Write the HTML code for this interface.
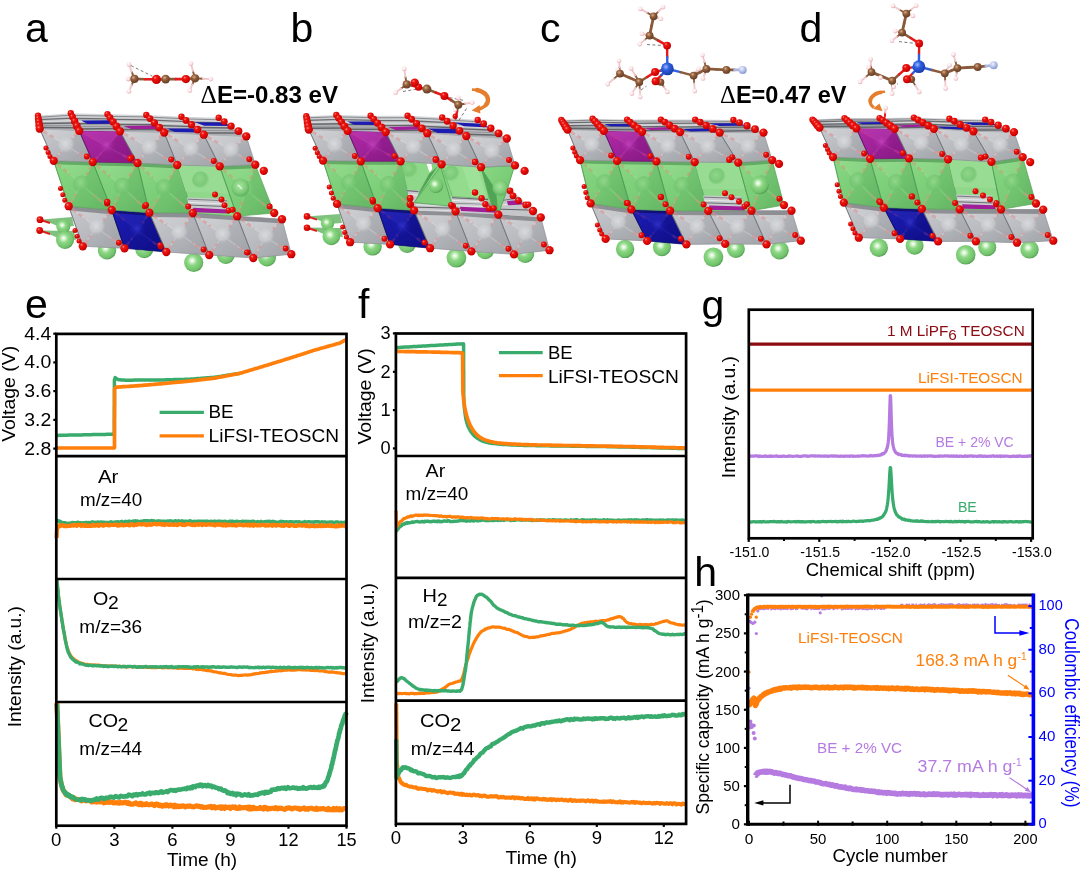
<!DOCTYPE html>
<html><head><meta charset="utf-8"><title>Figure</title>
<style>
html,body{margin:0;padding:0;background:#fff;}
svg{display:block;font-family:"Liberation Sans",Arial,sans-serif;}
</style></head><body>
<svg width="1080" height="871" viewBox="0 0 1080 871">
<rect width="1080" height="871" fill="#fff"/>
<defs>
<radialGradient id="gO" cx="0.36" cy="0.32" r="0.8"><stop offset="0" stop-color="#ff9088"/><stop offset="0.22" stop-color="#ee1812"/><stop offset="0.75" stop-color="#d00000"/><stop offset="1" stop-color="#900000"/></radialGradient>
<radialGradient id="gLi" cx="0.42" cy="0.4" r="0.66"><stop offset="0" stop-color="#ffffff"/><stop offset="0.13" stop-color="#dcf6d6"/><stop offset="0.38" stop-color="#8cd784"/><stop offset="0.78" stop-color="#70c16a"/><stop offset="1" stop-color="#448c47"/></radialGradient>
<radialGradient id="gLi2" cx="0.45" cy="0.42" r="0.62"><stop offset="0" stop-color="#a9e6a2"/><stop offset="0.6" stop-color="#7fcc79"/><stop offset="1" stop-color="#5aa95c"/></radialGradient>
<radialGradient id="gC" cx="0.38" cy="0.34" r="0.75"><stop offset="0" stop-color="#d9b08a"/><stop offset="0.35" stop-color="#95603d"/><stop offset="1" stop-color="#5a3520"/></radialGradient>
<radialGradient id="gH" cx="0.4" cy="0.36" r="0.75"><stop offset="0" stop-color="#ffffff"/><stop offset="0.5" stop-color="#fae0e3"/><stop offset="1" stop-color="#d8949e"/></radialGradient>
<radialGradient id="gSi" cx="0.38" cy="0.34" r="0.75"><stop offset="0" stop-color="#9db8ff"/><stop offset="0.35" stop-color="#2f5fe0"/><stop offset="1" stop-color="#1635a0"/></radialGradient>
<radialGradient id="gN" cx="0.38" cy="0.34" r="0.75"><stop offset="0" stop-color="#f0f4ff"/><stop offset="0.5" stop-color="#b4c0ea"/><stop offset="1" stop-color="#8090c8"/></radialGradient>
<radialGradient id="sG" cx="0.42" cy="0.4" r="0.6"><stop offset="0" stop-color="#d8dadd" stop-opacity="0.95"/><stop offset="0.65" stop-color="#c8cace" stop-opacity="0.85"/><stop offset="0.9" stop-color="#b6b8bd" stop-opacity="0.5"/><stop offset="1" stop-color="#b4b6bb" stop-opacity="0"/></radialGradient>
<radialGradient id="sGr" cx="0.42" cy="0.4" r="0.6"><stop offset="0" stop-color="#8fd68a" stop-opacity="0.9"/><stop offset="0.7" stop-color="#72c470" stop-opacity="0.75"/><stop offset="1" stop-color="#6cbc6a" stop-opacity="0"/></radialGradient>
<radialGradient id="sP" cx="0.42" cy="0.4" r="0.6"><stop offset="0" stop-color="#c040b8" stop-opacity="0.9"/><stop offset="1" stop-color="#a0209a" stop-opacity="0"/></radialGradient>
<radialGradient id="sB" cx="0.42" cy="0.4" r="0.6"><stop offset="0" stop-color="#3030c8" stop-opacity="0.9"/><stop offset="1" stop-color="#1414a0" stop-opacity="0"/></radialGradient>
<linearGradient id="lgG" x1="0" y1="0" x2="1" y2="1"><stop offset="0" stop-color="#c8cace"/><stop offset="0.5" stop-color="#b8babf"/><stop offset="1" stop-color="#a3a5ab"/></linearGradient>
<linearGradient id="lgGr" x1="0" y1="0" x2="1" y2="1"><stop offset="0" stop-color="#8ad984"/><stop offset="0.5" stop-color="#7bcd77"/><stop offset="1" stop-color="#66b866"/></linearGradient>
<linearGradient id="lgP" x1="0" y1="0" x2="1" y2="1"><stop offset="0" stop-color="#b02aa8"/><stop offset="1" stop-color="#8c1a88"/></linearGradient>
<linearGradient id="lgB" x1="0" y1="0" x2="1" y2="1"><stop offset="0" stop-color="#1c1cb4"/><stop offset="1" stop-color="#10108c"/></linearGradient>
<linearGradient id="lgTop" x1="0" y1="0" x2="0" y2="1"><stop offset="0" stop-color="#d6d7da"/><stop offset="1" stop-color="#a9abb0"/></linearGradient>
</defs>
<circle cx="107.0" cy="250.3" r="9.20" fill="url(#gLi)"/>
<circle cx="144.2" cy="249.2" r="9.00" fill="url(#gLi)"/>
<circle cx="193.7" cy="262.5" r="9.60" fill="url(#gLi)"/>
<circle cx="225.8" cy="255.0" r="9.00" fill="url(#gLi)"/>
<circle cx="267.0" cy="257.5" r="9.00" fill="url(#gLi)"/>
<polygon points="42.0,219.5 72.0,217.0 74.0,226.0 60.0,227.0" fill="#68b668" opacity="0.85"/>
<polygon points="41.0,230.5 74.0,231.0 76.0,240.0 58.0,238.0" fill="#68b668" opacity="0.85"/>
<circle cx="63.3" cy="226.5" r="7.00" fill="url(#gLi)"/>
<circle cx="65.0" cy="240.0" r="9.00" fill="url(#gLi)"/>
<line x1="40.0" y1="219.7" x2="50.0" y2="223.0" stroke="#e02020" stroke-width="2.0" stroke-linecap="butt"/>
<line x1="39.7" y1="230.5" x2="50.0" y2="234.0" stroke="#e02020" stroke-width="2.0" stroke-linecap="butt"/>
<circle cx="40.0" cy="219.7" r="3.40" fill="url(#gO)"/>
<circle cx="39.7" cy="230.5" r="3.40" fill="url(#gO)"/>
<polygon points="68.7,206.2 111.7,210.0 124.5,248.3 82.8,246.3" fill="url(#lgG)" stroke="#8e9096" stroke-width="0.7" stroke-linejoin="round"/>
<line x1="68.7" y1="206.2" x2="82.8" y2="246.3" stroke="#505256" stroke-width="0.9" opacity="0.6" stroke-linecap="butt"/>
<polygon points="111.7,210.0 124.5,248.3 96.9,227.7" fill="#8f9197" opacity="0.22"/>
<polygon points="124.5,248.3 82.8,246.3 96.9,227.7" fill="#8f9197" opacity="0.12"/>
<polygon points="68.7,206.2 111.7,210.0 96.9,227.7" fill="#ffffff" opacity="0.16"/>
<line x1="68.7" y1="206.2" x2="96.9" y2="227.7" stroke="#e6e7ea" stroke-width="1.4" opacity="0.3" stroke-linecap="butt"/>
<line x1="111.7" y1="210.0" x2="96.9" y2="227.7" stroke="#e6e7ea" stroke-width="1.4" opacity="0.3" stroke-linecap="butt"/>
<line x1="124.5" y1="248.3" x2="96.9" y2="227.7" stroke="#e6e7ea" stroke-width="1.4" opacity="0.3" stroke-linecap="butt"/>
<line x1="82.8" y1="246.3" x2="96.9" y2="227.7" stroke="#e6e7ea" stroke-width="1.4" opacity="0.3" stroke-linecap="butt"/>
<polygon points="68.7,206.2 111.7,210.0 113.4,214.4 70.4,210.6" fill="#66686c" opacity="0.6"/>
<line x1="72.7" y1="209.2" x2="85.1" y2="218.7" stroke="#dc8c8c" stroke-width="2.6" stroke-dasharray="4.6 2.8" opacity="0.55" stroke-linecap="butt"/>
<line x1="109.6" y1="212.5" x2="103.1" y2="220.3" stroke="#dc8c8c" stroke-width="2.6" stroke-dasharray="4.6 2.8" opacity="0.55" stroke-linecap="butt"/>
<line x1="120.6" y1="245.4" x2="108.5" y2="236.4" stroke="#dc8c8c" stroke-width="2.6" stroke-dasharray="4.6 2.8" opacity="0.55" stroke-linecap="butt"/>
<line x1="84.8" y1="243.7" x2="91.0" y2="235.5" stroke="#dc8c8c" stroke-width="2.6" stroke-dasharray="4.6 2.8" opacity="0.55" stroke-linecap="butt"/>
<circle cx="97.2" cy="227.2" r="8.30" fill="url(#sG)"/>
<polygon points="111.7,210.0 149.4,212.7 166.3,252.0 124.5,248.3" fill="url(#lgB)" stroke="#0a0a70" stroke-width="0.7" stroke-linejoin="round"/>
<line x1="111.7" y1="210.0" x2="124.5" y2="248.3" stroke="#050550" stroke-width="0.9" opacity="0.6" stroke-linecap="butt"/>
<polygon points="149.4,212.7 166.3,252.0 138.0,230.8" fill="#08086a" opacity="0.22"/>
<polygon points="166.3,252.0 124.5,248.3 138.0,230.8" fill="#08086a" opacity="0.12"/>
<polygon points="111.7,210.0 149.4,212.7 138.0,230.8" fill="#4848d8" opacity="0.16"/>
<line x1="111.7" y1="210.0" x2="138.0" y2="230.8" stroke="#3434c0" stroke-width="1.4" opacity="0.3" stroke-linecap="butt"/>
<line x1="149.4" y1="212.7" x2="138.0" y2="230.8" stroke="#3434c0" stroke-width="1.4" opacity="0.3" stroke-linecap="butt"/>
<line x1="166.3" y1="252.0" x2="138.0" y2="230.8" stroke="#3434c0" stroke-width="1.4" opacity="0.3" stroke-linecap="butt"/>
<line x1="124.5" y1="248.3" x2="138.0" y2="230.8" stroke="#3434c0" stroke-width="1.4" opacity="0.3" stroke-linecap="butt"/>
<polygon points="111.7,210.0 149.4,212.7 150.5,215.7 112.8,213.0" fill="#060650" opacity="0.6"/>
<line x1="115.4" y1="212.9" x2="126.9" y2="222.0" stroke="#5a2890" stroke-width="2.6" stroke-dasharray="4.6 2.8" opacity="0.55" stroke-linecap="butt"/>
<line x1="147.8" y1="215.2" x2="142.8" y2="223.2" stroke="#5a2890" stroke-width="2.6" stroke-dasharray="4.6 2.8" opacity="0.55" stroke-linecap="butt"/>
<line x1="162.3" y1="249.0" x2="149.9" y2="239.7" stroke="#5a2890" stroke-width="2.6" stroke-dasharray="4.6 2.8" opacity="0.55" stroke-linecap="butt"/>
<line x1="126.4" y1="245.8" x2="132.3" y2="238.1" stroke="#5a2890" stroke-width="2.6" stroke-dasharray="4.6 2.8" opacity="0.55" stroke-linecap="butt"/>
<circle cx="138.3" cy="230.2" r="8.30" fill="url(#sB)"/>
<polygon points="149.4,212.7 192.8,213.0 209.2,255.0 166.3,252.0" fill="url(#lgG)" stroke="#8e9096" stroke-width="0.7" stroke-linejoin="round"/>
<line x1="149.4" y1="212.7" x2="166.3" y2="252.0" stroke="#505256" stroke-width="0.9" opacity="0.6" stroke-linecap="butt"/>
<polygon points="192.8,213.0 209.2,255.0 179.4,233.2" fill="#8f9197" opacity="0.22"/>
<polygon points="209.2,255.0 166.3,252.0 179.4,233.2" fill="#8f9197" opacity="0.12"/>
<polygon points="149.4,212.7 192.8,213.0 179.4,233.2" fill="#ffffff" opacity="0.16"/>
<line x1="149.4" y1="212.7" x2="179.4" y2="233.2" stroke="#e6e7ea" stroke-width="1.4" opacity="0.3" stroke-linecap="butt"/>
<line x1="192.8" y1="213.0" x2="179.4" y2="233.2" stroke="#e6e7ea" stroke-width="1.4" opacity="0.3" stroke-linecap="butt"/>
<line x1="209.2" y1="255.0" x2="179.4" y2="233.2" stroke="#e6e7ea" stroke-width="1.4" opacity="0.3" stroke-linecap="butt"/>
<line x1="166.3" y1="252.0" x2="179.4" y2="233.2" stroke="#e6e7ea" stroke-width="1.4" opacity="0.3" stroke-linecap="butt"/>
<polygon points="149.4,212.7 192.8,213.0 194.5,217.4 151.1,217.1" fill="#66686c" opacity="0.6"/>
<line x1="153.6" y1="215.6" x2="166.8" y2="224.6" stroke="#dc8c8c" stroke-width="2.6" stroke-dasharray="4.6 2.8" opacity="0.55" stroke-linecap="butt"/>
<line x1="190.9" y1="215.8" x2="185.0" y2="224.7" stroke="#dc8c8c" stroke-width="2.6" stroke-dasharray="4.6 2.8" opacity="0.55" stroke-linecap="butt"/>
<line x1="205.0" y1="251.9" x2="191.9" y2="242.3" stroke="#dc8c8c" stroke-width="2.6" stroke-dasharray="4.6 2.8" opacity="0.55" stroke-linecap="butt"/>
<line x1="168.1" y1="249.4" x2="173.9" y2="241.1" stroke="#dc8c8c" stroke-width="2.6" stroke-dasharray="4.6 2.8" opacity="0.55" stroke-linecap="butt"/>
<circle cx="179.7" cy="232.7" r="8.30" fill="url(#sG)"/>
<polygon points="192.8,213.0 237.2,216.2 253.3,258.0 209.2,255.0" fill="url(#lgG)" stroke="#8e9096" stroke-width="0.7" stroke-linejoin="round"/>
<line x1="192.8" y1="213.0" x2="209.2" y2="255.0" stroke="#505256" stroke-width="0.9" opacity="0.6" stroke-linecap="butt"/>
<polygon points="237.2,216.2 253.3,258.0 223.1,235.6" fill="#8f9197" opacity="0.22"/>
<polygon points="253.3,258.0 209.2,255.0 223.1,235.6" fill="#8f9197" opacity="0.12"/>
<polygon points="192.8,213.0 237.2,216.2 223.1,235.6" fill="#ffffff" opacity="0.16"/>
<line x1="192.8" y1="213.0" x2="223.1" y2="235.6" stroke="#e6e7ea" stroke-width="1.4" opacity="0.3" stroke-linecap="butt"/>
<line x1="237.2" y1="216.2" x2="223.1" y2="235.6" stroke="#e6e7ea" stroke-width="1.4" opacity="0.3" stroke-linecap="butt"/>
<line x1="253.3" y1="258.0" x2="223.1" y2="235.6" stroke="#e6e7ea" stroke-width="1.4" opacity="0.3" stroke-linecap="butt"/>
<line x1="209.2" y1="255.0" x2="223.1" y2="235.6" stroke="#e6e7ea" stroke-width="1.4" opacity="0.3" stroke-linecap="butt"/>
<polygon points="192.8,213.0 237.2,216.2 238.9,220.6 194.5,217.4" fill="#66686c" opacity="0.6"/>
<line x1="197.0" y1="216.2" x2="210.4" y2="226.1" stroke="#dc8c8c" stroke-width="2.6" stroke-dasharray="4.6 2.8" opacity="0.55" stroke-linecap="butt"/>
<line x1="235.2" y1="218.9" x2="229.0" y2="227.4" stroke="#dc8c8c" stroke-width="2.6" stroke-dasharray="4.6 2.8" opacity="0.55" stroke-linecap="butt"/>
<line x1="249.1" y1="254.9" x2="235.8" y2="245.0" stroke="#dc8c8c" stroke-width="2.6" stroke-dasharray="4.6 2.8" opacity="0.55" stroke-linecap="butt"/>
<line x1="211.1" y1="252.3" x2="217.3" y2="243.7" stroke="#dc8c8c" stroke-width="2.6" stroke-dasharray="4.6 2.8" opacity="0.55" stroke-linecap="butt"/>
<circle cx="223.4" cy="235.1" r="8.30" fill="url(#sG)"/>
<polygon points="237.2,216.2 282.0,219.2 291.3,254.2 253.3,258.0" fill="url(#lgG)" stroke="#8e9096" stroke-width="0.7" stroke-linejoin="round"/>
<line x1="237.2" y1="216.2" x2="253.3" y2="258.0" stroke="#505256" stroke-width="0.9" opacity="0.6" stroke-linecap="butt"/>
<polygon points="282.0,219.2 291.3,254.2 266.0,236.9" fill="#8f9197" opacity="0.22"/>
<polygon points="291.3,254.2 253.3,258.0 266.0,236.9" fill="#8f9197" opacity="0.12"/>
<polygon points="237.2,216.2 282.0,219.2 266.0,236.9" fill="#ffffff" opacity="0.16"/>
<line x1="237.2" y1="216.2" x2="266.0" y2="236.9" stroke="#e6e7ea" stroke-width="1.4" opacity="0.3" stroke-linecap="butt"/>
<line x1="282.0" y1="219.2" x2="266.0" y2="236.9" stroke="#e6e7ea" stroke-width="1.4" opacity="0.3" stroke-linecap="butt"/>
<line x1="291.3" y1="254.2" x2="266.0" y2="236.9" stroke="#e6e7ea" stroke-width="1.4" opacity="0.3" stroke-linecap="butt"/>
<line x1="253.3" y1="258.0" x2="266.0" y2="236.9" stroke="#e6e7ea" stroke-width="1.4" opacity="0.3" stroke-linecap="butt"/>
<polygon points="237.2,216.2 282.0,219.2 283.7,223.6 238.9,220.6" fill="#66686c" opacity="0.6"/>
<line x1="241.2" y1="219.1" x2="253.9" y2="228.2" stroke="#dc8c8c" stroke-width="2.6" stroke-dasharray="4.6 2.8" opacity="0.55" stroke-linecap="butt"/>
<line x1="279.8" y1="221.7" x2="272.7" y2="229.5" stroke="#dc8c8c" stroke-width="2.6" stroke-dasharray="4.6 2.8" opacity="0.55" stroke-linecap="butt"/>
<line x1="287.8" y1="251.8" x2="276.6" y2="244.2" stroke="#dc8c8c" stroke-width="2.6" stroke-dasharray="4.6 2.8" opacity="0.55" stroke-linecap="butt"/>
<line x1="255.1" y1="255.0" x2="260.6" y2="245.8" stroke="#dc8c8c" stroke-width="2.6" stroke-dasharray="4.6 2.8" opacity="0.55" stroke-linecap="butt"/>
<circle cx="266.3" cy="236.4" r="8.30" fill="url(#sG)"/>
<polygon points="53.7,160.8 92.8,162.0 111.7,210.0 68.7,206.2" fill="url(#lgGr)" stroke="#5aa85c" stroke-width="0.7" stroke-linejoin="round"/>
<line x1="53.7" y1="160.8" x2="68.7" y2="206.2" stroke="#3f8a46" stroke-width="0.9" opacity="0.6" stroke-linecap="butt"/>
<polygon points="92.8,162.0 111.7,210.0 81.7,184.8" fill="#4f9f55" opacity="0.22"/>
<polygon points="111.7,210.0 68.7,206.2 81.7,184.8" fill="#4f9f55" opacity="0.12"/>
<polygon points="53.7,160.8 92.8,162.0 81.7,184.8" fill="#c8f5c2" opacity="0.16"/>
<line x1="53.7" y1="160.8" x2="81.7" y2="184.8" stroke="#a6e6a0" stroke-width="1.4" opacity="0.3" stroke-linecap="butt"/>
<line x1="92.8" y1="162.0" x2="81.7" y2="184.8" stroke="#a6e6a0" stroke-width="1.4" opacity="0.3" stroke-linecap="butt"/>
<line x1="111.7" y1="210.0" x2="81.7" y2="184.8" stroke="#a6e6a0" stroke-width="1.4" opacity="0.3" stroke-linecap="butt"/>
<line x1="68.7" y1="206.2" x2="81.7" y2="184.8" stroke="#a6e6a0" stroke-width="1.4" opacity="0.3" stroke-linecap="butt"/>
<polygon points="53.7,160.8 92.8,162.0 94.1,165.4 55.0,164.2" fill="#478c4e" opacity="0.6"/>
<line x1="57.6" y1="164.2" x2="70.0" y2="174.7" stroke="#c99a74" stroke-width="2.6" stroke-dasharray="4.6 2.8" opacity="0.55" stroke-linecap="butt"/>
<line x1="91.2" y1="165.2" x2="86.4" y2="175.2" stroke="#c99a74" stroke-width="2.6" stroke-dasharray="4.6 2.8" opacity="0.55" stroke-linecap="butt"/>
<line x1="107.5" y1="206.5" x2="94.3" y2="195.4" stroke="#c99a74" stroke-width="2.6" stroke-dasharray="4.6 2.8" opacity="0.55" stroke-linecap="butt"/>
<line x1="70.5" y1="203.2" x2="76.3" y2="193.8" stroke="#c99a74" stroke-width="2.6" stroke-dasharray="4.6 2.8" opacity="0.55" stroke-linecap="butt"/>
<circle cx="82.0" cy="184.2" r="9.00" fill="url(#sGr)"/>
<polygon points="92.8,162.0 137.5,163.0 149.4,212.7 111.7,210.0" fill="url(#lgGr)" stroke="#5aa85c" stroke-width="0.7" stroke-linejoin="round"/>
<line x1="92.8" y1="162.0" x2="111.7" y2="210.0" stroke="#3f8a46" stroke-width="0.9" opacity="0.6" stroke-linecap="butt"/>
<polygon points="137.5,163.0 149.4,212.7 122.8,186.9" fill="#4f9f55" opacity="0.22"/>
<polygon points="149.4,212.7 111.7,210.0 122.8,186.9" fill="#4f9f55" opacity="0.12"/>
<polygon points="92.8,162.0 137.5,163.0 122.8,186.9" fill="#c8f5c2" opacity="0.16"/>
<line x1="92.8" y1="162.0" x2="122.8" y2="186.9" stroke="#a6e6a0" stroke-width="1.4" opacity="0.3" stroke-linecap="butt"/>
<line x1="137.5" y1="163.0" x2="122.8" y2="186.9" stroke="#a6e6a0" stroke-width="1.4" opacity="0.3" stroke-linecap="butt"/>
<line x1="149.4" y1="212.7" x2="122.8" y2="186.9" stroke="#a6e6a0" stroke-width="1.4" opacity="0.3" stroke-linecap="butt"/>
<line x1="111.7" y1="210.0" x2="122.8" y2="186.9" stroke="#a6e6a0" stroke-width="1.4" opacity="0.3" stroke-linecap="butt"/>
<polygon points="92.8,162.0 137.5,163.0 138.8,166.4 94.1,165.4" fill="#478c4e" opacity="0.6"/>
<line x1="97.0" y1="165.5" x2="110.2" y2="176.5" stroke="#c99a74" stroke-width="2.6" stroke-dasharray="4.6 2.8" opacity="0.55" stroke-linecap="butt"/>
<line x1="135.4" y1="166.3" x2="129.0" y2="176.9" stroke="#c99a74" stroke-width="2.6" stroke-dasharray="4.6 2.8" opacity="0.55" stroke-linecap="butt"/>
<line x1="145.7" y1="209.1" x2="134.0" y2="197.8" stroke="#c99a74" stroke-width="2.6" stroke-dasharray="4.6 2.8" opacity="0.55" stroke-linecap="butt"/>
<line x1="113.3" y1="206.8" x2="118.2" y2="196.6" stroke="#c99a74" stroke-width="2.6" stroke-dasharray="4.6 2.8" opacity="0.55" stroke-linecap="butt"/>
<circle cx="123.1" cy="186.4" r="9.00" fill="url(#sGr)"/>
<polygon points="137.5,163.0 177.2,165.0 192.8,213.0 149.4,212.7" fill="url(#lgGr)" stroke="#5aa85c" stroke-width="0.7" stroke-linejoin="round"/>
<line x1="137.5" y1="163.0" x2="149.4" y2="212.7" stroke="#3f8a46" stroke-width="0.9" opacity="0.6" stroke-linecap="butt"/>
<polygon points="177.2,165.0 192.8,213.0 164.2,188.4" fill="#4f9f55" opacity="0.22"/>
<polygon points="192.8,213.0 149.4,212.7 164.2,188.4" fill="#4f9f55" opacity="0.12"/>
<polygon points="137.5,163.0 177.2,165.0 164.2,188.4" fill="#c8f5c2" opacity="0.16"/>
<line x1="137.5" y1="163.0" x2="164.2" y2="188.4" stroke="#a6e6a0" stroke-width="1.4" opacity="0.3" stroke-linecap="butt"/>
<line x1="177.2" y1="165.0" x2="164.2" y2="188.4" stroke="#a6e6a0" stroke-width="1.4" opacity="0.3" stroke-linecap="butt"/>
<line x1="192.8" y1="213.0" x2="164.2" y2="188.4" stroke="#a6e6a0" stroke-width="1.4" opacity="0.3" stroke-linecap="butt"/>
<line x1="149.4" y1="212.7" x2="164.2" y2="188.4" stroke="#a6e6a0" stroke-width="1.4" opacity="0.3" stroke-linecap="butt"/>
<polygon points="137.5,163.0 177.2,165.0 178.5,168.4 138.8,166.4" fill="#478c4e" opacity="0.6"/>
<line x1="141.2" y1="166.6" x2="153.0" y2="177.7" stroke="#c99a74" stroke-width="2.6" stroke-dasharray="4.6 2.8" opacity="0.55" stroke-linecap="butt"/>
<line x1="175.4" y1="168.3" x2="169.7" y2="178.6" stroke="#c99a74" stroke-width="2.6" stroke-dasharray="4.6 2.8" opacity="0.55" stroke-linecap="butt"/>
<line x1="188.8" y1="209.6" x2="176.2" y2="198.7" stroke="#c99a74" stroke-width="2.6" stroke-dasharray="4.6 2.8" opacity="0.55" stroke-linecap="butt"/>
<line x1="151.5" y1="209.3" x2="158.0" y2="198.6" stroke="#c99a74" stroke-width="2.6" stroke-dasharray="4.6 2.8" opacity="0.55" stroke-linecap="butt"/>
<circle cx="164.5" cy="187.9" r="9.00" fill="url(#sGr)"/>
<polygon points="177.2,165.0 219.7,166.3 237.2,216.2 192.8,213.0" fill="#8fd88a" stroke="#5aa85c" stroke-width="0.6" stroke-linejoin="round"/>
<polygon points="177.2,165.0 219.7,166.3 229.3,193.7 185.8,191.4" fill="#97dc92"/>
<circle cx="200.7" cy="180.1" r="8.50" fill="url(#sGr)"/>
<polygon points="219.7,166.3 255.3,164.7 274.2,213.0 237.2,216.2" fill="url(#lgGr)" stroke="#5aa85c" stroke-width="0.7" stroke-linejoin="round"/>
<line x1="219.7" y1="166.3" x2="237.2" y2="216.2" stroke="#3f8a46" stroke-width="0.9" opacity="0.6" stroke-linecap="butt"/>
<polygon points="255.3,164.7 274.2,213.0 246.6,190.1" fill="#4f9f55" opacity="0.22"/>
<polygon points="274.2,213.0 237.2,216.2 246.6,190.1" fill="#4f9f55" opacity="0.12"/>
<polygon points="219.7,166.3 255.3,164.7 246.6,190.1" fill="#c8f5c2" opacity="0.16"/>
<line x1="219.7" y1="166.3" x2="246.6" y2="190.1" stroke="#a6e6a0" stroke-width="1.4" opacity="0.3" stroke-linecap="butt"/>
<line x1="255.3" y1="164.7" x2="246.6" y2="190.1" stroke="#a6e6a0" stroke-width="1.4" opacity="0.3" stroke-linecap="butt"/>
<line x1="274.2" y1="213.0" x2="246.6" y2="190.1" stroke="#a6e6a0" stroke-width="1.4" opacity="0.3" stroke-linecap="butt"/>
<line x1="237.2" y1="216.2" x2="246.6" y2="190.1" stroke="#a6e6a0" stroke-width="1.4" opacity="0.3" stroke-linecap="butt"/>
<polygon points="219.7,166.3 255.3,164.7 256.6,168.1 221.0,169.7" fill="#478c4e" opacity="0.6"/>
<line x1="223.5" y1="169.6" x2="235.3" y2="180.1" stroke="#c99a74" stroke-width="2.6" stroke-dasharray="4.6 2.8" opacity="0.55" stroke-linecap="butt"/>
<line x1="254.1" y1="168.2" x2="250.3" y2="179.4" stroke="#c99a74" stroke-width="2.6" stroke-dasharray="4.6 2.8" opacity="0.55" stroke-linecap="butt"/>
<line x1="270.3" y1="209.8" x2="258.2" y2="199.7" stroke="#c99a74" stroke-width="2.6" stroke-dasharray="4.6 2.8" opacity="0.55" stroke-linecap="butt"/>
<line x1="238.5" y1="212.5" x2="242.7" y2="201.0" stroke="#c99a74" stroke-width="2.6" stroke-dasharray="4.6 2.8" opacity="0.55" stroke-linecap="butt"/>
<circle cx="246.9" cy="189.6" r="9.00" fill="url(#sGr)"/>
<polygon points="187.0,197.5 226.0,199.0 229.0,212.5 190.0,211.5" fill="#c9cbcf"/>
<line x1="188.0" y1="199.2" x2="227.0" y2="200.8" stroke="#7a7c80" stroke-width="1.0" stroke-linecap="butt"/>
<line x1="188.0" y1="202.4" x2="227.0" y2="204.0" stroke="#e8e9eb" stroke-width="1.0" stroke-linecap="butt"/>
<line x1="188.0" y1="205.0" x2="227.0" y2="206.6" stroke="#6a6c70" stroke-width="1.0" stroke-linecap="butt"/>
<polygon points="193.0,207.8 227.0,209.6 229.0,213.4 194.0,212.2" fill="#a01e98"/>
<circle cx="215.0" cy="194.5" r="3.00" fill="url(#gO)"/>
<circle cx="221.5" cy="199.5" r="3.00" fill="url(#gO)"/>
<circle cx="224.5" cy="205.2" r="3.00" fill="url(#gO)"/>
<circle cx="228.5" cy="210.5" r="3.00" fill="url(#gO)"/>
<polygon points="39.7,128.7 79.2,130.8 92.8,162.0 53.7,160.8" fill="url(#lgG)" stroke="#8e9096" stroke-width="0.7" stroke-linejoin="round"/>
<line x1="39.7" y1="128.7" x2="53.7" y2="160.8" stroke="#505256" stroke-width="0.9" opacity="0.6" stroke-linecap="butt"/>
<polygon points="79.2,130.8 92.8,162.0 66.3,145.6" fill="#8f9197" opacity="0.22"/>
<polygon points="92.8,162.0 53.7,160.8 66.3,145.6" fill="#8f9197" opacity="0.12"/>
<polygon points="39.7,128.7 79.2,130.8 66.3,145.6" fill="#ffffff" opacity="0.16"/>
<line x1="39.7" y1="128.7" x2="66.3" y2="145.6" stroke="#e6e7ea" stroke-width="1.4" opacity="0.3" stroke-linecap="butt"/>
<line x1="79.2" y1="130.8" x2="66.3" y2="145.6" stroke="#e6e7ea" stroke-width="1.4" opacity="0.3" stroke-linecap="butt"/>
<line x1="92.8" y1="162.0" x2="66.3" y2="145.6" stroke="#e6e7ea" stroke-width="1.4" opacity="0.3" stroke-linecap="butt"/>
<line x1="53.7" y1="160.8" x2="66.3" y2="145.6" stroke="#e6e7ea" stroke-width="1.4" opacity="0.3" stroke-linecap="butt"/>
<line x1="43.4" y1="131.1" x2="55.2" y2="138.5" stroke="#dc8c8c" stroke-width="2.6" stroke-dasharray="4.6 2.8" opacity="0.55" stroke-linecap="butt"/>
<line x1="77.4" y1="132.9" x2="71.7" y2="139.4" stroke="#dc8c8c" stroke-width="2.6" stroke-dasharray="4.6 2.8" opacity="0.55" stroke-linecap="butt"/>
<line x1="89.1" y1="159.7" x2="77.5" y2="152.5" stroke="#dc8c8c" stroke-width="2.6" stroke-dasharray="4.6 2.8" opacity="0.55" stroke-linecap="butt"/>
<line x1="55.5" y1="158.7" x2="61.0" y2="152.0" stroke="#dc8c8c" stroke-width="2.6" stroke-dasharray="4.6 2.8" opacity="0.55" stroke-linecap="butt"/>
<circle cx="66.6" cy="145.1" r="8.30" fill="url(#sG)"/>
<polygon points="79.2,130.8 120.0,131.3 137.5,163.0 92.8,162.0" fill="url(#lgP)" stroke="#701070" stroke-width="0.7" stroke-linejoin="round"/>
<line x1="79.2" y1="130.8" x2="92.8" y2="162.0" stroke="#500a50" stroke-width="0.9" opacity="0.6" stroke-linecap="butt"/>
<polygon points="120.0,131.3 137.5,163.0 107.4,146.8" fill="#6c0f6c" opacity="0.22"/>
<polygon points="137.5,163.0 92.8,162.0 107.4,146.8" fill="#6c0f6c" opacity="0.12"/>
<polygon points="79.2,130.8 120.0,131.3 107.4,146.8" fill="#e070d8" opacity="0.16"/>
<line x1="79.2" y1="130.8" x2="107.4" y2="146.8" stroke="#c050b8" stroke-width="1.4" opacity="0.3" stroke-linecap="butt"/>
<line x1="120.0" y1="131.3" x2="107.4" y2="146.8" stroke="#c050b8" stroke-width="1.4" opacity="0.3" stroke-linecap="butt"/>
<line x1="137.5" y1="163.0" x2="107.4" y2="146.8" stroke="#c050b8" stroke-width="1.4" opacity="0.3" stroke-linecap="butt"/>
<line x1="92.8" y1="162.0" x2="107.4" y2="146.8" stroke="#c050b8" stroke-width="1.4" opacity="0.3" stroke-linecap="butt"/>
<line x1="83.1" y1="133.0" x2="95.5" y2="140.1" stroke="#c2308a" stroke-width="2.6" stroke-dasharray="4.6 2.8" opacity="0.55" stroke-linecap="butt"/>
<line x1="118.2" y1="133.5" x2="112.7" y2="140.3" stroke="#c2308a" stroke-width="2.6" stroke-dasharray="4.6 2.8" opacity="0.55" stroke-linecap="butt"/>
<line x1="133.3" y1="160.7" x2="120.0" y2="153.6" stroke="#c2308a" stroke-width="2.6" stroke-dasharray="4.6 2.8" opacity="0.55" stroke-linecap="butt"/>
<line x1="94.8" y1="159.9" x2="101.3" y2="153.2" stroke="#c2308a" stroke-width="2.6" stroke-dasharray="4.6 2.8" opacity="0.55" stroke-linecap="butt"/>
<circle cx="107.7" cy="146.3" r="8.30" fill="url(#sP)"/>
<polygon points="120.0,131.3 164.2,132.5 177.2,165.0 137.5,163.0" fill="url(#lgG)" stroke="#8e9096" stroke-width="0.7" stroke-linejoin="round"/>
<line x1="120.0" y1="131.3" x2="137.5" y2="163.0" stroke="#505256" stroke-width="0.9" opacity="0.6" stroke-linecap="butt"/>
<polygon points="164.2,132.5 177.2,165.0 149.7,147.9" fill="#8f9197" opacity="0.22"/>
<polygon points="177.2,165.0 137.5,163.0 149.7,147.9" fill="#8f9197" opacity="0.12"/>
<polygon points="120.0,131.3 164.2,132.5 149.7,147.9" fill="#ffffff" opacity="0.16"/>
<line x1="120.0" y1="131.3" x2="149.7" y2="147.9" stroke="#e6e7ea" stroke-width="1.4" opacity="0.3" stroke-linecap="butt"/>
<line x1="164.2" y1="132.5" x2="149.7" y2="147.9" stroke="#e6e7ea" stroke-width="1.4" opacity="0.3" stroke-linecap="butt"/>
<line x1="177.2" y1="165.0" x2="149.7" y2="147.9" stroke="#e6e7ea" stroke-width="1.4" opacity="0.3" stroke-linecap="butt"/>
<line x1="137.5" y1="163.0" x2="149.7" y2="147.9" stroke="#e6e7ea" stroke-width="1.4" opacity="0.3" stroke-linecap="butt"/>
<line x1="124.2" y1="133.6" x2="137.2" y2="141.0" stroke="#dc8c8c" stroke-width="2.6" stroke-dasharray="4.6 2.8" opacity="0.55" stroke-linecap="butt"/>
<line x1="162.2" y1="134.7" x2="155.8" y2="141.5" stroke="#dc8c8c" stroke-width="2.6" stroke-dasharray="4.6 2.8" opacity="0.55" stroke-linecap="butt"/>
<line x1="173.4" y1="162.6" x2="161.3" y2="155.1" stroke="#dc8c8c" stroke-width="2.6" stroke-dasharray="4.6 2.8" opacity="0.55" stroke-linecap="butt"/>
<line x1="139.2" y1="160.9" x2="144.6" y2="154.3" stroke="#dc8c8c" stroke-width="2.6" stroke-dasharray="4.6 2.8" opacity="0.55" stroke-linecap="butt"/>
<circle cx="150.0" cy="147.4" r="8.30" fill="url(#sG)"/>
<polygon points="164.2,132.5 203.8,134.7 219.7,166.3 177.2,165.0" fill="url(#lgG)" stroke="#8e9096" stroke-width="0.7" stroke-linejoin="round"/>
<line x1="164.2" y1="132.5" x2="177.2" y2="165.0" stroke="#505256" stroke-width="0.9" opacity="0.6" stroke-linecap="butt"/>
<polygon points="203.8,134.7 219.7,166.3 191.2,149.6" fill="#8f9197" opacity="0.22"/>
<polygon points="219.7,166.3 177.2,165.0 191.2,149.6" fill="#8f9197" opacity="0.12"/>
<polygon points="164.2,132.5 203.8,134.7 191.2,149.6" fill="#ffffff" opacity="0.16"/>
<line x1="164.2" y1="132.5" x2="191.2" y2="149.6" stroke="#e6e7ea" stroke-width="1.4" opacity="0.3" stroke-linecap="butt"/>
<line x1="203.8" y1="134.7" x2="191.2" y2="149.6" stroke="#e6e7ea" stroke-width="1.4" opacity="0.3" stroke-linecap="butt"/>
<line x1="219.7" y1="166.3" x2="191.2" y2="149.6" stroke="#e6e7ea" stroke-width="1.4" opacity="0.3" stroke-linecap="butt"/>
<line x1="177.2" y1="165.0" x2="191.2" y2="149.6" stroke="#e6e7ea" stroke-width="1.4" opacity="0.3" stroke-linecap="butt"/>
<line x1="168.0" y1="134.9" x2="179.9" y2="142.4" stroke="#dc8c8c" stroke-width="2.6" stroke-dasharray="4.6 2.8" opacity="0.55" stroke-linecap="butt"/>
<line x1="202.0" y1="136.8" x2="196.5" y2="143.4" stroke="#dc8c8c" stroke-width="2.6" stroke-dasharray="4.6 2.8" opacity="0.55" stroke-linecap="butt"/>
<line x1="215.7" y1="164.0" x2="203.2" y2="156.6" stroke="#dc8c8c" stroke-width="2.6" stroke-dasharray="4.6 2.8" opacity="0.55" stroke-linecap="butt"/>
<line x1="179.2" y1="162.8" x2="185.3" y2="156.1" stroke="#dc8c8c" stroke-width="2.6" stroke-dasharray="4.6 2.8" opacity="0.55" stroke-linecap="butt"/>
<circle cx="191.5" cy="149.1" r="8.30" fill="url(#sG)"/>
<polygon points="203.8,134.7 246.3,136.3 255.3,164.7 219.7,166.3" fill="url(#lgG)" stroke="#8e9096" stroke-width="0.7" stroke-linejoin="round"/>
<line x1="203.8" y1="134.7" x2="219.7" y2="166.3" stroke="#505256" stroke-width="0.9" opacity="0.6" stroke-linecap="butt"/>
<polygon points="246.3,136.3 255.3,164.7 231.3,150.5" fill="#8f9197" opacity="0.22"/>
<polygon points="255.3,164.7 219.7,166.3 231.3,150.5" fill="#8f9197" opacity="0.12"/>
<polygon points="203.8,134.7 246.3,136.3 231.3,150.5" fill="#ffffff" opacity="0.16"/>
<line x1="203.8" y1="134.7" x2="231.3" y2="150.5" stroke="#e6e7ea" stroke-width="1.4" opacity="0.3" stroke-linecap="butt"/>
<line x1="246.3" y1="136.3" x2="231.3" y2="150.5" stroke="#e6e7ea" stroke-width="1.4" opacity="0.3" stroke-linecap="butt"/>
<line x1="255.3" y1="164.7" x2="231.3" y2="150.5" stroke="#e6e7ea" stroke-width="1.4" opacity="0.3" stroke-linecap="butt"/>
<line x1="219.7" y1="166.3" x2="231.3" y2="150.5" stroke="#e6e7ea" stroke-width="1.4" opacity="0.3" stroke-linecap="butt"/>
<line x1="207.6" y1="136.9" x2="219.7" y2="143.9" stroke="#dc8c8c" stroke-width="2.6" stroke-dasharray="4.6 2.8" opacity="0.55" stroke-linecap="butt"/>
<line x1="244.2" y1="138.3" x2="237.6" y2="144.5" stroke="#dc8c8c" stroke-width="2.6" stroke-dasharray="4.6 2.8" opacity="0.55" stroke-linecap="butt"/>
<line x1="251.9" y1="162.7" x2="241.4" y2="156.5" stroke="#dc8c8c" stroke-width="2.6" stroke-dasharray="4.6 2.8" opacity="0.55" stroke-linecap="butt"/>
<line x1="221.3" y1="164.1" x2="226.4" y2="157.1" stroke="#dc8c8c" stroke-width="2.6" stroke-dasharray="4.6 2.8" opacity="0.55" stroke-linecap="butt"/>
<circle cx="231.6" cy="150.0" r="8.30" fill="url(#sG)"/>
<polygon points="38.0,115.8 70.8,113.3 79.2,130.8 39.7,128.7" fill="url(#lgTop)"/>
<line x1="38.2" y1="117.3" x2="71.7" y2="115.2" stroke="#77797d" stroke-width="1.0" opacity="0.8" stroke-linecap="butt"/>
<line x1="38.5" y1="119.7" x2="73.1" y2="118.1" stroke="#55575b" stroke-width="1.3" opacity="0.8" stroke-linecap="butt"/>
<line x1="38.8" y1="121.7" x2="74.4" y2="120.7" stroke="#e4e5e7" stroke-width="0.9" opacity="0.8" stroke-linecap="butt"/>
<line x1="39.0" y1="123.5" x2="75.4" y2="123.0" stroke="#4e5054" stroke-width="1.4" opacity="0.8" stroke-linecap="butt"/>
<line x1="39.3" y1="125.6" x2="76.7" y2="125.5" stroke="#8a8c90" stroke-width="1.0" opacity="0.8" stroke-linecap="butt"/>
<line x1="39.5" y1="127.4" x2="77.8" y2="127.8" stroke="#505256" stroke-width="1.5" opacity="0.8" stroke-linecap="butt"/>
<polygon points="70.8,113.3 107.5,114.2 120.0,131.3 79.2,130.8" fill="url(#lgTop)"/>
<line x1="71.8" y1="115.4" x2="108.9" y2="116.1" stroke="#77797d" stroke-width="1.0" opacity="0.8" stroke-linecap="butt"/>
<line x1="73.3" y1="118.5" x2="111.0" y2="118.9" stroke="#55575b" stroke-width="1.3" opacity="0.8" stroke-linecap="butt"/>
<line x1="74.7" y1="121.4" x2="112.8" y2="121.4" stroke="#e4e5e7" stroke-width="0.9" opacity="0.8" stroke-linecap="butt"/>
<line x1="75.8" y1="123.8" x2="114.4" y2="123.6" stroke="#4e5054" stroke-width="1.4" opacity="0.8" stroke-linecap="butt"/>
<line x1="77.2" y1="126.6" x2="116.2" y2="126.2" stroke="#8a8c90" stroke-width="1.0" opacity="0.8" stroke-linecap="butt"/>
<line x1="78.4" y1="129.1" x2="117.8" y2="128.4" stroke="#505256" stroke-width="1.5" opacity="0.8" stroke-linecap="butt"/>
<polygon points="81.1,120.6 110.1,120.3 113.7,123.7 87.5,124.0" fill="#1c1cb0"/>
<polygon points="107.5,114.2 146.3,115.0 164.2,132.5 120.0,131.3" fill="url(#lgTop)"/>
<line x1="109.0" y1="116.3" x2="148.3" y2="116.9" stroke="#77797d" stroke-width="1.0" opacity="0.8" stroke-linecap="butt"/>
<line x1="111.2" y1="119.3" x2="151.2" y2="119.8" stroke="#55575b" stroke-width="1.3" opacity="0.8" stroke-linecap="butt"/>
<line x1="113.2" y1="122.1" x2="153.9" y2="122.4" stroke="#e4e5e7" stroke-width="0.9" opacity="0.8" stroke-linecap="butt"/>
<line x1="115.0" y1="124.5" x2="156.2" y2="124.7" stroke="#4e5054" stroke-width="1.4" opacity="0.8" stroke-linecap="butt"/>
<line x1="117.0" y1="127.2" x2="158.8" y2="127.2" stroke="#8a8c90" stroke-width="1.0" opacity="0.8" stroke-linecap="butt"/>
<line x1="118.8" y1="129.6" x2="161.1" y2="129.5" stroke="#505256" stroke-width="1.5" opacity="0.8" stroke-linecap="butt"/>
<polygon points="123.6,126.0 154.9,125.5 159.6,128.9 131.1,129.1" fill="#a01e98"/>
<polygon points="146.3,115.0 181.5,116.7 203.8,134.7 164.2,132.5" fill="url(#lgTop)"/>
<line x1="148.4" y1="117.1" x2="184.0" y2="118.7" stroke="#77797d" stroke-width="1.0" opacity="0.8" stroke-linecap="butt"/>
<line x1="151.7" y1="120.2" x2="187.7" y2="121.7" stroke="#55575b" stroke-width="1.3" opacity="0.8" stroke-linecap="butt"/>
<line x1="154.5" y1="123.0" x2="190.9" y2="124.3" stroke="#e4e5e7" stroke-width="0.9" opacity="0.8" stroke-linecap="butt"/>
<line x1="157.0" y1="125.5" x2="193.8" y2="126.6" stroke="#4e5054" stroke-width="1.4" opacity="0.8" stroke-linecap="butt"/>
<line x1="159.9" y1="128.3" x2="197.1" y2="129.3" stroke="#8a8c90" stroke-width="1.0" opacity="0.8" stroke-linecap="butt"/>
<line x1="162.4" y1="130.8" x2="200.0" y2="131.6" stroke="#505256" stroke-width="1.5" opacity="0.8" stroke-linecap="butt"/>
<polygon points="166.7,128.6 194.5,128.6 200.2,132.4 174.9,132.1" fill="#1c1cb0"/>
<polygon points="181.5,116.7 218.7,117.8 246.3,136.3 203.8,134.7" fill="url(#lgTop)"/>
<line x1="184.2" y1="118.9" x2="221.7" y2="119.8" stroke="#77797d" stroke-width="1.0" opacity="0.8" stroke-linecap="butt"/>
<line x1="188.2" y1="122.1" x2="226.3" y2="122.9" stroke="#55575b" stroke-width="1.3" opacity="0.8" stroke-linecap="butt"/>
<line x1="191.8" y1="125.0" x2="230.4" y2="125.6" stroke="#e4e5e7" stroke-width="0.9" opacity="0.8" stroke-linecap="butt"/>
<line x1="194.9" y1="127.5" x2="233.9" y2="128.0" stroke="#4e5054" stroke-width="1.4" opacity="0.8" stroke-linecap="butt"/>
<line x1="198.4" y1="130.4" x2="238.0" y2="130.7" stroke="#8a8c90" stroke-width="1.0" opacity="0.8" stroke-linecap="butt"/>
<line x1="201.6" y1="132.9" x2="241.6" y2="133.1" stroke="#505256" stroke-width="1.5" opacity="0.8" stroke-linecap="butt"/>
<polygon points="194.9,122.2 223.9,122.5 230.4,126.1 204.2,125.8" fill="#1c1cb0"/>
<circle cx="45.9" cy="148.1" r="2.50" fill="url(#gO)"/>
<circle cx="48.1" cy="152.6" r="2.50" fill="url(#gO)"/>
<circle cx="49.9" cy="156.4" r="2.50" fill="url(#gO)"/>
<circle cx="60.5" cy="188.4" r="2.50" fill="url(#gO)"/>
<circle cx="62.8" cy="194.8" r="2.50" fill="url(#gO)"/>
<circle cx="64.8" cy="200.3" r="2.50" fill="url(#gO)"/>
<circle cx="75.0" cy="230.6" r="2.50" fill="url(#gO)"/>
<circle cx="77.1" cy="236.2" r="2.50" fill="url(#gO)"/>
<circle cx="79.0" cy="241.0" r="2.50" fill="url(#gO)"/>
<circle cx="86.8" cy="156.6" r="3.00" fill="url(#gO)"/>
<circle cx="131.5" cy="157.6" r="3.00" fill="url(#gO)"/>
<circle cx="171.2" cy="159.6" r="3.00" fill="url(#gO)"/>
<circle cx="213.7" cy="160.9" r="3.00" fill="url(#gO)"/>
<circle cx="249.3" cy="159.3" r="3.00" fill="url(#gO)"/>
<circle cx="107.1" cy="203.6" r="3.00" fill="url(#gO)"/>
<circle cx="144.8" cy="206.3" r="3.00" fill="url(#gO)"/>
<circle cx="188.2" cy="206.6" r="3.00" fill="url(#gO)"/>
<circle cx="232.6" cy="209.8" r="3.00" fill="url(#gO)"/>
<circle cx="269.6" cy="206.6" r="3.00" fill="url(#gO)"/>
<circle cx="118.9" cy="242.7" r="3.00" fill="url(#gO)"/>
<circle cx="160.7" cy="246.4" r="3.00" fill="url(#gO)"/>
<circle cx="203.6" cy="249.4" r="3.00" fill="url(#gO)"/>
<circle cx="247.7" cy="252.4" r="3.00" fill="url(#gO)"/>
<circle cx="285.7" cy="248.6" r="3.00" fill="url(#gO)"/>
<circle cx="38.0" cy="115.8" r="3.20" fill="url(#gO)"/>
<circle cx="38.3" cy="118.4" r="3.44" fill="url(#gO)"/>
<circle cx="38.8" cy="121.6" r="3.68" fill="url(#gO)"/>
<circle cx="39.2" cy="125.1" r="3.91" fill="url(#gO)"/>
<circle cx="39.7" cy="128.7" r="4.15" fill="url(#gO)"/>
<circle cx="70.8" cy="113.3" r="3.20" fill="url(#gO)"/>
<circle cx="72.5" cy="116.9" r="3.44" fill="url(#gO)"/>
<circle cx="74.6" cy="121.2" r="3.68" fill="url(#gO)"/>
<circle cx="76.8" cy="125.9" r="3.91" fill="url(#gO)"/>
<circle cx="79.2" cy="130.8" r="4.15" fill="url(#gO)"/>
<circle cx="107.5" cy="114.2" r="3.20" fill="url(#gO)"/>
<circle cx="110.0" cy="117.7" r="3.44" fill="url(#gO)"/>
<circle cx="113.1" cy="121.9" r="3.68" fill="url(#gO)"/>
<circle cx="116.5" cy="126.5" r="3.91" fill="url(#gO)"/>
<circle cx="120.0" cy="131.3" r="4.15" fill="url(#gO)"/>
<circle cx="146.3" cy="115.0" r="3.20" fill="url(#gO)"/>
<circle cx="149.9" cy="118.6" r="3.44" fill="url(#gO)"/>
<circle cx="154.4" cy="122.9" r="3.68" fill="url(#gO)"/>
<circle cx="159.2" cy="127.6" r="3.91" fill="url(#gO)"/>
<circle cx="164.2" cy="132.5" r="4.15" fill="url(#gO)"/>
<circle cx="181.5" cy="116.7" r="3.20" fill="url(#gO)"/>
<circle cx="186.0" cy="120.4" r="3.44" fill="url(#gO)"/>
<circle cx="191.5" cy="124.8" r="3.68" fill="url(#gO)"/>
<circle cx="197.5" cy="129.6" r="3.91" fill="url(#gO)"/>
<circle cx="203.8" cy="134.7" r="4.15" fill="url(#gO)"/>
<circle cx="218.7" cy="117.8" r="3.20" fill="url(#gO)"/>
<circle cx="224.3" cy="121.6" r="3.44" fill="url(#gO)"/>
<circle cx="231.1" cy="126.1" r="3.68" fill="url(#gO)"/>
<circle cx="238.5" cy="131.1" r="3.91" fill="url(#gO)"/>
<circle cx="246.3" cy="136.3" r="4.15" fill="url(#gO)"/>
<circle cx="53.7" cy="160.8" r="4.15" fill="url(#gO)"/>
<circle cx="92.8" cy="162.0" r="4.15" fill="url(#gO)"/>
<circle cx="137.5" cy="163.0" r="4.15" fill="url(#gO)"/>
<circle cx="177.2" cy="165.0" r="4.15" fill="url(#gO)"/>
<circle cx="219.7" cy="166.3" r="4.15" fill="url(#gO)"/>
<circle cx="255.3" cy="164.7" r="4.15" fill="url(#gO)"/>
<circle cx="68.7" cy="206.2" r="4.15" fill="url(#gO)"/>
<circle cx="111.7" cy="210.0" r="4.15" fill="url(#gO)"/>
<circle cx="149.4" cy="212.7" r="4.15" fill="url(#gO)"/>
<circle cx="192.8" cy="213.0" r="4.15" fill="url(#gO)"/>
<circle cx="237.2" cy="216.2" r="4.15" fill="url(#gO)"/>
<circle cx="274.2" cy="213.0" r="4.15" fill="url(#gO)"/>
<circle cx="82.8" cy="246.3" r="4.15" fill="url(#gO)"/>
<circle cx="124.5" cy="248.3" r="4.15" fill="url(#gO)"/>
<circle cx="166.3" cy="252.0" r="4.15" fill="url(#gO)"/>
<circle cx="209.2" cy="255.0" r="4.15" fill="url(#gO)"/>
<circle cx="253.3" cy="258.0" r="4.15" fill="url(#gO)"/>
<circle cx="291.3" cy="254.2" r="4.15" fill="url(#gO)"/>
<circle cx="263.8" cy="170.8" r="4.15" fill="url(#gO)"/>
<circle cx="282.0" cy="219.2" r="4.15" fill="url(#gO)"/>
<circle cx="130.3" cy="158.6" r="3.20" fill="url(#gO)"/>
<circle cx="160.0" cy="245.0" r="2.80" fill="url(#gO)"/>
<circle cx="246.7" cy="252.5" r="2.80" fill="url(#gO)"/>
<circle cx="107.2" cy="202.0" r="3.20" fill="url(#gO)"/>
<circle cx="146.0" cy="205.0" r="3.00" fill="url(#gO)"/>
<circle cx="240.4" cy="187.6" r="9.00" fill="url(#gLi2)"/>
<line x1="238.2" y1="185.2" x2="241.6" y2="188.6" stroke="#e8fbe4" stroke-width="1.3" stroke-linecap="round"/>
<circle cx="625.1" cy="248.9" r="9.20" fill="url(#gLi)"/>
<circle cx="661.9" cy="247.2" r="9.00" fill="url(#gLi)"/>
<circle cx="713.4" cy="257.2" r="9.80" fill="url(#gLi)"/>
<circle cx="735.9" cy="248.9" r="9.00" fill="url(#gLi)"/>
<circle cx="779.5" cy="250.2" r="9.20" fill="url(#gLi)"/>
<polygon points="590.6,203.4 631.3,209.4 647.1,240.9 605.6,238.9" fill="url(#lgG)" stroke="#8e9096" stroke-width="0.7" stroke-linejoin="round"/>
<line x1="590.6" y1="203.4" x2="605.6" y2="238.9" stroke="#505256" stroke-width="0.9" opacity="0.6" stroke-linecap="butt"/>
<polygon points="631.3,209.4 647.1,240.9 618.6,223.2" fill="#8f9197" opacity="0.22"/>
<polygon points="647.1,240.9 605.6,238.9 618.6,223.2" fill="#8f9197" opacity="0.12"/>
<polygon points="590.6,203.4 631.3,209.4 618.6,223.2" fill="#ffffff" opacity="0.16"/>
<line x1="590.6" y1="203.4" x2="618.6" y2="223.2" stroke="#e6e7ea" stroke-width="1.4" opacity="0.3" stroke-linecap="butt"/>
<line x1="631.3" y1="209.4" x2="618.6" y2="223.2" stroke="#e6e7ea" stroke-width="1.4" opacity="0.3" stroke-linecap="butt"/>
<line x1="647.1" y1="240.9" x2="618.6" y2="223.2" stroke="#e6e7ea" stroke-width="1.4" opacity="0.3" stroke-linecap="butt"/>
<line x1="605.6" y1="238.9" x2="618.6" y2="223.2" stroke="#e6e7ea" stroke-width="1.4" opacity="0.3" stroke-linecap="butt"/>
<polygon points="590.6,203.4 631.3,209.4 633.0,213.8 592.3,207.8" fill="#66686c" opacity="0.6"/>
<line x1="594.5" y1="206.2" x2="606.9" y2="214.9" stroke="#dc8c8c" stroke-width="2.6" stroke-dasharray="4.6 2.8" opacity="0.55" stroke-linecap="butt"/>
<line x1="629.5" y1="211.3" x2="624.0" y2="217.4" stroke="#dc8c8c" stroke-width="2.6" stroke-dasharray="4.6 2.8" opacity="0.55" stroke-linecap="butt"/>
<line x1="643.1" y1="238.4" x2="630.6" y2="230.6" stroke="#dc8c8c" stroke-width="2.6" stroke-dasharray="4.6 2.8" opacity="0.55" stroke-linecap="butt"/>
<line x1="607.4" y1="236.7" x2="613.2" y2="229.8" stroke="#dc8c8c" stroke-width="2.6" stroke-dasharray="4.6 2.8" opacity="0.55" stroke-linecap="butt"/>
<circle cx="618.9" cy="222.7" r="8.30" fill="url(#sG)"/>
<polygon points="631.3,209.4 670.1,210.7 686.4,244.4 647.1,240.9" fill="url(#lgB)" stroke="#0a0a70" stroke-width="0.7" stroke-linejoin="round"/>
<line x1="631.3" y1="209.4" x2="647.1" y2="240.9" stroke="#050550" stroke-width="0.9" opacity="0.6" stroke-linecap="butt"/>
<polygon points="670.1,210.7 686.4,244.4 658.7,226.3" fill="#08086a" opacity="0.22"/>
<polygon points="686.4,244.4 647.1,240.9 658.7,226.3" fill="#08086a" opacity="0.12"/>
<polygon points="631.3,209.4 670.1,210.7 658.7,226.3" fill="#4848d8" opacity="0.16"/>
<line x1="631.3" y1="209.4" x2="658.7" y2="226.3" stroke="#3434c0" stroke-width="1.4" opacity="0.3" stroke-linecap="butt"/>
<line x1="670.1" y1="210.7" x2="658.7" y2="226.3" stroke="#3434c0" stroke-width="1.4" opacity="0.3" stroke-linecap="butt"/>
<line x1="686.4" y1="244.4" x2="658.7" y2="226.3" stroke="#3434c0" stroke-width="1.4" opacity="0.3" stroke-linecap="butt"/>
<line x1="647.1" y1="240.9" x2="658.7" y2="226.3" stroke="#3434c0" stroke-width="1.4" opacity="0.3" stroke-linecap="butt"/>
<polygon points="631.3,209.4 670.1,210.7 671.2,213.7 632.4,212.4" fill="#060650" opacity="0.6"/>
<line x1="635.1" y1="211.8" x2="647.2" y2="219.2" stroke="#5a2890" stroke-width="2.6" stroke-dasharray="4.6 2.8" opacity="0.55" stroke-linecap="butt"/>
<line x1="668.5" y1="212.9" x2="663.5" y2="219.8" stroke="#5a2890" stroke-width="2.6" stroke-dasharray="4.6 2.8" opacity="0.55" stroke-linecap="butt"/>
<line x1="682.5" y1="241.9" x2="670.3" y2="233.9" stroke="#5a2890" stroke-width="2.6" stroke-dasharray="4.6 2.8" opacity="0.55" stroke-linecap="butt"/>
<line x1="648.7" y1="238.9" x2="653.8" y2="232.5" stroke="#5a2890" stroke-width="2.6" stroke-dasharray="4.6 2.8" opacity="0.55" stroke-linecap="butt"/>
<circle cx="659.0" cy="225.8" r="8.30" fill="url(#sB)"/>
<polygon points="670.1,210.7 708.2,210.9 725.2,243.9 686.4,244.4" fill="url(#lgG)" stroke="#8e9096" stroke-width="0.7" stroke-linejoin="round"/>
<line x1="670.1" y1="210.7" x2="686.4" y2="244.4" stroke="#505256" stroke-width="0.9" opacity="0.6" stroke-linecap="butt"/>
<polygon points="708.2,210.9 725.2,243.9 697.5,227.5" fill="#8f9197" opacity="0.22"/>
<polygon points="725.2,243.9 686.4,244.4 697.5,227.5" fill="#8f9197" opacity="0.12"/>
<polygon points="670.1,210.7 708.2,210.9 697.5,227.5" fill="#ffffff" opacity="0.16"/>
<line x1="670.1" y1="210.7" x2="697.5" y2="227.5" stroke="#e6e7ea" stroke-width="1.4" opacity="0.3" stroke-linecap="butt"/>
<line x1="708.2" y1="210.9" x2="697.5" y2="227.5" stroke="#e6e7ea" stroke-width="1.4" opacity="0.3" stroke-linecap="butt"/>
<line x1="725.2" y1="243.9" x2="697.5" y2="227.5" stroke="#e6e7ea" stroke-width="1.4" opacity="0.3" stroke-linecap="butt"/>
<line x1="686.4" y1="244.4" x2="697.5" y2="227.5" stroke="#e6e7ea" stroke-width="1.4" opacity="0.3" stroke-linecap="butt"/>
<polygon points="670.1,210.7 708.2,210.9 709.9,215.3 671.8,215.1" fill="#66686c" opacity="0.6"/>
<line x1="673.9" y1="213.0" x2="686.0" y2="220.4" stroke="#dc8c8c" stroke-width="2.6" stroke-dasharray="4.6 2.8" opacity="0.55" stroke-linecap="butt"/>
<line x1="706.7" y1="213.2" x2="702.0" y2="220.5" stroke="#dc8c8c" stroke-width="2.6" stroke-dasharray="4.6 2.8" opacity="0.55" stroke-linecap="butt"/>
<line x1="721.3" y1="241.6" x2="709.1" y2="234.4" stroke="#dc8c8c" stroke-width="2.6" stroke-dasharray="4.6 2.8" opacity="0.55" stroke-linecap="butt"/>
<line x1="688.0" y1="242.0" x2="692.8" y2="234.6" stroke="#dc8c8c" stroke-width="2.6" stroke-dasharray="4.6 2.8" opacity="0.55" stroke-linecap="butt"/>
<circle cx="697.8" cy="227.0" r="8.30" fill="url(#sG)"/>
<polygon points="708.2,210.9 751.5,210.7 766.5,244.4 725.2,243.9" fill="url(#lgG)" stroke="#8e9096" stroke-width="0.7" stroke-linejoin="round"/>
<line x1="708.2" y1="210.9" x2="725.2" y2="243.9" stroke="#505256" stroke-width="0.9" opacity="0.6" stroke-linecap="butt"/>
<polygon points="751.5,210.7 766.5,244.4 737.9,227.5" fill="#8f9197" opacity="0.22"/>
<polygon points="766.5,244.4 725.2,243.9 737.9,227.5" fill="#8f9197" opacity="0.12"/>
<polygon points="708.2,210.9 751.5,210.7 737.9,227.5" fill="#ffffff" opacity="0.16"/>
<line x1="708.2" y1="210.9" x2="737.9" y2="227.5" stroke="#e6e7ea" stroke-width="1.4" opacity="0.3" stroke-linecap="butt"/>
<line x1="751.5" y1="210.7" x2="737.9" y2="227.5" stroke="#e6e7ea" stroke-width="1.4" opacity="0.3" stroke-linecap="butt"/>
<line x1="766.5" y1="244.4" x2="737.9" y2="227.5" stroke="#e6e7ea" stroke-width="1.4" opacity="0.3" stroke-linecap="butt"/>
<line x1="725.2" y1="243.9" x2="737.9" y2="227.5" stroke="#e6e7ea" stroke-width="1.4" opacity="0.3" stroke-linecap="butt"/>
<polygon points="708.2,210.9 751.5,210.7 753.2,215.1 709.9,215.3" fill="#66686c" opacity="0.6"/>
<line x1="712.4" y1="213.2" x2="725.4" y2="220.5" stroke="#dc8c8c" stroke-width="2.6" stroke-dasharray="4.6 2.8" opacity="0.55" stroke-linecap="butt"/>
<line x1="749.6" y1="213.0" x2="743.6" y2="220.4" stroke="#dc8c8c" stroke-width="2.6" stroke-dasharray="4.6 2.8" opacity="0.55" stroke-linecap="butt"/>
<line x1="762.5" y1="242.0" x2="749.9" y2="234.6" stroke="#dc8c8c" stroke-width="2.6" stroke-dasharray="4.6 2.8" opacity="0.55" stroke-linecap="butt"/>
<line x1="727.0" y1="241.6" x2="732.5" y2="234.4" stroke="#dc8c8c" stroke-width="2.6" stroke-dasharray="4.6 2.8" opacity="0.55" stroke-linecap="butt"/>
<circle cx="738.1" cy="227.0" r="8.30" fill="url(#sG)"/>
<polygon points="751.5,210.7 791.5,210.7 800.8,240.7 766.5,244.4" fill="url(#lgG)" stroke="#8e9096" stroke-width="0.7" stroke-linejoin="round"/>
<line x1="751.5" y1="210.7" x2="766.5" y2="244.4" stroke="#505256" stroke-width="0.9" opacity="0.6" stroke-linecap="butt"/>
<polygon points="791.5,210.7 800.8,240.7 777.6,226.6" fill="#8f9197" opacity="0.22"/>
<polygon points="800.8,240.7 766.5,244.4 777.6,226.6" fill="#8f9197" opacity="0.12"/>
<polygon points="751.5,210.7 791.5,210.7 777.6,226.6" fill="#ffffff" opacity="0.16"/>
<line x1="751.5" y1="210.7" x2="777.6" y2="226.6" stroke="#e6e7ea" stroke-width="1.4" opacity="0.3" stroke-linecap="butt"/>
<line x1="791.5" y1="210.7" x2="777.6" y2="226.6" stroke="#e6e7ea" stroke-width="1.4" opacity="0.3" stroke-linecap="butt"/>
<line x1="800.8" y1="240.7" x2="777.6" y2="226.6" stroke="#e6e7ea" stroke-width="1.4" opacity="0.3" stroke-linecap="butt"/>
<line x1="766.5" y1="244.4" x2="777.6" y2="226.6" stroke="#e6e7ea" stroke-width="1.4" opacity="0.3" stroke-linecap="butt"/>
<polygon points="751.5,210.7 791.5,210.7 793.2,215.1 753.2,215.1" fill="#66686c" opacity="0.6"/>
<line x1="755.2" y1="212.9" x2="766.6" y2="219.9" stroke="#dc8c8c" stroke-width="2.6" stroke-dasharray="4.6 2.8" opacity="0.55" stroke-linecap="butt"/>
<line x1="789.6" y1="212.9" x2="783.4" y2="219.9" stroke="#dc8c8c" stroke-width="2.6" stroke-dasharray="4.6 2.8" opacity="0.55" stroke-linecap="butt"/>
<line x1="797.5" y1="238.7" x2="787.3" y2="232.5" stroke="#dc8c8c" stroke-width="2.6" stroke-dasharray="4.6 2.8" opacity="0.55" stroke-linecap="butt"/>
<line x1="768.1" y1="241.9" x2="772.9" y2="234.1" stroke="#dc8c8c" stroke-width="2.6" stroke-dasharray="4.6 2.8" opacity="0.55" stroke-linecap="butt"/>
<circle cx="777.9" cy="226.1" r="8.30" fill="url(#sG)"/>
<polygon points="580.0,160.1 617.1,160.9 631.3,209.4 590.6,203.4" fill="url(#lgGr)" stroke="#5aa85c" stroke-width="0.7" stroke-linejoin="round"/>
<line x1="580.0" y1="160.1" x2="590.6" y2="203.4" stroke="#3f8a46" stroke-width="0.9" opacity="0.6" stroke-linecap="butt"/>
<polygon points="617.1,160.9 631.3,209.4 604.8,183.4" fill="#4f9f55" opacity="0.22"/>
<polygon points="631.3,209.4 590.6,203.4 604.8,183.4" fill="#4f9f55" opacity="0.12"/>
<polygon points="580.0,160.1 617.1,160.9 604.8,183.4" fill="#c8f5c2" opacity="0.16"/>
<line x1="580.0" y1="160.1" x2="604.8" y2="183.4" stroke="#a6e6a0" stroke-width="1.4" opacity="0.3" stroke-linecap="butt"/>
<line x1="617.1" y1="160.9" x2="604.8" y2="183.4" stroke="#a6e6a0" stroke-width="1.4" opacity="0.3" stroke-linecap="butt"/>
<line x1="631.3" y1="209.4" x2="604.8" y2="183.4" stroke="#a6e6a0" stroke-width="1.4" opacity="0.3" stroke-linecap="butt"/>
<line x1="590.6" y1="203.4" x2="604.8" y2="183.4" stroke="#a6e6a0" stroke-width="1.4" opacity="0.3" stroke-linecap="butt"/>
<polygon points="580.0,160.1 617.1,160.9 618.4,164.3 581.3,163.5" fill="#478c4e" opacity="0.6"/>
<line x1="583.5" y1="163.4" x2="594.4" y2="173.6" stroke="#c99a74" stroke-width="2.6" stroke-dasharray="4.6 2.8" opacity="0.55" stroke-linecap="butt"/>
<line x1="615.4" y1="164.1" x2="609.9" y2="174.0" stroke="#c99a74" stroke-width="2.6" stroke-dasharray="4.6 2.8" opacity="0.55" stroke-linecap="butt"/>
<line x1="627.6" y1="205.8" x2="615.9" y2="194.3" stroke="#c99a74" stroke-width="2.6" stroke-dasharray="4.6 2.8" opacity="0.55" stroke-linecap="butt"/>
<line x1="592.6" y1="200.6" x2="598.8" y2="191.8" stroke="#c99a74" stroke-width="2.6" stroke-dasharray="4.6 2.8" opacity="0.55" stroke-linecap="butt"/>
<circle cx="605.0" cy="182.9" r="9.00" fill="url(#sGr)"/>
<polygon points="617.1,160.9 656.4,161.4 670.1,210.7 631.3,209.4" fill="url(#lgGr)" stroke="#5aa85c" stroke-width="0.7" stroke-linejoin="round"/>
<line x1="617.1" y1="160.9" x2="631.3" y2="209.4" stroke="#3f8a46" stroke-width="0.9" opacity="0.6" stroke-linecap="butt"/>
<polygon points="656.4,161.4 670.1,210.7 643.7,185.6" fill="#4f9f55" opacity="0.22"/>
<polygon points="670.1,210.7 631.3,209.4 643.7,185.6" fill="#4f9f55" opacity="0.12"/>
<polygon points="617.1,160.9 656.4,161.4 643.7,185.6" fill="#c8f5c2" opacity="0.16"/>
<line x1="617.1" y1="160.9" x2="643.7" y2="185.6" stroke="#a6e6a0" stroke-width="1.4" opacity="0.3" stroke-linecap="butt"/>
<line x1="656.4" y1="161.4" x2="643.7" y2="185.6" stroke="#a6e6a0" stroke-width="1.4" opacity="0.3" stroke-linecap="butt"/>
<line x1="670.1" y1="210.7" x2="643.7" y2="185.6" stroke="#a6e6a0" stroke-width="1.4" opacity="0.3" stroke-linecap="butt"/>
<line x1="631.3" y1="209.4" x2="643.7" y2="185.6" stroke="#a6e6a0" stroke-width="1.4" opacity="0.3" stroke-linecap="butt"/>
<polygon points="617.1,160.9 656.4,161.4 657.7,164.8 618.4,164.3" fill="#478c4e" opacity="0.6"/>
<line x1="620.8" y1="164.4" x2="632.5" y2="175.2" stroke="#c99a74" stroke-width="2.6" stroke-dasharray="4.6 2.8" opacity="0.55" stroke-linecap="butt"/>
<line x1="654.6" y1="164.8" x2="649.0" y2="175.4" stroke="#c99a74" stroke-width="2.6" stroke-dasharray="4.6 2.8" opacity="0.55" stroke-linecap="butt"/>
<line x1="666.4" y1="207.2" x2="654.8" y2="196.1" stroke="#c99a74" stroke-width="2.6" stroke-dasharray="4.6 2.8" opacity="0.55" stroke-linecap="butt"/>
<line x1="633.0" y1="206.1" x2="638.5" y2="195.6" stroke="#c99a74" stroke-width="2.6" stroke-dasharray="4.6 2.8" opacity="0.55" stroke-linecap="butt"/>
<circle cx="644.0" cy="185.1" r="9.00" fill="url(#sGr)"/>
<polygon points="656.4,161.4 694.7,162.1 708.2,210.9 670.1,210.7" fill="url(#lgGr)" stroke="#5aa85c" stroke-width="0.7" stroke-linejoin="round"/>
<line x1="656.4" y1="161.4" x2="670.1" y2="210.7" stroke="#3f8a46" stroke-width="0.9" opacity="0.6" stroke-linecap="butt"/>
<polygon points="694.7,162.1 708.2,210.9 682.4,186.3" fill="#4f9f55" opacity="0.22"/>
<polygon points="708.2,210.9 670.1,210.7 682.4,186.3" fill="#4f9f55" opacity="0.12"/>
<polygon points="656.4,161.4 694.7,162.1 682.4,186.3" fill="#c8f5c2" opacity="0.16"/>
<line x1="656.4" y1="161.4" x2="682.4" y2="186.3" stroke="#a6e6a0" stroke-width="1.4" opacity="0.3" stroke-linecap="butt"/>
<line x1="694.7" y1="162.1" x2="682.4" y2="186.3" stroke="#a6e6a0" stroke-width="1.4" opacity="0.3" stroke-linecap="butt"/>
<line x1="708.2" y1="210.9" x2="682.4" y2="186.3" stroke="#a6e6a0" stroke-width="1.4" opacity="0.3" stroke-linecap="butt"/>
<line x1="670.1" y1="210.7" x2="682.4" y2="186.3" stroke="#a6e6a0" stroke-width="1.4" opacity="0.3" stroke-linecap="butt"/>
<polygon points="656.4,161.4 694.7,162.1 696.0,165.5 657.7,164.8" fill="#478c4e" opacity="0.6"/>
<line x1="660.0" y1="164.9" x2="671.5" y2="175.8" stroke="#c99a74" stroke-width="2.6" stroke-dasharray="4.6 2.8" opacity="0.55" stroke-linecap="butt"/>
<line x1="693.0" y1="165.5" x2="687.5" y2="176.1" stroke="#c99a74" stroke-width="2.6" stroke-dasharray="4.6 2.8" opacity="0.55" stroke-linecap="butt"/>
<line x1="704.6" y1="207.5" x2="693.2" y2="196.6" stroke="#c99a74" stroke-width="2.6" stroke-dasharray="4.6 2.8" opacity="0.55" stroke-linecap="butt"/>
<line x1="671.8" y1="207.3" x2="677.2" y2="196.5" stroke="#c99a74" stroke-width="2.6" stroke-dasharray="4.6 2.8" opacity="0.55" stroke-linecap="butt"/>
<circle cx="682.6" cy="185.8" r="9.00" fill="url(#sGr)"/>
<polygon points="694.7,162.1 738.2,162.6 751.5,210.7 708.2,210.9" fill="#8fd88a" stroke="#5aa85c" stroke-width="0.6" stroke-linejoin="round"/>
<polygon points="694.7,162.1 738.2,162.6 745.5,189.1 702.1,188.9" fill="#97dc92"/>
<circle cx="717.2" cy="176.6" r="8.50" fill="url(#sGr)"/>
<polygon points="738.2,162.6 772.2,160.1 784.0,205.1 751.5,210.7" fill="url(#lgGr)" stroke="#5aa85c" stroke-width="0.7" stroke-linejoin="round"/>
<line x1="738.2" y1="162.6" x2="751.5" y2="210.7" stroke="#3f8a46" stroke-width="0.9" opacity="0.6" stroke-linecap="butt"/>
<polygon points="772.2,160.1 784.0,205.1 761.5,184.6" fill="#4f9f55" opacity="0.22"/>
<polygon points="784.0,205.1 751.5,210.7 761.5,184.6" fill="#4f9f55" opacity="0.12"/>
<polygon points="738.2,162.6 772.2,160.1 761.5,184.6" fill="#c8f5c2" opacity="0.16"/>
<line x1="738.2" y1="162.6" x2="761.5" y2="184.6" stroke="#a6e6a0" stroke-width="1.4" opacity="0.3" stroke-linecap="butt"/>
<line x1="772.2" y1="160.1" x2="761.5" y2="184.6" stroke="#a6e6a0" stroke-width="1.4" opacity="0.3" stroke-linecap="butt"/>
<line x1="784.0" y1="205.1" x2="761.5" y2="184.6" stroke="#a6e6a0" stroke-width="1.4" opacity="0.3" stroke-linecap="butt"/>
<line x1="751.5" y1="210.7" x2="761.5" y2="184.6" stroke="#a6e6a0" stroke-width="1.4" opacity="0.3" stroke-linecap="butt"/>
<polygon points="738.2,162.6 772.2,160.1 773.5,163.5 739.5,166.0" fill="#478c4e" opacity="0.6"/>
<line x1="741.5" y1="165.7" x2="751.7" y2="175.4" stroke="#c99a74" stroke-width="2.6" stroke-dasharray="4.6 2.8" opacity="0.55" stroke-linecap="butt"/>
<line x1="770.7" y1="163.5" x2="766.0" y2="174.3" stroke="#c99a74" stroke-width="2.6" stroke-dasharray="4.6 2.8" opacity="0.55" stroke-linecap="butt"/>
<line x1="780.8" y1="202.2" x2="770.9" y2="193.2" stroke="#c99a74" stroke-width="2.6" stroke-dasharray="4.6 2.8" opacity="0.55" stroke-linecap="butt"/>
<line x1="752.9" y1="207.0" x2="757.3" y2="195.6" stroke="#c99a74" stroke-width="2.6" stroke-dasharray="4.6 2.8" opacity="0.55" stroke-linecap="butt"/>
<circle cx="761.8" cy="184.1" r="9.00" fill="url(#sGr)"/>
<polygon points="703.0,195.5 741.0,196.5 745.0,210.0 707.0,209.5" fill="#c9cbcf"/>
<line x1="704.0" y1="197.2" x2="742.0" y2="198.4" stroke="#7a7c80" stroke-width="1.0" stroke-linecap="butt"/>
<line x1="704.0" y1="200.2" x2="742.0" y2="201.4" stroke="#e8e9eb" stroke-width="1.0" stroke-linecap="butt"/>
<line x1="704.0" y1="202.8" x2="742.0" y2="204.0" stroke="#6a6c70" stroke-width="1.0" stroke-linecap="butt"/>
<polygon points="709.0,205.6 743.0,206.6 745.0,210.6 710.0,210.0" fill="#a01e98"/>
<circle cx="725.0" cy="193.2" r="3.00" fill="url(#gO)"/>
<circle cx="731.5" cy="197.2" r="3.00" fill="url(#gO)"/>
<circle cx="739.0" cy="201.6" r="3.00" fill="url(#gO)"/>
<circle cx="744.5" cy="206.5" r="3.00" fill="url(#gO)"/>
<polygon points="567.5,129.6 603.8,130.8 617.1,160.9 580.0,160.1" fill="url(#lgG)" stroke="#8e9096" stroke-width="0.7" stroke-linejoin="round"/>
<line x1="567.5" y1="129.6" x2="580.0" y2="160.1" stroke="#505256" stroke-width="0.9" opacity="0.6" stroke-linecap="butt"/>
<polygon points="603.8,130.8 617.1,160.9 592.1,145.3" fill="#8f9197" opacity="0.22"/>
<polygon points="617.1,160.9 580.0,160.1 592.1,145.3" fill="#8f9197" opacity="0.12"/>
<polygon points="567.5,129.6 603.8,130.8 592.1,145.3" fill="#ffffff" opacity="0.16"/>
<line x1="567.5" y1="129.6" x2="592.1" y2="145.3" stroke="#e6e7ea" stroke-width="1.4" opacity="0.3" stroke-linecap="butt"/>
<line x1="603.8" y1="130.8" x2="592.1" y2="145.3" stroke="#e6e7ea" stroke-width="1.4" opacity="0.3" stroke-linecap="butt"/>
<line x1="617.1" y1="160.9" x2="592.1" y2="145.3" stroke="#e6e7ea" stroke-width="1.4" opacity="0.3" stroke-linecap="butt"/>
<line x1="580.0" y1="160.1" x2="592.1" y2="145.3" stroke="#e6e7ea" stroke-width="1.4" opacity="0.3" stroke-linecap="butt"/>
<line x1="570.9" y1="131.8" x2="581.8" y2="138.7" stroke="#dc8c8c" stroke-width="2.6" stroke-dasharray="4.6 2.8" opacity="0.55" stroke-linecap="butt"/>
<line x1="602.2" y1="132.8" x2="597.0" y2="139.2" stroke="#dc8c8c" stroke-width="2.6" stroke-dasharray="4.6 2.8" opacity="0.55" stroke-linecap="butt"/>
<line x1="613.6" y1="158.7" x2="602.6" y2="151.9" stroke="#dc8c8c" stroke-width="2.6" stroke-dasharray="4.6 2.8" opacity="0.55" stroke-linecap="butt"/>
<line x1="581.7" y1="158.0" x2="587.0" y2="151.5" stroke="#dc8c8c" stroke-width="2.6" stroke-dasharray="4.6 2.8" opacity="0.55" stroke-linecap="butt"/>
<circle cx="592.4" cy="144.8" r="8.30" fill="url(#sG)"/>
<polygon points="603.8,130.8 642.1,131.8 656.4,161.4 617.1,160.9" fill="url(#lgP)" stroke="#701070" stroke-width="0.7" stroke-linejoin="round"/>
<line x1="603.8" y1="130.8" x2="617.1" y2="160.9" stroke="#500a50" stroke-width="0.9" opacity="0.6" stroke-linecap="butt"/>
<polygon points="642.1,131.8 656.4,161.4 629.9,146.2" fill="#6c0f6c" opacity="0.22"/>
<polygon points="656.4,161.4 617.1,160.9 629.9,146.2" fill="#6c0f6c" opacity="0.12"/>
<polygon points="603.8,130.8 642.1,131.8 629.9,146.2" fill="#e070d8" opacity="0.16"/>
<line x1="603.8" y1="130.8" x2="629.9" y2="146.2" stroke="#c050b8" stroke-width="1.4" opacity="0.3" stroke-linecap="butt"/>
<line x1="642.1" y1="131.8" x2="629.9" y2="146.2" stroke="#c050b8" stroke-width="1.4" opacity="0.3" stroke-linecap="butt"/>
<line x1="656.4" y1="161.4" x2="629.9" y2="146.2" stroke="#c050b8" stroke-width="1.4" opacity="0.3" stroke-linecap="butt"/>
<line x1="617.1" y1="160.9" x2="629.9" y2="146.2" stroke="#c050b8" stroke-width="1.4" opacity="0.3" stroke-linecap="butt"/>
<line x1="607.4" y1="133.0" x2="618.9" y2="139.7" stroke="#c2308a" stroke-width="2.6" stroke-dasharray="4.6 2.8" opacity="0.55" stroke-linecap="butt"/>
<line x1="640.4" y1="133.8" x2="635.0" y2="140.2" stroke="#c2308a" stroke-width="2.6" stroke-dasharray="4.6 2.8" opacity="0.55" stroke-linecap="butt"/>
<line x1="652.7" y1="159.3" x2="641.0" y2="152.6" stroke="#c2308a" stroke-width="2.6" stroke-dasharray="4.6 2.8" opacity="0.55" stroke-linecap="butt"/>
<line x1="618.9" y1="158.8" x2="624.5" y2="152.4" stroke="#c2308a" stroke-width="2.6" stroke-dasharray="4.6 2.8" opacity="0.55" stroke-linecap="butt"/>
<circle cx="630.1" cy="145.7" r="8.30" fill="url(#sP)"/>
<polygon points="642.1,131.8 680.1,132.1 694.7,162.1 656.4,161.4" fill="url(#lgG)" stroke="#8e9096" stroke-width="0.7" stroke-linejoin="round"/>
<line x1="642.1" y1="131.8" x2="656.4" y2="161.4" stroke="#505256" stroke-width="0.9" opacity="0.6" stroke-linecap="butt"/>
<polygon points="680.1,132.1 694.7,162.1 668.3,146.8" fill="#8f9197" opacity="0.22"/>
<polygon points="694.7,162.1 656.4,161.4 668.3,146.8" fill="#8f9197" opacity="0.12"/>
<polygon points="642.1,131.8 680.1,132.1 668.3,146.8" fill="#ffffff" opacity="0.16"/>
<line x1="642.1" y1="131.8" x2="668.3" y2="146.8" stroke="#e6e7ea" stroke-width="1.4" opacity="0.3" stroke-linecap="butt"/>
<line x1="680.1" y1="132.1" x2="668.3" y2="146.8" stroke="#e6e7ea" stroke-width="1.4" opacity="0.3" stroke-linecap="butt"/>
<line x1="694.7" y1="162.1" x2="668.3" y2="146.8" stroke="#e6e7ea" stroke-width="1.4" opacity="0.3" stroke-linecap="butt"/>
<line x1="656.4" y1="161.4" x2="668.3" y2="146.8" stroke="#e6e7ea" stroke-width="1.4" opacity="0.3" stroke-linecap="butt"/>
<line x1="645.8" y1="133.9" x2="657.3" y2="140.5" stroke="#dc8c8c" stroke-width="2.6" stroke-dasharray="4.6 2.8" opacity="0.55" stroke-linecap="butt"/>
<line x1="678.5" y1="134.2" x2="673.3" y2="140.7" stroke="#dc8c8c" stroke-width="2.6" stroke-dasharray="4.6 2.8" opacity="0.55" stroke-linecap="butt"/>
<line x1="691.0" y1="160.0" x2="679.4" y2="153.3" stroke="#dc8c8c" stroke-width="2.6" stroke-dasharray="4.6 2.8" opacity="0.55" stroke-linecap="butt"/>
<line x1="658.1" y1="159.4" x2="663.3" y2="153.0" stroke="#dc8c8c" stroke-width="2.6" stroke-dasharray="4.6 2.8" opacity="0.55" stroke-linecap="butt"/>
<circle cx="668.6" cy="146.3" r="8.30" fill="url(#sG)"/>
<polygon points="680.1,132.1 719.7,132.6 738.2,162.6 694.7,162.1" fill="url(#lgG)" stroke="#8e9096" stroke-width="0.7" stroke-linejoin="round"/>
<line x1="680.1" y1="132.1" x2="694.7" y2="162.1" stroke="#505256" stroke-width="0.9" opacity="0.6" stroke-linecap="butt"/>
<polygon points="719.7,132.6 738.2,162.6 708.2,147.3" fill="#8f9197" opacity="0.22"/>
<polygon points="738.2,162.6 694.7,162.1 708.2,147.3" fill="#8f9197" opacity="0.12"/>
<polygon points="680.1,132.1 719.7,132.6 708.2,147.3" fill="#ffffff" opacity="0.16"/>
<line x1="680.1" y1="132.1" x2="708.2" y2="147.3" stroke="#e6e7ea" stroke-width="1.4" opacity="0.3" stroke-linecap="butt"/>
<line x1="719.7" y1="132.6" x2="708.2" y2="147.3" stroke="#e6e7ea" stroke-width="1.4" opacity="0.3" stroke-linecap="butt"/>
<line x1="738.2" y1="162.6" x2="708.2" y2="147.3" stroke="#e6e7ea" stroke-width="1.4" opacity="0.3" stroke-linecap="butt"/>
<line x1="694.7" y1="162.1" x2="708.2" y2="147.3" stroke="#e6e7ea" stroke-width="1.4" opacity="0.3" stroke-linecap="butt"/>
<line x1="684.0" y1="134.2" x2="696.4" y2="140.9" stroke="#dc8c8c" stroke-width="2.6" stroke-dasharray="4.6 2.8" opacity="0.55" stroke-linecap="butt"/>
<line x1="718.1" y1="134.7" x2="713.0" y2="141.2" stroke="#dc8c8c" stroke-width="2.6" stroke-dasharray="4.6 2.8" opacity="0.55" stroke-linecap="butt"/>
<line x1="734.0" y1="160.5" x2="720.8" y2="153.8" stroke="#dc8c8c" stroke-width="2.6" stroke-dasharray="4.6 2.8" opacity="0.55" stroke-linecap="butt"/>
<line x1="696.6" y1="160.0" x2="702.5" y2="153.5" stroke="#dc8c8c" stroke-width="2.6" stroke-dasharray="4.6 2.8" opacity="0.55" stroke-linecap="butt"/>
<circle cx="708.5" cy="146.8" r="8.30" fill="url(#sG)"/>
<polygon points="719.7,132.6 763.5,132.6 772.2,160.1 738.2,162.6" fill="url(#lgG)" stroke="#8e9096" stroke-width="0.7" stroke-linejoin="round"/>
<line x1="719.7" y1="132.6" x2="738.2" y2="162.6" stroke="#505256" stroke-width="0.9" opacity="0.6" stroke-linecap="butt"/>
<polygon points="763.5,132.6 772.2,160.1 748.4,147.0" fill="#8f9197" opacity="0.22"/>
<polygon points="772.2,160.1 738.2,162.6 748.4,147.0" fill="#8f9197" opacity="0.12"/>
<polygon points="719.7,132.6 763.5,132.6 748.4,147.0" fill="#ffffff" opacity="0.16"/>
<line x1="719.7" y1="132.6" x2="748.4" y2="147.0" stroke="#e6e7ea" stroke-width="1.4" opacity="0.3" stroke-linecap="butt"/>
<line x1="763.5" y1="132.6" x2="748.4" y2="147.0" stroke="#e6e7ea" stroke-width="1.4" opacity="0.3" stroke-linecap="butt"/>
<line x1="772.2" y1="160.1" x2="748.4" y2="147.0" stroke="#e6e7ea" stroke-width="1.4" opacity="0.3" stroke-linecap="butt"/>
<line x1="738.2" y1="162.6" x2="748.4" y2="147.0" stroke="#e6e7ea" stroke-width="1.4" opacity="0.3" stroke-linecap="butt"/>
<line x1="723.7" y1="134.6" x2="736.3" y2="140.9" stroke="#dc8c8c" stroke-width="2.6" stroke-dasharray="4.6 2.8" opacity="0.55" stroke-linecap="butt"/>
<line x1="761.4" y1="134.6" x2="754.7" y2="140.9" stroke="#dc8c8c" stroke-width="2.6" stroke-dasharray="4.6 2.8" opacity="0.55" stroke-linecap="butt"/>
<line x1="768.9" y1="158.3" x2="758.4" y2="152.5" stroke="#dc8c8c" stroke-width="2.6" stroke-dasharray="4.6 2.8" opacity="0.55" stroke-linecap="butt"/>
<line x1="739.6" y1="160.4" x2="744.1" y2="153.5" stroke="#dc8c8c" stroke-width="2.6" stroke-dasharray="4.6 2.8" opacity="0.55" stroke-linecap="butt"/>
<circle cx="748.7" cy="146.5" r="8.30" fill="url(#sG)"/>
<polygon points="561.3,120.0 592.6,118.8 603.8,130.8 567.5,129.6" fill="url(#lgTop)"/>
<line x1="562.0" y1="121.2" x2="593.8" y2="120.1" stroke="#77797d" stroke-width="1.0" opacity="0.8" stroke-linecap="butt"/>
<line x1="563.2" y1="122.9" x2="595.7" y2="122.1" stroke="#55575b" stroke-width="1.3" opacity="0.8" stroke-linecap="butt"/>
<line x1="564.2" y1="124.4" x2="597.3" y2="123.9" stroke="#e4e5e7" stroke-width="0.9" opacity="0.8" stroke-linecap="butt"/>
<line x1="565.0" y1="125.8" x2="598.8" y2="125.4" stroke="#4e5054" stroke-width="1.4" opacity="0.8" stroke-linecap="butt"/>
<line x1="566.0" y1="127.3" x2="600.4" y2="127.2" stroke="#8a8c90" stroke-width="1.0" opacity="0.8" stroke-linecap="butt"/>
<line x1="566.9" y1="128.6" x2="601.9" y2="128.7" stroke="#505256" stroke-width="1.5" opacity="0.8" stroke-linecap="butt"/>
<polygon points="592.6,118.8 627.1,119.6 642.1,131.8 603.8,130.8" fill="url(#lgTop)"/>
<line x1="593.9" y1="120.2" x2="628.8" y2="120.9" stroke="#77797d" stroke-width="1.0" opacity="0.8" stroke-linecap="butt"/>
<line x1="596.0" y1="122.4" x2="631.2" y2="123.0" stroke="#55575b" stroke-width="1.3" opacity="0.8" stroke-linecap="butt"/>
<line x1="597.8" y1="124.3" x2="633.4" y2="124.8" stroke="#e4e5e7" stroke-width="0.9" opacity="0.8" stroke-linecap="butt"/>
<line x1="599.3" y1="126.0" x2="635.4" y2="126.3" stroke="#4e5054" stroke-width="1.4" opacity="0.8" stroke-linecap="butt"/>
<line x1="601.1" y1="127.9" x2="637.6" y2="128.1" stroke="#8a8c90" stroke-width="1.0" opacity="0.8" stroke-linecap="butt"/>
<line x1="602.7" y1="129.6" x2="639.5" y2="129.7" stroke="#505256" stroke-width="1.5" opacity="0.8" stroke-linecap="butt"/>
<polygon points="603.6,123.9 630.7,123.9 634.8,126.4 610.3,126.3" fill="#1c1cb0"/>
<polygon points="627.1,119.6 660.9,119.6 680.1,132.1 642.1,131.8" fill="url(#lgTop)"/>
<line x1="628.9" y1="121.1" x2="663.0" y2="121.0" stroke="#77797d" stroke-width="1.0" opacity="0.8" stroke-linecap="butt"/>
<line x1="631.6" y1="123.3" x2="666.2" y2="123.0" stroke="#55575b" stroke-width="1.3" opacity="0.8" stroke-linecap="butt"/>
<line x1="634.0" y1="125.2" x2="669.0" y2="124.9" stroke="#e4e5e7" stroke-width="0.9" opacity="0.8" stroke-linecap="butt"/>
<line x1="636.1" y1="126.9" x2="671.5" y2="126.5" stroke="#4e5054" stroke-width="1.4" opacity="0.8" stroke-linecap="butt"/>
<line x1="638.5" y1="128.9" x2="674.3" y2="128.3" stroke="#8a8c90" stroke-width="1.0" opacity="0.8" stroke-linecap="butt"/>
<line x1="640.6" y1="130.6" x2="676.8" y2="129.9" stroke="#505256" stroke-width="1.5" opacity="0.8" stroke-linecap="butt"/>
<polygon points="643.9,127.9 670.6,127.1 675.4,129.5 651.0,130.1" fill="#a01e98"/>
<polygon points="660.9,119.6 695.2,119.6 719.7,132.6 680.1,132.1" fill="url(#lgTop)"/>
<line x1="663.2" y1="121.1" x2="697.9" y2="121.0" stroke="#77797d" stroke-width="1.0" opacity="0.8" stroke-linecap="butt"/>
<line x1="666.7" y1="123.3" x2="702.0" y2="123.2" stroke="#55575b" stroke-width="1.3" opacity="0.8" stroke-linecap="butt"/>
<line x1="669.7" y1="125.3" x2="705.6" y2="125.1" stroke="#e4e5e7" stroke-width="0.9" opacity="0.8" stroke-linecap="butt"/>
<line x1="672.4" y1="127.1" x2="708.7" y2="126.8" stroke="#4e5054" stroke-width="1.4" opacity="0.8" stroke-linecap="butt"/>
<line x1="675.5" y1="129.1" x2="712.3" y2="128.7" stroke="#8a8c90" stroke-width="1.0" opacity="0.8" stroke-linecap="butt"/>
<line x1="678.2" y1="130.8" x2="715.5" y2="130.4" stroke="#505256" stroke-width="1.5" opacity="0.8" stroke-linecap="butt"/>
<polygon points="682.3,129.1 709.7,128.3 715.8,131.0 690.6,131.5" fill="#1c1cb0"/>
<polygon points="695.2,119.6 733.4,120.0 763.5,132.6 719.7,132.6" fill="url(#lgTop)"/>
<line x1="698.1" y1="121.2" x2="736.7" y2="121.4" stroke="#77797d" stroke-width="1.0" opacity="0.8" stroke-linecap="butt"/>
<line x1="702.6" y1="123.5" x2="741.7" y2="123.5" stroke="#55575b" stroke-width="1.3" opacity="0.8" stroke-linecap="butt"/>
<line x1="706.5" y1="125.6" x2="746.1" y2="125.3" stroke="#e4e5e7" stroke-width="0.9" opacity="0.8" stroke-linecap="butt"/>
<line x1="709.9" y1="127.4" x2="750.0" y2="127.0" stroke="#4e5054" stroke-width="1.4" opacity="0.8" stroke-linecap="butt"/>
<line x1="713.8" y1="129.5" x2="754.4" y2="128.8" stroke="#8a8c90" stroke-width="1.0" opacity="0.8" stroke-linecap="butt"/>
<line x1="717.2" y1="131.3" x2="758.3" y2="130.4" stroke="#505256" stroke-width="1.5" opacity="0.8" stroke-linecap="butt"/>
<polygon points="709.5,123.4 739.1,123.2 746.2,125.7 719.3,126.0" fill="#1c1cb0"/>
<circle cx="572.8" cy="148.0" r="2.50" fill="url(#gO)"/>
<circle cx="574.7" cy="152.3" r="2.50" fill="url(#gO)"/>
<circle cx="576.4" cy="155.9" r="2.50" fill="url(#gO)"/>
<circle cx="584.1" cy="186.4" r="2.50" fill="url(#gO)"/>
<circle cx="585.8" cy="192.5" r="2.50" fill="url(#gO)"/>
<circle cx="587.2" cy="197.7" r="2.50" fill="url(#gO)"/>
<circle cx="597.4" cy="224.9" r="2.50" fill="url(#gO)"/>
<circle cx="599.7" cy="229.9" r="2.50" fill="url(#gO)"/>
<circle cx="601.7" cy="234.1" r="2.50" fill="url(#gO)"/>
<circle cx="611.1" cy="155.5" r="3.00" fill="url(#gO)"/>
<circle cx="650.4" cy="156.0" r="3.00" fill="url(#gO)"/>
<circle cx="688.7" cy="156.7" r="3.00" fill="url(#gO)"/>
<circle cx="732.2" cy="157.2" r="3.00" fill="url(#gO)"/>
<circle cx="766.2" cy="154.7" r="3.00" fill="url(#gO)"/>
<circle cx="626.7" cy="203.0" r="3.00" fill="url(#gO)"/>
<circle cx="665.5" cy="204.3" r="3.00" fill="url(#gO)"/>
<circle cx="703.6" cy="204.5" r="3.00" fill="url(#gO)"/>
<circle cx="746.9" cy="204.3" r="3.00" fill="url(#gO)"/>
<circle cx="779.4" cy="198.7" r="3.00" fill="url(#gO)"/>
<circle cx="641.5" cy="235.3" r="3.00" fill="url(#gO)"/>
<circle cx="680.8" cy="238.8" r="3.00" fill="url(#gO)"/>
<circle cx="719.6" cy="238.3" r="3.00" fill="url(#gO)"/>
<circle cx="760.9" cy="238.8" r="3.00" fill="url(#gO)"/>
<circle cx="795.2" cy="235.1" r="3.00" fill="url(#gO)"/>
<circle cx="561.3" cy="120.0" r="3.20" fill="url(#gO)"/>
<circle cx="562.6" cy="121.9" r="3.44" fill="url(#gO)"/>
<circle cx="564.1" cy="124.3" r="3.68" fill="url(#gO)"/>
<circle cx="565.8" cy="126.9" r="3.91" fill="url(#gO)"/>
<circle cx="567.5" cy="129.6" r="4.15" fill="url(#gO)"/>
<circle cx="592.6" cy="118.8" r="3.20" fill="url(#gO)"/>
<circle cx="594.9" cy="121.2" r="3.44" fill="url(#gO)"/>
<circle cx="597.6" cy="124.2" r="3.68" fill="url(#gO)"/>
<circle cx="600.6" cy="127.4" r="3.91" fill="url(#gO)"/>
<circle cx="603.8" cy="130.8" r="4.15" fill="url(#gO)"/>
<circle cx="627.1" cy="119.6" r="3.20" fill="url(#gO)"/>
<circle cx="630.1" cy="122.1" r="3.44" fill="url(#gO)"/>
<circle cx="633.9" cy="125.1" r="3.68" fill="url(#gO)"/>
<circle cx="637.9" cy="128.4" r="3.91" fill="url(#gO)"/>
<circle cx="642.1" cy="131.8" r="4.15" fill="url(#gO)"/>
<circle cx="660.9" cy="119.6" r="3.20" fill="url(#gO)"/>
<circle cx="664.8" cy="122.1" r="3.44" fill="url(#gO)"/>
<circle cx="669.6" cy="125.2" r="3.68" fill="url(#gO)"/>
<circle cx="674.7" cy="128.6" r="3.91" fill="url(#gO)"/>
<circle cx="680.1" cy="132.1" r="4.15" fill="url(#gO)"/>
<circle cx="695.2" cy="119.6" r="3.20" fill="url(#gO)"/>
<circle cx="700.2" cy="122.2" r="3.44" fill="url(#gO)"/>
<circle cx="706.2" cy="125.5" r="3.68" fill="url(#gO)"/>
<circle cx="712.8" cy="128.9" r="3.91" fill="url(#gO)"/>
<circle cx="719.7" cy="132.6" r="4.15" fill="url(#gO)"/>
<circle cx="733.4" cy="120.0" r="3.20" fill="url(#gO)"/>
<circle cx="739.5" cy="122.6" r="3.44" fill="url(#gO)"/>
<circle cx="747.0" cy="125.7" r="3.68" fill="url(#gO)"/>
<circle cx="755.0" cy="129.1" r="3.91" fill="url(#gO)"/>
<circle cx="763.5" cy="132.6" r="4.15" fill="url(#gO)"/>
<circle cx="580.0" cy="160.1" r="4.15" fill="url(#gO)"/>
<circle cx="617.1" cy="160.9" r="4.15" fill="url(#gO)"/>
<circle cx="656.4" cy="161.4" r="4.15" fill="url(#gO)"/>
<circle cx="694.7" cy="162.1" r="4.15" fill="url(#gO)"/>
<circle cx="738.2" cy="162.6" r="4.15" fill="url(#gO)"/>
<circle cx="772.2" cy="160.1" r="4.15" fill="url(#gO)"/>
<circle cx="590.6" cy="203.4" r="4.15" fill="url(#gO)"/>
<circle cx="631.3" cy="209.4" r="4.15" fill="url(#gO)"/>
<circle cx="670.1" cy="210.7" r="4.15" fill="url(#gO)"/>
<circle cx="708.2" cy="210.9" r="4.15" fill="url(#gO)"/>
<circle cx="751.5" cy="210.7" r="4.15" fill="url(#gO)"/>
<circle cx="784.0" cy="205.1" r="4.15" fill="url(#gO)"/>
<circle cx="605.6" cy="238.9" r="4.15" fill="url(#gO)"/>
<circle cx="647.1" cy="240.9" r="4.15" fill="url(#gO)"/>
<circle cx="686.4" cy="244.4" r="4.15" fill="url(#gO)"/>
<circle cx="725.2" cy="243.9" r="4.15" fill="url(#gO)"/>
<circle cx="766.5" cy="244.4" r="4.15" fill="url(#gO)"/>
<circle cx="800.8" cy="240.7" r="4.15" fill="url(#gO)"/>
<circle cx="779.0" cy="163.9" r="4.15" fill="url(#gO)"/>
<circle cx="791.5" cy="210.7" r="4.15" fill="url(#gO)"/>
<circle cx="729.3" cy="159.7" r="3.20" fill="url(#gO)"/>
<circle cx="660.9" cy="196.9" r="3.20" fill="url(#gO)"/>
<circle cx="627.6" cy="203.1" r="3.20" fill="url(#gO)"/>
<circle cx="759.5" cy="185.0" r="9.20" fill="url(#gLi)"/>
<circle cx="878.8" cy="247.7" r="9.20" fill="url(#gLi)"/>
<circle cx="914.6" cy="245.7" r="9.00" fill="url(#gLi)"/>
<circle cx="965.7" cy="254.7" r="9.80" fill="url(#gLi)"/>
<circle cx="987.2" cy="247.2" r="9.00" fill="url(#gLi)"/>
<circle cx="1029.5" cy="249.4" r="9.20" fill="url(#gLi)"/>
<polygon points="843.8,202.6 883.8,207.6 900.1,238.9 858.8,237.7" fill="url(#lgG)" stroke="#8e9096" stroke-width="0.7" stroke-linejoin="round"/>
<line x1="843.8" y1="202.6" x2="858.8" y2="237.7" stroke="#505256" stroke-width="0.9" opacity="0.6" stroke-linecap="butt"/>
<polygon points="883.8,207.6 900.1,238.9 871.6,221.7" fill="#8f9197" opacity="0.22"/>
<polygon points="900.1,238.9 858.8,237.7 871.6,221.7" fill="#8f9197" opacity="0.12"/>
<polygon points="843.8,202.6 883.8,207.6 871.6,221.7" fill="#ffffff" opacity="0.16"/>
<line x1="843.8" y1="202.6" x2="871.6" y2="221.7" stroke="#e6e7ea" stroke-width="1.4" opacity="0.3" stroke-linecap="butt"/>
<line x1="883.8" y1="207.6" x2="871.6" y2="221.7" stroke="#e6e7ea" stroke-width="1.4" opacity="0.3" stroke-linecap="butt"/>
<line x1="900.1" y1="238.9" x2="871.6" y2="221.7" stroke="#e6e7ea" stroke-width="1.4" opacity="0.3" stroke-linecap="butt"/>
<line x1="858.8" y1="237.7" x2="871.6" y2="221.7" stroke="#e6e7ea" stroke-width="1.4" opacity="0.3" stroke-linecap="butt"/>
<polygon points="843.8,202.6 883.8,207.6 885.5,212.0 845.5,207.0" fill="#66686c" opacity="0.6"/>
<line x1="847.7" y1="205.3" x2="859.9" y2="213.7" stroke="#dc8c8c" stroke-width="2.6" stroke-dasharray="4.6 2.8" opacity="0.55" stroke-linecap="butt"/>
<line x1="882.1" y1="209.6" x2="876.7" y2="215.8" stroke="#dc8c8c" stroke-width="2.6" stroke-dasharray="4.6 2.8" opacity="0.55" stroke-linecap="butt"/>
<line x1="896.1" y1="236.5" x2="883.6" y2="228.9" stroke="#dc8c8c" stroke-width="2.6" stroke-dasharray="4.6 2.8" opacity="0.55" stroke-linecap="butt"/>
<line x1="860.6" y1="235.5" x2="866.2" y2="228.4" stroke="#dc8c8c" stroke-width="2.6" stroke-dasharray="4.6 2.8" opacity="0.55" stroke-linecap="butt"/>
<circle cx="871.9" cy="221.2" r="8.30" fill="url(#sG)"/>
<polygon points="883.8,207.6 921.9,208.9 938.1,241.4 900.1,238.9" fill="url(#lgB)" stroke="#0a0a70" stroke-width="0.7" stroke-linejoin="round"/>
<line x1="883.8" y1="207.6" x2="900.1" y2="238.9" stroke="#050550" stroke-width="0.9" opacity="0.6" stroke-linecap="butt"/>
<polygon points="921.9,208.9 938.1,241.4 911.0,224.2" fill="#08086a" opacity="0.22"/>
<polygon points="938.1,241.4 900.1,238.9 911.0,224.2" fill="#08086a" opacity="0.12"/>
<polygon points="883.8,207.6 921.9,208.9 911.0,224.2" fill="#4848d8" opacity="0.16"/>
<line x1="883.8" y1="207.6" x2="911.0" y2="224.2" stroke="#3434c0" stroke-width="1.4" opacity="0.3" stroke-linecap="butt"/>
<line x1="921.9" y1="208.9" x2="911.0" y2="224.2" stroke="#3434c0" stroke-width="1.4" opacity="0.3" stroke-linecap="butt"/>
<line x1="938.1" y1="241.4" x2="911.0" y2="224.2" stroke="#3434c0" stroke-width="1.4" opacity="0.3" stroke-linecap="butt"/>
<line x1="900.1" y1="238.9" x2="911.0" y2="224.2" stroke="#3434c0" stroke-width="1.4" opacity="0.3" stroke-linecap="butt"/>
<polygon points="883.8,207.6 921.9,208.9 923.0,211.9 884.9,210.6" fill="#060650" opacity="0.6"/>
<line x1="887.6" y1="209.9" x2="899.6" y2="217.2" stroke="#5a2890" stroke-width="2.6" stroke-dasharray="4.6 2.8" opacity="0.55" stroke-linecap="butt"/>
<line x1="920.4" y1="211.0" x2="915.6" y2="217.8" stroke="#5a2890" stroke-width="2.6" stroke-dasharray="4.6 2.8" opacity="0.55" stroke-linecap="butt"/>
<line x1="934.3" y1="239.0" x2="922.4" y2="231.4" stroke="#5a2890" stroke-width="2.6" stroke-dasharray="4.6 2.8" opacity="0.55" stroke-linecap="butt"/>
<line x1="901.6" y1="236.8" x2="906.4" y2="230.4" stroke="#5a2890" stroke-width="2.6" stroke-dasharray="4.6 2.8" opacity="0.55" stroke-linecap="butt"/>
<circle cx="911.3" cy="223.7" r="8.30" fill="url(#sB)"/>
<polygon points="921.9,208.9 959.7,209.4 975.9,241.4 938.1,241.4" fill="url(#lgG)" stroke="#8e9096" stroke-width="0.7" stroke-linejoin="round"/>
<line x1="921.9" y1="208.9" x2="938.1" y2="241.4" stroke="#505256" stroke-width="0.9" opacity="0.6" stroke-linecap="butt"/>
<polygon points="959.7,209.4 975.9,241.4 948.9,225.3" fill="#8f9197" opacity="0.22"/>
<polygon points="975.9,241.4 938.1,241.4 948.9,225.3" fill="#8f9197" opacity="0.12"/>
<polygon points="921.9,208.9 959.7,209.4 948.9,225.3" fill="#ffffff" opacity="0.16"/>
<line x1="921.9" y1="208.9" x2="948.9" y2="225.3" stroke="#e6e7ea" stroke-width="1.4" opacity="0.3" stroke-linecap="butt"/>
<line x1="959.7" y1="209.4" x2="948.9" y2="225.3" stroke="#e6e7ea" stroke-width="1.4" opacity="0.3" stroke-linecap="butt"/>
<line x1="975.9" y1="241.4" x2="948.9" y2="225.3" stroke="#e6e7ea" stroke-width="1.4" opacity="0.3" stroke-linecap="butt"/>
<line x1="938.1" y1="241.4" x2="948.9" y2="225.3" stroke="#e6e7ea" stroke-width="1.4" opacity="0.3" stroke-linecap="butt"/>
<polygon points="921.9,208.9 959.7,209.4 961.4,213.8 923.6,213.3" fill="#66686c" opacity="0.6"/>
<line x1="925.7" y1="211.2" x2="937.6" y2="218.4" stroke="#dc8c8c" stroke-width="2.6" stroke-dasharray="4.6 2.8" opacity="0.55" stroke-linecap="butt"/>
<line x1="958.2" y1="211.6" x2="953.4" y2="218.6" stroke="#dc8c8c" stroke-width="2.6" stroke-dasharray="4.6 2.8" opacity="0.55" stroke-linecap="butt"/>
<line x1="972.1" y1="239.1" x2="960.2" y2="232.0" stroke="#dc8c8c" stroke-width="2.6" stroke-dasharray="4.6 2.8" opacity="0.55" stroke-linecap="butt"/>
<line x1="939.6" y1="239.1" x2="944.4" y2="232.0" stroke="#dc8c8c" stroke-width="2.6" stroke-dasharray="4.6 2.8" opacity="0.55" stroke-linecap="butt"/>
<circle cx="949.2" cy="224.8" r="8.30" fill="url(#sG)"/>
<polygon points="959.7,209.4 1001.0,209.4 1017.0,242.7 975.9,241.4" fill="url(#lgG)" stroke="#8e9096" stroke-width="0.7" stroke-linejoin="round"/>
<line x1="959.7" y1="209.4" x2="975.9" y2="241.4" stroke="#505256" stroke-width="0.9" opacity="0.6" stroke-linecap="butt"/>
<polygon points="1001.0,209.4 1017.0,242.7 988.4,225.7" fill="#8f9197" opacity="0.22"/>
<polygon points="1017.0,242.7 975.9,241.4 988.4,225.7" fill="#8f9197" opacity="0.12"/>
<polygon points="959.7,209.4 1001.0,209.4 988.4,225.7" fill="#ffffff" opacity="0.16"/>
<line x1="959.7" y1="209.4" x2="988.4" y2="225.7" stroke="#e6e7ea" stroke-width="1.4" opacity="0.3" stroke-linecap="butt"/>
<line x1="1001.0" y1="209.4" x2="988.4" y2="225.7" stroke="#e6e7ea" stroke-width="1.4" opacity="0.3" stroke-linecap="butt"/>
<line x1="1017.0" y1="242.7" x2="988.4" y2="225.7" stroke="#e6e7ea" stroke-width="1.4" opacity="0.3" stroke-linecap="butt"/>
<line x1="975.9" y1="241.4" x2="988.4" y2="225.7" stroke="#e6e7ea" stroke-width="1.4" opacity="0.3" stroke-linecap="butt"/>
<polygon points="959.7,209.4 1001.0,209.4 1002.7,213.8 961.4,213.8" fill="#66686c" opacity="0.6"/>
<line x1="963.7" y1="211.7" x2="976.3" y2="218.9" stroke="#dc8c8c" stroke-width="2.6" stroke-dasharray="4.6 2.8" opacity="0.55" stroke-linecap="butt"/>
<line x1="999.2" y1="211.7" x2="993.7" y2="218.9" stroke="#dc8c8c" stroke-width="2.6" stroke-dasharray="4.6 2.8" opacity="0.55" stroke-linecap="butt"/>
<line x1="1013.0" y1="240.3" x2="1000.4" y2="232.9" stroke="#dc8c8c" stroke-width="2.6" stroke-dasharray="4.6 2.8" opacity="0.55" stroke-linecap="butt"/>
<line x1="977.6" y1="239.2" x2="983.1" y2="232.3" stroke="#dc8c8c" stroke-width="2.6" stroke-dasharray="4.6 2.8" opacity="0.55" stroke-linecap="butt"/>
<circle cx="988.7" cy="225.2" r="8.30" fill="url(#sG)"/>
<polygon points="1001.0,209.4 1043.2,209.6 1053.3,240.7 1017.0,242.7" fill="url(#lgG)" stroke="#8e9096" stroke-width="0.7" stroke-linejoin="round"/>
<line x1="1001.0" y1="209.4" x2="1017.0" y2="242.7" stroke="#505256" stroke-width="0.9" opacity="0.6" stroke-linecap="butt"/>
<polygon points="1043.2,209.6 1053.3,240.7 1028.6,225.6" fill="#8f9197" opacity="0.22"/>
<polygon points="1053.3,240.7 1017.0,242.7 1028.6,225.6" fill="#8f9197" opacity="0.12"/>
<polygon points="1001.0,209.4 1043.2,209.6 1028.6,225.6" fill="#ffffff" opacity="0.16"/>
<line x1="1001.0" y1="209.4" x2="1028.6" y2="225.6" stroke="#e6e7ea" stroke-width="1.4" opacity="0.3" stroke-linecap="butt"/>
<line x1="1043.2" y1="209.6" x2="1028.6" y2="225.6" stroke="#e6e7ea" stroke-width="1.4" opacity="0.3" stroke-linecap="butt"/>
<line x1="1053.3" y1="240.7" x2="1028.6" y2="225.6" stroke="#e6e7ea" stroke-width="1.4" opacity="0.3" stroke-linecap="butt"/>
<line x1="1017.0" y1="242.7" x2="1028.6" y2="225.6" stroke="#e6e7ea" stroke-width="1.4" opacity="0.3" stroke-linecap="butt"/>
<polygon points="1001.0,209.4 1043.2,209.6 1044.9,214.0 1002.7,213.8" fill="#66686c" opacity="0.6"/>
<line x1="1004.9" y1="211.7" x2="1017.0" y2="218.8" stroke="#dc8c8c" stroke-width="2.6" stroke-dasharray="4.6 2.8" opacity="0.55" stroke-linecap="butt"/>
<line x1="1041.2" y1="211.8" x2="1034.7" y2="218.9" stroke="#dc8c8c" stroke-width="2.6" stroke-dasharray="4.6 2.8" opacity="0.55" stroke-linecap="butt"/>
<line x1="1049.8" y1="238.6" x2="1039.0" y2="231.9" stroke="#dc8c8c" stroke-width="2.6" stroke-dasharray="4.6 2.8" opacity="0.55" stroke-linecap="butt"/>
<line x1="1018.6" y1="240.3" x2="1023.7" y2="232.8" stroke="#dc8c8c" stroke-width="2.6" stroke-dasharray="4.6 2.8" opacity="0.55" stroke-linecap="butt"/>
<circle cx="1028.9" cy="225.1" r="8.30" fill="url(#sG)"/>
<polygon points="833.0,157.1 870.1,158.8 883.8,207.6 843.8,202.6" fill="url(#lgGr)" stroke="#5aa85c" stroke-width="0.7" stroke-linejoin="round"/>
<line x1="833.0" y1="157.1" x2="843.8" y2="202.6" stroke="#3f8a46" stroke-width="0.9" opacity="0.6" stroke-linecap="butt"/>
<polygon points="870.1,158.8 883.8,207.6 857.7,181.5" fill="#4f9f55" opacity="0.22"/>
<polygon points="883.8,207.6 843.8,202.6 857.7,181.5" fill="#4f9f55" opacity="0.12"/>
<polygon points="833.0,157.1 870.1,158.8 857.7,181.5" fill="#c8f5c2" opacity="0.16"/>
<line x1="833.0" y1="157.1" x2="857.7" y2="181.5" stroke="#a6e6a0" stroke-width="1.4" opacity="0.3" stroke-linecap="butt"/>
<line x1="870.1" y1="158.8" x2="857.7" y2="181.5" stroke="#a6e6a0" stroke-width="1.4" opacity="0.3" stroke-linecap="butt"/>
<line x1="883.8" y1="207.6" x2="857.7" y2="181.5" stroke="#a6e6a0" stroke-width="1.4" opacity="0.3" stroke-linecap="butt"/>
<line x1="843.8" y1="202.6" x2="857.7" y2="181.5" stroke="#a6e6a0" stroke-width="1.4" opacity="0.3" stroke-linecap="butt"/>
<polygon points="833.0,157.1 870.1,158.8 871.4,162.2 834.3,160.5" fill="#478c4e" opacity="0.6"/>
<line x1="836.5" y1="160.5" x2="847.3" y2="171.3" stroke="#c99a74" stroke-width="2.6" stroke-dasharray="4.6 2.8" opacity="0.55" stroke-linecap="butt"/>
<line x1="868.4" y1="162.0" x2="862.9" y2="172.0" stroke="#c99a74" stroke-width="2.6" stroke-dasharray="4.6 2.8" opacity="0.55" stroke-linecap="butt"/>
<line x1="880.1" y1="203.9" x2="868.6" y2="192.5" stroke="#c99a74" stroke-width="2.6" stroke-dasharray="4.6 2.8" opacity="0.55" stroke-linecap="butt"/>
<line x1="845.7" y1="199.6" x2="851.8" y2="190.4" stroke="#c99a74" stroke-width="2.6" stroke-dasharray="4.6 2.8" opacity="0.55" stroke-linecap="butt"/>
<circle cx="858.0" cy="181.0" r="9.00" fill="url(#sGr)"/>
<polygon points="870.1,158.8 908.9,158.3 921.9,208.9 883.8,207.6" fill="url(#lgGr)" stroke="#5aa85c" stroke-width="0.7" stroke-linejoin="round"/>
<line x1="870.1" y1="158.8" x2="883.8" y2="207.6" stroke="#3f8a46" stroke-width="0.9" opacity="0.6" stroke-linecap="butt"/>
<polygon points="908.9,158.3 921.9,208.9 896.2,183.4" fill="#4f9f55" opacity="0.22"/>
<polygon points="921.9,208.9 883.8,207.6 896.2,183.4" fill="#4f9f55" opacity="0.12"/>
<polygon points="870.1,158.8 908.9,158.3 896.2,183.4" fill="#c8f5c2" opacity="0.16"/>
<line x1="870.1" y1="158.8" x2="896.2" y2="183.4" stroke="#a6e6a0" stroke-width="1.4" opacity="0.3" stroke-linecap="butt"/>
<line x1="908.9" y1="158.3" x2="896.2" y2="183.4" stroke="#a6e6a0" stroke-width="1.4" opacity="0.3" stroke-linecap="butt"/>
<line x1="921.9" y1="208.9" x2="896.2" y2="183.4" stroke="#a6e6a0" stroke-width="1.4" opacity="0.3" stroke-linecap="butt"/>
<line x1="883.8" y1="207.6" x2="896.2" y2="183.4" stroke="#a6e6a0" stroke-width="1.4" opacity="0.3" stroke-linecap="butt"/>
<polygon points="870.1,158.8 908.9,158.3 910.2,161.7 871.4,162.2" fill="#478c4e" opacity="0.6"/>
<line x1="873.8" y1="162.2" x2="885.2" y2="173.1" stroke="#c99a74" stroke-width="2.6" stroke-dasharray="4.6 2.8" opacity="0.55" stroke-linecap="butt"/>
<line x1="907.1" y1="161.8" x2="901.5" y2="172.9" stroke="#c99a74" stroke-width="2.6" stroke-dasharray="4.6 2.8" opacity="0.55" stroke-linecap="butt"/>
<line x1="918.3" y1="205.3" x2="907.0" y2="194.1" stroke="#c99a74" stroke-width="2.6" stroke-dasharray="4.6 2.8" opacity="0.55" stroke-linecap="butt"/>
<line x1="885.5" y1="204.2" x2="891.0" y2="193.6" stroke="#c99a74" stroke-width="2.6" stroke-dasharray="4.6 2.8" opacity="0.55" stroke-linecap="butt"/>
<circle cx="896.5" cy="182.9" r="9.00" fill="url(#sGr)"/>
<polygon points="908.9,158.3 948.1,159.3 959.7,209.4 921.9,208.9" fill="url(#lgGr)" stroke="#5aa85c" stroke-width="0.7" stroke-linejoin="round"/>
<line x1="908.9" y1="158.3" x2="921.9" y2="208.9" stroke="#3f8a46" stroke-width="0.9" opacity="0.6" stroke-linecap="butt"/>
<polygon points="948.1,159.3 959.7,209.4 934.6,184.0" fill="#4f9f55" opacity="0.22"/>
<polygon points="959.7,209.4 921.9,208.9 934.6,184.0" fill="#4f9f55" opacity="0.12"/>
<polygon points="908.9,158.3 948.1,159.3 934.6,184.0" fill="#c8f5c2" opacity="0.16"/>
<line x1="908.9" y1="158.3" x2="934.6" y2="184.0" stroke="#a6e6a0" stroke-width="1.4" opacity="0.3" stroke-linecap="butt"/>
<line x1="948.1" y1="159.3" x2="934.6" y2="184.0" stroke="#a6e6a0" stroke-width="1.4" opacity="0.3" stroke-linecap="butt"/>
<line x1="959.7" y1="209.4" x2="934.6" y2="184.0" stroke="#a6e6a0" stroke-width="1.4" opacity="0.3" stroke-linecap="butt"/>
<line x1="921.9" y1="208.9" x2="934.6" y2="184.0" stroke="#a6e6a0" stroke-width="1.4" opacity="0.3" stroke-linecap="butt"/>
<polygon points="908.9,158.3 948.1,159.3 949.4,162.7 910.2,161.7" fill="#478c4e" opacity="0.6"/>
<line x1="912.5" y1="161.9" x2="923.8" y2="173.2" stroke="#c99a74" stroke-width="2.6" stroke-dasharray="4.6 2.8" opacity="0.55" stroke-linecap="butt"/>
<line x1="946.2" y1="162.8" x2="940.3" y2="173.6" stroke="#c99a74" stroke-width="2.6" stroke-dasharray="4.6 2.8" opacity="0.55" stroke-linecap="butt"/>
<line x1="956.2" y1="205.8" x2="945.2" y2="194.7" stroke="#c99a74" stroke-width="2.6" stroke-dasharray="4.6 2.8" opacity="0.55" stroke-linecap="butt"/>
<line x1="923.7" y1="205.4" x2="929.3" y2="194.4" stroke="#c99a74" stroke-width="2.6" stroke-dasharray="4.6 2.8" opacity="0.55" stroke-linecap="butt"/>
<circle cx="934.9" cy="183.5" r="9.00" fill="url(#sGr)"/>
<polygon points="948.1,159.3 991.4,161.9 1001.0,209.4 959.7,209.4" fill="#8fd88a" stroke="#5aa85c" stroke-width="0.6" stroke-linejoin="round"/>
<polygon points="948.1,159.3 991.4,161.9 996.7,188.0 954.5,186.9" fill="#97dc92"/>
<circle cx="969.0" cy="175.0" r="8.50" fill="url(#sGr)"/>
<polygon points="991.4,161.9 1022.7,157.1 1036.0,203.5 1001.0,209.4" fill="url(#lgGr)" stroke="#5aa85c" stroke-width="0.7" stroke-linejoin="round"/>
<line x1="991.4" y1="161.9" x2="1001.0" y2="209.4" stroke="#3f8a46" stroke-width="0.9" opacity="0.6" stroke-linecap="butt"/>
<polygon points="1022.7,157.1 1036.0,203.5 1012.8,183.0" fill="#4f9f55" opacity="0.22"/>
<polygon points="1036.0,203.5 1001.0,209.4 1012.8,183.0" fill="#4f9f55" opacity="0.12"/>
<polygon points="991.4,161.9 1022.7,157.1 1012.8,183.0" fill="#c8f5c2" opacity="0.16"/>
<line x1="991.4" y1="161.9" x2="1012.8" y2="183.0" stroke="#a6e6a0" stroke-width="1.4" opacity="0.3" stroke-linecap="butt"/>
<line x1="1022.7" y1="157.1" x2="1012.8" y2="183.0" stroke="#a6e6a0" stroke-width="1.4" opacity="0.3" stroke-linecap="butt"/>
<line x1="1036.0" y1="203.5" x2="1012.8" y2="183.0" stroke="#a6e6a0" stroke-width="1.4" opacity="0.3" stroke-linecap="butt"/>
<line x1="1001.0" y1="209.4" x2="1012.8" y2="183.0" stroke="#a6e6a0" stroke-width="1.4" opacity="0.3" stroke-linecap="butt"/>
<polygon points="991.4,161.9 1022.7,157.1 1024.0,160.5 992.7,165.3" fill="#478c4e" opacity="0.6"/>
<line x1="994.4" y1="164.9" x2="1003.8" y2="174.1" stroke="#c99a74" stroke-width="2.6" stroke-dasharray="4.6 2.8" opacity="0.55" stroke-linecap="butt"/>
<line x1="1021.3" y1="160.7" x2="1016.9" y2="172.1" stroke="#c99a74" stroke-width="2.6" stroke-dasharray="4.6 2.8" opacity="0.55" stroke-linecap="butt"/>
<line x1="1032.7" y1="200.6" x2="1022.5" y2="191.6" stroke="#c99a74" stroke-width="2.6" stroke-dasharray="4.6 2.8" opacity="0.55" stroke-linecap="butt"/>
<line x1="1002.6" y1="205.7" x2="1007.8" y2="194.1" stroke="#c99a74" stroke-width="2.6" stroke-dasharray="4.6 2.8" opacity="0.55" stroke-linecap="butt"/>
<circle cx="1013.1" cy="182.5" r="9.00" fill="url(#sGr)"/>
<polygon points="956.0,194.5 992.0,195.5 996.0,208.6 960.0,208.2" fill="#c9cbcf"/>
<line x1="957.0" y1="196.2" x2="993.0" y2="197.4" stroke="#7a7c80" stroke-width="1.0" stroke-linecap="butt"/>
<line x1="957.0" y1="199.2" x2="993.0" y2="200.4" stroke="#e8e9eb" stroke-width="1.0" stroke-linecap="butt"/>
<line x1="957.0" y1="201.8" x2="993.0" y2="203.0" stroke="#6a6c70" stroke-width="1.0" stroke-linecap="butt"/>
<polygon points="962.0,204.2 994.0,205.2 996.0,209.2 963.0,208.8" fill="#a01e98"/>
<circle cx="975.5" cy="191.2" r="3.00" fill="url(#gO)"/>
<circle cx="983.0" cy="195.6" r="3.00" fill="url(#gO)"/>
<circle cx="990.0" cy="199.6" r="3.00" fill="url(#gO)"/>
<circle cx="996.0" cy="204.5" r="3.00" fill="url(#gO)"/>
<polygon points="819.5,127.6 856.3,128.3 870.1,158.8 833.0,157.1" fill="url(#lgG)" stroke="#8e9096" stroke-width="0.7" stroke-linejoin="round"/>
<line x1="819.5" y1="127.6" x2="833.0" y2="157.1" stroke="#505256" stroke-width="0.9" opacity="0.6" stroke-linecap="butt"/>
<polygon points="856.3,128.3 870.1,158.8 844.7,142.9" fill="#8f9197" opacity="0.22"/>
<polygon points="870.1,158.8 833.0,157.1 844.7,142.9" fill="#8f9197" opacity="0.12"/>
<polygon points="819.5,127.6 856.3,128.3 844.7,142.9" fill="#ffffff" opacity="0.16"/>
<line x1="819.5" y1="127.6" x2="844.7" y2="142.9" stroke="#e6e7ea" stroke-width="1.4" opacity="0.3" stroke-linecap="butt"/>
<line x1="856.3" y1="128.3" x2="844.7" y2="142.9" stroke="#e6e7ea" stroke-width="1.4" opacity="0.3" stroke-linecap="butt"/>
<line x1="870.1" y1="158.8" x2="844.7" y2="142.9" stroke="#e6e7ea" stroke-width="1.4" opacity="0.3" stroke-linecap="butt"/>
<line x1="833.0" y1="157.1" x2="844.7" y2="142.9" stroke="#e6e7ea" stroke-width="1.4" opacity="0.3" stroke-linecap="butt"/>
<line x1="823.0" y1="129.7" x2="834.1" y2="136.5" stroke="#dc8c8c" stroke-width="2.6" stroke-dasharray="4.6 2.8" opacity="0.55" stroke-linecap="butt"/>
<line x1="854.7" y1="130.4" x2="849.6" y2="136.8" stroke="#dc8c8c" stroke-width="2.6" stroke-dasharray="4.6 2.8" opacity="0.55" stroke-linecap="butt"/>
<line x1="866.5" y1="156.6" x2="855.4" y2="149.6" stroke="#dc8c8c" stroke-width="2.6" stroke-dasharray="4.6 2.8" opacity="0.55" stroke-linecap="butt"/>
<line x1="834.6" y1="155.1" x2="839.8" y2="148.9" stroke="#dc8c8c" stroke-width="2.6" stroke-dasharray="4.6 2.8" opacity="0.55" stroke-linecap="butt"/>
<circle cx="845.0" cy="142.4" r="8.30" fill="url(#sG)"/>
<polygon points="856.3,128.3 894.6,128.8 908.9,158.3 870.1,158.8" fill="url(#lgP)" stroke="#701070" stroke-width="0.7" stroke-linejoin="round"/>
<line x1="856.3" y1="128.3" x2="870.1" y2="158.8" stroke="#500a50" stroke-width="0.9" opacity="0.6" stroke-linecap="butt"/>
<polygon points="894.6,128.8 908.9,158.3 882.5,143.6" fill="#6c0f6c" opacity="0.22"/>
<polygon points="908.9,158.3 870.1,158.8 882.5,143.6" fill="#6c0f6c" opacity="0.12"/>
<polygon points="856.3,128.3 894.6,128.8 882.5,143.6" fill="#e070d8" opacity="0.16"/>
<line x1="856.3" y1="128.3" x2="882.5" y2="143.6" stroke="#c050b8" stroke-width="1.4" opacity="0.3" stroke-linecap="butt"/>
<line x1="894.6" y1="128.8" x2="882.5" y2="143.6" stroke="#c050b8" stroke-width="1.4" opacity="0.3" stroke-linecap="butt"/>
<line x1="908.9" y1="158.3" x2="882.5" y2="143.6" stroke="#c050b8" stroke-width="1.4" opacity="0.3" stroke-linecap="butt"/>
<line x1="870.1" y1="158.8" x2="882.5" y2="143.6" stroke="#c050b8" stroke-width="1.4" opacity="0.3" stroke-linecap="butt"/>
<line x1="860.0" y1="130.4" x2="871.5" y2="137.1" stroke="#c2308a" stroke-width="2.6" stroke-dasharray="4.6 2.8" opacity="0.55" stroke-linecap="butt"/>
<line x1="892.9" y1="130.9" x2="887.6" y2="137.4" stroke="#c2308a" stroke-width="2.6" stroke-dasharray="4.6 2.8" opacity="0.55" stroke-linecap="butt"/>
<line x1="905.2" y1="156.2" x2="893.6" y2="149.7" stroke="#c2308a" stroke-width="2.6" stroke-dasharray="4.6 2.8" opacity="0.55" stroke-linecap="butt"/>
<line x1="871.8" y1="156.7" x2="877.3" y2="150.0" stroke="#c2308a" stroke-width="2.6" stroke-dasharray="4.6 2.8" opacity="0.55" stroke-linecap="butt"/>
<circle cx="882.8" cy="143.1" r="8.30" fill="url(#sP)"/>
<polygon points="894.6,128.8 933.9,128.8 948.1,159.3 908.9,158.3" fill="url(#lgG)" stroke="#8e9096" stroke-width="0.7" stroke-linejoin="round"/>
<line x1="894.6" y1="128.8" x2="908.9" y2="158.3" stroke="#505256" stroke-width="0.9" opacity="0.6" stroke-linecap="butt"/>
<polygon points="933.9,128.8 948.1,159.3 921.4,143.8" fill="#8f9197" opacity="0.22"/>
<polygon points="948.1,159.3 908.9,158.3 921.4,143.8" fill="#8f9197" opacity="0.12"/>
<polygon points="894.6,128.8 933.9,128.8 921.4,143.8" fill="#ffffff" opacity="0.16"/>
<line x1="894.6" y1="128.8" x2="921.4" y2="143.8" stroke="#e6e7ea" stroke-width="1.4" opacity="0.3" stroke-linecap="butt"/>
<line x1="933.9" y1="128.8" x2="921.4" y2="143.8" stroke="#e6e7ea" stroke-width="1.4" opacity="0.3" stroke-linecap="butt"/>
<line x1="948.1" y1="159.3" x2="921.4" y2="143.8" stroke="#e6e7ea" stroke-width="1.4" opacity="0.3" stroke-linecap="butt"/>
<line x1="908.9" y1="158.3" x2="921.4" y2="143.8" stroke="#e6e7ea" stroke-width="1.4" opacity="0.3" stroke-linecap="butt"/>
<line x1="898.3" y1="130.9" x2="910.1" y2="137.5" stroke="#dc8c8c" stroke-width="2.6" stroke-dasharray="4.6 2.8" opacity="0.55" stroke-linecap="butt"/>
<line x1="932.1" y1="130.9" x2="926.6" y2="137.5" stroke="#dc8c8c" stroke-width="2.6" stroke-dasharray="4.6 2.8" opacity="0.55" stroke-linecap="butt"/>
<line x1="944.4" y1="157.1" x2="932.6" y2="150.3" stroke="#dc8c8c" stroke-width="2.6" stroke-dasharray="4.6 2.8" opacity="0.55" stroke-linecap="butt"/>
<line x1="910.6" y1="156.3" x2="916.1" y2="149.9" stroke="#dc8c8c" stroke-width="2.6" stroke-dasharray="4.6 2.8" opacity="0.55" stroke-linecap="butt"/>
<circle cx="921.7" cy="143.3" r="8.30" fill="url(#sG)"/>
<polygon points="933.9,128.8 973.4,131.3 991.4,161.9 948.1,159.3" fill="url(#lgG)" stroke="#8e9096" stroke-width="0.7" stroke-linejoin="round"/>
<line x1="933.9" y1="128.8" x2="948.1" y2="159.3" stroke="#505256" stroke-width="0.9" opacity="0.6" stroke-linecap="butt"/>
<polygon points="973.4,131.3 991.4,161.9 961.7,145.3" fill="#8f9197" opacity="0.22"/>
<polygon points="991.4,161.9 948.1,159.3 961.7,145.3" fill="#8f9197" opacity="0.12"/>
<polygon points="933.9,128.8 973.4,131.3 961.7,145.3" fill="#ffffff" opacity="0.16"/>
<line x1="933.9" y1="128.8" x2="961.7" y2="145.3" stroke="#e6e7ea" stroke-width="1.4" opacity="0.3" stroke-linecap="butt"/>
<line x1="973.4" y1="131.3" x2="961.7" y2="145.3" stroke="#e6e7ea" stroke-width="1.4" opacity="0.3" stroke-linecap="butt"/>
<line x1="991.4" y1="161.9" x2="961.7" y2="145.3" stroke="#e6e7ea" stroke-width="1.4" opacity="0.3" stroke-linecap="butt"/>
<line x1="948.1" y1="159.3" x2="961.7" y2="145.3" stroke="#e6e7ea" stroke-width="1.4" opacity="0.3" stroke-linecap="butt"/>
<line x1="937.8" y1="131.1" x2="950.0" y2="138.4" stroke="#dc8c8c" stroke-width="2.6" stroke-dasharray="4.6 2.8" opacity="0.55" stroke-linecap="butt"/>
<line x1="971.8" y1="133.3" x2="966.6" y2="139.4" stroke="#dc8c8c" stroke-width="2.6" stroke-dasharray="4.6 2.8" opacity="0.55" stroke-linecap="butt"/>
<line x1="987.2" y1="159.6" x2="974.2" y2="152.3" stroke="#dc8c8c" stroke-width="2.6" stroke-dasharray="4.6 2.8" opacity="0.55" stroke-linecap="butt"/>
<line x1="950.0" y1="157.3" x2="956.0" y2="151.2" stroke="#dc8c8c" stroke-width="2.6" stroke-dasharray="4.6 2.8" opacity="0.55" stroke-linecap="butt"/>
<circle cx="962.0" cy="144.8" r="8.30" fill="url(#sG)"/>
<polygon points="973.4,131.3 1014.0,132.1 1022.7,157.1 991.4,161.9" fill="url(#lgG)" stroke="#8e9096" stroke-width="0.7" stroke-linejoin="round"/>
<line x1="973.4" y1="131.3" x2="991.4" y2="161.9" stroke="#505256" stroke-width="0.9" opacity="0.6" stroke-linecap="butt"/>
<polygon points="1014.0,132.1 1022.7,157.1 1000.4,145.6" fill="#8f9197" opacity="0.22"/>
<polygon points="1022.7,157.1 991.4,161.9 1000.4,145.6" fill="#8f9197" opacity="0.12"/>
<polygon points="973.4,131.3 1014.0,132.1 1000.4,145.6" fill="#ffffff" opacity="0.16"/>
<line x1="973.4" y1="131.3" x2="1000.4" y2="145.6" stroke="#e6e7ea" stroke-width="1.4" opacity="0.3" stroke-linecap="butt"/>
<line x1="1014.0" y1="132.1" x2="1000.4" y2="145.6" stroke="#e6e7ea" stroke-width="1.4" opacity="0.3" stroke-linecap="butt"/>
<line x1="1022.7" y1="157.1" x2="1000.4" y2="145.6" stroke="#e6e7ea" stroke-width="1.4" opacity="0.3" stroke-linecap="butt"/>
<line x1="991.4" y1="161.9" x2="1000.4" y2="145.6" stroke="#e6e7ea" stroke-width="1.4" opacity="0.3" stroke-linecap="butt"/>
<line x1="977.2" y1="133.3" x2="989.0" y2="139.6" stroke="#dc8c8c" stroke-width="2.6" stroke-dasharray="4.6 2.8" opacity="0.55" stroke-linecap="butt"/>
<line x1="1012.1" y1="134.0" x2="1006.1" y2="139.9" stroke="#dc8c8c" stroke-width="2.6" stroke-dasharray="4.6 2.8" opacity="0.55" stroke-linecap="butt"/>
<line x1="1019.6" y1="155.5" x2="1009.8" y2="150.4" stroke="#dc8c8c" stroke-width="2.6" stroke-dasharray="4.6 2.8" opacity="0.55" stroke-linecap="butt"/>
<line x1="992.7" y1="159.6" x2="996.6" y2="152.4" stroke="#dc8c8c" stroke-width="2.6" stroke-dasharray="4.6 2.8" opacity="0.55" stroke-linecap="butt"/>
<circle cx="1000.7" cy="145.1" r="8.30" fill="url(#sG)"/>
<polygon points="812.5,119.6 844.5,118.1 856.3,128.3 819.5,127.6" fill="url(#lgTop)"/>
<line x1="813.3" y1="120.6" x2="845.8" y2="119.2" stroke="#77797d" stroke-width="1.0" opacity="0.8" stroke-linecap="butt"/>
<line x1="814.6" y1="122.0" x2="847.8" y2="120.9" stroke="#55575b" stroke-width="1.3" opacity="0.8" stroke-linecap="butt"/>
<line x1="815.7" y1="123.3" x2="849.5" y2="122.4" stroke="#e4e5e7" stroke-width="0.9" opacity="0.8" stroke-linecap="butt"/>
<line x1="816.7" y1="124.4" x2="851.0" y2="123.7" stroke="#4e5054" stroke-width="1.4" opacity="0.8" stroke-linecap="butt"/>
<line x1="817.8" y1="125.7" x2="852.8" y2="125.2" stroke="#8a8c90" stroke-width="1.0" opacity="0.8" stroke-linecap="butt"/>
<line x1="818.8" y1="126.8" x2="854.3" y2="126.5" stroke="#505256" stroke-width="1.5" opacity="0.8" stroke-linecap="butt"/>
<polygon points="844.5,118.1 879.6,118.1 894.6,128.8 856.3,128.3" fill="url(#lgTop)"/>
<line x1="845.9" y1="119.3" x2="881.3" y2="119.3" stroke="#77797d" stroke-width="1.0" opacity="0.8" stroke-linecap="butt"/>
<line x1="848.0" y1="121.2" x2="883.7" y2="121.1" stroke="#55575b" stroke-width="1.3" opacity="0.8" stroke-linecap="butt"/>
<line x1="849.9" y1="122.8" x2="885.9" y2="122.6" stroke="#e4e5e7" stroke-width="0.9" opacity="0.8" stroke-linecap="butt"/>
<line x1="851.6" y1="124.2" x2="887.9" y2="124.0" stroke="#4e5054" stroke-width="1.4" opacity="0.8" stroke-linecap="butt"/>
<line x1="853.5" y1="125.9" x2="890.1" y2="125.6" stroke="#8a8c90" stroke-width="1.0" opacity="0.8" stroke-linecap="butt"/>
<line x1="855.1" y1="127.3" x2="892.0" y2="127.0" stroke="#505256" stroke-width="1.5" opacity="0.8" stroke-linecap="butt"/>
<polygon points="855.8,122.3 883.2,121.9 887.2,124.1 862.7,124.3" fill="#1c1cb0"/>
<polygon points="879.6,118.1 913.9,117.6 933.9,128.8 894.6,128.8" fill="url(#lgTop)"/>
<line x1="881.4" y1="119.4" x2="916.1" y2="118.8" stroke="#77797d" stroke-width="1.0" opacity="0.8" stroke-linecap="butt"/>
<line x1="884.1" y1="121.3" x2="919.4" y2="120.7" stroke="#55575b" stroke-width="1.3" opacity="0.8" stroke-linecap="butt"/>
<line x1="886.5" y1="123.0" x2="922.4" y2="122.3" stroke="#e4e5e7" stroke-width="0.9" opacity="0.8" stroke-linecap="butt"/>
<line x1="888.6" y1="124.5" x2="924.9" y2="123.8" stroke="#4e5054" stroke-width="1.4" opacity="0.8" stroke-linecap="butt"/>
<line x1="891.0" y1="126.2" x2="927.9" y2="125.4" stroke="#8a8c90" stroke-width="1.0" opacity="0.8" stroke-linecap="butt"/>
<line x1="893.1" y1="127.7" x2="930.5" y2="126.9" stroke="#505256" stroke-width="1.5" opacity="0.8" stroke-linecap="butt"/>
<polygon points="896.5,125.4 924.0,124.3 929.0,126.5 903.9,127.2" fill="#a01e98"/>
<polygon points="913.9,117.6 949.4,118.8 973.4,131.3 933.9,128.8" fill="url(#lgTop)"/>
<line x1="916.3" y1="118.9" x2="952.0" y2="120.2" stroke="#77797d" stroke-width="1.0" opacity="0.8" stroke-linecap="butt"/>
<line x1="919.9" y1="121.0" x2="956.0" y2="122.2" stroke="#55575b" stroke-width="1.3" opacity="0.8" stroke-linecap="butt"/>
<line x1="923.1" y1="122.8" x2="959.6" y2="124.1" stroke="#e4e5e7" stroke-width="0.9" opacity="0.8" stroke-linecap="butt"/>
<line x1="925.9" y1="124.3" x2="962.6" y2="125.7" stroke="#4e5054" stroke-width="1.4" opacity="0.8" stroke-linecap="butt"/>
<line x1="929.1" y1="126.1" x2="966.2" y2="127.5" stroke="#8a8c90" stroke-width="1.0" opacity="0.8" stroke-linecap="butt"/>
<line x1="931.9" y1="127.7" x2="969.3" y2="129.2" stroke="#505256" stroke-width="1.5" opacity="0.8" stroke-linecap="butt"/>
<polygon points="935.9,126.5 963.5,127.0 969.6,129.7 944.4,128.8" fill="#1c1cb0"/>
<polygon points="949.4,118.8 985.2,119.6 1014.0,132.1 973.4,131.3" fill="url(#lgTop)"/>
<line x1="952.3" y1="120.3" x2="988.4" y2="121.0" stroke="#77797d" stroke-width="1.0" opacity="0.8" stroke-linecap="butt"/>
<line x1="956.6" y1="122.5" x2="993.1" y2="123.0" stroke="#55575b" stroke-width="1.3" opacity="0.8" stroke-linecap="butt"/>
<line x1="960.4" y1="124.6" x2="997.4" y2="124.9" stroke="#e4e5e7" stroke-width="0.9" opacity="0.8" stroke-linecap="butt"/>
<line x1="963.8" y1="126.3" x2="1001.1" y2="126.5" stroke="#4e5054" stroke-width="1.4" opacity="0.8" stroke-linecap="butt"/>
<line x1="967.6" y1="128.3" x2="1005.3" y2="128.3" stroke="#8a8c90" stroke-width="1.0" opacity="0.8" stroke-linecap="butt"/>
<line x1="971.0" y1="130.1" x2="1009.0" y2="129.9" stroke="#505256" stroke-width="1.5" opacity="0.8" stroke-linecap="butt"/>
<polygon points="963.1,122.6 990.7,122.8 997.4,125.2 972.4,125.1" fill="#1c1cb0"/>
<circle cx="825.4" cy="145.4" r="2.50" fill="url(#gO)"/>
<circle cx="827.5" cy="149.5" r="2.50" fill="url(#gO)"/>
<circle cx="829.2" cy="153.1" r="2.50" fill="url(#gO)"/>
<circle cx="837.2" cy="184.8" r="2.50" fill="url(#gO)"/>
<circle cx="838.9" cy="191.2" r="2.50" fill="url(#gO)"/>
<circle cx="840.4" cy="196.6" r="2.50" fill="url(#gO)"/>
<circle cx="850.6" cy="223.9" r="2.50" fill="url(#gO)"/>
<circle cx="852.9" cy="228.8" r="2.50" fill="url(#gO)"/>
<circle cx="854.9" cy="233.0" r="2.50" fill="url(#gO)"/>
<circle cx="864.1" cy="153.4" r="3.00" fill="url(#gO)"/>
<circle cx="902.9" cy="152.9" r="3.00" fill="url(#gO)"/>
<circle cx="942.1" cy="153.9" r="3.00" fill="url(#gO)"/>
<circle cx="985.4" cy="156.5" r="3.00" fill="url(#gO)"/>
<circle cx="1016.7" cy="151.7" r="3.00" fill="url(#gO)"/>
<circle cx="879.2" cy="201.2" r="3.00" fill="url(#gO)"/>
<circle cx="917.3" cy="202.5" r="3.00" fill="url(#gO)"/>
<circle cx="955.1" cy="203.0" r="3.00" fill="url(#gO)"/>
<circle cx="996.4" cy="203.0" r="3.00" fill="url(#gO)"/>
<circle cx="1031.4" cy="197.1" r="3.00" fill="url(#gO)"/>
<circle cx="894.5" cy="233.3" r="3.00" fill="url(#gO)"/>
<circle cx="932.5" cy="235.8" r="3.00" fill="url(#gO)"/>
<circle cx="970.3" cy="235.8" r="3.00" fill="url(#gO)"/>
<circle cx="1011.4" cy="237.1" r="3.00" fill="url(#gO)"/>
<circle cx="1047.7" cy="235.1" r="3.00" fill="url(#gO)"/>
<circle cx="812.5" cy="119.6" r="3.20" fill="url(#gO)"/>
<circle cx="813.9" cy="121.2" r="3.44" fill="url(#gO)"/>
<circle cx="815.7" cy="123.2" r="3.68" fill="url(#gO)"/>
<circle cx="817.5" cy="125.3" r="3.91" fill="url(#gO)"/>
<circle cx="819.5" cy="127.6" r="4.15" fill="url(#gO)"/>
<circle cx="844.5" cy="118.1" r="3.20" fill="url(#gO)"/>
<circle cx="846.9" cy="120.2" r="3.44" fill="url(#gO)"/>
<circle cx="849.8" cy="122.7" r="3.68" fill="url(#gO)"/>
<circle cx="853.0" cy="125.4" r="3.91" fill="url(#gO)"/>
<circle cx="856.3" cy="128.3" r="4.15" fill="url(#gO)"/>
<circle cx="879.6" cy="118.1" r="3.20" fill="url(#gO)"/>
<circle cx="882.6" cy="120.3" r="3.44" fill="url(#gO)"/>
<circle cx="886.4" cy="122.9" r="3.68" fill="url(#gO)"/>
<circle cx="890.4" cy="125.8" r="3.91" fill="url(#gO)"/>
<circle cx="894.6" cy="128.8" r="4.15" fill="url(#gO)"/>
<circle cx="913.9" cy="117.6" r="3.20" fill="url(#gO)"/>
<circle cx="918.0" cy="119.9" r="3.44" fill="url(#gO)"/>
<circle cx="922.9" cy="122.6" r="3.68" fill="url(#gO)"/>
<circle cx="928.3" cy="125.6" r="3.91" fill="url(#gO)"/>
<circle cx="933.9" cy="128.8" r="4.15" fill="url(#gO)"/>
<circle cx="949.4" cy="118.8" r="3.20" fill="url(#gO)"/>
<circle cx="954.3" cy="121.3" r="3.44" fill="url(#gO)"/>
<circle cx="960.2" cy="124.4" r="3.68" fill="url(#gO)"/>
<circle cx="966.6" cy="127.8" r="3.91" fill="url(#gO)"/>
<circle cx="973.4" cy="131.3" r="4.15" fill="url(#gO)"/>
<circle cx="985.2" cy="119.6" r="3.20" fill="url(#gO)"/>
<circle cx="991.0" cy="122.1" r="3.44" fill="url(#gO)"/>
<circle cx="998.2" cy="125.2" r="3.68" fill="url(#gO)"/>
<circle cx="1005.9" cy="128.6" r="3.91" fill="url(#gO)"/>
<circle cx="1014.0" cy="132.1" r="4.15" fill="url(#gO)"/>
<circle cx="833.0" cy="157.1" r="4.15" fill="url(#gO)"/>
<circle cx="870.1" cy="158.8" r="4.15" fill="url(#gO)"/>
<circle cx="908.9" cy="158.3" r="4.15" fill="url(#gO)"/>
<circle cx="948.1" cy="159.3" r="4.15" fill="url(#gO)"/>
<circle cx="991.4" cy="161.9" r="4.15" fill="url(#gO)"/>
<circle cx="1022.7" cy="157.1" r="4.15" fill="url(#gO)"/>
<circle cx="843.8" cy="202.6" r="4.15" fill="url(#gO)"/>
<circle cx="883.8" cy="207.6" r="4.15" fill="url(#gO)"/>
<circle cx="921.9" cy="208.9" r="4.15" fill="url(#gO)"/>
<circle cx="959.7" cy="209.4" r="4.15" fill="url(#gO)"/>
<circle cx="1001.0" cy="209.4" r="4.15" fill="url(#gO)"/>
<circle cx="1036.0" cy="203.5" r="4.15" fill="url(#gO)"/>
<circle cx="858.8" cy="237.7" r="4.15" fill="url(#gO)"/>
<circle cx="900.1" cy="238.9" r="4.15" fill="url(#gO)"/>
<circle cx="938.1" cy="241.4" r="4.15" fill="url(#gO)"/>
<circle cx="975.9" cy="241.4" r="4.15" fill="url(#gO)"/>
<circle cx="1017.0" cy="242.7" r="4.15" fill="url(#gO)"/>
<circle cx="1053.3" cy="240.7" r="4.15" fill="url(#gO)"/>
<circle cx="1030.2" cy="162.1" r="4.15" fill="url(#gO)"/>
<circle cx="1043.2" cy="209.6" r="4.15" fill="url(#gO)"/>
<circle cx="981.0" cy="157.6" r="3.20" fill="url(#gO)"/>
<circle cx="911.9" cy="196.4" r="3.20" fill="url(#gO)"/>
<circle cx="880.1" cy="202.1" r="3.20" fill="url(#gO)"/>
<circle cx="372.6" cy="246.4" r="9.20" fill="url(#gLi)"/>
<circle cx="407.1" cy="243.9" r="9.00" fill="url(#gLi)"/>
<circle cx="456.4" cy="257.7" r="9.80" fill="url(#gLi)"/>
<circle cx="485.2" cy="250.2" r="9.00" fill="url(#gLi)"/>
<circle cx="525.2" cy="253.9" r="9.00" fill="url(#gLi)"/>
<polygon points="309.0,216.2 340.0,214.0 342.0,223.0 328.0,224.0" fill="#68b668" opacity="0.85"/>
<polygon points="308.5,227.5 341.0,228.0 343.0,237.0 326.0,235.0" fill="#68b668" opacity="0.85"/>
<circle cx="327.5" cy="223.4" r="6.60" fill="url(#gLi)"/>
<circle cx="331.3" cy="236.4" r="8.80" fill="url(#gLi)"/>
<line x1="307.0" y1="216.4" x2="317.0" y2="219.6" stroke="#e02020" stroke-width="2.0" stroke-linecap="butt"/>
<line x1="307.0" y1="227.7" x2="317.0" y2="231.0" stroke="#e02020" stroke-width="2.0" stroke-linecap="butt"/>
<circle cx="307.0" cy="216.4" r="3.30" fill="url(#gO)"/>
<circle cx="307.0" cy="227.7" r="3.30" fill="url(#gO)"/>
<polygon points="337.0,203.9 377.6,208.1 390.1,244.4 350.1,242.2" fill="url(#lgG)" stroke="#8e9096" stroke-width="0.7" stroke-linejoin="round"/>
<line x1="337.0" y1="203.9" x2="350.1" y2="242.2" stroke="#505256" stroke-width="0.9" opacity="0.6" stroke-linecap="butt"/>
<polygon points="377.6,208.1 390.1,244.4 363.7,224.7" fill="#8f9197" opacity="0.22"/>
<polygon points="390.1,244.4 350.1,242.2 363.7,224.7" fill="#8f9197" opacity="0.12"/>
<polygon points="337.0,203.9 377.6,208.1 363.7,224.7" fill="#ffffff" opacity="0.16"/>
<line x1="337.0" y1="203.9" x2="363.7" y2="224.7" stroke="#e6e7ea" stroke-width="1.4" opacity="0.3" stroke-linecap="butt"/>
<line x1="377.6" y1="208.1" x2="363.7" y2="224.7" stroke="#e6e7ea" stroke-width="1.4" opacity="0.3" stroke-linecap="butt"/>
<line x1="390.1" y1="244.4" x2="363.7" y2="224.7" stroke="#e6e7ea" stroke-width="1.4" opacity="0.3" stroke-linecap="butt"/>
<line x1="350.1" y1="242.2" x2="363.7" y2="224.7" stroke="#e6e7ea" stroke-width="1.4" opacity="0.3" stroke-linecap="butt"/>
<polygon points="337.0,203.9 377.6,208.1 379.3,212.5 338.7,208.3" fill="#66686c" opacity="0.6"/>
<line x1="340.7" y1="206.8" x2="352.5" y2="215.9" stroke="#dc8c8c" stroke-width="2.6" stroke-dasharray="4.6 2.8" opacity="0.55" stroke-linecap="butt"/>
<line x1="375.7" y1="210.4" x2="369.5" y2="217.7" stroke="#dc8c8c" stroke-width="2.6" stroke-dasharray="4.6 2.8" opacity="0.55" stroke-linecap="butt"/>
<line x1="386.4" y1="241.6" x2="374.8" y2="232.9" stroke="#dc8c8c" stroke-width="2.6" stroke-dasharray="4.6 2.8" opacity="0.55" stroke-linecap="butt"/>
<line x1="352.0" y1="239.7" x2="358.0" y2="232.0" stroke="#dc8c8c" stroke-width="2.6" stroke-dasharray="4.6 2.8" opacity="0.55" stroke-linecap="butt"/>
<circle cx="364.0" cy="224.2" r="8.30" fill="url(#sG)"/>
<polygon points="377.6,208.1 414.1,210.4 430.1,248.2 390.1,244.4" fill="url(#lgB)" stroke="#0a0a70" stroke-width="0.7" stroke-linejoin="round"/>
<line x1="377.6" y1="208.1" x2="390.1" y2="244.4" stroke="#050550" stroke-width="0.9" opacity="0.6" stroke-linecap="butt"/>
<polygon points="414.1,210.4 430.1,248.2 403.0,227.8" fill="#08086a" opacity="0.22"/>
<polygon points="430.1,248.2 390.1,244.4 403.0,227.8" fill="#08086a" opacity="0.12"/>
<polygon points="377.6,208.1 414.1,210.4 403.0,227.8" fill="#4848d8" opacity="0.16"/>
<line x1="377.6" y1="208.1" x2="403.0" y2="227.8" stroke="#3434c0" stroke-width="1.4" opacity="0.3" stroke-linecap="butt"/>
<line x1="414.1" y1="210.4" x2="403.0" y2="227.8" stroke="#3434c0" stroke-width="1.4" opacity="0.3" stroke-linecap="butt"/>
<line x1="430.1" y1="248.2" x2="403.0" y2="227.8" stroke="#3434c0" stroke-width="1.4" opacity="0.3" stroke-linecap="butt"/>
<line x1="390.1" y1="244.4" x2="403.0" y2="227.8" stroke="#3434c0" stroke-width="1.4" opacity="0.3" stroke-linecap="butt"/>
<polygon points="377.6,208.1 414.1,210.4 415.2,213.4 378.7,211.1" fill="#060650" opacity="0.6"/>
<line x1="381.2" y1="210.9" x2="392.3" y2="219.5" stroke="#5a2890" stroke-width="2.6" stroke-dasharray="4.6 2.8" opacity="0.55" stroke-linecap="butt"/>
<line x1="412.5" y1="212.8" x2="407.6" y2="220.5" stroke="#5a2890" stroke-width="2.6" stroke-dasharray="4.6 2.8" opacity="0.55" stroke-linecap="butt"/>
<line x1="426.3" y1="245.3" x2="414.4" y2="236.4" stroke="#5a2890" stroke-width="2.6" stroke-dasharray="4.6 2.8" opacity="0.55" stroke-linecap="butt"/>
<line x1="391.9" y1="242.1" x2="397.6" y2="234.8" stroke="#5a2890" stroke-width="2.6" stroke-dasharray="4.6 2.8" opacity="0.55" stroke-linecap="butt"/>
<circle cx="403.3" cy="227.3" r="8.30" fill="url(#sB)"/>
<polygon points="414.1,210.4 455.6,211.3 471.4,251.4 430.1,248.2" fill="url(#lgG)" stroke="#8e9096" stroke-width="0.7" stroke-linejoin="round"/>
<line x1="414.1" y1="210.4" x2="430.1" y2="248.2" stroke="#505256" stroke-width="0.9" opacity="0.6" stroke-linecap="butt"/>
<polygon points="455.6,211.3 471.4,251.4 442.8,230.3" fill="#8f9197" opacity="0.22"/>
<polygon points="471.4,251.4 430.1,248.2 442.8,230.3" fill="#8f9197" opacity="0.12"/>
<polygon points="414.1,210.4 455.6,211.3 442.8,230.3" fill="#ffffff" opacity="0.16"/>
<line x1="414.1" y1="210.4" x2="442.8" y2="230.3" stroke="#e6e7ea" stroke-width="1.4" opacity="0.3" stroke-linecap="butt"/>
<line x1="455.6" y1="211.3" x2="442.8" y2="230.3" stroke="#e6e7ea" stroke-width="1.4" opacity="0.3" stroke-linecap="butt"/>
<line x1="471.4" y1="251.4" x2="442.8" y2="230.3" stroke="#e6e7ea" stroke-width="1.4" opacity="0.3" stroke-linecap="butt"/>
<line x1="430.1" y1="248.2" x2="442.8" y2="230.3" stroke="#e6e7ea" stroke-width="1.4" opacity="0.3" stroke-linecap="butt"/>
<polygon points="414.1,210.4 455.6,211.3 457.3,215.7 415.8,214.8" fill="#66686c" opacity="0.6"/>
<line x1="418.1" y1="213.2" x2="430.7" y2="222.0" stroke="#dc8c8c" stroke-width="2.6" stroke-dasharray="4.6 2.8" opacity="0.55" stroke-linecap="butt"/>
<line x1="453.8" y1="214.0" x2="448.2" y2="222.3" stroke="#dc8c8c" stroke-width="2.6" stroke-dasharray="4.6 2.8" opacity="0.55" stroke-linecap="butt"/>
<line x1="467.4" y1="248.4" x2="454.8" y2="239.2" stroke="#dc8c8c" stroke-width="2.6" stroke-dasharray="4.6 2.8" opacity="0.55" stroke-linecap="butt"/>
<line x1="431.9" y1="245.7" x2="437.5" y2="237.8" stroke="#dc8c8c" stroke-width="2.6" stroke-dasharray="4.6 2.8" opacity="0.55" stroke-linecap="butt"/>
<circle cx="443.1" cy="229.8" r="8.30" fill="url(#sG)"/>
<polygon points="455.6,211.3 498.3,214.6 514.0,254.4 471.4,251.4" fill="url(#lgG)" stroke="#8e9096" stroke-width="0.7" stroke-linejoin="round"/>
<line x1="455.6" y1="211.3" x2="471.4" y2="251.4" stroke="#505256" stroke-width="0.9" opacity="0.6" stroke-linecap="butt"/>
<polygon points="498.3,214.6 514.0,254.4 484.8,232.9" fill="#8f9197" opacity="0.22"/>
<polygon points="514.0,254.4 471.4,251.4 484.8,232.9" fill="#8f9197" opacity="0.12"/>
<polygon points="455.6,211.3 498.3,214.6 484.8,232.9" fill="#ffffff" opacity="0.16"/>
<line x1="455.6" y1="211.3" x2="484.8" y2="232.9" stroke="#e6e7ea" stroke-width="1.4" opacity="0.3" stroke-linecap="butt"/>
<line x1="498.3" y1="214.6" x2="484.8" y2="232.9" stroke="#e6e7ea" stroke-width="1.4" opacity="0.3" stroke-linecap="butt"/>
<line x1="514.0" y1="254.4" x2="484.8" y2="232.9" stroke="#e6e7ea" stroke-width="1.4" opacity="0.3" stroke-linecap="butt"/>
<line x1="471.4" y1="251.4" x2="484.8" y2="232.9" stroke="#e6e7ea" stroke-width="1.4" opacity="0.3" stroke-linecap="butt"/>
<polygon points="455.6,211.3 498.3,214.6 500.0,219.0 457.3,215.7" fill="#66686c" opacity="0.6"/>
<line x1="459.7" y1="214.3" x2="472.6" y2="223.8" stroke="#dc8c8c" stroke-width="2.6" stroke-dasharray="4.6 2.8" opacity="0.55" stroke-linecap="butt"/>
<line x1="496.4" y1="217.2" x2="490.5" y2="225.2" stroke="#dc8c8c" stroke-width="2.6" stroke-dasharray="4.6 2.8" opacity="0.55" stroke-linecap="butt"/>
<line x1="509.9" y1="251.4" x2="497.1" y2="241.9" stroke="#dc8c8c" stroke-width="2.6" stroke-dasharray="4.6 2.8" opacity="0.55" stroke-linecap="butt"/>
<line x1="473.3" y1="248.8" x2="479.2" y2="240.7" stroke="#dc8c8c" stroke-width="2.6" stroke-dasharray="4.6 2.8" opacity="0.55" stroke-linecap="butt"/>
<circle cx="485.1" cy="232.4" r="8.30" fill="url(#sG)"/>
<polygon points="498.3,214.6 540.8,217.4 549.5,250.2 514.0,254.4" fill="url(#lgG)" stroke="#8e9096" stroke-width="0.7" stroke-linejoin="round"/>
<line x1="498.3" y1="214.6" x2="514.0" y2="254.4" stroke="#505256" stroke-width="0.9" opacity="0.6" stroke-linecap="butt"/>
<polygon points="540.8,217.4 549.5,250.2 525.6,234.2" fill="#8f9197" opacity="0.22"/>
<polygon points="549.5,250.2 514.0,254.4 525.6,234.2" fill="#8f9197" opacity="0.12"/>
<polygon points="498.3,214.6 540.8,217.4 525.6,234.2" fill="#ffffff" opacity="0.16"/>
<line x1="498.3" y1="214.6" x2="525.6" y2="234.2" stroke="#e6e7ea" stroke-width="1.4" opacity="0.3" stroke-linecap="butt"/>
<line x1="540.8" y1="217.4" x2="525.6" y2="234.2" stroke="#e6e7ea" stroke-width="1.4" opacity="0.3" stroke-linecap="butt"/>
<line x1="549.5" y1="250.2" x2="525.6" y2="234.2" stroke="#e6e7ea" stroke-width="1.4" opacity="0.3" stroke-linecap="butt"/>
<line x1="514.0" y1="254.4" x2="525.6" y2="234.2" stroke="#e6e7ea" stroke-width="1.4" opacity="0.3" stroke-linecap="butt"/>
<polygon points="498.3,214.6 540.8,217.4 542.5,221.8 500.0,219.0" fill="#66686c" opacity="0.6"/>
<line x1="502.1" y1="217.3" x2="514.2" y2="225.9" stroke="#dc8c8c" stroke-width="2.6" stroke-dasharray="4.6 2.8" opacity="0.55" stroke-linecap="butt"/>
<line x1="538.7" y1="219.7" x2="532.0" y2="227.1" stroke="#dc8c8c" stroke-width="2.6" stroke-dasharray="4.6 2.8" opacity="0.55" stroke-linecap="butt"/>
<line x1="546.2" y1="248.0" x2="535.7" y2="240.9" stroke="#dc8c8c" stroke-width="2.6" stroke-dasharray="4.6 2.8" opacity="0.55" stroke-linecap="butt"/>
<line x1="515.6" y1="251.6" x2="520.8" y2="242.7" stroke="#dc8c8c" stroke-width="2.6" stroke-dasharray="4.6 2.8" opacity="0.55" stroke-linecap="butt"/>
<circle cx="525.9" cy="233.7" r="8.30" fill="url(#sG)"/>
<polygon points="323.0,160.6 360.8,161.3 377.6,208.1 337.0,203.9" fill="url(#lgGr)" stroke="#5aa85c" stroke-width="0.7" stroke-linejoin="round"/>
<line x1="323.0" y1="160.6" x2="337.0" y2="203.9" stroke="#3f8a46" stroke-width="0.9" opacity="0.6" stroke-linecap="butt"/>
<polygon points="360.8,161.3 377.6,208.1 349.6,183.5" fill="#4f9f55" opacity="0.22"/>
<polygon points="377.6,208.1 337.0,203.9 349.6,183.5" fill="#4f9f55" opacity="0.12"/>
<polygon points="323.0,160.6 360.8,161.3 349.6,183.5" fill="#c8f5c2" opacity="0.16"/>
<line x1="323.0" y1="160.6" x2="349.6" y2="183.5" stroke="#a6e6a0" stroke-width="1.4" opacity="0.3" stroke-linecap="butt"/>
<line x1="360.8" y1="161.3" x2="349.6" y2="183.5" stroke="#a6e6a0" stroke-width="1.4" opacity="0.3" stroke-linecap="butt"/>
<line x1="377.6" y1="208.1" x2="349.6" y2="183.5" stroke="#a6e6a0" stroke-width="1.4" opacity="0.3" stroke-linecap="butt"/>
<line x1="337.0" y1="203.9" x2="349.6" y2="183.5" stroke="#a6e6a0" stroke-width="1.4" opacity="0.3" stroke-linecap="butt"/>
<polygon points="323.0,160.6 360.8,161.3 362.1,164.7 324.3,164.0" fill="#478c4e" opacity="0.6"/>
<line x1="326.7" y1="163.8" x2="338.4" y2="173.9" stroke="#c99a74" stroke-width="2.6" stroke-dasharray="4.6 2.8" opacity="0.55" stroke-linecap="butt"/>
<line x1="359.2" y1="164.4" x2="354.3" y2="174.2" stroke="#c99a74" stroke-width="2.6" stroke-dasharray="4.6 2.8" opacity="0.55" stroke-linecap="butt"/>
<line x1="373.7" y1="204.7" x2="361.4" y2="193.8" stroke="#c99a74" stroke-width="2.6" stroke-dasharray="4.6 2.8" opacity="0.55" stroke-linecap="butt"/>
<line x1="338.8" y1="201.0" x2="344.3" y2="192.1" stroke="#c99a74" stroke-width="2.6" stroke-dasharray="4.6 2.8" opacity="0.55" stroke-linecap="butt"/>
<circle cx="349.9" cy="183.0" r="9.00" fill="url(#sGr)"/>
<polygon points="360.8,161.3 400.6,161.3 414.1,210.4 377.6,208.1" fill="url(#lgGr)" stroke="#5aa85c" stroke-width="0.7" stroke-linejoin="round"/>
<line x1="360.8" y1="161.3" x2="377.6" y2="208.1" stroke="#3f8a46" stroke-width="0.9" opacity="0.6" stroke-linecap="butt"/>
<polygon points="400.6,161.3 414.1,210.4 388.3,185.3" fill="#4f9f55" opacity="0.22"/>
<polygon points="414.1,210.4 377.6,208.1 388.3,185.3" fill="#4f9f55" opacity="0.12"/>
<polygon points="360.8,161.3 400.6,161.3 388.3,185.3" fill="#c8f5c2" opacity="0.16"/>
<line x1="360.8" y1="161.3" x2="388.3" y2="185.3" stroke="#a6e6a0" stroke-width="1.4" opacity="0.3" stroke-linecap="butt"/>
<line x1="400.6" y1="161.3" x2="388.3" y2="185.3" stroke="#a6e6a0" stroke-width="1.4" opacity="0.3" stroke-linecap="butt"/>
<line x1="414.1" y1="210.4" x2="388.3" y2="185.3" stroke="#a6e6a0" stroke-width="1.4" opacity="0.3" stroke-linecap="butt"/>
<line x1="377.6" y1="208.1" x2="388.3" y2="185.3" stroke="#a6e6a0" stroke-width="1.4" opacity="0.3" stroke-linecap="butt"/>
<polygon points="360.8,161.3 400.6,161.3 401.9,164.7 362.1,164.7" fill="#478c4e" opacity="0.6"/>
<line x1="364.6" y1="164.7" x2="376.7" y2="175.2" stroke="#c99a74" stroke-width="2.6" stroke-dasharray="4.6 2.8" opacity="0.55" stroke-linecap="butt"/>
<line x1="398.9" y1="164.7" x2="393.5" y2="175.2" stroke="#c99a74" stroke-width="2.6" stroke-dasharray="4.6 2.8" opacity="0.55" stroke-linecap="butt"/>
<line x1="410.5" y1="206.9" x2="399.1" y2="195.8" stroke="#c99a74" stroke-width="2.6" stroke-dasharray="4.6 2.8" opacity="0.55" stroke-linecap="butt"/>
<line x1="379.1" y1="204.9" x2="383.8" y2="194.9" stroke="#c99a74" stroke-width="2.6" stroke-dasharray="4.6 2.8" opacity="0.55" stroke-linecap="butt"/>
<circle cx="388.6" cy="184.8" r="9.00" fill="url(#sGr)"/>
<polygon points="400.6,161.3 441.6,164.3 481.0,167.2 514.6,165.8 507.0,190.0 498.3,214.6 455.6,211.3 414.1,210.4" fill="#86d482"/>
<polygon points="400.6,161.3 425.6,161.0 430.0,172.4 416.0,198.0 409.0,197.6" fill="#8ed889" stroke="#5aa85c" stroke-width="0.5" stroke-linejoin="round"/>
<circle cx="409.5" cy="170.0" r="8.00" fill="url(#sGr)"/>
<polygon points="425.4,160.6 431.0,161.0 432.2,169.3 429.4,172.6" fill="#ffffff"/>
<polygon points="406.5,189.6 419.0,190.4 417.5,203.0 412.5,202.6" fill="#c9cbcf"/>
<line x1="407.0" y1="190.6" x2="418.5" y2="191.6" stroke="#6c6e72" stroke-width="1.2" stroke-linecap="butt"/>
<line x1="408.0" y1="194.4" x2="418.0" y2="195.2" stroke="#ececee" stroke-width="1.0" stroke-linecap="butt"/>
<polygon points="414.1,201.2 500.0,203.2 498.3,214.6 414.1,210.4" fill="#c4c6ca"/>
<line x1="416.0" y1="202.2" x2="497.0" y2="204.2" stroke="#707276" stroke-width="1.0" stroke-linecap="butt"/>
<line x1="416.0" y1="204.8" x2="497.0" y2="206.8" stroke="#ececee" stroke-width="1.0" stroke-linecap="butt"/>
<line x1="416.0" y1="207.2" x2="497.0" y2="209.2" stroke="#606266" stroke-width="1.0" stroke-linecap="butt"/>
<line x1="416.0" y1="209.8" x2="497.0" y2="211.8" stroke="#dcdde0" stroke-width="1.0" stroke-linecap="butt"/>
<polygon points="451.0,196.6 488.0,198.6 489.0,204.0 452.0,203.0" fill="#c9cbcf"/>
<line x1="452.0" y1="197.6" x2="488.0" y2="199.6" stroke="#6c6e72" stroke-width="1.2" stroke-linecap="butt"/>
<line x1="452.0" y1="200.4" x2="488.0" y2="202.2" stroke="#ececee" stroke-width="1.0" stroke-linecap="butt"/>
<polygon points="460.0,206.7 495.0,208.6 496.0,212.8 461.0,211.0" fill="#a01e98"/>
<polygon points="441.6,164.3 481.0,167.2 489.0,198.6 452.5,196.6" fill="#93dc8e" stroke="#5aa85c" stroke-width="0.5" stroke-linejoin="round"/>
<circle cx="451.5" cy="173.6" r="8.00" fill="url(#sGr)"/>
<polygon points="462.0,166.0 478.0,167.4 486.0,198.0 472.0,197.0" fill="#a2e39d" opacity="0.7"/>
<polygon points="440.6,166.4 414.1,202.6 452.4,206.4" fill="#7fce7a" stroke="#4c9a50" stroke-width="0.7" stroke-linejoin="round"/>
<polygon points="438.2,165.6 414.1,202.6 429.0,174.4" fill="#4f9f55"/>
<circle cx="435.8" cy="185.4" r="7.50" fill="url(#gLi)"/>
<polygon points="503.0,195.0 512.0,190.4 541.0,217.0 498.3,214.6" fill="#c4c6ca"/>
<line x1="502.8" y1="200.4" x2="519.8" y2="197.7" stroke="#707276" stroke-width="1.0" stroke-linecap="butt"/>
<line x1="501.5" y1="204.8" x2="526.5" y2="203.9" stroke="#e6e7e9" stroke-width="1.0" stroke-linecap="butt"/>
<line x1="500.2" y1="209.2" x2="533.2" y2="210.2" stroke="#606266" stroke-width="1.0" stroke-linecap="butt"/>
<polygon points="507.0,201.0 520.0,200.0 524.0,204.5 508.0,205.2" fill="#a01e98"/>
<polygon points="481.0,167.2 514.6,165.8 507.2,190.0 498.3,214.2 492.6,208.0" fill="url(#lgGr)" stroke="#4c9a50" stroke-width="0.7" stroke-linejoin="round"/>
<polygon points="481.0,167.2 492.6,208.0 498.3,214.2 496.0,190.0" fill="#4fa555"/>
<circle cx="500.4" cy="187.8" r="8.00" fill="url(#gLi2)" opacity="0.9"/>
<circle cx="475.0" cy="192.5" r="3.20" fill="url(#gO)"/>
<circle cx="481.6" cy="198.2" r="3.20" fill="url(#gO)"/>
<circle cx="485.4" cy="204.2" r="3.20" fill="url(#gO)"/>
<circle cx="489.2" cy="208.4" r="3.20" fill="url(#gO)"/>
<circle cx="510.0" cy="190.8" r="3.40" fill="url(#gO)"/>
<circle cx="513.0" cy="195.8" r="3.40" fill="url(#gO)"/>
<circle cx="518.4" cy="200.6" r="3.40" fill="url(#gO)"/>
<circle cx="525.8" cy="205.0" r="3.40" fill="url(#gO)"/>
<circle cx="532.6" cy="210.8" r="3.40" fill="url(#gO)"/>
<circle cx="410.1" cy="198.2" r="3.40" fill="url(#gO)"/>
<circle cx="410.5" cy="204.7" r="3.60" fill="url(#gO)"/>
<circle cx="452.7" cy="206.3" r="3.40" fill="url(#gO)"/>
<polygon points="308.8,129.6 347.6,130.8 360.8,161.3 323.0,160.6" fill="url(#lgG)" stroke="#8e9096" stroke-width="0.7" stroke-linejoin="round"/>
<line x1="308.8" y1="129.6" x2="323.0" y2="160.6" stroke="#505256" stroke-width="0.9" opacity="0.6" stroke-linecap="butt"/>
<polygon points="347.6,130.8 360.8,161.3 335.1,145.6" fill="#8f9197" opacity="0.22"/>
<polygon points="360.8,161.3 323.0,160.6 335.1,145.6" fill="#8f9197" opacity="0.12"/>
<polygon points="308.8,129.6 347.6,130.8 335.1,145.6" fill="#ffffff" opacity="0.16"/>
<line x1="308.8" y1="129.6" x2="335.1" y2="145.6" stroke="#e6e7ea" stroke-width="1.4" opacity="0.3" stroke-linecap="butt"/>
<line x1="347.6" y1="130.8" x2="335.1" y2="145.6" stroke="#e6e7ea" stroke-width="1.4" opacity="0.3" stroke-linecap="butt"/>
<line x1="360.8" y1="161.3" x2="335.1" y2="145.6" stroke="#e6e7ea" stroke-width="1.4" opacity="0.3" stroke-linecap="butt"/>
<line x1="323.0" y1="160.6" x2="335.1" y2="145.6" stroke="#e6e7ea" stroke-width="1.4" opacity="0.3" stroke-linecap="butt"/>
<line x1="312.5" y1="131.8" x2="324.0" y2="138.9" stroke="#dc8c8c" stroke-width="2.6" stroke-dasharray="4.6 2.8" opacity="0.55" stroke-linecap="butt"/>
<line x1="345.8" y1="132.9" x2="340.3" y2="139.4" stroke="#dc8c8c" stroke-width="2.6" stroke-dasharray="4.6 2.8" opacity="0.55" stroke-linecap="butt"/>
<line x1="357.2" y1="159.1" x2="345.9" y2="152.2" stroke="#dc8c8c" stroke-width="2.6" stroke-dasharray="4.6 2.8" opacity="0.55" stroke-linecap="butt"/>
<line x1="324.7" y1="158.5" x2="330.0" y2="151.9" stroke="#dc8c8c" stroke-width="2.6" stroke-dasharray="4.6 2.8" opacity="0.55" stroke-linecap="butt"/>
<circle cx="335.4" cy="145.1" r="8.30" fill="url(#sG)"/>
<polygon points="347.6,130.8 385.8,132.1 400.6,161.3 360.8,161.3" fill="url(#lgP)" stroke="#701070" stroke-width="0.7" stroke-linejoin="round"/>
<line x1="347.6" y1="130.8" x2="360.8" y2="161.3" stroke="#500a50" stroke-width="0.9" opacity="0.6" stroke-linecap="butt"/>
<polygon points="385.8,132.1 400.6,161.3 373.7,146.4" fill="#6c0f6c" opacity="0.22"/>
<polygon points="400.6,161.3 360.8,161.3 373.7,146.4" fill="#6c0f6c" opacity="0.12"/>
<polygon points="347.6,130.8 385.8,132.1 373.7,146.4" fill="#e070d8" opacity="0.16"/>
<line x1="347.6" y1="130.8" x2="373.7" y2="146.4" stroke="#c050b8" stroke-width="1.4" opacity="0.3" stroke-linecap="butt"/>
<line x1="385.8" y1="132.1" x2="373.7" y2="146.4" stroke="#c050b8" stroke-width="1.4" opacity="0.3" stroke-linecap="butt"/>
<line x1="400.6" y1="161.3" x2="373.7" y2="146.4" stroke="#c050b8" stroke-width="1.4" opacity="0.3" stroke-linecap="butt"/>
<line x1="360.8" y1="161.3" x2="373.7" y2="146.4" stroke="#c050b8" stroke-width="1.4" opacity="0.3" stroke-linecap="butt"/>
<line x1="351.3" y1="133.0" x2="362.7" y2="139.8" stroke="#c2308a" stroke-width="2.6" stroke-dasharray="4.6 2.8" opacity="0.55" stroke-linecap="butt"/>
<line x1="384.1" y1="134.1" x2="378.8" y2="140.4" stroke="#c2308a" stroke-width="2.6" stroke-dasharray="4.6 2.8" opacity="0.55" stroke-linecap="butt"/>
<line x1="396.8" y1="159.2" x2="385.0" y2="152.6" stroke="#c2308a" stroke-width="2.6" stroke-dasharray="4.6 2.8" opacity="0.55" stroke-linecap="butt"/>
<line x1="362.6" y1="159.2" x2="368.3" y2="152.6" stroke="#c2308a" stroke-width="2.6" stroke-dasharray="4.6 2.8" opacity="0.55" stroke-linecap="butt"/>
<circle cx="374.0" cy="145.9" r="8.30" fill="url(#sP)"/>
<polygon points="385.8,132.1 427.3,133.2 441.6,164.3 400.6,161.3" fill="url(#lgG)" stroke="#8e9096" stroke-width="0.7" stroke-linejoin="round"/>
<line x1="385.8" y1="132.1" x2="400.6" y2="161.3" stroke="#505256" stroke-width="0.9" opacity="0.6" stroke-linecap="butt"/>
<polygon points="427.3,133.2 441.6,164.3 413.8,147.7" fill="#8f9197" opacity="0.22"/>
<polygon points="441.6,164.3 400.6,161.3 413.8,147.7" fill="#8f9197" opacity="0.12"/>
<polygon points="385.8,132.1 427.3,133.2 413.8,147.7" fill="#ffffff" opacity="0.16"/>
<line x1="385.8" y1="132.1" x2="413.8" y2="147.7" stroke="#e6e7ea" stroke-width="1.4" opacity="0.3" stroke-linecap="butt"/>
<line x1="427.3" y1="133.2" x2="413.8" y2="147.7" stroke="#e6e7ea" stroke-width="1.4" opacity="0.3" stroke-linecap="butt"/>
<line x1="441.6" y1="164.3" x2="413.8" y2="147.7" stroke="#e6e7ea" stroke-width="1.4" opacity="0.3" stroke-linecap="butt"/>
<line x1="400.6" y1="161.3" x2="413.8" y2="147.7" stroke="#e6e7ea" stroke-width="1.4" opacity="0.3" stroke-linecap="butt"/>
<line x1="389.7" y1="134.3" x2="402.1" y2="141.2" stroke="#dc8c8c" stroke-width="2.6" stroke-dasharray="4.6 2.8" opacity="0.55" stroke-linecap="butt"/>
<line x1="425.4" y1="135.2" x2="419.5" y2="141.6" stroke="#dc8c8c" stroke-width="2.6" stroke-dasharray="4.6 2.8" opacity="0.55" stroke-linecap="butt"/>
<line x1="437.7" y1="162.0" x2="425.5" y2="154.7" stroke="#dc8c8c" stroke-width="2.6" stroke-dasharray="4.6 2.8" opacity="0.55" stroke-linecap="butt"/>
<line x1="402.5" y1="159.4" x2="408.3" y2="153.4" stroke="#dc8c8c" stroke-width="2.6" stroke-dasharray="4.6 2.8" opacity="0.55" stroke-linecap="butt"/>
<circle cx="414.1" cy="147.2" r="8.30" fill="url(#sG)"/>
<polygon points="427.3,133.2 466.3,136.0 481.0,167.2 441.6,164.3" fill="url(#lgG)" stroke="#8e9096" stroke-width="0.7" stroke-linejoin="round"/>
<line x1="427.3" y1="133.2" x2="441.6" y2="164.3" stroke="#505256" stroke-width="0.9" opacity="0.6" stroke-linecap="butt"/>
<polygon points="466.3,136.0 481.0,167.2 454.1,150.2" fill="#8f9197" opacity="0.22"/>
<polygon points="481.0,167.2 441.6,164.3 454.1,150.2" fill="#8f9197" opacity="0.12"/>
<polygon points="427.3,133.2 466.3,136.0 454.1,150.2" fill="#ffffff" opacity="0.16"/>
<line x1="427.3" y1="133.2" x2="454.1" y2="150.2" stroke="#e6e7ea" stroke-width="1.4" opacity="0.3" stroke-linecap="butt"/>
<line x1="466.3" y1="136.0" x2="454.1" y2="150.2" stroke="#e6e7ea" stroke-width="1.4" opacity="0.3" stroke-linecap="butt"/>
<line x1="481.0" y1="167.2" x2="454.1" y2="150.2" stroke="#e6e7ea" stroke-width="1.4" opacity="0.3" stroke-linecap="butt"/>
<line x1="441.6" y1="164.3" x2="454.1" y2="150.2" stroke="#e6e7ea" stroke-width="1.4" opacity="0.3" stroke-linecap="butt"/>
<line x1="431.0" y1="135.6" x2="442.8" y2="143.0" stroke="#dc8c8c" stroke-width="2.6" stroke-dasharray="4.6 2.8" opacity="0.55" stroke-linecap="butt"/>
<line x1="464.6" y1="138.0" x2="459.2" y2="144.2" stroke="#dc8c8c" stroke-width="2.6" stroke-dasharray="4.6 2.8" opacity="0.55" stroke-linecap="butt"/>
<line x1="477.2" y1="164.8" x2="465.4" y2="157.3" stroke="#dc8c8c" stroke-width="2.6" stroke-dasharray="4.6 2.8" opacity="0.55" stroke-linecap="butt"/>
<line x1="443.3" y1="162.3" x2="448.8" y2="156.1" stroke="#dc8c8c" stroke-width="2.6" stroke-dasharray="4.6 2.8" opacity="0.55" stroke-linecap="butt"/>
<circle cx="454.4" cy="149.7" r="8.30" fill="url(#sG)"/>
<polygon points="466.3,136.0 506.8,138.5 515.0,165.4 481.0,167.2" fill="url(#lgG)" stroke="#8e9096" stroke-width="0.7" stroke-linejoin="round"/>
<line x1="466.3" y1="136.0" x2="481.0" y2="167.2" stroke="#505256" stroke-width="0.9" opacity="0.6" stroke-linecap="butt"/>
<polygon points="506.8,138.5 515.0,165.4 492.3,151.8" fill="#8f9197" opacity="0.22"/>
<polygon points="515.0,165.4 481.0,167.2 492.3,151.8" fill="#8f9197" opacity="0.12"/>
<polygon points="466.3,136.0 506.8,138.5 492.3,151.8" fill="#ffffff" opacity="0.16"/>
<line x1="466.3" y1="136.0" x2="492.3" y2="151.8" stroke="#e6e7ea" stroke-width="1.4" opacity="0.3" stroke-linecap="butt"/>
<line x1="506.8" y1="138.5" x2="492.3" y2="151.8" stroke="#e6e7ea" stroke-width="1.4" opacity="0.3" stroke-linecap="butt"/>
<line x1="515.0" y1="165.4" x2="492.3" y2="151.8" stroke="#e6e7ea" stroke-width="1.4" opacity="0.3" stroke-linecap="butt"/>
<line x1="481.0" y1="167.2" x2="492.3" y2="151.8" stroke="#e6e7ea" stroke-width="1.4" opacity="0.3" stroke-linecap="butt"/>
<line x1="469.9" y1="138.2" x2="481.4" y2="145.1" stroke="#dc8c8c" stroke-width="2.6" stroke-dasharray="4.6 2.8" opacity="0.55" stroke-linecap="butt"/>
<line x1="504.8" y1="140.4" x2="498.4" y2="146.2" stroke="#dc8c8c" stroke-width="2.6" stroke-dasharray="4.6 2.8" opacity="0.55" stroke-linecap="butt"/>
<line x1="511.8" y1="163.5" x2="501.8" y2="157.5" stroke="#dc8c8c" stroke-width="2.6" stroke-dasharray="4.6 2.8" opacity="0.55" stroke-linecap="butt"/>
<line x1="482.6" y1="165.0" x2="487.5" y2="158.3" stroke="#dc8c8c" stroke-width="2.6" stroke-dasharray="4.6 2.8" opacity="0.55" stroke-linecap="butt"/>
<circle cx="492.6" cy="151.3" r="8.30" fill="url(#sG)"/>
<polygon points="306.3,116.3 336.3,115.0 347.6,130.8 308.8,129.6" fill="url(#lgTop)"/>
<line x1="306.6" y1="117.9" x2="337.5" y2="116.7" stroke="#77797d" stroke-width="1.0" opacity="0.8" stroke-linecap="butt"/>
<line x1="307.1" y1="120.3" x2="339.4" y2="119.4" stroke="#55575b" stroke-width="1.3" opacity="0.8" stroke-linecap="butt"/>
<line x1="307.4" y1="122.4" x2="341.1" y2="121.7" stroke="#e4e5e7" stroke-width="0.9" opacity="0.8" stroke-linecap="butt"/>
<line x1="307.8" y1="124.3" x2="342.5" y2="123.7" stroke="#4e5054" stroke-width="1.4" opacity="0.8" stroke-linecap="butt"/>
<line x1="308.2" y1="126.4" x2="344.2" y2="126.0" stroke="#8a8c90" stroke-width="1.0" opacity="0.8" stroke-linecap="butt"/>
<line x1="308.6" y1="128.3" x2="345.7" y2="128.1" stroke="#505256" stroke-width="1.5" opacity="0.8" stroke-linecap="butt"/>
<polygon points="336.3,115.0 370.6,115.8 385.8,132.1 347.6,130.8" fill="url(#lgTop)"/>
<line x1="337.7" y1="116.9" x2="372.3" y2="117.6" stroke="#77797d" stroke-width="1.0" opacity="0.8" stroke-linecap="butt"/>
<line x1="339.7" y1="119.7" x2="374.8" y2="120.3" stroke="#55575b" stroke-width="1.3" opacity="0.8" stroke-linecap="butt"/>
<line x1="341.5" y1="122.3" x2="377.0" y2="122.7" stroke="#e4e5e7" stroke-width="0.9" opacity="0.8" stroke-linecap="butt"/>
<line x1="343.1" y1="124.5" x2="379.0" y2="124.8" stroke="#4e5054" stroke-width="1.4" opacity="0.8" stroke-linecap="butt"/>
<line x1="344.9" y1="127.0" x2="381.2" y2="127.2" stroke="#8a8c90" stroke-width="1.0" opacity="0.8" stroke-linecap="butt"/>
<line x1="346.5" y1="129.2" x2="383.2" y2="129.3" stroke="#505256" stroke-width="1.5" opacity="0.8" stroke-linecap="butt"/>
<polygon points="347.3,121.6 374.3,121.6 378.4,124.9 354.0,124.8" fill="#1c1cb0"/>
<polygon points="370.6,115.8 407.6,115.8 427.3,133.2 385.8,132.1" fill="url(#lgTop)"/>
<line x1="372.4" y1="117.8" x2="409.8" y2="117.7" stroke="#77797d" stroke-width="1.0" opacity="0.8" stroke-linecap="butt"/>
<line x1="375.2" y1="120.7" x2="413.0" y2="120.6" stroke="#55575b" stroke-width="1.3" opacity="0.8" stroke-linecap="butt"/>
<line x1="377.6" y1="123.3" x2="415.9" y2="123.2" stroke="#e4e5e7" stroke-width="0.9" opacity="0.8" stroke-linecap="butt"/>
<line x1="379.7" y1="125.6" x2="418.5" y2="125.4" stroke="#4e5054" stroke-width="1.4" opacity="0.8" stroke-linecap="butt"/>
<line x1="382.2" y1="128.2" x2="421.4" y2="128.0" stroke="#8a8c90" stroke-width="1.0" opacity="0.8" stroke-linecap="butt"/>
<line x1="384.3" y1="130.5" x2="423.9" y2="130.2" stroke="#505256" stroke-width="1.5" opacity="0.8" stroke-linecap="butt"/>
<polygon points="388.1,127.0 417.4,126.2 422.4,129.6 395.7,130.0" fill="#a01e98"/>
<polygon points="407.6,115.8 442.2,117.5 466.3,136.0 427.3,133.2" fill="url(#lgTop)"/>
<line x1="410.0" y1="117.9" x2="444.9" y2="119.5" stroke="#77797d" stroke-width="1.0" opacity="0.8" stroke-linecap="butt"/>
<line x1="413.5" y1="121.0" x2="448.9" y2="122.6" stroke="#55575b" stroke-width="1.3" opacity="0.8" stroke-linecap="butt"/>
<line x1="416.7" y1="123.8" x2="452.4" y2="125.3" stroke="#e4e5e7" stroke-width="0.9" opacity="0.8" stroke-linecap="butt"/>
<line x1="419.4" y1="126.2" x2="455.5" y2="127.7" stroke="#4e5054" stroke-width="1.4" opacity="0.8" stroke-linecap="butt"/>
<line x1="422.6" y1="129.0" x2="459.1" y2="130.4" stroke="#8a8c90" stroke-width="1.0" opacity="0.8" stroke-linecap="butt"/>
<line x1="425.3" y1="131.5" x2="462.2" y2="132.8" stroke="#505256" stroke-width="1.5" opacity="0.8" stroke-linecap="butt"/>
<polygon points="428.1,128.4 455.2,128.8 462.5,133.6 437.7,133.0" fill="#1c1cb0"/>
<polygon points="442.2,117.5 477.7,120.0 506.8,138.5 466.3,136.0" fill="url(#lgTop)"/>
<line x1="445.1" y1="119.7" x2="480.9" y2="122.0" stroke="#77797d" stroke-width="1.0" opacity="0.8" stroke-linecap="butt"/>
<line x1="449.4" y1="123.0" x2="485.7" y2="125.1" stroke="#55575b" stroke-width="1.3" opacity="0.8" stroke-linecap="butt"/>
<line x1="453.3" y1="126.0" x2="490.0" y2="127.8" stroke="#e4e5e7" stroke-width="0.9" opacity="0.8" stroke-linecap="butt"/>
<line x1="456.7" y1="128.6" x2="493.8" y2="130.2" stroke="#4e5054" stroke-width="1.4" opacity="0.8" stroke-linecap="butt"/>
<line x1="460.5" y1="131.6" x2="498.0" y2="132.9" stroke="#8a8c90" stroke-width="1.0" opacity="0.8" stroke-linecap="butt"/>
<line x1="463.9" y1="134.2" x2="501.8" y2="135.3" stroke="#505256" stroke-width="1.5" opacity="0.8" stroke-linecap="butt"/>
<polygon points="454.6,122.5 482.1,123.8 488.8,127.5 464.0,126.3" fill="#1c1cb0"/>
<circle cx="315.1" cy="148.3" r="2.50" fill="url(#gO)"/>
<circle cx="317.3" cy="152.7" r="2.50" fill="url(#gO)"/>
<circle cx="319.2" cy="156.4" r="2.50" fill="url(#gO)"/>
<circle cx="329.2" cy="186.9" r="2.50" fill="url(#gO)"/>
<circle cx="331.4" cy="193.0" r="2.50" fill="url(#gO)"/>
<circle cx="333.2" cy="198.2" r="2.50" fill="url(#gO)"/>
<circle cx="342.7" cy="227.1" r="2.50" fill="url(#gO)"/>
<circle cx="344.7" cy="232.5" r="2.50" fill="url(#gO)"/>
<circle cx="346.4" cy="237.1" r="2.50" fill="url(#gO)"/>
<circle cx="354.8" cy="155.9" r="3.00" fill="url(#gO)"/>
<circle cx="394.6" cy="155.9" r="3.00" fill="url(#gO)"/>
<circle cx="435.6" cy="158.9" r="3.00" fill="url(#gO)"/>
<circle cx="475.0" cy="161.8" r="3.00" fill="url(#gO)"/>
<circle cx="509.0" cy="160.0" r="3.00" fill="url(#gO)"/>
<circle cx="373.0" cy="201.7" r="3.00" fill="url(#gO)"/>
<circle cx="409.5" cy="204.0" r="3.00" fill="url(#gO)"/>
<circle cx="451.0" cy="204.9" r="3.00" fill="url(#gO)"/>
<circle cx="493.7" cy="208.2" r="3.00" fill="url(#gO)"/>
<circle cx="528.4" cy="204.6" r="3.00" fill="url(#gO)"/>
<circle cx="384.5" cy="238.8" r="3.00" fill="url(#gO)"/>
<circle cx="424.5" cy="242.6" r="3.00" fill="url(#gO)"/>
<circle cx="465.8" cy="245.8" r="3.00" fill="url(#gO)"/>
<circle cx="508.4" cy="248.8" r="3.00" fill="url(#gO)"/>
<circle cx="543.9" cy="244.6" r="3.00" fill="url(#gO)"/>
<circle cx="306.3" cy="116.3" r="3.20" fill="url(#gO)"/>
<circle cx="306.8" cy="119.0" r="3.44" fill="url(#gO)"/>
<circle cx="307.4" cy="122.3" r="3.68" fill="url(#gO)"/>
<circle cx="308.1" cy="125.9" r="3.91" fill="url(#gO)"/>
<circle cx="308.8" cy="129.6" r="4.15" fill="url(#gO)"/>
<circle cx="336.3" cy="115.0" r="3.20" fill="url(#gO)"/>
<circle cx="338.6" cy="118.2" r="3.44" fill="url(#gO)"/>
<circle cx="341.4" cy="122.1" r="3.68" fill="url(#gO)"/>
<circle cx="344.4" cy="126.3" r="3.91" fill="url(#gO)"/>
<circle cx="347.6" cy="130.8" r="4.15" fill="url(#gO)"/>
<circle cx="370.6" cy="115.8" r="3.20" fill="url(#gO)"/>
<circle cx="373.7" cy="119.1" r="3.44" fill="url(#gO)"/>
<circle cx="377.4" cy="123.1" r="3.68" fill="url(#gO)"/>
<circle cx="381.5" cy="127.5" r="3.91" fill="url(#gO)"/>
<circle cx="385.8" cy="132.1" r="4.15" fill="url(#gO)"/>
<circle cx="407.6" cy="115.8" r="3.20" fill="url(#gO)"/>
<circle cx="411.6" cy="119.3" r="3.44" fill="url(#gO)"/>
<circle cx="416.5" cy="123.6" r="3.68" fill="url(#gO)"/>
<circle cx="421.8" cy="128.3" r="3.91" fill="url(#gO)"/>
<circle cx="427.3" cy="133.2" r="4.15" fill="url(#gO)"/>
<circle cx="442.2" cy="117.5" r="3.20" fill="url(#gO)"/>
<circle cx="447.1" cy="121.3" r="3.44" fill="url(#gO)"/>
<circle cx="453.1" cy="125.8" r="3.68" fill="url(#gO)"/>
<circle cx="459.5" cy="130.8" r="3.91" fill="url(#gO)"/>
<circle cx="466.3" cy="136.0" r="4.15" fill="url(#gO)"/>
<circle cx="477.7" cy="120.0" r="3.20" fill="url(#gO)"/>
<circle cx="483.6" cy="123.8" r="3.44" fill="url(#gO)"/>
<circle cx="490.8" cy="128.3" r="3.68" fill="url(#gO)"/>
<circle cx="498.6" cy="133.3" r="3.91" fill="url(#gO)"/>
<circle cx="506.8" cy="138.5" r="4.15" fill="url(#gO)"/>
<circle cx="323.0" cy="160.6" r="4.15" fill="url(#gO)"/>
<circle cx="360.8" cy="161.3" r="4.15" fill="url(#gO)"/>
<circle cx="400.6" cy="161.3" r="4.15" fill="url(#gO)"/>
<circle cx="441.6" cy="164.3" r="4.15" fill="url(#gO)"/>
<circle cx="481.0" cy="167.2" r="4.15" fill="url(#gO)"/>
<circle cx="515.0" cy="165.4" r="4.15" fill="url(#gO)"/>
<circle cx="337.0" cy="203.9" r="4.15" fill="url(#gO)"/>
<circle cx="377.6" cy="208.1" r="4.15" fill="url(#gO)"/>
<circle cx="414.1" cy="210.4" r="4.15" fill="url(#gO)"/>
<circle cx="455.6" cy="211.3" r="4.15" fill="url(#gO)"/>
<circle cx="498.3" cy="214.6" r="4.15" fill="url(#gO)"/>
<circle cx="533.0" cy="211.0" r="4.15" fill="url(#gO)"/>
<circle cx="350.1" cy="242.2" r="4.15" fill="url(#gO)"/>
<circle cx="390.1" cy="244.4" r="4.15" fill="url(#gO)"/>
<circle cx="430.1" cy="248.2" r="4.15" fill="url(#gO)"/>
<circle cx="471.4" cy="251.4" r="4.15" fill="url(#gO)"/>
<circle cx="514.0" cy="254.4" r="4.15" fill="url(#gO)"/>
<circle cx="549.5" cy="250.2" r="4.15" fill="url(#gO)"/>
<circle cx="524.6" cy="170.9" r="4.15" fill="url(#gO)"/>
<circle cx="540.8" cy="217.4" r="4.15" fill="url(#gO)"/>
<circle cx="435.8" cy="159.7" r="3.20" fill="url(#gO)"/>
<circle cx="475.0" cy="162.0" r="3.20" fill="url(#gO)"/>
<circle cx="372.6" cy="200.1" r="3.20" fill="url(#gO)"/>
<line x1="131.0" y1="65.6" x2="152.2" y2="76.1" stroke="#6a6a6a" stroke-width="0.9" stroke-dasharray="3 2.4" stroke-linecap="butt"/>
<line x1="134.4" y1="78.9" x2="131.7" y2="71.7" stroke="#8a5a3a" stroke-width="1.9" stroke-linecap="round"/>
<line x1="131.7" y1="71.7" x2="128.9" y2="64.4" stroke="#f0c8cc" stroke-width="1.9" stroke-linecap="round"/>
<line x1="134.4" y1="78.9" x2="131.7" y2="85.1" stroke="#8a5a3a" stroke-width="1.9" stroke-linecap="round"/>
<line x1="131.7" y1="85.1" x2="128.9" y2="91.3" stroke="#f0c8cc" stroke-width="1.9" stroke-linecap="round"/>
<line x1="134.4" y1="78.9" x2="131.4" y2="79.0" stroke="#8a5a3a" stroke-width="1.9" stroke-linecap="round"/>
<line x1="131.4" y1="79.0" x2="128.3" y2="79.0" stroke="#f0c8cc" stroke-width="1.9" stroke-linecap="round"/>
<line x1="195.0" y1="78.3" x2="192.9" y2="71.0" stroke="#8a5a3a" stroke-width="1.9" stroke-linecap="round"/>
<line x1="192.9" y1="71.0" x2="190.9" y2="63.6" stroke="#f0c8cc" stroke-width="1.9" stroke-linecap="round"/>
<line x1="195.0" y1="78.3" x2="192.4" y2="84.4" stroke="#8a5a3a" stroke-width="1.9" stroke-linecap="round"/>
<line x1="192.4" y1="84.4" x2="189.8" y2="90.6" stroke="#f0c8cc" stroke-width="1.9" stroke-linecap="round"/>
<line x1="195.0" y1="78.3" x2="202.9" y2="78.7" stroke="#8a5a3a" stroke-width="1.9" stroke-linecap="round"/>
<line x1="202.9" y1="78.7" x2="210.9" y2="79.1" stroke="#f0c8cc" stroke-width="1.9" stroke-linecap="round"/>
<line x1="134.4" y1="78.9" x2="145.4" y2="79.2" stroke="#8a5a3a" stroke-width="2.6" stroke-linecap="round"/>
<line x1="145.4" y1="79.2" x2="156.4" y2="79.4" stroke="#e8171a" stroke-width="2.6" stroke-linecap="round"/>
<line x1="165.6" y1="79.1" x2="175.8" y2="79.1" stroke="#8a5a3a" stroke-width="2.6" stroke-linecap="round"/>
<line x1="175.8" y1="79.1" x2="185.9" y2="79.1" stroke="#e8171a" stroke-width="2.6" stroke-linecap="round"/>
<line x1="156.4" y1="79.4" x2="161.0" y2="79.2" stroke="#e8171a" stroke-width="2.6" stroke-linecap="round"/>
<line x1="161.0" y1="79.2" x2="165.6" y2="79.1" stroke="#8a5a3a" stroke-width="2.6" stroke-linecap="round"/>
<line x1="185.9" y1="79.1" x2="190.4" y2="78.7" stroke="#e8171a" stroke-width="2.6" stroke-linecap="round"/>
<line x1="190.4" y1="78.7" x2="195.0" y2="78.3" stroke="#8a5a3a" stroke-width="2.6" stroke-linecap="round"/>
<circle cx="128.9" cy="64.4" r="2.40" fill="url(#gH)"/>
<circle cx="128.9" cy="91.3" r="2.40" fill="url(#gH)"/>
<circle cx="128.3" cy="79.0" r="2.40" fill="url(#gH)"/>
<circle cx="190.9" cy="63.6" r="2.40" fill="url(#gH)"/>
<circle cx="189.8" cy="90.6" r="2.40" fill="url(#gH)"/>
<circle cx="210.9" cy="79.1" r="2.40" fill="url(#gH)"/>
<circle cx="128.3" cy="79.0" r="2.00" fill="url(#gH)"/>
<circle cx="134.4" cy="78.9" r="4.10" fill="url(#gC)"/>
<circle cx="195.0" cy="78.3" r="4.10" fill="url(#gC)"/>
<circle cx="165.6" cy="79.1" r="4.40" fill="url(#gC)"/>
<circle cx="156.4" cy="79.4" r="4.60" fill="url(#gO)"/>
<circle cx="185.9" cy="79.1" r="4.10" fill="url(#gO)"/>
<line x1="403.0" y1="91.5" x2="420.0" y2="88.6" stroke="#6a6a6a" stroke-width="0.9" stroke-dasharray="3 2.4" stroke-linecap="butt"/>
<line x1="466.5" y1="108.5" x2="458.5" y2="121.0" stroke="#6a6a6a" stroke-width="0.9" stroke-dasharray="3 2.4" stroke-linecap="butt"/>
<line x1="449.5" y1="97.6" x2="464.0" y2="100.5" stroke="#6a6a6a" stroke-width="0.9" stroke-dasharray="3 2.4" stroke-linecap="butt"/>
<line x1="406.7" y1="84.4" x2="405.4" y2="76.7" stroke="#8a5a3a" stroke-width="1.9" stroke-linecap="round"/>
<line x1="405.4" y1="76.7" x2="404.2" y2="68.9" stroke="#f0c8cc" stroke-width="1.9" stroke-linecap="round"/>
<line x1="406.7" y1="84.4" x2="401.1" y2="88.5" stroke="#8a5a3a" stroke-width="1.9" stroke-linecap="round"/>
<line x1="401.1" y1="88.5" x2="395.6" y2="92.6" stroke="#f0c8cc" stroke-width="1.9" stroke-linecap="round"/>
<line x1="458.3" y1="104.7" x2="465.2" y2="103.7" stroke="#8a5a3a" stroke-width="1.9" stroke-linecap="round"/>
<line x1="465.2" y1="103.7" x2="472.2" y2="102.6" stroke="#f0c8cc" stroke-width="1.9" stroke-linecap="round"/>
<line x1="458.3" y1="104.7" x2="458.3" y2="101.2" stroke="#8a5a3a" stroke-width="1.6" stroke-linecap="round"/>
<line x1="458.3" y1="101.2" x2="458.3" y2="97.8" stroke="#f0c8cc" stroke-width="1.6" stroke-linecap="round"/>
<line x1="406.7" y1="84.4" x2="412.6" y2="85.8" stroke="#8a5a3a" stroke-width="2.6" stroke-linecap="round"/>
<line x1="412.6" y1="85.8" x2="418.5" y2="87.2" stroke="#e8171a" stroke-width="2.6" stroke-linecap="round"/>
<line x1="418.5" y1="87.2" x2="422.7" y2="88.2" stroke="#e8171a" stroke-width="2.6" stroke-linecap="round"/>
<line x1="422.7" y1="88.2" x2="426.9" y2="89.1" stroke="#8a5a3a" stroke-width="2.6" stroke-linecap="round"/>
<line x1="426.9" y1="89.1" x2="435.6" y2="92.5" stroke="#8a5a3a" stroke-width="2.6" stroke-linecap="round"/>
<line x1="435.6" y1="92.5" x2="444.4" y2="95.9" stroke="#e8171a" stroke-width="2.6" stroke-linecap="round"/>
<line x1="444.4" y1="95.9" x2="451.4" y2="100.3" stroke="#e8171a" stroke-width="2.6" stroke-linecap="round"/>
<line x1="451.4" y1="100.3" x2="458.3" y2="104.7" stroke="#8a5a3a" stroke-width="2.6" stroke-linecap="round"/>
<line x1="458.3" y1="104.7" x2="457.0" y2="111.7" stroke="#8a5a3a" stroke-width="2.4" stroke-linecap="round"/>
<line x1="457.0" y1="111.7" x2="455.6" y2="118.6" stroke="#e8171a" stroke-width="2.4" stroke-linecap="round"/>
<circle cx="404.2" cy="68.9" r="2.40" fill="url(#gH)"/>
<circle cx="395.6" cy="92.6" r="2.40" fill="url(#gH)"/>
<circle cx="472.2" cy="102.6" r="2.40" fill="url(#gH)"/>
<circle cx="458.3" cy="97.8" r="2.40" fill="url(#gH)"/>
<circle cx="455.0" cy="110.0" r="2.00" fill="url(#gH)"/>
<circle cx="418.5" cy="87.2" r="3.60" fill="url(#gO)"/>
<circle cx="406.7" cy="84.4" r="4.10" fill="url(#gC)"/>
<circle cx="414.7" cy="82.6" r="4.20" fill="url(#gO)"/>
<circle cx="426.9" cy="89.1" r="4.50" fill="url(#gC)"/>
<circle cx="444.4" cy="95.9" r="4.00" fill="url(#gO)"/>
<circle cx="458.3" cy="104.7" r="4.00" fill="url(#gC)"/>
<circle cx="455.2" cy="116.2" r="2.60" fill="url(#gO)"/>
<polygon points="471.9,90.9 474.4,91.0 476.5,92.2 478.6,92.8 480.5,93.5 482.2,94.4 483.5,95.5 484.6,96.6 485.3,97.7 485.6,98.9 485.7,100.0 485.6,101.1 485.1,102.2 484.3,103.3 483.5,104.9 482.0,105.9 480.2,106.8 478.2,107.5 475.9,108.0 476.6,111.4 479.1,110.8 481.5,110.0 483.7,108.8 485.7,107.5 487.7,106.3 489.0,104.4 489.9,102.3 490.2,100.1 490.0,97.9 489.3,95.8 488.1,93.9 486.6,92.1 484.6,90.7 482.4,89.4 480.0,88.5 477.4,87.8 474.6,88.4 472.0,88.3" fill="#e67d2c"/>
<polygon points="471.6,110.6 479.6,105.0 480.4,113.4" fill="#e67d2c"/>
<line x1="647.0" y1="44.6" x2="662.0" y2="45.4" stroke="#6a6a6a" stroke-width="0.9" stroke-dasharray="3 2.4" stroke-linecap="butt"/>
<line x1="641.0" y1="90.0" x2="646.5" y2="86.0" stroke="#6a6a6a" stroke-width="0.9" stroke-dasharray="3 2.4" stroke-linecap="butt"/>
<line x1="653.6" y1="16.3" x2="647.0" y2="12.6" stroke="#8a5a3a" stroke-width="1.8" stroke-linecap="round"/>
<line x1="647.0" y1="12.6" x2="640.3" y2="8.9" stroke="#f0c8cc" stroke-width="1.8" stroke-linecap="round"/>
<line x1="653.6" y1="16.3" x2="658.3" y2="11.7" stroke="#8a5a3a" stroke-width="1.8" stroke-linecap="round"/>
<line x1="658.3" y1="11.7" x2="663.0" y2="7.1" stroke="#f0c8cc" stroke-width="1.8" stroke-linecap="round"/>
<line x1="653.6" y1="16.3" x2="657.3" y2="17.6" stroke="#8a5a3a" stroke-width="1.8" stroke-linecap="round"/>
<line x1="657.3" y1="17.6" x2="661.0" y2="18.8" stroke="#f0c8cc" stroke-width="1.8" stroke-linecap="round"/>
<line x1="649.6" y1="35.6" x2="645.8" y2="34.7" stroke="#8a5a3a" stroke-width="1.8" stroke-linecap="round"/>
<line x1="645.8" y1="34.7" x2="641.9" y2="33.8" stroke="#f0c8cc" stroke-width="1.8" stroke-linecap="round"/>
<line x1="649.6" y1="35.6" x2="644.7" y2="39.9" stroke="#8a5a3a" stroke-width="1.8" stroke-linecap="round"/>
<line x1="644.7" y1="39.9" x2="639.7" y2="44.1" stroke="#f0c8cc" stroke-width="1.8" stroke-linecap="round"/>
<line x1="620.0" y1="73.6" x2="619.5" y2="67.2" stroke="#8a5a3a" stroke-width="1.8" stroke-linecap="round"/>
<line x1="619.5" y1="67.2" x2="619.0" y2="60.7" stroke="#f0c8cc" stroke-width="1.8" stroke-linecap="round"/>
<line x1="620.0" y1="73.6" x2="613.9" y2="78.8" stroke="#8a5a3a" stroke-width="1.8" stroke-linecap="round"/>
<line x1="613.9" y1="78.8" x2="607.7" y2="84.1" stroke="#f0c8cc" stroke-width="1.8" stroke-linecap="round"/>
<line x1="620.0" y1="73.6" x2="618.8" y2="71.8" stroke="#8a5a3a" stroke-width="1.8" stroke-linecap="round"/>
<line x1="618.8" y1="71.8" x2="617.6" y2="70.0" stroke="#f0c8cc" stroke-width="1.8" stroke-linecap="round"/>
<line x1="639.3" y1="82.0" x2="635.2" y2="75.2" stroke="#8a5a3a" stroke-width="1.8" stroke-linecap="round"/>
<line x1="635.2" y1="75.2" x2="631.1" y2="68.4" stroke="#f0c8cc" stroke-width="1.8" stroke-linecap="round"/>
<line x1="639.3" y1="82.0" x2="635.6" y2="87.8" stroke="#8a5a3a" stroke-width="1.8" stroke-linecap="round"/>
<line x1="635.6" y1="87.8" x2="631.9" y2="93.6" stroke="#f0c8cc" stroke-width="1.8" stroke-linecap="round"/>
<line x1="639.3" y1="82.0" x2="639.8" y2="89.5" stroke="#8a5a3a" stroke-width="1.8" stroke-linecap="round"/>
<line x1="639.8" y1="89.5" x2="640.3" y2="97.0" stroke="#f0c8cc" stroke-width="1.8" stroke-linecap="round"/>
<line x1="660.7" y1="82.2" x2="664.0" y2="87.1" stroke="#8a5a3a" stroke-width="1.8" stroke-linecap="round"/>
<line x1="664.0" y1="87.1" x2="667.4" y2="91.9" stroke="#f0c8cc" stroke-width="1.8" stroke-linecap="round"/>
<line x1="706.4" y1="68.9" x2="704.5" y2="62.0" stroke="#8a5a3a" stroke-width="1.8" stroke-linecap="round"/>
<line x1="704.5" y1="62.0" x2="702.5" y2="55.1" stroke="#f0c8cc" stroke-width="1.8" stroke-linecap="round"/>
<line x1="706.4" y1="68.9" x2="704.7" y2="73.7" stroke="#8a5a3a" stroke-width="1.8" stroke-linecap="round"/>
<line x1="704.7" y1="73.7" x2="703.0" y2="78.5" stroke="#f0c8cc" stroke-width="1.8" stroke-linecap="round"/>
<line x1="693.6" y1="75.6" x2="696.0" y2="72.2" stroke="#8a5a3a" stroke-width="1.8" stroke-linecap="round"/>
<line x1="696.0" y1="72.2" x2="698.5" y2="68.9" stroke="#f0c8cc" stroke-width="1.8" stroke-linecap="round"/>
<line x1="693.6" y1="75.6" x2="694.2" y2="83.3" stroke="#8a5a3a" stroke-width="1.8" stroke-linecap="round"/>
<line x1="694.2" y1="83.3" x2="694.8" y2="91.1" stroke="#f0c8cc" stroke-width="1.8" stroke-linecap="round"/>
<line x1="653.6" y1="16.3" x2="651.6" y2="26.0" stroke="#8a5a3a" stroke-width="2.8" stroke-linecap="round"/>
<line x1="651.6" y1="26.0" x2="649.6" y2="35.6" stroke="#8a5a3a" stroke-width="2.8" stroke-linecap="round"/>
<line x1="649.6" y1="35.6" x2="658.4" y2="40.6" stroke="#8a5a3a" stroke-width="2.6" stroke-linecap="round"/>
<line x1="658.4" y1="40.6" x2="667.1" y2="45.6" stroke="#e8171a" stroke-width="2.6" stroke-linecap="round"/>
<line x1="667.1" y1="45.6" x2="667.2" y2="57.2" stroke="#e8171a" stroke-width="2.4" stroke-linecap="round"/>
<line x1="667.2" y1="57.2" x2="667.4" y2="68.9" stroke="#2f5fe0" stroke-width="2.4" stroke-linecap="round"/>
<line x1="620.0" y1="73.6" x2="629.6" y2="77.8" stroke="#8a5a3a" stroke-width="2.8" stroke-linecap="round"/>
<line x1="629.6" y1="77.8" x2="639.3" y2="82.0" stroke="#8a5a3a" stroke-width="2.8" stroke-linecap="round"/>
<line x1="639.3" y1="82.0" x2="647.2" y2="77.0" stroke="#8a5a3a" stroke-width="2.6" stroke-linecap="round"/>
<line x1="647.2" y1="77.0" x2="655.1" y2="72.1" stroke="#e8171a" stroke-width="2.6" stroke-linecap="round"/>
<line x1="655.1" y1="72.1" x2="661.2" y2="70.5" stroke="#e8171a" stroke-width="2.4" stroke-linecap="round"/>
<line x1="661.2" y1="70.5" x2="667.4" y2="68.9" stroke="#2f5fe0" stroke-width="2.4" stroke-linecap="round"/>
<line x1="655.6" y1="81.2" x2="661.5" y2="75.1" stroke="#e8171a" stroke-width="2.4" stroke-linecap="round"/>
<line x1="661.5" y1="75.1" x2="667.4" y2="68.9" stroke="#2f5fe0" stroke-width="2.4" stroke-linecap="round"/>
<line x1="655.6" y1="81.2" x2="658.2" y2="81.7" stroke="#e8171a" stroke-width="2.6" stroke-linecap="round"/>
<line x1="658.2" y1="81.7" x2="660.7" y2="82.2" stroke="#8a5a3a" stroke-width="2.6" stroke-linecap="round"/>
<line x1="667.4" y1="68.9" x2="680.5" y2="72.2" stroke="#2f5fe0" stroke-width="2.4" stroke-linecap="round"/>
<line x1="680.5" y1="72.2" x2="693.6" y2="75.6" stroke="#8a5a3a" stroke-width="2.4" stroke-linecap="round"/>
<line x1="693.6" y1="75.6" x2="700.0" y2="72.2" stroke="#8a5a3a" stroke-width="2.8" stroke-linecap="round"/>
<line x1="700.0" y1="72.2" x2="706.4" y2="68.9" stroke="#8a5a3a" stroke-width="2.8" stroke-linecap="round"/>
<line x1="706.4" y1="68.9" x2="716.4" y2="69.4" stroke="#8a5a3a" stroke-width="2.8" stroke-linecap="round"/>
<line x1="716.4" y1="69.4" x2="726.4" y2="69.9" stroke="#8a5a3a" stroke-width="2.8" stroke-linecap="round"/>
<line x1="726.4" y1="69.9" x2="734.5" y2="69.9" stroke="#8a5a3a" stroke-width="2.6" stroke-linecap="round"/>
<line x1="734.5" y1="69.9" x2="742.7" y2="69.9" stroke="#aab6e4" stroke-width="2.6" stroke-linecap="round"/>
<circle cx="640.3" cy="8.9" r="2.30" fill="url(#gH)"/>
<circle cx="663.0" cy="7.1" r="2.30" fill="url(#gH)"/>
<circle cx="661.0" cy="18.8" r="2.30" fill="url(#gH)"/>
<circle cx="641.9" cy="33.8" r="2.30" fill="url(#gH)"/>
<circle cx="639.7" cy="44.1" r="2.30" fill="url(#gH)"/>
<circle cx="619.0" cy="60.7" r="2.30" fill="url(#gH)"/>
<circle cx="607.7" cy="84.1" r="2.30" fill="url(#gH)"/>
<circle cx="631.1" cy="68.4" r="2.30" fill="url(#gH)"/>
<circle cx="631.9" cy="93.6" r="2.30" fill="url(#gH)"/>
<circle cx="640.3" cy="97.0" r="2.30" fill="url(#gH)"/>
<circle cx="667.4" cy="91.9" r="2.30" fill="url(#gH)"/>
<circle cx="702.5" cy="55.1" r="2.30" fill="url(#gH)"/>
<circle cx="698.5" cy="68.9" r="2.30" fill="url(#gH)"/>
<circle cx="703.0" cy="78.5" r="2.30" fill="url(#gH)"/>
<circle cx="694.8" cy="91.1" r="2.30" fill="url(#gH)"/>
<circle cx="617.6" cy="70.0" r="2.30" fill="url(#gH)"/>
<circle cx="660.7" cy="82.2" r="3.60" fill="url(#gC)"/>
<circle cx="653.6" cy="16.3" r="3.90" fill="url(#gC)"/>
<circle cx="649.6" cy="35.6" r="3.90" fill="url(#gC)"/>
<circle cx="620.0" cy="73.6" r="3.90" fill="url(#gC)"/>
<circle cx="639.3" cy="82.0" r="3.90" fill="url(#gC)"/>
<circle cx="693.6" cy="75.6" r="3.90" fill="url(#gC)"/>
<circle cx="706.4" cy="68.9" r="3.90" fill="url(#gC)"/>
<circle cx="726.4" cy="69.9" r="3.90" fill="url(#gC)"/>
<circle cx="667.1" cy="45.6" r="3.90" fill="url(#gO)"/>
<circle cx="655.6" cy="81.2" r="4.00" fill="url(#gO)"/>
<circle cx="655.1" cy="72.1" r="4.00" fill="url(#gO)"/>
<circle cx="667.4" cy="68.9" r="6.40" fill="url(#gSi)"/>
<circle cx="742.7" cy="69.9" r="4.00" fill="url(#gN)"/>
<line x1="899.0" y1="41.6" x2="913.6" y2="43.2" stroke="#6a6a6a" stroke-width="0.9" stroke-dasharray="3 2.4" stroke-linecap="butt"/>
<line x1="893.0" y1="88.0" x2="898.0" y2="83.5" stroke="#6a6a6a" stroke-width="0.9" stroke-dasharray="3 2.4" stroke-linecap="butt"/>
<line x1="906.3" y1="13.6" x2="899.6" y2="9.8" stroke="#8a5a3a" stroke-width="1.8" stroke-linecap="round"/>
<line x1="899.6" y1="9.8" x2="893.0" y2="5.9" stroke="#f0c8cc" stroke-width="1.8" stroke-linecap="round"/>
<line x1="906.3" y1="13.6" x2="911.2" y2="9.6" stroke="#8a5a3a" stroke-width="1.8" stroke-linecap="round"/>
<line x1="911.2" y1="9.6" x2="916.2" y2="5.6" stroke="#f0c8cc" stroke-width="1.8" stroke-linecap="round"/>
<line x1="906.3" y1="13.6" x2="909.6" y2="14.8" stroke="#8a5a3a" stroke-width="1.8" stroke-linecap="round"/>
<line x1="909.6" y1="14.8" x2="913.0" y2="15.9" stroke="#f0c8cc" stroke-width="1.8" stroke-linecap="round"/>
<line x1="902.1" y1="32.6" x2="898.7" y2="31.9" stroke="#8a5a3a" stroke-width="1.8" stroke-linecap="round"/>
<line x1="898.7" y1="31.9" x2="895.2" y2="31.1" stroke="#f0c8cc" stroke-width="1.8" stroke-linecap="round"/>
<line x1="902.1" y1="32.6" x2="897.0" y2="36.7" stroke="#8a5a3a" stroke-width="1.8" stroke-linecap="round"/>
<line x1="897.0" y1="36.7" x2="891.9" y2="40.7" stroke="#f0c8cc" stroke-width="1.8" stroke-linecap="round"/>
<line x1="871.5" y1="72.1" x2="871.1" y2="65.7" stroke="#8a5a3a" stroke-width="1.8" stroke-linecap="round"/>
<line x1="871.1" y1="65.7" x2="870.7" y2="59.3" stroke="#f0c8cc" stroke-width="1.8" stroke-linecap="round"/>
<line x1="871.5" y1="72.1" x2="865.8" y2="77.0" stroke="#8a5a3a" stroke-width="1.8" stroke-linecap="round"/>
<line x1="865.8" y1="77.0" x2="860.1" y2="81.9" stroke="#f0c8cc" stroke-width="1.8" stroke-linecap="round"/>
<line x1="871.5" y1="72.1" x2="870.0" y2="69.8" stroke="#8a5a3a" stroke-width="1.8" stroke-linecap="round"/>
<line x1="870.0" y1="69.8" x2="868.6" y2="67.4" stroke="#f0c8cc" stroke-width="1.8" stroke-linecap="round"/>
<line x1="892.2" y1="80.7" x2="892.2" y2="87.2" stroke="#8a5a3a" stroke-width="1.8" stroke-linecap="round"/>
<line x1="892.2" y1="87.2" x2="892.2" y2="93.6" stroke="#f0c8cc" stroke-width="1.8" stroke-linecap="round"/>
<line x1="892.2" y1="80.7" x2="893.0" y2="83.7" stroke="#8a5a3a" stroke-width="1.8" stroke-linecap="round"/>
<line x1="893.0" y1="83.7" x2="893.7" y2="86.7" stroke="#f0c8cc" stroke-width="1.8" stroke-linecap="round"/>
<line x1="911.5" y1="79.3" x2="915.4" y2="85.6" stroke="#8a5a3a" stroke-width="1.8" stroke-linecap="round"/>
<line x1="915.4" y1="85.6" x2="919.3" y2="91.9" stroke="#f0c8cc" stroke-width="1.8" stroke-linecap="round"/>
<line x1="957.4" y1="68.1" x2="955.4" y2="61.2" stroke="#8a5a3a" stroke-width="1.8" stroke-linecap="round"/>
<line x1="955.4" y1="61.2" x2="953.4" y2="54.4" stroke="#f0c8cc" stroke-width="1.8" stroke-linecap="round"/>
<line x1="957.4" y1="68.1" x2="956.6" y2="73.3" stroke="#8a5a3a" stroke-width="1.8" stroke-linecap="round"/>
<line x1="956.6" y1="73.3" x2="955.9" y2="78.5" stroke="#f0c8cc" stroke-width="1.8" stroke-linecap="round"/>
<line x1="944.8" y1="73.3" x2="947.2" y2="69.2" stroke="#8a5a3a" stroke-width="1.8" stroke-linecap="round"/>
<line x1="947.2" y1="69.2" x2="949.6" y2="65.2" stroke="#f0c8cc" stroke-width="1.8" stroke-linecap="round"/>
<line x1="944.8" y1="73.3" x2="945.2" y2="80.8" stroke="#8a5a3a" stroke-width="1.8" stroke-linecap="round"/>
<line x1="945.2" y1="80.8" x2="945.6" y2="88.4" stroke="#f0c8cc" stroke-width="1.8" stroke-linecap="round"/>
<line x1="906.3" y1="13.6" x2="904.2" y2="23.1" stroke="#8a5a3a" stroke-width="2.8" stroke-linecap="round"/>
<line x1="904.2" y1="23.1" x2="902.1" y2="32.6" stroke="#8a5a3a" stroke-width="2.8" stroke-linecap="round"/>
<line x1="902.1" y1="32.6" x2="910.7" y2="38.0" stroke="#8a5a3a" stroke-width="2.6" stroke-linecap="round"/>
<line x1="910.7" y1="38.0" x2="919.2" y2="43.4" stroke="#e8171a" stroke-width="2.6" stroke-linecap="round"/>
<line x1="919.2" y1="43.4" x2="919.0" y2="55.0" stroke="#e8171a" stroke-width="2.4" stroke-linecap="round"/>
<line x1="919.0" y1="55.0" x2="918.9" y2="66.7" stroke="#2f5fe0" stroke-width="2.4" stroke-linecap="round"/>
<line x1="871.5" y1="72.1" x2="881.9" y2="76.4" stroke="#8a5a3a" stroke-width="2.8" stroke-linecap="round"/>
<line x1="881.9" y1="76.4" x2="892.2" y2="80.7" stroke="#8a5a3a" stroke-width="2.8" stroke-linecap="round"/>
<line x1="892.2" y1="80.7" x2="899.2" y2="74.4" stroke="#8a5a3a" stroke-width="2.6" stroke-linecap="round"/>
<line x1="899.2" y1="74.4" x2="906.3" y2="68.1" stroke="#e8171a" stroke-width="2.6" stroke-linecap="round"/>
<line x1="906.3" y1="68.1" x2="912.6" y2="67.4" stroke="#e8171a" stroke-width="2.4" stroke-linecap="round"/>
<line x1="912.6" y1="67.4" x2="918.9" y2="66.7" stroke="#2f5fe0" stroke-width="2.4" stroke-linecap="round"/>
<line x1="907.0" y1="79.3" x2="913.0" y2="73.0" stroke="#e8171a" stroke-width="2.4" stroke-linecap="round"/>
<line x1="913.0" y1="73.0" x2="918.9" y2="66.7" stroke="#2f5fe0" stroke-width="2.4" stroke-linecap="round"/>
<line x1="907.0" y1="79.3" x2="909.2" y2="79.3" stroke="#e8171a" stroke-width="2.6" stroke-linecap="round"/>
<line x1="909.2" y1="79.3" x2="911.5" y2="79.3" stroke="#8a5a3a" stroke-width="2.6" stroke-linecap="round"/>
<line x1="918.9" y1="66.7" x2="931.8" y2="70.0" stroke="#2f5fe0" stroke-width="2.4" stroke-linecap="round"/>
<line x1="931.8" y1="70.0" x2="944.8" y2="73.3" stroke="#8a5a3a" stroke-width="2.4" stroke-linecap="round"/>
<line x1="944.8" y1="73.3" x2="951.1" y2="70.7" stroke="#8a5a3a" stroke-width="2.8" stroke-linecap="round"/>
<line x1="951.1" y1="70.7" x2="957.4" y2="68.1" stroke="#8a5a3a" stroke-width="2.8" stroke-linecap="round"/>
<line x1="957.4" y1="68.1" x2="967.5" y2="67.5" stroke="#8a5a3a" stroke-width="2.8" stroke-linecap="round"/>
<line x1="967.5" y1="67.5" x2="977.7" y2="67.0" stroke="#8a5a3a" stroke-width="2.8" stroke-linecap="round"/>
<line x1="977.7" y1="67.0" x2="985.7" y2="66.1" stroke="#8a5a3a" stroke-width="2.6" stroke-linecap="round"/>
<line x1="985.7" y1="66.1" x2="993.7" y2="65.2" stroke="#aab6e4" stroke-width="2.6" stroke-linecap="round"/>
<circle cx="893.0" cy="5.9" r="2.30" fill="url(#gH)"/>
<circle cx="916.2" cy="5.6" r="2.30" fill="url(#gH)"/>
<circle cx="913.0" cy="15.9" r="2.30" fill="url(#gH)"/>
<circle cx="895.2" cy="31.1" r="2.30" fill="url(#gH)"/>
<circle cx="891.9" cy="40.7" r="2.30" fill="url(#gH)"/>
<circle cx="870.7" cy="59.3" r="2.30" fill="url(#gH)"/>
<circle cx="860.1" cy="81.9" r="2.30" fill="url(#gH)"/>
<circle cx="892.2" cy="93.6" r="2.30" fill="url(#gH)"/>
<circle cx="893.7" cy="86.7" r="2.30" fill="url(#gH)"/>
<circle cx="919.3" cy="91.9" r="2.30" fill="url(#gH)"/>
<circle cx="953.4" cy="54.4" r="2.30" fill="url(#gH)"/>
<circle cx="949.6" cy="65.2" r="2.30" fill="url(#gH)"/>
<circle cx="955.9" cy="78.5" r="2.30" fill="url(#gH)"/>
<circle cx="945.6" cy="88.4" r="2.30" fill="url(#gH)"/>
<circle cx="868.6" cy="67.4" r="2.30" fill="url(#gH)"/>
<circle cx="880.4" cy="77.6" r="2.30" fill="url(#gH)"/>
<circle cx="911.5" cy="79.3" r="3.60" fill="url(#gC)"/>
<circle cx="906.3" cy="13.6" r="3.90" fill="url(#gC)"/>
<circle cx="902.1" cy="32.6" r="3.90" fill="url(#gC)"/>
<circle cx="871.5" cy="72.1" r="3.90" fill="url(#gC)"/>
<circle cx="892.2" cy="80.7" r="3.90" fill="url(#gC)"/>
<circle cx="944.8" cy="73.3" r="3.90" fill="url(#gC)"/>
<circle cx="957.4" cy="68.1" r="3.90" fill="url(#gC)"/>
<circle cx="977.7" cy="67.0" r="3.90" fill="url(#gC)"/>
<circle cx="919.2" cy="43.4" r="3.90" fill="url(#gO)"/>
<circle cx="907.0" cy="79.3" r="4.00" fill="url(#gO)"/>
<circle cx="906.3" cy="68.1" r="4.00" fill="url(#gO)"/>
<circle cx="918.9" cy="66.7" r="6.40" fill="url(#gSi)"/>
<circle cx="993.7" cy="65.2" r="4.00" fill="url(#gN)"/>
<line x1="884.9" y1="116.6" x2="885.2" y2="112.5" stroke="#e8171a" stroke-width="1.9" stroke-linecap="round"/>
<line x1="885.2" y1="112.5" x2="885.6" y2="108.4" stroke="#f0c8cc" stroke-width="1.9" stroke-linecap="round"/>
<circle cx="885.6" cy="108.1" r="2.30" fill="url(#gH)"/>
<polygon points="885.0,90.6 882.8,90.8 880.5,90.4 878.3,90.9 876.2,91.6 874.3,92.6 872.6,93.7 871.2,94.9 869.9,96.4 869.0,97.9 868.4,99.6 868.2,101.4 868.8,103.1 869.3,104.7 870.2,106.2 871.4,107.6 872.8,108.8 874.8,106.4 873.7,105.4 872.8,104.4 872.3,103.4 871.9,102.4 872.2,101.4 872.3,100.5 872.6,99.6 873.1,98.6 873.9,97.7 875.0,96.8 876.2,96.0 877.7,95.2 879.4,94.6 881.2,94.2 883.1,93.1 885.1,93.0" fill="#e67d2c"/>
<polygon points="882.6,111.2 873.0,108.8 879.4,103.6" fill="#e67d2c"/>
<text x="25.0" y="42.4" font-size="41">a</text>
<text x="290.6" y="42.4" font-size="41">b</text>
<text x="540.0" y="42.4" font-size="41">c</text>
<text x="799.6" y="42.4" font-size="41">d</text>
<text x="200.6" y="102.7" font-size="24.2" font-weight="bold" textLength="137.4" lengthAdjust="spacingAndGlyphs"><tspan font-weight="normal" font-family="Liberation Serif, serif" font-size="25.5">Δ</tspan>E=-0.83 eV</text>
<text x="720.0" y="102.9" font-size="24.2" font-weight="bold" textLength="126.4" lengthAdjust="spacingAndGlyphs"><tspan font-weight="normal" font-family="Liberation Serif, serif" font-size="25.5">Δ</tspan>E=0.47 eV</text>
<polyline points="56.3,435.4 57.3,435.4 58.3,435.4 59.3,435.3 60.3,435.3 61.3,435.3 62.3,435.3 63.3,435.3 64.3,435.2 65.3,435.2 66.4,435.2 67.4,435.2 68.4,435.1 69.4,435.1 70.4,435.1 71.4,435.1 72.4,435.1 73.4,435.0 74.4,435.0 75.4,435.0 76.4,435.0 77.4,435.0 78.4,434.9 79.4,434.9 80.4,434.9 81.4,434.9 82.4,434.9 83.4,434.8 84.4,434.8 85.5,434.8 86.5,434.8 87.5,434.7 88.5,434.7 89.5,434.7 90.5,434.7 91.5,434.7 92.5,434.6 93.5,434.6 94.5,434.6 95.5,434.6 96.5,434.6 97.5,434.5 98.5,434.5 99.5,434.5 100.5,434.5 101.5,434.5 102.5,434.4 103.5,434.4 104.6,434.4 105.6,434.4 106.6,434.3 107.6,434.3 108.6,434.3 109.6,434.3 110.6,434.3 111.6,434.2 112.6,434.2 113.6,434.2 114.3,434.2 114.3,433.2 114.3,432.2 114.3,431.2 114.3,430.2 114.3,429.2 114.3,428.2 114.3,427.2 114.3,426.2 114.3,425.2 114.3,424.2 114.3,423.2 114.3,422.2 114.3,421.2 114.3,420.1 114.3,419.1 114.3,418.1 114.3,417.1 114.3,416.1 114.3,415.1 114.3,414.1 114.3,413.1 114.3,412.1 114.3,411.1 114.3,410.1 114.3,409.1 114.3,408.1 114.3,407.1 114.4,406.1 114.4,405.1 114.4,404.1 114.4,403.1 114.4,402.1 114.4,401.1 114.4,400.1 114.4,399.1 114.4,398.1 114.4,397.1 114.4,396.1 114.4,395.1 114.4,394.1 114.4,393.0 114.4,392.0 114.4,391.0 114.4,390.0 114.4,389.0 114.4,388.0 114.4,387.0 114.4,386.0 114.4,385.0 114.4,384.0 114.4,383.0 114.4,382.0 114.4,381.0 114.4,380.0 114.8,378.8 115.2,377.6 116.6,378.6 118.0,379.6 119.0,379.7 120.0,379.8 121.0,379.9 122.0,379.9 123.0,380.0 124.0,380.1 125.0,380.2 126.0,380.2 127.0,380.2 128.0,380.2 129.0,380.2 130.0,380.2 131.0,380.2 132.0,380.2 133.0,380.2 134.0,380.1 135.0,380.1 136.0,380.1 137.0,380.1 138.0,380.1 139.0,380.1 140.0,380.1 141.0,380.1 142.0,380.1 143.0,380.1 144.0,380.1 145.0,380.1 146.0,380.1 147.0,380.1 148.0,380.1 149.0,380.1 150.0,380.1 151.0,380.1 152.0,380.0 153.0,380.0 154.0,380.0 155.0,380.0 156.0,380.0 157.0,380.0 158.0,380.0 159.0,380.0 160.0,380.0 161.0,380.0 162.0,379.9 163.0,379.9 164.0,379.9 165.0,379.9 166.0,379.8 167.0,379.8 168.0,379.8 169.0,379.8 170.0,379.7 171.0,379.7 172.0,379.7 173.0,379.7 174.0,379.6 175.0,379.6 176.0,379.6 177.0,379.5 178.0,379.5 179.0,379.5 180.0,379.5 181.0,379.4 182.0,379.4 183.0,379.4 184.0,379.4 185.0,379.3 186.0,379.3 187.0,379.3 188.0,379.3 189.0,379.2 190.0,379.2 191.0,379.1 192.0,379.0 193.0,379.0 194.0,378.9 195.0,378.8 196.0,378.7 197.0,378.6 198.0,378.6 199.0,378.5 200.0,378.4 201.0,378.3 202.0,378.2 203.0,378.2 204.0,378.1 205.0,378.0 206.0,377.9 207.0,377.8 208.0,377.8 209.0,377.7 210.0,377.6 211.0,377.5 212.0,377.4 213.0,377.4 214.0,377.3 215.0,377.2 216.0,377.0 217.0,376.9 218.0,376.7 219.0,376.6 220.0,376.4 221.0,376.3 222.0,376.1 223.0,376.0 224.0,375.8 225.0,375.6 226.0,375.5 227.0,375.3 228.0,375.2 229.0,375.0 230.0,374.9 231.0,374.7 232.0,374.5 233.0,374.4 234.0,374.2 235.0,374.1 236.0,373.9 237.0,373.8 238.0,373.6 239.0,373.5 240.0,373.3" fill="none" stroke="#39AB6C" stroke-width="3.5" stroke-linejoin="round" stroke-linecap="butt"/>
<polyline points="56.3,448.0 57.3,448.0 58.3,448.0 59.3,448.0 60.3,448.0 61.4,448.0 62.4,448.0 63.4,448.0 64.4,448.0 65.4,448.0 66.4,448.0 67.4,448.0 68.4,448.0 69.4,448.0 70.4,448.0 71.5,448.0 72.5,448.0 73.5,448.0 74.5,448.0 75.5,448.0 76.5,448.0 77.5,448.0 78.5,448.0 79.5,448.0 80.6,448.0 81.6,448.0 82.6,448.0 83.6,448.0 84.6,448.0 85.6,448.0 86.6,448.0 87.6,448.0 88.6,448.0 89.6,448.0 90.7,448.0 91.7,448.0 92.7,448.0 93.7,448.0 94.7,448.0 95.7,448.0 96.7,448.0 97.7,448.0 98.7,448.0 99.8,448.0 100.8,448.0 101.8,448.0 102.8,448.0 103.8,448.0 104.8,448.0 105.8,448.0 106.8,448.0 107.8,448.0 108.8,448.0 109.9,448.0 110.9,448.0 111.9,448.0 112.9,448.0 113.9,448.0 114.5,447.5 114.5,446.5 114.5,445.5 114.5,444.5 114.5,443.5 114.5,442.5 114.5,441.4 114.5,440.4 114.5,439.4 114.5,438.4 114.5,437.4 114.5,436.4 114.5,435.4 114.5,434.4 114.5,433.4 114.5,432.4 114.5,431.4 114.5,430.4 114.5,429.3 114.5,428.3 114.5,427.3 114.5,426.3 114.5,425.3 114.5,424.3 114.5,423.3 114.5,422.3 114.5,421.3 114.5,420.3 114.5,419.3 114.5,418.2 114.6,417.2 114.6,416.2 114.6,415.2 114.6,414.2 114.6,413.2 114.6,412.2 114.6,411.2 114.6,410.2 114.6,409.2 114.6,408.2 114.6,407.2 114.6,406.1 114.6,405.1 114.6,404.1 114.6,403.1 114.6,402.1 114.6,401.1 114.6,400.1 114.6,399.1 114.6,398.1 114.6,397.1 114.6,396.1 114.6,395.1 114.6,394.0 114.6,393.0 114.6,392.0 114.6,391.0 114.6,390.0 114.6,389.0 116.0,387.2 117.0,387.1 118.0,387.1 119.0,387.0 120.0,386.9 121.0,386.9 122.0,386.8 123.0,386.7 124.0,386.7 125.0,386.6 126.0,386.5 127.0,386.5 128.0,386.4 129.0,386.3 130.0,386.3 131.0,386.2 132.0,386.1 133.0,386.1 134.0,386.0 135.0,385.9 136.0,385.9 137.0,385.8 138.0,385.7 139.0,385.7 140.0,385.6 141.0,385.5 142.0,385.4 143.0,385.3 144.0,385.2 145.0,385.2 146.0,385.1 147.0,385.0 148.0,384.9 149.0,384.8 150.0,384.7 151.0,384.6 152.0,384.5 153.0,384.5 154.0,384.4 155.0,384.3 156.0,384.2 157.0,384.1 158.0,384.0 159.0,383.9 160.0,383.8 161.0,383.8 162.0,383.7 163.0,383.6 164.0,383.5 165.0,383.4 166.0,383.3 167.0,383.2 168.0,383.1 169.0,383.0 170.0,382.9 171.0,382.8 172.0,382.7 173.0,382.6 174.0,382.5 175.0,382.4 176.0,382.3 177.0,382.2 178.0,382.2 179.0,382.1 180.0,382.0 181.0,381.9 182.0,381.8 183.0,381.7 184.0,381.6 185.0,381.5 186.0,381.4 187.0,381.3 188.0,381.2 189.0,381.1 190.0,381.0 191.0,380.9 192.0,380.8 193.0,380.7 194.0,380.5 195.0,380.4 196.0,380.3 197.0,380.2 198.0,380.1 199.0,380.0 200.0,379.8 201.0,379.7 202.0,379.6 203.0,379.5 204.0,379.4 205.0,379.3 206.0,379.1 207.0,379.0 208.0,378.9 209.0,378.8 210.0,378.7 211.0,378.6 212.0,378.4 213.0,378.3 214.0,378.2 215.0,378.1 216.0,377.9 217.0,377.7 218.0,377.5 219.0,377.3 220.0,377.1 221.0,376.9 222.0,376.8 223.0,376.6 224.0,376.4 225.0,376.2 226.0,376.0 227.0,375.8 228.0,375.6 229.0,375.4 230.0,375.2 231.0,375.0 232.0,374.8 233.0,374.6 234.0,374.5 235.0,374.3 236.0,374.1 237.0,373.9 238.0,373.7 239.0,373.5 240.0,373.3 241.0,373.0 242.0,372.7 243.0,372.4 244.0,372.1 245.0,371.8 246.0,371.5 247.0,371.2 248.0,370.9 249.0,370.6 250.0,370.3 251.0,370.0 252.0,369.7 253.0,369.4 254.0,369.1 255.0,368.8 256.0,368.5 257.0,368.2 258.0,367.9 259.0,367.6 260.0,367.3 261.0,367.0 262.0,366.7 263.0,366.4 264.0,366.1 265.0,365.8 266.0,365.5 267.0,365.2 268.0,364.9 269.0,364.6 270.0,364.3 271.0,364.0 272.0,363.6 273.0,363.3 274.0,363.0 275.0,362.7 276.0,362.4 277.0,362.1 278.0,361.8 279.0,361.5 280.0,361.2 281.0,360.9 282.0,360.6 283.0,360.3 284.0,359.9 285.0,359.6 286.0,359.3 287.0,359.0 288.0,358.7 289.0,358.4 290.0,358.1 291.0,357.8 292.0,357.5 293.0,357.1 294.0,356.8 295.0,356.5 296.0,356.2 297.0,355.8 298.0,355.5 299.0,355.2 300.0,354.9 301.0,354.5 302.0,354.2 303.0,353.9 304.0,353.6 305.0,353.2 306.0,352.9 307.0,352.6 308.0,352.3 309.0,351.9 310.0,351.6 311.0,351.3 312.0,351.0 313.0,350.6 314.0,350.3 315.0,350.0 316.0,349.7 317.0,349.4 318.0,349.2 319.0,348.9 320.0,348.6 321.0,348.3 322.0,348.0 323.0,347.8 324.0,347.5 325.0,347.2 326.0,346.9 327.0,346.6 328.0,346.4 329.0,346.1 330.0,345.8 331.0,345.5 332.0,345.2 333.0,345.0 334.0,344.7 335.0,344.4 336.0,344.1 337.0,343.8 338.0,343.6 339.0,343.3 340.0,343.0 341.0,342.4 342.0,341.9 343.0,341.3 344.0,340.7 345.0,340.2 346.0,339.6" fill="none" stroke="#FF7F0A" stroke-width="3.7" stroke-linejoin="round" stroke-linecap="butt"/>
<polyline points="56.3,520.1 56.6,520.5 56.9,520.5 57.3,520.9 57.8,521.0 58.3,520.6 58.8,520.8 59.4,521.8 60.0,521.4 60.6,521.5 61.2,522.5 61.7,522.2 62.4,522.7 63.1,522.6 63.9,522.9 64.9,522.6 66.0,523.1 67.2,523.4 68.3,523.1 69.5,523.2 70.9,523.1 72.5,522.4 74.5,523.0 75.7,522.8 77.0,522.5 78.0,522.2 79.0,523.0 80.0,522.6 81.3,522.8 82.5,522.9 83.8,522.7 85.0,522.9 86.1,522.4 87.3,522.8 88.4,522.4 89.4,522.8 90.5,522.8 91.5,522.0 92.5,522.0 93.5,522.0 94.6,522.8 95.7,522.2 96.8,522.4 97.9,522.0 99.0,522.2 100.1,522.1 101.2,522.0 102.4,522.2 103.5,522.2 104.6,522.5 105.7,522.3 106.8,522.5 107.9,522.4 109.0,522.5 110.1,522.2 111.1,521.7 112.2,522.3 113.2,522.4 114.3,522.3 115.3,522.0 116.5,522.1 117.7,521.6 118.8,522.2 120.0,521.9 121.0,521.6 122.0,521.3 123.1,522.1 124.1,522.2 125.3,521.2 126.5,521.9 127.7,521.5 128.9,521.2 130.0,521.3 131.1,521.7 132.2,521.8 133.3,520.9 134.4,521.4 135.5,520.8 136.6,521.5 137.7,521.0 138.9,521.6 140.1,521.6 141.3,521.1 142.3,521.6 143.3,520.9 144.4,520.6 145.4,521.1 146.5,520.6 147.7,520.7 148.8,520.9 150.0,521.1 151.0,520.7 152.1,520.5 153.1,521.4 154.2,520.8 155.2,521.5 156.4,521.4 157.5,520.9 158.6,521.0 159.7,521.0 160.9,521.2 162.1,521.1 163.3,521.1 164.5,521.2 165.6,521.5 166.8,521.1 167.9,521.0 168.9,521.3 170.0,520.8 171.0,520.9 172.1,521.6 173.1,521.2 174.2,521.2 175.3,520.7 176.4,521.1 177.5,521.3 178.6,520.7 179.6,521.3 180.8,521.4 181.9,520.8 183.0,521.4 184.1,521.2 185.2,521.5 186.3,521.1 187.5,521.5 188.6,521.5 189.7,520.8 190.9,520.9 192.0,521.5 193.1,521.8 194.3,521.1 195.4,521.3 196.6,521.5 197.7,521.2 198.9,521.3 200.0,521.2 201.1,521.3 202.3,521.5 203.4,521.2 204.6,521.3 205.7,521.7 206.8,521.0 208.0,521.5 209.1,521.7 210.3,521.3 211.4,521.2 212.5,521.8 213.7,521.2 214.8,521.1 216.0,521.4 217.2,521.7 218.3,521.1 219.5,521.3 220.6,521.3 221.6,521.8 222.7,521.4 223.7,521.8 224.7,521.1 225.7,521.3 226.7,521.6 227.8,521.9 228.8,521.4 229.9,521.2 230.9,521.1 232.0,521.5 233.0,521.2 234.1,521.8 235.2,521.8 236.3,521.2 237.4,521.3 238.5,521.8 239.6,521.6 240.7,521.8 241.8,521.4 242.9,521.1 244.0,521.3 245.0,521.8 246.0,521.3 247.1,521.4 248.1,521.5 249.1,521.5 250.2,521.5 251.2,522.0 252.3,521.2 253.4,521.1 254.5,522.0 255.6,522.0 256.7,522.1 257.8,521.5 258.9,522.0 260.0,522.0 261.0,521.3 262.0,521.9 263.0,522.0 264.0,521.8 265.0,521.7 266.1,521.4 267.1,521.5 268.1,521.4 269.1,521.2 270.1,521.8 271.1,521.5 272.2,522.0 273.3,521.2 274.3,522.1 275.4,521.9 276.4,522.2 277.5,522.1 278.5,522.1 279.6,521.8 280.6,521.3 281.7,522.0 282.7,521.5 283.8,521.6 284.8,522.0 285.8,521.8 286.9,521.7 287.9,522.3 288.9,522.0 290.0,521.7 291.0,521.6 292.1,522.2 293.1,521.9 294.1,522.2 295.2,521.8 296.2,521.6 297.3,522.0 298.3,522.2 299.4,521.6 300.4,522.2 301.5,522.4 302.5,522.3 303.6,522.3 304.6,521.5 305.7,522.1 306.8,522.4 307.8,521.6 308.8,521.8 309.8,521.8 310.8,522.1 311.8,522.0 312.8,522.0 313.8,522.4 314.9,521.6 315.9,521.7 316.9,521.7 317.9,521.7 318.9,521.7 319.9,522.6 320.9,522.5 321.9,521.7 322.9,522.2 323.9,522.0 324.9,522.0 325.9,522.1 326.9,522.4 327.9,522.3 328.9,522.1 329.9,521.9 331.0,522.1 332.0,521.9 333.0,522.3 334.0,522.5 335.1,522.2 336.1,521.9 337.1,522.0 338.2,522.2 339.2,522.4 340.3,522.6 341.5,522.2 342.6,522.7 343.7,522.5 344.9,522.3 346.0,522.3" fill="none" stroke="#39AB6C" stroke-width="3.4" stroke-linejoin="round" stroke-linecap="butt"/>
<polyline points="56.6,538.0 56.6,537.3 56.7,535.9 56.7,535.3 56.8,533.9 56.8,532.6 56.9,532.1 56.9,531.3 57.0,529.4 57.0,528.9 57.1,527.9 58.0,527.3 59.0,526.2 59.0,525.4 59.6,526.2 60.1,526.0 60.6,525.3 61.4,525.6 62.5,525.1 64.2,526.1 65.5,525.9 66.7,526.2 67.8,526.0 68.9,525.8 70.0,525.9 71.1,525.7 72.3,525.0 73.4,525.7 74.5,524.9 75.7,525.0 76.8,525.9 77.9,524.9 79.1,524.9 80.2,524.9 81.3,526.0 82.4,525.0 83.5,524.8 84.6,525.9 85.7,524.9 86.8,525.9 87.8,525.7 88.8,525.9 89.8,526.0 90.8,525.5 91.8,525.8 92.8,524.7 93.8,525.7 94.8,525.3 95.9,525.6 96.9,524.8 97.9,525.6 98.9,525.9 100.0,524.6 101.0,525.0 102.2,525.3 103.3,525.7 104.5,524.8 105.7,524.7 106.8,524.8 108.0,525.3 109.1,525.5 110.1,525.0 111.2,524.9 112.3,525.0 113.4,524.9 114.4,525.0 115.6,524.5 116.7,525.0 117.8,525.7 118.9,524.9 120.0,525.3 121.1,524.5 122.3,525.2 123.4,525.3 124.6,525.2 125.9,524.9 127.1,524.8 128.4,525.0 129.6,525.4 130.7,524.3 131.8,524.2 132.9,525.1 133.9,525.3 135.0,524.7 136.1,524.5 137.1,524.9 138.2,524.1 139.3,524.2 140.4,524.1 141.6,524.6 142.9,524.2 144.1,524.1 145.4,524.7 146.6,525.1 147.7,524.1 148.9,524.7 150.0,524.3 151.0,524.9 152.1,524.5 153.1,524.1 154.2,524.0 155.2,523.7 156.4,524.4 157.5,524.2 158.6,523.9 159.7,524.2 160.9,524.1 162.1,524.8 163.3,523.9 164.5,525.1 165.6,524.4 166.8,524.5 167.9,524.4 168.9,524.9 170.0,524.9 171.0,524.5 172.1,524.4 173.1,524.7 174.2,524.9 175.3,524.3 176.4,524.8 177.5,525.1 178.6,524.4 179.6,524.1 180.8,524.1 181.9,524.8 183.0,524.7 184.1,525.1 185.2,525.0 186.3,524.1 187.5,524.1 188.6,524.2 189.7,524.1 190.9,524.8 192.0,525.0 193.1,525.1 194.3,524.2 195.4,525.1 196.6,524.3 197.7,524.5 198.9,524.9 200.0,524.0 201.1,524.0 202.3,525.1 203.4,524.3 204.6,524.4 205.7,524.8 206.8,524.9 208.0,524.0 209.1,524.4 210.3,524.6 211.4,524.7 212.5,524.3 213.7,524.8 214.8,525.4 216.0,524.6 217.2,524.8 218.3,524.2 219.5,524.5 220.6,525.0 221.6,524.3 222.7,525.4 223.7,525.4 224.7,524.3 225.7,525.5 226.7,524.7 227.8,525.2 228.8,525.2 229.9,524.6 230.9,525.1 232.0,525.1 233.0,525.3 234.1,524.6 235.2,525.3 236.3,525.6 237.4,525.2 238.5,525.0 239.6,524.4 240.7,525.0 241.8,524.8 242.9,525.3 244.0,525.3 245.0,525.1 246.0,524.6 247.1,525.3 248.1,525.3 249.1,524.6 250.2,525.6 251.2,525.3 252.3,524.6 253.4,525.7 254.5,524.6 255.6,524.9 256.7,525.5 257.8,525.3 258.9,525.3 260.0,525.4 261.0,525.2 262.0,525.0 263.0,524.8 264.0,524.6 265.0,525.6 266.1,525.6 267.1,525.3 268.1,525.6 269.1,525.1 270.1,525.0 271.1,525.1 272.2,525.8 273.3,524.7 274.3,525.3 275.4,525.0 276.4,525.7 277.5,525.2 278.5,525.1 279.6,525.2 280.6,525.5 281.7,525.8 282.7,525.2 283.8,525.9 284.8,524.9 285.8,525.1 286.9,524.9 287.9,524.9 288.9,525.9 290.0,525.8 291.0,525.1 292.1,525.1 293.1,525.4 294.1,525.9 295.2,526.0 296.2,525.9 297.3,525.7 298.3,525.1 299.4,525.4 300.4,525.2 301.5,525.6 302.5,525.7 303.6,525.2 304.6,525.3 305.7,526.0 306.8,525.0 307.8,526.1 308.8,526.2 309.8,526.3 310.8,525.5 311.8,525.8 312.8,525.8 313.8,525.9 314.9,526.4 315.9,526.0 316.9,525.5 317.9,526.2 318.9,525.7 319.9,525.9 320.9,526.1 321.9,525.1 322.9,526.2 323.9,526.0 324.9,525.8 325.9,525.8 326.9,525.8 327.9,525.4 328.9,525.9 329.9,525.2 331.0,525.9 332.0,526.1 333.0,525.8 334.0,526.0 335.1,526.5 336.1,526.5 337.1,525.4 338.2,526.3 339.2,526.1 340.3,525.3 341.5,525.8 342.6,525.6 343.7,525.4 344.9,526.0 346.0,526.6" fill="none" stroke="#FF7F0A" stroke-width="4.2" stroke-linejoin="round" stroke-linecap="butt"/>
<polyline points="56.9,580.3 57.1,582.1 57.3,584.0 57.4,584.8 57.5,586.4 57.6,587.6 57.8,589.1 57.9,590.4 58.0,591.8 58.2,593.0 58.3,594.7 58.5,596.2 58.7,597.5 58.8,598.6 59.0,600.2 59.2,601.3 59.4,602.4 59.5,603.8 59.7,605.2 59.9,606.7 60.1,608.1 60.4,609.7 60.6,611.3 60.8,612.6 61.0,614.0 61.2,615.5 61.4,616.6 61.6,618.0 61.8,619.5 62.0,620.5 62.2,621.6 62.4,623.2 62.6,624.2 62.7,625.0 62.9,626.1 63.2,628.2 63.5,630.1 63.9,631.7 64.2,633.3 64.5,635.1 64.8,637.2 65.1,638.4 65.4,640.2 65.8,641.6 66.1,643.1 66.4,644.5 66.7,646.0 67.1,647.1 67.4,648.2 67.8,649.4 68.1,650.4 68.5,651.6 68.9,652.2 69.3,653.0 69.7,654.0 70.1,654.7 70.5,655.6 70.9,655.9 71.4,656.7 71.8,657.2 72.3,657.5 72.8,658.5 73.3,658.5 73.8,658.8 74.3,659.5 74.8,659.7 75.3,660.4 75.9,660.5 76.4,660.7 77.0,661.0 77.6,661.7 78.3,661.8 79.0,662.4 79.8,662.5 80.5,663.1 81.3,663.0 82.1,663.2 83.1,663.5 84.1,664.1 85.2,664.3 86.4,664.3 87.6,664.4 88.8,664.9 90.0,665.2 91.3,665.1 92.8,664.9 94.7,665.0 95.9,665.1 97.1,665.2 98.5,665.2 100.0,665.3 101.2,665.7 102.4,666.0 103.6,665.6 104.6,666.1 105.7,665.8 106.8,666.1 107.8,666.2 109.0,666.3 110.2,665.8 111.3,666.0 112.5,666.2 113.5,666.4 114.5,666.0 115.5,666.1 116.5,666.5 117.5,666.1 118.6,666.3 119.6,666.3 120.7,666.5 121.7,666.7 122.8,666.3 123.8,666.7 124.8,666.7 125.9,666.8 126.9,666.7 128.0,666.9 129.0,666.6 130.1,666.7 131.1,666.6 132.1,667.0 133.1,666.8 134.3,666.7 135.6,666.7 136.8,667.1 138.0,667.1 139.2,667.2 140.4,667.0 141.6,667.1 142.8,666.9 143.8,667.3 144.8,666.9 145.8,667.2 146.8,667.4 147.8,667.4 148.9,667.1 149.9,667.2 150.9,667.6 151.9,667.5 152.9,667.6 153.9,667.7 154.9,667.4 155.9,667.7 156.9,667.7 157.9,667.5 159.1,667.5 160.4,667.4 161.6,667.6 162.8,667.9 163.9,667.5 165.1,667.8 166.2,667.5 167.3,667.5 168.3,667.9 169.4,667.7 170.4,667.6 171.4,667.7 172.6,668.0 173.8,668.0 175.0,667.7 176.5,667.9 177.9,668.4 179.1,668.0 180.2,668.2 182.1,668.2 183.7,668.4 185.2,668.4 186.6,668.5 188.2,668.5 190.0,668.4 191.0,668.5 192.1,668.5 193.1,669.0 194.2,668.7 195.2,668.7 196.3,669.4 197.4,669.0 198.5,669.6 199.6,669.2 200.7,669.5 201.8,669.5 202.9,670.0 204.0,670.0 205.1,670.2 206.2,670.4 207.3,670.6 208.4,670.5 209.5,670.8 210.6,670.9 211.7,670.9 212.8,671.6 213.9,671.7 215.1,672.0 216.2,671.9 217.3,672.3 218.4,672.5 219.4,672.9 220.5,672.7 221.6,673.1 222.6,673.3 224.6,673.4 226.5,674.0 228.3,674.4 230.1,674.5 231.9,674.9 233.5,675.1 235.2,675.0 236.8,675.2 238.4,675.7 240.0,675.3 241.5,675.4 243.0,675.1 244.5,675.0 245.9,674.9 247.3,675.2 248.7,674.9 250.0,674.8 251.2,674.7 252.1,674.3 253.0,674.4 253.8,673.9 254.8,673.7 255.9,673.8 257.4,673.5 259.2,673.3 260.4,672.8 261.6,672.9 263.0,672.5 264.4,672.7 265.4,672.5 266.4,672.0 267.5,672.3 268.6,671.7 269.7,671.5 270.8,671.8 271.9,671.4 273.0,671.4 274.1,671.4 275.2,670.9 276.3,671.2 277.4,670.8 278.5,670.8 279.5,670.6 280.5,670.8 281.9,670.7 283.3,670.3 284.5,670.1 285.8,670.1 287.0,670.1 288.1,669.8 289.2,669.8 290.4,670.1 291.4,670.1 292.5,670.2 293.5,670.2 294.5,670.1 296.4,669.8 298.2,669.6 300.0,669.7 301.6,669.8 303.0,669.8 304.2,669.8 305.4,669.8 306.5,670.1 307.8,669.8 309.3,670.1 311.0,670.4 312.0,670.5 313.0,670.2 314.1,670.3 315.3,670.7 316.5,670.4 317.7,670.5 318.9,670.9 320.2,671.0 321.5,670.9 322.7,671.0 324.0,671.2 325.3,671.7 326.5,671.6 327.7,672.0 328.9,672.1 330.0,672.3 331.1,671.8 332.3,672.1 333.4,672.1 334.6,672.5 335.8,672.6 336.9,672.5 338.1,673.0 339.2,672.8 340.2,673.1 341.3,673.2 343.2,673.7 344.8,673.7 346.0,673.8" fill="none" stroke="#FF7F0A" stroke-width="3.2" stroke-linejoin="round" stroke-linecap="butt"/>
<polyline points="56.9,580.0 57.1,581.8 57.3,584.0 57.4,585.2 57.5,586.5 57.6,587.8 57.8,588.6 57.9,589.9 58.0,591.8 58.2,593.3 58.3,594.5 58.5,596.2 58.7,597.4 58.8,598.5 59.0,599.7 59.2,600.9 59.4,602.8 59.5,604.4 59.7,605.8 59.9,606.9 60.1,608.4 60.4,610.1 60.6,611.4 60.8,612.7 61.0,613.9 61.2,615.4 61.4,616.5 61.6,617.8 61.8,619.5 62.0,621.0 62.2,621.8 62.4,622.8 62.6,623.9 62.7,625.0 62.9,626.4 63.2,628.1 63.5,630.3 63.9,631.5 64.2,633.4 64.5,635.3 64.8,636.9 65.1,639.0 65.4,640.7 65.8,642.5 66.1,643.9 66.4,645.0 66.7,646.9 67.1,648.3 67.4,649.5 67.8,650.5 68.1,651.9 68.5,653.0 68.9,653.2 69.3,654.5 69.7,655.0 70.1,655.8 70.5,656.8 70.9,657.5 71.4,657.9 71.8,658.0 72.3,659.1 72.8,659.0 73.3,659.6 73.8,660.3 74.3,660.4 74.8,660.7 75.3,661.6 75.9,662.0 76.4,661.8 77.0,662.2 77.6,662.4 78.3,662.6 79.0,663.0 79.8,663.9 80.5,663.4 81.3,663.8 82.1,664.0 83.1,664.1 84.1,664.6 85.2,665.0 86.4,665.3 87.6,665.3 88.8,665.6 90.0,665.0 91.3,665.4 92.8,666.0 94.7,665.4 95.9,665.7 97.1,665.9 98.5,665.8 100.0,666.0 101.1,665.7 102.3,665.9 103.4,666.5 104.7,665.9 106.0,666.5 107.2,666.0 108.3,666.7 109.3,666.4 110.4,666.4 111.4,666.1 112.5,666.0 113.7,666.6 114.8,666.2 116.0,666.2 117.2,666.7 118.4,666.8 119.7,666.2 120.9,666.9 122.0,666.6 123.0,666.5 124.1,666.3 125.2,666.5 126.2,667.0 127.4,666.5 128.5,666.4 129.7,666.4 130.8,666.4 131.9,666.6 132.9,667.1 134.0,666.4 135.0,666.5 136.0,667.1 137.0,667.2 138.0,667.2 139.1,666.6 140.2,666.7 141.3,667.2 142.4,666.8 143.5,667.0 144.6,666.7 145.7,666.5 146.7,666.7 147.7,667.1 148.8,667.1 149.8,666.9 150.8,666.8 151.9,666.9 153.0,666.8 154.1,666.9 155.2,667.1 156.3,666.6 157.4,666.9 158.5,667.2 159.6,667.1 160.6,666.6 161.6,667.2 162.6,667.1 163.6,666.6 164.6,666.7 165.6,666.6 166.6,666.5 167.6,667.3 168.7,666.8 169.7,667.2 170.7,666.6 171.7,666.5 172.8,667.2 173.8,667.1 174.8,667.3 175.8,667.0 176.9,666.9 177.9,667.1 178.9,666.5 180.0,666.9 181.0,666.8 182.0,666.6 183.0,666.9 184.1,666.7 185.1,666.9 186.1,666.8 187.1,666.7 188.1,666.8 189.1,667.0 190.2,667.3 191.2,667.2 192.2,667.2 193.3,667.1 194.4,666.7 195.5,667.3 196.6,666.7 197.8,666.6 198.9,666.9 200.0,667.1 201.1,666.8 202.1,667.0 203.2,666.7 204.2,667.3 205.3,666.9 206.4,666.9 207.4,667.0 208.4,667.3 209.5,667.3 210.5,667.0 211.5,666.9 212.5,667.1 213.5,666.6 214.5,666.9 215.7,667.3 216.9,667.2 218.0,666.7 219.2,667.3 220.3,667.0 221.5,667.4 222.7,667.0 223.8,666.9 225.0,667.1 226.2,667.4 227.3,667.1 228.5,667.4 229.5,667.3 230.6,667.0 231.6,667.0 232.6,667.2 233.6,667.1 234.7,667.1 235.7,667.3 236.8,667.5 237.8,667.3 238.9,666.9 240.0,667.0 241.1,667.1 242.1,667.4 243.2,667.0 244.2,666.9 245.2,667.1 246.2,667.1 247.2,666.9 248.3,667.3 249.3,667.7 250.3,667.4 251.3,667.5 252.4,667.6 253.5,667.6 254.5,667.7 255.6,667.3 256.7,667.5 257.8,667.1 258.9,667.7 260.0,667.3 261.0,667.4 262.0,667.7 263.0,667.2 264.0,667.2 265.0,667.7 266.1,667.5 267.1,667.1 268.1,667.1 269.1,667.3 270.1,667.1 271.1,667.7 272.2,667.2 273.3,667.3 274.3,667.4 275.4,667.5 276.4,667.4 277.5,667.6 278.5,667.6 279.6,667.5 280.6,667.2 281.7,667.9 282.7,667.7 283.8,667.2 284.8,667.5 285.8,667.7 286.9,667.9 287.9,667.2 288.9,667.2 290.0,667.5 291.0,667.5 292.1,667.9 293.1,667.8 294.1,667.4 295.2,667.5 296.2,667.7 297.3,667.9 298.3,667.4 299.4,667.5 300.4,667.3 301.5,667.7 302.5,667.2 303.6,668.0 304.6,667.6 305.7,667.7 306.8,667.3 307.8,667.4 308.8,667.6 309.8,667.9 310.8,667.7 311.8,667.5 312.8,668.0 313.8,667.8 314.9,667.7 315.9,667.4 316.9,667.5 317.9,668.0 318.9,667.4 319.9,667.7 320.9,667.8 321.9,667.6 322.9,667.9 323.9,668.0 324.9,668.0 325.9,667.9 326.9,667.5 327.9,667.4 328.9,667.7 329.9,667.6 331.0,667.5 332.0,668.0 333.0,667.5 334.0,668.0 335.1,668.1 336.1,667.5 337.1,668.1 338.2,667.7 339.2,667.5 340.3,667.5 341.5,667.4 342.6,667.8 343.7,667.7 344.9,668.1 346.0,668.1" fill="none" stroke="#39AB6C" stroke-width="3.4" stroke-linejoin="round" stroke-linecap="butt"/>
<polyline points="56.9,703.1 56.9,704.8 57.0,705.8 57.0,706.4 57.1,707.5 57.1,708.5 57.1,710.4 57.2,710.7 57.2,711.2 57.3,712.4 57.3,713.9 57.4,715.1 57.4,715.5 57.4,717.4 57.5,717.4 57.5,719.3 57.6,720.2 57.6,720.4 57.6,722.5 57.7,722.8 57.7,724.1 57.8,725.2 57.8,726.3 57.9,726.9 57.9,727.1 57.9,729.6 58.0,730.7 58.0,731.0 58.1,732.2 58.1,732.5 58.1,734.8 58.2,735.4 58.2,735.4 58.3,737.6 58.3,739.0 58.4,738.7 58.4,741.0 58.4,741.0 58.5,741.4 58.5,743.4 58.6,743.7 58.6,745.5 58.6,746.2 58.7,746.2 58.7,748.1 58.8,749.7 58.8,750.0 58.9,751.1 58.9,752.7 58.9,752.9 59.0,754.0 59.0,755.2 59.1,756.6 59.1,756.4 59.2,757.2 59.2,759.5 59.2,760.1 59.3,760.6 59.3,762.8 59.4,763.8 59.4,764.1 59.4,766.0 59.5,766.7 59.5,767.5 59.6,767.6 59.6,768.0 59.7,770.4 59.7,771.5 59.7,771.7 59.8,773.0 59.8,774.1 59.9,774.5 59.9,776.4 60.0,777.1 60.0,777.8 60.0,777.2 60.1,778.8 60.3,779.3 60.6,781.3 60.8,781.5 61.1,783.2 61.4,784.1 61.7,785.8 62.0,787.2 62.3,787.1 62.6,787.8 62.8,789.5 63.1,789.7 63.5,791.0 63.9,791.0 64.4,791.5 65.0,793.1 65.7,794.5 66.5,795.1 67.3,795.1 68.2,795.5 69.2,795.5 70.3,796.5 71.4,797.1 72.6,798.9 73.9,797.7 75.3,799.8 76.8,799.2 78.3,799.4 79.9,799.4 81.6,801.0 83.3,799.7 85.0,800.7 86.7,800.8 88.3,800.4 90.0,800.5 91.7,802.1 93.5,801.8 95.5,801.8 96.6,802.2 97.6,800.7 98.8,801.9 100.0,802.1 101.2,801.1 102.5,801.7 103.7,802.8 105.0,801.5 106.3,802.5 107.5,801.4 108.9,802.4 110.3,801.7 111.3,802.2 112.3,802.0 113.4,803.1 114.5,802.9 115.6,802.5 116.8,802.9 118.0,802.5 119.3,803.3 120.6,802.3 121.7,802.9 122.8,803.0 123.9,802.7 125.0,802.1 126.0,802.4 127.0,803.4 128.1,802.6 129.1,803.8 130.1,803.3 131.2,804.3 132.4,804.2 133.6,804.0 134.7,803.3 135.9,802.8 136.9,803.9 138.0,804.3 139.0,804.7 140.0,803.3 141.1,803.3 142.1,805.0 143.2,804.6 144.3,804.2 145.4,804.8 146.5,803.7 147.6,804.5 148.8,804.8 149.9,804.8 151.0,804.0 152.1,804.0 153.3,805.0 154.4,805.6 155.5,804.2 156.6,804.0 157.8,804.2 158.9,805.7 160.0,805.0 161.1,805.2 162.3,806.3 163.4,805.6 164.4,805.0 165.5,805.9 166.6,804.6 167.7,805.2 168.8,806.1 169.8,805.1 170.9,804.9 171.9,805.9 172.9,805.6 174.0,806.9 175.0,805.2 176.2,806.7 177.3,805.9 178.5,806.8 179.7,806.1 180.8,806.6 182.0,806.0 183.1,805.8 184.2,806.3 185.4,807.0 186.5,806.2 187.6,806.0 188.7,806.4 189.8,805.8 190.9,806.3 192.0,806.8 193.1,806.8 194.2,806.9 195.3,806.3 196.4,805.8 197.5,805.9 198.6,806.5 199.7,806.3 200.8,807.1 201.9,806.5 203.0,807.5 204.1,807.2 205.2,807.4 206.3,807.5 207.4,807.1 208.5,807.0 209.6,806.8 210.8,806.3 211.9,807.8 213.0,807.2 214.2,806.5 215.3,808.1 216.5,807.5 217.7,807.6 218.8,807.2 220.0,806.7 221.2,808.4 222.3,806.8 223.5,807.2 224.7,808.5 225.8,806.8 227.0,807.6 228.1,807.6 229.3,807.1 230.4,808.5 231.5,807.5 232.7,806.7 233.8,807.7 235.0,806.8 236.1,808.2 237.2,808.6 238.4,808.6 239.6,807.0 240.7,808.2 241.9,807.5 243.1,807.9 244.1,807.6 245.1,807.6 246.1,807.3 247.1,808.3 248.1,807.2 249.1,809.0 250.2,807.2 251.3,809.0 252.3,807.5 253.4,807.3 254.5,808.6 255.6,808.2 256.7,808.7 257.9,808.2 259.0,808.5 260.2,807.4 261.3,808.6 262.5,808.3 263.5,809.2 264.6,807.3 265.7,807.5 266.8,808.7 267.8,809.2 268.9,808.2 270.0,808.8 271.1,808.5 272.2,808.2 273.3,808.4 274.4,808.7 275.5,807.5 276.6,808.1 277.7,809.0 278.8,808.0 279.8,808.5 280.8,808.1 281.8,808.3 282.8,808.9 283.9,809.1 284.9,809.5 285.9,808.6 286.9,808.0 287.9,808.3 289.0,807.7 290.1,808.1 291.1,808.8 292.2,808.9 293.3,808.2 294.4,808.1 295.5,807.9 296.6,808.1 297.7,808.7 298.8,808.2 299.9,809.5 301.0,808.9 302.0,808.5 303.0,808.6 304.0,807.9 305.0,809.3 306.0,809.3 307.1,808.5 308.1,809.3 309.1,808.4 310.1,808.3 311.1,808.3 312.2,808.3 313.3,809.1 314.4,809.2 315.4,809.4 316.5,808.1 317.6,809.5 318.7,808.9 319.8,808.7 320.8,809.0 321.9,808.8 323.0,808.4 324.1,808.8 325.2,809.3 326.3,809.4 327.4,809.8 328.5,808.4 329.6,809.8 330.6,809.7 331.7,809.5 332.8,810.0 333.8,808.4 334.8,809.6 335.8,809.9 336.9,808.4 337.9,809.3 338.9,810.0 340.0,808.7 341.0,809.9 342.0,810.0 343.0,809.0 344.0,808.5 345.0,808.6 346.0,809.9" fill="none" stroke="#FF7F0A" stroke-width="5.0" stroke-linejoin="round" stroke-linecap="butt"/>
<polyline points="56.9,703.9 56.9,704.7 57.0,705.9 57.0,707.8 57.1,707.6 57.1,708.1 57.1,710.8 57.2,710.7 57.2,711.8 57.3,713.9 57.3,713.6 57.4,714.3 57.4,716.7 57.4,716.5 57.5,717.5 57.5,719.8 57.6,719.5 57.6,721.7 57.6,721.7 57.7,722.6 57.7,723.5 57.8,725.1 57.8,726.1 57.9,726.8 57.9,728.0 57.9,728.6 58.0,730.6 58.0,731.8 58.1,732.5 58.1,733.6 58.1,733.2 58.2,734.6 58.2,735.5 58.3,736.4 58.3,738.8 58.4,739.7 58.4,740.7 58.4,741.1 58.5,741.3 58.5,742.9 58.6,743.2 58.6,745.7 58.6,745.6 58.7,746.6 58.7,748.8 58.8,748.5 58.8,750.8 58.9,750.7 58.9,752.3 59.0,752.3 59.0,754.7 59.0,754.8 59.1,755.7 59.1,757.3 59.2,758.2 59.2,758.6 59.3,759.3 59.3,761.1 59.3,761.1 59.4,763.7 59.4,763.7 59.5,764.4 59.5,765.7 59.6,766.3 59.6,767.7 59.6,769.1 59.7,769.8 59.7,770.7 59.8,771.6 59.8,773.0 59.9,774.5 59.9,774.9 60.0,776.5 60.0,777.0 60.0,776.3 60.1,777.2 60.3,779.4 60.6,780.0 60.8,781.2 61.1,782.8 61.4,784.8 61.7,785.2 62.0,786.3 62.3,787.2 62.6,787.4 62.8,789.1 63.1,789.7 63.5,790.5 63.9,791.1 64.4,791.8 65.0,792.9 65.7,792.6 66.5,794.8 67.3,793.9 68.2,795.9 69.2,795.3 70.3,797.1 71.4,796.7 72.6,796.8 73.9,798.1 75.4,799.1 77.0,799.5 78.6,799.8 80.3,800.3 82.0,798.9 83.5,799.6 85.0,799.3 86.3,800.5 87.6,800.0 88.7,800.5 89.8,800.5 91.0,800.7 92.2,800.0 93.5,800.2 95.0,799.5 96.6,798.5 98.4,799.7 100.3,798.1 102.2,797.8 104.1,798.9 106.1,797.7 108.1,798.1 110.0,796.8 111.8,796.9 113.7,797.6 115.4,796.2 117.2,796.8 119.1,797.4 121.0,795.9 123.0,796.6 124.0,796.6 125.1,796.2 126.2,796.4 127.4,796.1 128.6,794.7 129.8,794.9 131.0,795.4 132.3,796.1 133.6,794.6 134.9,795.1 136.2,794.1 137.5,795.3 138.8,794.4 140.1,794.4 141.3,794.5 142.6,793.4 143.8,794.3 145.0,794.3 146.1,794.3 147.3,793.2 148.3,793.0 149.4,792.7 150.4,794.0 151.5,793.0 152.5,792.8 153.5,793.0 154.6,793.2 155.6,792.4 156.7,792.3 157.8,793.0 159.0,792.9 160.2,791.9 161.4,791.3 162.7,792.7 164.1,792.1 165.6,791.7 166.7,791.2 167.7,792.0 168.8,790.9 170.0,790.4 171.1,790.0 172.3,790.3 173.4,790.6 174.6,790.0 175.8,790.8 176.9,790.1 178.1,789.6 179.2,789.8 180.3,789.5 181.4,789.4 182.5,789.0 183.9,788.9 185.3,788.6 186.5,789.0 187.7,787.6 189.5,788.4 191.0,787.2 192.1,788.0 193.0,786.4 193.7,786.9 194.4,786.6 195.2,787.0 196.0,785.9 196.9,785.8 197.8,785.4 198.6,786.0 199.5,785.9 200.3,784.7 201.1,784.9 201.9,784.9 202.7,786.2 203.5,785.3 204.2,785.5 205.0,785.1 205.7,785.8 206.5,786.2 207.3,786.0 208.1,784.9 209.0,785.9 210.0,786.2 211.1,785.6 212.2,787.1 213.3,786.5 214.5,786.7 215.6,787.6 216.7,787.8 217.7,788.0 218.6,789.0 219.4,788.7 220.2,788.8 221.0,788.7 221.8,790.0 222.5,790.0 223.2,790.7 224.0,790.7 224.8,790.4 225.5,790.8 226.2,791.4 226.9,791.6 227.6,793.2 228.4,793.0 229.3,792.7 230.2,793.8 231.3,793.9 232.4,793.0 233.6,794.4 234.9,793.6 236.2,795.2 237.5,793.7 238.7,794.1 240.0,794.1 241.2,795.3 242.4,795.4 243.6,795.0 244.9,794.3 246.1,794.8 247.4,795.3 248.7,794.2 250.0,795.7 251.4,795.4 253.0,795.4 254.5,794.8 256.1,794.5 257.7,794.9 259.2,793.4 260.7,793.3 262.0,792.7 263.2,792.6 264.3,793.5 265.4,792.0 266.4,792.9 267.3,792.0 268.2,792.6 269.1,792.1 270.0,791.7 270.8,791.7 271.6,789.9 272.4,790.0 273.1,789.8 273.8,789.5 274.5,789.6 275.3,789.7 276.0,789.2 276.7,789.4 277.3,788.9 277.9,788.2 278.6,788.4 279.2,788.8 280.0,788.8 280.9,788.0 282.0,787.9 283.3,788.4 284.7,787.6 286.2,788.8 287.9,787.2 289.6,788.3 291.4,788.0 293.2,787.5 295.0,788.1 296.9,787.9 297.9,788.8 299.0,788.6 300.0,788.1 301.1,788.5 302.2,788.5 303.2,787.2 304.3,788.4 305.4,788.4 306.4,788.6 307.4,788.2 309.3,787.5 311.0,787.1 312.5,787.8 313.9,787.0 315.1,787.9 316.2,787.5 317.3,787.9 318.3,787.0 319.2,786.8 320.0,787.7 320.7,787.2 321.3,786.6 321.9,786.9 322.3,786.6 322.7,786.8 323.1,786.3 323.5,785.5 324.0,786.3 324.5,785.5 325.0,784.5 325.6,782.8 326.1,781.8 326.6,781.7 327.2,780.7 327.7,779.1 328.3,776.8 328.9,776.0 329.5,773.7 329.8,772.3 330.1,771.6 330.4,770.3 330.7,769.5 331.0,768.5 331.3,767.8 331.6,765.0 331.9,764.7 332.2,764.2 332.4,762.5 332.7,761.3 333.0,760.6 333.3,758.1 333.5,758.3 333.8,756.9 334.0,755.8 334.3,754.2 334.5,753.6 334.8,751.6 335.0,751.2 335.3,749.7 335.5,749.8 335.7,748.5 336.0,746.8 336.2,746.3 336.4,744.6 336.9,742.8 337.4,740.3 337.8,739.7 338.3,737.7 338.7,735.9 339.2,733.0 339.6,732.7 340.1,729.7 340.5,729.1 340.9,727.5 341.4,725.2 341.8,724.5 342.2,724.0 342.6,722.2 343.0,720.4 343.4,720.2 343.8,718.3 344.2,718.4 344.5,716.7 344.9,715.3 345.2,716.2 345.5,714.0 345.8,713.8 346.0,714.3 346.2,712.8" fill="none" stroke="#39AB6C" stroke-width="4.7" stroke-linejoin="round" stroke-linecap="butt"/>
<line x1="56.30" y1="456.20" x2="346.50" y2="456.20" stroke="#000" stroke-width="2.7" stroke-linecap="butt"/>
<line x1="56.30" y1="579.00" x2="346.50" y2="579.00" stroke="#000" stroke-width="2.7" stroke-linecap="butt"/>
<line x1="56.30" y1="702.00" x2="346.50" y2="702.00" stroke="#000" stroke-width="2.7" stroke-linecap="butt"/>
<rect x="56.3" y="333.9" width="290.2" height="491.80000000000007" fill="none" stroke="#000" stroke-width="2.7"/>
<line x1="53.30" y1="333.70" x2="56.30" y2="333.70" stroke="#000" stroke-width="2.2" stroke-linecap="butt"/>
<text x="24.24" y="339.70" font-size="18.30" fill="#000" font-weight="normal" textLength="27.02" lengthAdjust="spacingAndGlyphs">4.4</text>
<line x1="53.30" y1="362.40" x2="56.30" y2="362.40" stroke="#000" stroke-width="2.2" stroke-linecap="butt"/>
<text x="24.24" y="368.40" font-size="18.30" fill="#000" font-weight="normal" textLength="27.02" lengthAdjust="spacingAndGlyphs">4.0</text>
<line x1="53.30" y1="391.10" x2="56.30" y2="391.10" stroke="#000" stroke-width="2.2" stroke-linecap="butt"/>
<text x="24.24" y="397.10" font-size="18.30" fill="#000" font-weight="normal" textLength="27.02" lengthAdjust="spacingAndGlyphs">3.6</text>
<line x1="53.30" y1="419.90" x2="56.30" y2="419.90" stroke="#000" stroke-width="2.2" stroke-linecap="butt"/>
<text x="24.24" y="425.90" font-size="18.30" fill="#000" font-weight="normal" textLength="27.02" lengthAdjust="spacingAndGlyphs">3.2</text>
<line x1="53.30" y1="448.60" x2="56.30" y2="448.60" stroke="#000" stroke-width="2.2" stroke-linecap="butt"/>
<text x="24.24" y="454.60" font-size="18.30" fill="#000" font-weight="normal" textLength="27.02" lengthAdjust="spacingAndGlyphs">2.8</text>
<line x1="56.30" y1="825.70" x2="56.30" y2="828.70" stroke="#000" stroke-width="2.2" stroke-linecap="butt"/>
<text x="51.14" y="845.60" font-size="18.30" fill="#000" font-weight="normal" textLength="10.32" lengthAdjust="spacingAndGlyphs">0</text>
<line x1="114.34" y1="825.70" x2="114.34" y2="828.70" stroke="#000" stroke-width="2.2" stroke-linecap="butt"/>
<text x="109.18" y="845.60" font-size="18.30" fill="#000" font-weight="normal" textLength="10.32" lengthAdjust="spacingAndGlyphs">3</text>
<line x1="172.38" y1="825.70" x2="172.38" y2="828.70" stroke="#000" stroke-width="2.2" stroke-linecap="butt"/>
<text x="167.22" y="845.60" font-size="18.30" fill="#000" font-weight="normal" textLength="10.32" lengthAdjust="spacingAndGlyphs">6</text>
<line x1="230.42" y1="825.70" x2="230.42" y2="828.70" stroke="#000" stroke-width="2.2" stroke-linecap="butt"/>
<text x="225.26" y="845.60" font-size="18.30" fill="#000" font-weight="normal" textLength="10.32" lengthAdjust="spacingAndGlyphs">9</text>
<line x1="288.46" y1="825.70" x2="288.46" y2="828.70" stroke="#000" stroke-width="2.2" stroke-linecap="butt"/>
<text x="278.35" y="845.60" font-size="18.30" fill="#000" font-weight="normal" textLength="20.22" lengthAdjust="spacingAndGlyphs">12</text>
<line x1="346.50" y1="825.70" x2="346.50" y2="828.70" stroke="#000" stroke-width="2.2" stroke-linecap="butt"/>
<text x="336.39" y="845.60" font-size="18.30" fill="#000" font-weight="normal" textLength="20.22" lengthAdjust="spacingAndGlyphs">15</text>
<text x="167.04" y="865.70" font-size="18.30" fill="#000" font-weight="normal" textLength="70.12" lengthAdjust="spacingAndGlyphs">Time (h)</text>
<text transform="translate(15.10,441.86) rotate(-90)" font-size="18.72" fill="#000" textLength="96.01" lengthAdjust="spacingAndGlyphs">Voltage (V)</text>
<text transform="translate(20.80,727.36) rotate(-90)" font-size="18.99" fill="#000" textLength="121.33" lengthAdjust="spacingAndGlyphs">Intensity (a.u.)</text>
<line x1="159.60" y1="412.30" x2="203.90" y2="412.30" stroke="#39AB6C" stroke-width="3.3" stroke-linecap="butt"/>
<line x1="159.60" y1="435.80" x2="203.90" y2="435.80" stroke="#FF7F0A" stroke-width="3.3" stroke-linecap="butt"/>
<text x="208.54" y="418.10" font-size="18.44" fill="#000" font-weight="normal" textLength="25.13" lengthAdjust="spacingAndGlyphs">BE</text>
<text x="208.54" y="441.60" font-size="18.44" fill="#000" font-weight="normal" textLength="130.43" lengthAdjust="spacingAndGlyphs">LiFSI-TEOSCN</text>
<text x="97.94" y="482.80" font-size="18.30" fill="#000" font-weight="normal" textLength="20.52" lengthAdjust="spacingAndGlyphs">Ar</text>
<text x="79.94" y="505.50" font-size="18.30" fill="#000" font-weight="normal" textLength="62.32" lengthAdjust="spacingAndGlyphs">m/z=40</text>
<text x="93.14" y="604.80" font-size="18.30" fill="#000" font-weight="normal" textLength="15.32" lengthAdjust="spacingAndGlyphs">O</text>
<text x="107.94" y="609.20" font-size="18.30" fill="#000" font-weight="normal" textLength="10.72" lengthAdjust="spacingAndGlyphs">2</text>
<text x="79.34" y="633.20" font-size="18.30" fill="#000" font-weight="normal" textLength="62.82" lengthAdjust="spacingAndGlyphs">m/z=36</text>
<text x="88.54" y="727.00" font-size="18.30" fill="#000" font-weight="normal" textLength="29.52" lengthAdjust="spacingAndGlyphs">CO</text>
<text x="117.54" y="731.40" font-size="18.30" fill="#000" font-weight="normal" textLength="10.72" lengthAdjust="spacingAndGlyphs">2</text>
<text x="79.34" y="755.20" font-size="18.30" fill="#000" font-weight="normal" textLength="62.82" lengthAdjust="spacingAndGlyphs">m/z=44</text>
<polyline points="395.9,347.6 396.9,347.5 397.9,347.5 398.9,347.4 400.0,347.4 401.0,347.3 402.0,347.3 403.0,347.2 404.0,347.1 405.0,347.1 406.0,347.0 407.0,347.0 408.1,346.9 409.1,346.9 410.1,346.8 411.1,346.7 412.1,346.7 413.1,346.6 414.1,346.6 415.2,346.5 416.2,346.4 417.2,346.4 418.2,346.3 419.2,346.3 420.2,346.2 421.2,346.2 422.3,346.1 423.3,346.0 424.3,346.0 425.3,345.9 426.3,345.9 427.3,345.8 428.3,345.8 429.4,345.7 430.4,345.6 431.4,345.6 432.4,345.5 433.4,345.5 434.4,345.4 435.4,345.4 436.4,345.3 437.5,345.2 438.5,345.2 439.5,345.1 440.5,345.1 441.5,345.0 442.5,345.0 443.5,344.9 444.6,344.8 445.6,344.8 446.6,344.7 447.6,344.7 448.6,344.6 449.6,344.5 450.6,344.5 451.6,344.4 452.7,344.4 453.7,344.3 454.7,344.3 455.7,344.2 456.7,344.1 457.7,344.1 458.7,344.0 459.8,344.0 460.8,343.9 461.8,343.9 462.8,343.8 463.6,344.0 463.6,345.0 463.6,346.0 463.6,347.0 463.6,348.0 463.6,349.0 463.6,350.0 463.6,351.0 463.6,352.0 463.6,353.0 463.6,354.0 463.6,355.0 463.6,356.0 463.6,357.0 463.6,358.0 463.6,359.0 463.6,360.0 463.6,361.0 463.6,362.0 463.6,363.0 463.6,364.0 463.6,365.0 463.6,366.0 463.6,367.0 463.6,368.0 463.6,369.0 463.6,370.0 463.7,371.0 463.7,372.0 463.7,373.0 463.7,374.0 463.7,375.0 463.7,376.0 463.7,377.0 463.7,378.0 463.7,379.0 463.7,380.0 463.7,381.0 463.7,382.0 463.7,383.0 463.7,384.0 463.7,385.0 463.7,386.0 463.7,387.0 463.7,388.0 463.7,389.0 463.7,390.0 463.7,391.0 463.7,392.0 463.7,393.0 463.7,394.0 463.7,395.0 463.7,396.0 463.7,396.0 463.8,397.1 463.8,398.6 463.9,400.4 464.0,402.3 464.1,403.3 464.2,404.4 464.2,405.4 464.3,406.4 464.4,408.3 464.6,410.0 464.8,411.5 465.0,413.0 465.2,414.5 465.4,415.9 465.6,417.2 465.8,418.5 466.1,419.8 466.4,421.0 466.7,422.2 467.0,423.3 467.4,424.3 467.7,425.3 468.1,426.3 468.5,427.2 469.0,428.1 469.4,429.0 469.9,429.9 470.3,430.7 470.8,431.5 471.3,432.2 471.8,432.9 472.4,433.6 473.0,434.3 473.6,435.0 474.2,435.7 474.9,436.3 475.6,436.9 476.3,437.5 477.1,438.1 477.9,438.6 478.7,439.1 479.5,439.6 480.3,440.0 481.1,440.5 482.0,440.8 482.8,441.2 483.7,441.5 484.7,441.8 485.8,442.1 487.0,442.4 488.3,442.7 489.6,442.9 490.9,443.2 492.4,443.4 494.0,443.6 495.8,443.8 497.8,444.0 498.9,444.1 500.0,444.2 501.2,444.3 502.5,444.4 503.8,444.5 505.2,444.6 506.6,444.6 508.1,444.7 509.1,444.8 510.1,444.8 511.1,444.9 512.2,444.9 513.3,445.0 514.4,445.0 515.5,445.1 516.6,445.1 517.8,445.2 518.9,445.2 520.1,445.2 521.3,445.3 522.5,445.3 523.8,445.4 525.0,445.4 526.2,445.4 527.5,445.5 528.7,445.5 530.0,445.5 531.2,445.6 532.5,445.6 533.7,445.6 535.0,445.6 536.3,445.7 537.3,445.7 538.3,445.7 539.3,445.7 540.3,445.7 541.4,445.7 542.5,445.7 543.5,445.8 544.6,445.8 545.8,445.8 546.9,445.8 548.1,445.8 549.3,445.8 550.3,445.9 551.3,445.9 552.3,445.9 553.3,445.9 554.4,445.9 555.5,445.9 556.6,445.9 557.7,446.0 558.9,446.0 560.0,446.0 561.0,446.0 562.1,446.0 563.1,446.0 564.2,446.1 565.2,446.1 566.3,446.1 567.4,446.1 568.5,446.1 569.7,446.1 570.8,446.2 572.0,446.2 573.1,446.2 574.1,446.2 575.2,446.2 576.2,446.2 577.3,446.2 578.3,446.3 579.4,446.3 580.4,446.3 581.5,446.3 582.6,446.3 583.7,446.3 584.8,446.3 585.9,446.4 587.0,446.4 588.1,446.4 589.2,446.4 590.3,446.4 591.4,446.4 592.6,446.4 593.7,446.5 594.8,446.5 596.0,446.5 597.0,446.5 598.0,446.5 599.0,446.5 600.0,446.6 601.0,446.6 602.0,446.6 603.0,446.6 604.0,446.6 605.0,446.6 606.0,446.6 607.0,446.7 608.0,446.7 609.0,446.7 610.0,446.7 611.0,446.7 612.0,446.7 613.2,446.8 614.3,446.8 615.5,446.8 616.6,446.8 617.7,446.9 618.9,446.9 620.0,446.9 621.1,446.9 622.1,446.9 623.2,447.0 624.2,447.0 625.3,447.0 626.3,447.0 627.4,447.1 628.4,447.1 629.4,447.1 630.5,447.1 631.5,447.2 632.5,447.2 633.5,447.2 634.6,447.2 635.6,447.3 636.6,447.3 637.6,447.3 638.7,447.3 639.8,447.4 640.8,447.4 641.9,447.4 643.0,447.4 644.0,447.5 645.1,447.5 646.1,447.5 647.2,447.6 648.3,447.6 649.3,447.6 650.4,447.6 651.5,447.7 652.5,447.7 653.6,447.7 654.6,447.8 655.7,447.8 656.8,447.8 657.8,447.8 658.8,447.9 659.8,447.9 660.8,447.9 661.8,447.9 662.8,448.0 663.8,448.0 664.8,448.0 665.8,448.1 666.8,448.1 667.9,448.1 668.9,448.1 669.9,448.2 670.9,448.2 672.0,448.2 673.0,448.2 674.0,448.3 675.1,448.3 676.3,448.3 677.4,448.4 678.6,448.4 679.7,448.4 680.9,448.5 681.9,448.5 682.9,448.5 683.9,448.5 685.0,448.6 686.0,448.6" fill="none" stroke="#39AB6C" stroke-width="3.5" stroke-linejoin="round" stroke-linecap="butt"/>
<polyline points="395.9,351.4 396.9,351.4 397.9,351.4 398.9,351.5 399.9,351.5 400.9,351.5 401.9,351.5 402.9,351.5 403.9,351.5 404.9,351.6 405.9,351.6 406.9,351.6 407.9,351.6 408.9,351.6 409.9,351.6 410.9,351.7 411.9,351.7 412.9,351.7 414.0,351.7 415.0,351.7 416.0,351.8 417.0,351.8 418.0,351.8 419.0,351.8 420.0,351.8 421.0,351.8 422.0,351.9 423.0,351.9 424.0,351.9 425.0,351.9 426.0,351.9 427.0,351.9 428.0,352.0 429.0,352.0 430.0,352.0 431.0,352.0 432.0,352.1 433.0,352.1 434.0,352.1 435.0,352.1 436.0,352.1 437.0,352.2 438.0,352.2 439.0,352.2 440.0,352.2 441.0,352.3 442.0,352.3 443.0,352.3 444.0,352.4 445.0,352.4 446.0,352.4 447.0,352.4 448.0,352.4 449.0,352.5 450.0,352.5 451.0,352.5 452.0,352.6 453.0,352.6 454.0,352.6 455.0,352.6 456.0,352.7 457.0,352.7 458.0,352.7 459.0,352.7 460.0,352.8 461.0,352.8 462.0,352.8 462.6,353.2 462.6,354.2 462.6,355.2 462.6,356.3 462.6,357.3 462.6,358.3 462.6,359.3 462.7,360.3 462.7,361.4 462.7,362.4 462.7,363.4 462.7,364.4 462.7,365.5 462.7,366.5 462.7,367.5 462.7,368.5 462.7,369.5 462.7,370.6 462.7,371.6 462.8,372.6 462.8,373.6 462.8,374.6 462.8,375.7 462.8,376.7 462.8,377.7 462.8,378.7 462.8,379.7 462.8,380.8 462.8,381.8 462.8,382.8 462.8,383.8 462.8,384.9 462.9,385.9 462.9,386.9 462.9,387.9 462.9,388.9 462.9,390.0 462.9,391.0 462.9,392.0 462.9,392.0 463.0,392.9 463.1,394.2 463.3,395.7 463.4,397.4 463.6,399.1 463.8,400.9 464.0,402.5 464.2,404.0 464.4,405.3 464.6,406.6 464.8,407.9 465.1,409.1 465.3,410.3 465.6,411.5 465.9,412.8 466.2,414.0 466.5,415.3 466.9,416.5 467.3,417.8 467.7,419.1 468.2,420.4 468.6,421.6 469.1,422.8 469.6,424.0 470.1,425.1 470.7,426.2 471.2,427.3 471.8,428.3 472.4,429.3 473.1,430.2 473.7,431.1 474.4,432.0 475.1,432.8 475.8,433.6 476.5,434.4 477.3,435.1 478.1,435.8 478.9,436.4 479.7,437.0 480.6,437.6 481.5,438.1 482.4,438.6 483.3,439.1 484.3,439.5 485.2,439.9 486.3,440.3 487.4,440.6 488.6,441.0 489.8,441.3 491.0,441.7 492.2,441.9 493.5,442.2 494.9,442.5 496.5,442.7 498.3,443.0 499.3,443.1 500.4,443.2 501.6,443.3 502.8,443.4 504.1,443.5 505.4,443.6 506.8,443.7 508.2,443.8 509.2,443.9 510.2,443.9 511.2,444.0 512.3,444.0 513.4,444.1 514.5,444.2 515.6,444.2 516.7,444.3 517.8,444.3 519.0,444.4 520.2,444.4 521.3,444.5 522.6,444.5 523.8,444.6 525.0,444.6 526.2,444.6 527.5,444.7 528.7,444.7 529.9,444.8 531.2,444.8 532.4,444.8 533.7,444.9 535.0,444.9 536.3,444.9 537.3,445.0 538.3,445.0 539.3,445.0 540.3,445.0 541.4,445.0 542.4,445.1 543.5,445.1 544.6,445.1 545.8,445.1 546.9,445.2 548.1,445.2 549.2,445.2 550.3,445.2 551.3,445.2 552.3,445.3 553.3,445.3 554.4,445.3 555.5,445.3 556.6,445.3 557.7,445.4 558.9,445.4 560.0,445.4 561.0,445.4 562.1,445.4 563.1,445.5 564.2,445.5 565.2,445.5 566.3,445.5 567.4,445.5 568.5,445.5 569.7,445.6 570.8,445.6 572.0,445.6 573.1,445.6 574.1,445.6 575.2,445.7 576.2,445.7 577.3,445.7 578.3,445.7 579.4,445.7 580.4,445.7 581.5,445.8 582.6,445.8 583.7,445.8 584.8,445.8 585.9,445.8 587.0,445.8 588.1,445.8 589.2,445.9 590.3,445.9 591.4,445.9 592.6,445.9 593.7,445.9 594.8,446.0 596.0,446.0 597.0,446.0 598.0,446.0 599.0,446.0 600.0,446.0 601.0,446.1 602.0,446.1 603.0,446.1 604.0,446.1 605.0,446.1 606.0,446.1 607.0,446.2 608.0,446.2 609.0,446.2 610.0,446.2 611.0,446.2 612.0,446.2 613.2,446.3 614.3,446.3 615.5,446.3 616.6,446.3 617.7,446.4 618.9,446.4 620.0,446.4 621.1,446.4 622.1,446.4 623.2,446.5 624.2,446.5 625.3,446.5 626.3,446.5 627.4,446.6 628.4,446.6 629.4,446.6 630.5,446.6 631.5,446.7 632.5,446.7 633.5,446.7 634.6,446.7 635.6,446.7 636.6,446.8 637.6,446.8 638.7,446.8 639.8,446.8 640.8,446.9 641.9,446.9 643.0,446.9 644.0,446.9 645.1,447.0 646.1,447.0 647.2,447.0 648.3,447.1 649.3,447.1 650.4,447.1 651.5,447.1 652.5,447.2 653.6,447.2 654.6,447.2 655.7,447.2 656.8,447.3 657.8,447.3 658.8,447.3 659.8,447.3 660.8,447.4 661.8,447.4 662.8,447.4 663.8,447.4 664.8,447.5 665.8,447.5 666.8,447.5 667.9,447.5 668.9,447.6 669.9,447.6 670.9,447.6 672.0,447.6 673.0,447.7 674.0,447.7 675.1,447.7 676.3,447.8 677.4,447.8 678.6,447.8 679.7,447.8 680.9,447.9 681.9,447.9 682.9,447.9 683.9,447.9 685.0,448.0 686.0,448.0" fill="none" stroke="#FF7F0A" stroke-width="3.7" stroke-linejoin="round" stroke-linecap="butt"/>
<polyline points="396.4,531.0 396.7,531.0 397.0,530.2 397.4,529.4 397.9,529.2 398.4,528.6 398.9,527.7 399.5,527.1 400.0,526.3 400.5,526.0 401.1,526.1 401.7,525.7 402.3,524.4 402.9,524.2 403.6,523.9 404.3,524.2 405.0,523.3 405.7,523.0 406.5,523.4 407.2,522.6 408.0,523.2 408.8,522.6 409.8,522.9 410.8,522.6 412.0,521.9 413.3,522.4 414.5,521.9 415.9,521.6 417.4,521.4 419.0,522.0 420.8,521.8 422.8,521.5 423.9,522.0 425.0,521.3 426.3,521.5 427.5,521.1 428.9,521.4 430.3,521.9 431.8,521.5 433.3,521.1 434.3,521.2 435.4,521.6 436.4,521.2 437.5,521.8 438.6,520.9 439.7,521.7 440.9,521.5 442.0,521.7 443.1,521.2 444.3,520.9 445.4,521.0 446.6,521.4 447.7,520.8 448.9,520.8 450.0,521.5 451.1,521.6 452.3,521.5 453.4,521.5 454.6,521.1 455.8,521.4 456.9,521.2 458.1,521.0 459.3,520.9 460.4,520.4 461.7,520.5 462.9,520.6 464.1,520.8 465.3,520.4 466.6,521.2 467.8,520.8 469.1,520.9 470.4,521.0 471.7,520.3 472.7,520.9 473.7,521.0 474.7,520.3 475.7,520.1 476.8,520.8 477.9,520.8 478.9,520.7 480.0,520.3 481.1,520.5 482.1,520.0 483.2,520.1 484.2,520.2 485.3,520.6 486.3,519.9 487.3,520.7 488.4,519.8 489.4,520.7 490.4,520.0 491.5,520.5 492.5,520.5 493.6,520.6 494.7,520.1 495.8,520.4 496.9,519.9 498.1,520.5 499.3,519.7 500.4,520.5 501.6,520.2 502.7,519.6 503.8,520.5 504.8,519.9 505.9,519.6 507.0,519.8 508.0,519.6 509.0,519.8 510.0,520.2 511.0,520.5 512.0,520.2 513.0,520.4 514.2,520.3 515.3,520.2 516.5,519.9 517.7,519.8 518.8,519.7 520.0,520.0 521.0,519.7 522.0,520.2 523.0,519.8 524.0,520.1 525.0,520.0 526.0,520.1 527.0,519.7 528.0,519.8 529.0,520.2 530.0,519.7 531.0,520.2 532.0,520.5 533.0,519.9 534.0,520.5 535.0,520.1 536.0,520.5 537.0,520.0 538.1,520.3 539.2,520.2 540.3,519.7 541.4,520.0 542.5,520.1 543.6,520.0 544.6,520.2 545.7,520.4 546.8,520.3 547.8,520.4 548.9,519.7 549.9,520.3 550.9,520.2 552.0,520.5 553.0,519.6 554.0,519.7 555.1,520.5 556.1,519.9 557.1,520.3 558.2,520.2 559.3,520.0 560.3,520.0 561.4,520.2 562.5,520.6 563.5,520.1 564.6,520.4 565.7,519.9 566.7,520.3 567.8,520.2 568.9,520.4 570.0,520.5 571.1,519.7 572.1,520.6 573.2,520.2 574.3,519.9 575.4,520.1 576.5,519.7 577.6,519.9 578.6,520.5 579.7,520.4 580.8,520.5 581.9,519.8 583.0,519.8 584.0,520.0 585.1,520.2 586.2,520.4 587.3,520.0 588.4,520.4 589.4,520.3 590.5,520.0 591.6,520.5 592.6,519.8 593.7,520.3 594.7,519.9 595.8,519.7 596.8,520.2 597.9,520.2 598.9,520.3 600.0,520.1 601.0,520.6 602.0,520.5 603.0,519.9 604.0,519.7 605.0,520.7 606.0,520.1 607.0,519.8 608.0,519.9 609.0,520.4 610.0,519.9 611.1,520.1 612.1,520.4 613.1,520.1 614.1,520.4 615.1,520.7 616.1,520.5 617.1,520.3 618.1,520.3 619.1,520.0 620.1,520.4 621.1,520.4 622.1,520.3 623.1,520.2 624.1,520.5 625.2,519.9 626.2,520.4 627.3,520.7 628.3,519.8 629.3,520.0 630.4,520.7 631.4,519.8 632.5,520.5 633.5,520.3 634.5,519.8 635.6,520.3 636.6,519.7 637.7,520.6 638.7,520.0 639.7,520.6 640.8,520.6 641.8,519.9 642.8,520.1 643.9,519.9 644.9,520.5 645.9,519.8 647.0,519.8 648.0,519.8 649.1,520.6 650.1,520.0 651.2,520.0 652.3,520.2 653.4,520.3 654.4,520.1 655.5,520.7 656.6,520.1 657.6,520.2 658.7,520.6 659.8,520.0 660.8,519.9 661.9,520.5 663.0,520.0 664.0,520.6 665.1,520.5 666.2,520.1 667.2,520.0 668.3,519.8 669.3,520.6 670.4,520.1 671.5,520.0 672.6,519.9 673.8,519.9 674.9,520.6 676.0,519.8 677.1,520.3 678.2,520.3 679.3,520.2 680.4,520.2 681.5,520.1 682.7,519.9 683.8,520.5 684.9,520.6 686.0,520.3" fill="none" stroke="#39AB6C" stroke-width="3.4" stroke-linejoin="round" stroke-linecap="butt"/>
<polyline points="396.2,510.8 396.2,512.4 396.2,512.7 396.3,513.7 396.3,515.1 396.3,516.3 396.3,517.1 396.3,517.6 396.4,519.5 396.4,519.7 396.4,520.8 396.4,522.5 396.4,523.3 396.4,524.3 396.5,524.6 396.5,526.4 396.5,526.9 396.5,526.5 396.8,526.9 397.1,526.5 397.5,525.0 397.9,524.7 398.4,524.4 398.9,523.1 399.5,522.4 400.0,522.3 400.5,521.4 401.1,521.4 401.7,520.8 402.3,520.3 402.9,519.7 403.6,518.7 404.3,518.8 405.0,518.3 405.8,517.8 406.6,517.6 407.4,517.0 408.3,516.6 409.2,517.1 410.1,516.3 411.1,515.8 412.0,516.5 412.9,515.8 413.8,515.8 414.8,515.4 415.7,515.1 416.7,515.2 417.7,515.6 418.8,515.0 420.0,515.6 421.3,515.0 422.6,515.6 423.9,514.9 425.4,515.2 426.9,515.0 428.5,515.1 430.2,515.5 432.0,515.5 433.9,515.7 435.7,515.6 437.7,515.8 438.7,515.9 439.7,516.5 440.8,515.8 441.9,516.2 443.1,516.7 444.3,516.5 445.6,516.3 447.0,517.1 448.0,516.3 449.0,516.4 450.0,516.3 451.1,516.8 452.3,517.3 453.4,516.8 454.6,516.8 455.9,517.4 457.1,516.8 458.4,516.8 459.8,517.5 461.1,517.0 462.2,517.5 463.2,517.1 464.3,517.7 465.3,518.0 466.4,517.6 467.5,517.5 468.6,517.9 469.7,518.0 470.8,517.4 471.9,517.7 473.0,517.9 474.1,518.0 475.2,517.9 476.3,518.3 477.5,517.9 478.6,518.6 479.7,518.1 480.8,518.0 481.9,517.9 483.0,518.0 484.1,518.2 485.2,518.9 486.3,518.4 487.4,518.5 488.5,519.0 489.7,519.1 490.8,518.9 491.9,518.4 493.0,518.5 494.2,518.7 495.3,518.5 496.5,518.6 497.6,518.5 498.8,518.6 499.9,519.1 501.1,519.0 502.2,518.9 503.4,518.9 504.6,519.1 505.7,519.2 506.9,518.6 508.1,519.4 509.3,519.1 510.4,519.0 511.6,519.6 512.8,519.4 514.0,519.1 515.2,518.8 516.4,519.2 517.6,519.3 518.8,519.2 520.0,519.0 521.2,519.5 522.4,519.2 523.5,519.8 524.7,519.6 525.9,519.4 527.0,520.0 528.2,519.7 529.3,519.4 530.5,519.6 531.6,519.4 532.8,519.9 533.9,520.4 535.1,520.5 536.2,520.3 537.4,519.8 538.6,520.0 539.8,520.0 541.0,520.2 542.2,520.5 543.4,520.0 544.4,520.5 545.5,520.4 546.5,520.7 547.5,520.9 548.5,520.5 549.6,520.8 550.7,520.5 551.8,520.7 552.9,520.9 554.0,520.4 555.2,520.9 556.4,520.9 557.6,520.6 558.8,520.7 560.0,521.3 561.1,520.9 562.2,520.7 563.3,520.9 564.3,521.1 565.4,521.0 566.5,521.0 567.7,521.0 568.8,520.9 570.0,521.2 571.1,521.3 572.3,520.8 573.5,521.4 574.5,521.1 575.5,521.8 576.6,521.7 577.6,521.0 578.7,521.5 579.7,521.2 580.8,521.0 581.9,521.8 582.9,521.8 584.0,521.7 585.1,521.6 586.2,521.9 587.3,521.5 588.4,521.6 589.5,521.6 590.6,521.8 591.7,521.9 592.8,521.3 594.0,521.2 595.1,521.6 596.2,521.6 597.3,521.4 598.4,521.9 599.6,521.9 600.7,521.8 601.8,521.6 603.0,521.8 604.1,521.3 605.2,522.0 606.4,521.3 607.5,522.1 608.7,521.8 609.8,521.5 610.9,521.4 612.1,521.8 613.2,521.7 614.3,521.9 615.5,521.3 616.6,522.1 617.7,521.7 618.9,521.7 620.0,522.0 621.1,521.9 622.1,521.8 623.2,521.6 624.2,521.8 625.3,521.4 626.3,521.6 627.4,522.2 628.4,521.5 629.4,521.5 630.5,522.3 631.5,521.8 632.5,522.0 633.5,522.0 634.6,522.2 635.6,521.8 636.6,522.2 637.6,521.5 638.7,522.3 639.8,521.8 640.8,522.1 641.9,521.8 643.0,522.3 644.0,521.9 645.1,522.1 646.1,521.9 647.2,522.4 648.3,522.4 649.3,521.8 650.4,522.4 651.5,522.5 652.5,521.8 653.6,521.8 654.6,522.6 655.7,522.6 656.8,521.8 657.8,522.4 658.8,522.6 659.8,521.9 660.8,522.5 661.8,522.0 662.8,522.5 663.8,522.2 664.8,522.2 665.8,521.9 666.8,522.4 667.9,522.4 668.9,522.0 669.9,521.8 670.9,521.9 672.0,522.0 673.0,522.8 674.0,522.5 675.1,522.7 676.3,522.6 677.4,522.0 678.6,522.2 679.7,522.8 680.9,522.7 681.9,522.9 682.9,522.7 683.9,522.6 685.0,522.7 686.0,522.8" fill="none" stroke="#FF7F0A" stroke-width="3.2" stroke-linejoin="round" stroke-linecap="butt"/>
<polyline points="396.5,693.7 397.6,693.4 398.7,693.6 399.8,693.4 400.9,693.5 401.9,693.7 403.0,693.5 404.1,693.5 405.1,693.4 406.2,693.6 407.2,693.6 408.4,693.7 409.5,693.9 410.6,693.3 411.8,693.4 412.9,693.3 414.1,693.8 415.3,693.6 416.4,693.6 417.6,693.7 418.8,693.1 420.0,693.6 421.2,693.2 422.4,693.4 423.6,693.2 424.8,693.3 425.9,693.0 427.0,692.9 428.1,692.8 429.3,693.0 430.6,692.7 431.9,692.4 433.2,692.4 434.2,692.4 435.3,692.1 436.4,692.1 437.6,691.9 438.7,691.4 440.3,690.7 441.5,689.5 443.0,688.8 444.8,687.7 446.6,686.2 448.5,684.7 450.2,683.8 451.8,683.5 453.3,683.0 454.7,682.5 456.0,682.0 457.3,681.7 458.5,681.2 459.6,681.2 460.6,680.9 461.4,679.6 462.0,678.8 462.5,677.7 463.0,676.1 463.5,674.2 463.8,673.1 464.0,672.4 464.2,671.4 464.5,670.3 464.7,669.0 465.0,668.1 465.5,666.3 466.1,664.1 466.4,663.3 466.7,662.1 467.1,660.8 467.5,659.5 468.0,658.5 468.5,657.0 468.8,655.5 469.2,654.4 469.5,653.5 469.9,652.3 470.3,651.5 470.7,650.0 471.2,649.2 471.6,648.1 472.0,646.9 472.5,646.2 472.9,644.9 473.4,643.9 473.9,643.0 474.4,641.8 474.9,640.7 475.7,639.7 476.4,638.2 477.2,636.9 477.9,635.7 479.2,634.0 480.5,632.5 481.7,631.3 483.0,630.6 484.3,630.0 485.6,628.8 486.9,628.8 488.2,627.9 489.4,627.9 490.6,627.5 491.8,627.0 493.0,626.8 494.3,627.1 495.6,627.1 497.0,627.0 498.6,627.1 500.5,627.4 501.5,627.7 502.6,628.0 503.7,628.3 504.8,628.2 505.9,628.9 507.0,629.3 508.1,629.4 509.2,629.4 510.4,629.9 511.5,630.6 512.7,630.9 513.8,631.6 514.8,631.9 515.9,632.3 517.8,632.8 519.6,633.9 521.3,634.8 523.0,635.7 524.7,636.3 526.4,636.5 528.1,637.1 529.7,637.7 531.1,637.3 532.4,637.3 533.9,637.2 534.9,637.3 536.0,636.9 537.0,636.9 538.1,636.8 539.1,636.6 540.4,635.8 541.7,635.9 543.0,635.7 544.3,635.3 545.6,635.1 546.9,634.8 548.1,634.5 549.2,634.4 550.4,633.9 551.8,633.4 553.2,633.3 554.4,633.5 555.6,633.0 556.7,632.9 557.8,633.0 558.9,632.7 560.0,632.6 561.0,632.2 562.1,632.0 564.1,631.3 565.9,630.9 567.7,630.3 569.3,629.9 570.9,629.2 572.4,628.2 574.0,627.7 575.8,626.4 577.6,625.5 579.5,624.2 581.5,623.6 582.5,623.1 583.5,623.3 584.6,622.7 585.7,622.8 586.7,622.4 587.8,622.2 588.9,622.4 590.0,621.9 591.1,621.9 592.2,621.8 593.3,621.9 594.5,621.6 595.6,621.1 596.7,621.3 597.8,621.5 598.8,621.3 600.7,620.9 602.6,620.6 604.3,620.5 606.0,620.6 607.5,619.8 609.0,619.8 610.4,618.9 612.0,618.7 613.9,618.1 614.9,617.5 615.9,617.4 617.9,616.9 619.5,616.5 620.7,616.8 621.5,617.3 622.3,618.0 623.0,618.3 623.8,618.9 624.5,620.0 625.2,620.9 626.0,621.6 626.8,622.5 627.5,622.6 628.5,623.2 629.9,623.6 630.9,623.6 632.0,623.9 633.3,624.1 634.5,624.2 635.9,624.5 637.3,624.7 638.6,624.8 640.0,624.4 641.3,624.6 642.7,625.0 644.1,624.5 645.5,624.5 646.8,624.5 648.2,625.0 649.4,624.7 650.6,624.6 651.6,624.2 652.7,624.6 654.5,624.2 656.2,623.6 658.0,623.2 659.0,622.8 660.1,622.4 661.2,622.0 662.3,621.7 663.3,621.4 664.4,621.3 666.2,620.8 667.6,620.9 668.7,621.8 669.7,622.3 671.0,622.8 672.6,623.0 674.5,623.6 676.4,624.2 678.3,624.8 679.3,624.6 680.4,624.9 681.5,625.0 682.6,625.3 683.6,625.0 684.6,624.9 686.0,625.2" fill="none" stroke="#FF7F0A" stroke-width="3.2" stroke-linejoin="round" stroke-linecap="butt"/>
<polyline points="396.5,682.5 397.0,681.6 397.6,681.0 398.3,679.9 399.0,679.3 399.5,678.9 400.0,678.1 400.5,678.0 401.1,677.9 401.7,677.7 402.3,677.9 403.0,678.3 404.0,678.5 405.2,679.7 406.6,681.0 408.2,682.3 410.0,683.7 411.9,685.1 412.9,686.0 413.9,686.7 415.0,687.2 416.2,688.2 417.6,688.8 419.0,689.2 420.1,689.7 421.3,689.5 422.4,689.9 423.7,690.0 425.0,690.2 426.3,690.0 427.4,690.4 428.4,690.1 429.5,690.4 430.6,690.4 431.7,690.6 432.8,690.7 433.9,690.8 435.0,690.4 436.0,690.9 437.0,690.7 438.0,690.7 439.0,690.5 440.1,691.0 441.2,690.7 442.3,690.7 443.4,690.7 444.5,690.7 445.7,690.8 446.7,690.8 447.8,691.0 448.8,690.9 449.9,691.1 450.9,691.2 451.9,691.2 453.0,690.9 454.0,691.1 455.0,691.1 456.2,691.2 457.5,691.0 458.9,690.9 459.8,691.2 460.6,690.7 461.4,689.8 461.8,689.0 462.2,687.4 462.6,686.2 462.8,685.2 463.1,684.1 463.3,682.3 463.5,681.4 463.8,680.1 464.0,678.4 464.2,677.4 464.4,675.8 464.7,673.9 465.0,672.1 465.2,671.2 465.4,670.5 465.5,669.2 465.7,668.1 465.8,667.1 465.9,665.5 466.0,664.9 466.1,663.9 466.3,662.7 466.4,661.4 466.5,660.2 466.6,659.3 466.7,658.2 466.8,657.0 466.9,656.1 467.0,655.0 467.1,653.8 467.2,652.7 467.3,651.9 467.4,651.0 467.5,650.0 467.6,649.0 467.7,648.1 467.8,646.9 467.9,645.5 468.1,644.6 468.2,643.4 468.3,642.0 468.4,640.8 468.5,639.8 468.6,638.9 468.7,637.7 468.8,636.3 468.9,635.3 469.1,633.9 469.1,633.2 469.2,632.1 469.3,631.3 469.4,630.3 469.5,628.8 469.6,628.4 469.7,626.9 469.8,626.2 469.9,625.2 470.0,623.6 470.1,622.5 470.3,621.3 470.4,620.7 470.5,619.5 470.6,618.5 470.7,617.4 470.9,616.0 471.0,615.2 471.2,613.6 471.4,612.3 471.6,611.0 471.9,609.8 472.2,608.2 472.5,607.2 472.8,606.1 473.1,605.2 473.4,604.0 473.7,602.9 474.0,602.0 474.7,600.2 475.4,598.8 476.0,597.2 476.6,596.2 477.2,595.4 477.8,595.2 478.4,595.0 478.9,594.5 479.4,594.3 480.0,594.4 480.6,594.4 481.3,594.2 482.1,594.4 483.0,595.0 484.0,595.4 485.1,596.4 486.3,597.0 487.6,598.3 489.0,599.7 490.4,601.0 491.8,602.7 493.3,604.9 495.0,606.1 496.8,607.9 498.8,608.9 499.8,609.6 500.9,609.9 501.9,610.5 503.0,610.9 504.1,611.3 505.2,612.3 506.3,612.4 507.4,612.8 508.6,613.8 509.8,614.1 511.1,614.6 512.4,615.3 513.8,615.6 515.3,615.8 516.3,616.1 517.3,616.6 518.3,617.0 519.4,617.0 520.5,617.3 521.6,617.7 522.7,617.8 523.9,618.5 525.0,618.7 526.2,618.7 527.4,619.2 528.6,619.5 529.8,619.5 531.1,620.0 532.4,620.5 533.6,620.5 534.9,621.0 536.2,620.9 537.5,621.6 538.7,621.7 540.0,621.8 541.2,621.7 542.5,622.1 543.7,622.1 545.0,622.5 546.2,622.5 547.4,622.8 548.7,622.9 549.9,623.0 551.2,623.2 552.5,623.5 553.7,623.4 555.0,623.8 556.0,624.2 557.0,624.2 558.0,624.4 559.0,624.0 560.1,624.4 561.1,624.3 562.2,624.8 563.2,624.7 564.3,624.9 565.3,625.0 566.3,624.7 567.3,624.8 568.6,625.3 569.8,625.4 571.0,625.3 572.0,625.1 573.1,625.1 574.1,625.6 575.5,625.6 576.9,625.4 578.2,625.6 579.4,625.7 580.7,625.1 582.0,625.5 583.3,625.6 584.7,625.5 586.0,625.4 587.4,625.0 588.6,625.0 589.9,624.6 590.9,624.9 592.0,624.7 593.6,624.3 594.9,623.8 595.9,623.7 597.0,623.5 598.1,623.5 599.1,622.9 600.1,622.8 601.0,622.3 601.8,622.4 602.6,622.7 603.3,623.1 604.0,623.8 604.7,624.1 605.3,624.7 606.1,625.6 607.0,626.0 607.9,626.6 608.9,626.7 610.3,627.0 611.5,626.9 612.6,626.9 613.8,627.0 615.0,627.4 616.1,627.4 617.2,627.2 618.4,627.2 619.5,627.0 620.6,627.5 621.8,627.3 623.0,627.2 624.2,627.1 625.4,627.3 626.6,627.5 627.7,627.2 628.9,627.2 630.0,627.4 631.1,627.4 632.3,627.1 633.4,627.2 634.6,627.4 635.7,627.6 636.9,627.4 638.1,627.2 639.3,627.4 640.4,627.4 641.4,627.7 642.5,627.4 643.6,627.9 644.7,627.5 645.9,627.5 647.0,627.4 648.1,627.8 649.1,627.8 650.3,628.1 651.1,628.3 652.0,628.6 653.0,628.9 654.0,630.3 655.0,630.7 656.0,631.4 657.1,632.1 658.2,633.0 659.4,633.6 661.0,633.9 662.8,634.2 663.8,634.1 664.8,634.5 666.0,634.7 667.2,634.3 668.6,634.4 670.0,634.8 671.3,634.7 672.6,634.3 673.9,634.8 675.1,634.6 676.2,634.6 677.4,634.3 678.6,634.6 679.7,634.3 680.8,634.3 681.9,634.5 683.0,634.3 684.0,633.9 685.0,633.8 686.0,633.8" fill="none" stroke="#39AB6C" stroke-width="3.4" stroke-linejoin="round" stroke-linecap="butt"/>
<polyline points="396.3,703.5 396.3,705.5 396.3,706.1 396.3,707.0 396.3,707.8 396.3,709.0 396.3,709.9 396.3,711.3 396.4,711.9 396.4,713.5 396.4,714.5 396.4,715.5 396.4,716.3 396.4,716.5 396.4,717.9 396.4,719.5 396.4,719.8 396.4,721.1 396.4,721.6 396.4,723.5 396.4,723.8 396.4,724.8 396.5,726.4 396.5,726.4 396.5,727.3 396.5,728.9 396.5,729.9 396.5,730.5 396.5,731.8 396.5,733.4 396.5,734.5 396.5,735.6 396.5,736.4 396.5,736.4 396.5,737.8 396.5,738.9 396.6,739.3 396.6,741.4 396.6,741.7 396.6,743.4 396.6,744.2 396.6,744.7 396.6,745.8 396.6,746.9 396.6,747.6 396.6,748.3 396.6,749.9 396.6,750.6 396.6,751.7 396.6,753.4 396.7,754.3 396.7,754.9 396.7,755.3 396.7,757.4 396.7,757.7 396.7,758.4 396.7,760.4 396.8,761.6 396.9,761.7 397.0,763.1 397.1,764.5 397.2,765.0 397.3,765.8 397.4,766.5 397.5,767.3 397.6,769.5 397.7,770.4 397.8,770.6 397.9,772.2 398.0,772.6 398.1,774.3 398.2,774.8 398.3,776.3 398.4,777.0 398.4,776.4 398.6,777.5 398.8,778.2 399.1,778.0 399.4,778.7 399.8,779.7 400.2,781.1 400.6,782.1 401.0,781.9 401.4,783.0 401.8,783.2 402.3,783.0 402.7,783.6 403.2,784.5 403.8,784.3 404.5,784.7 405.3,785.3 406.2,784.8 407.1,785.6 408.0,786.0 409.1,786.4 410.3,786.8 411.6,786.6 413.2,787.2 415.0,787.5 416.1,787.2 417.1,788.4 418.3,788.9 419.5,788.5 420.8,788.5 422.1,788.7 423.5,789.0 424.8,789.1 426.3,789.2 427.7,790.4 429.2,789.8 430.6,789.8 432.1,790.7 433.5,790.0 435.0,790.7 436.4,791.2 437.8,791.7 439.2,791.2 440.6,791.1 442.0,792.5 443.5,791.4 444.9,792.1 446.3,792.5 447.8,793.3 449.2,792.6 450.7,792.6 451.7,792.8 452.7,793.0 453.7,792.8 454.8,794.0 455.8,793.6 456.8,794.0 457.9,793.5 458.9,794.1 460.0,794.6 461.1,793.7 462.2,794.9 463.3,794.0 464.4,794.7 465.5,795.1 466.6,794.6 467.8,795.3 468.9,794.7 470.1,794.8 471.2,795.6 472.4,795.3 473.6,794.6 474.8,794.8 476.0,795.4 477.2,795.3 478.4,795.0 479.6,796.1 480.8,795.5 482.0,796.4 483.2,795.8 484.5,795.6 485.7,796.0 487.0,796.7 488.2,796.9 489.5,796.5 490.7,796.1 492.0,796.6 493.2,796.3 494.5,796.5 495.8,796.1 497.1,796.2 498.3,797.6 499.6,797.4 500.9,796.8 502.2,797.4 503.5,796.7 504.9,797.8 506.2,797.6 507.5,797.8 508.5,797.5 509.5,797.5 510.6,798.1 511.6,797.5 512.6,797.2 513.7,797.3 514.7,798.5 515.7,797.7 516.8,797.4 517.9,798.2 518.9,797.6 520.0,798.1 521.1,798.6 522.2,797.9 523.3,798.3 524.4,799.0 525.6,799.0 526.7,799.0 527.9,797.9 529.0,799.3 530.2,798.8 531.4,798.2 532.6,799.5 533.8,798.3 535.0,799.6 536.2,798.3 537.4,798.4 538.6,799.0 539.8,799.2 541.0,799.3 542.2,799.6 543.4,798.7 544.6,799.6 545.8,799.1 547.0,800.0 548.2,799.6 549.3,799.7 550.5,799.0 551.7,800.2 552.8,799.3 553.9,799.3 555.1,799.6 556.2,800.2 557.3,799.6 558.4,799.8 559.4,800.0 560.5,799.6 561.6,799.4 562.6,799.9 563.6,800.3 564.7,800.3 565.7,799.7 566.7,800.4 567.7,800.7 568.7,800.5 569.7,799.8 571.1,799.7 572.4,801.1 573.7,800.7 575.0,800.2 576.3,800.9 577.7,800.7 578.7,800.8 579.7,800.4 580.7,800.9 581.7,800.5 582.7,800.6 583.7,800.5 584.7,801.1 585.8,801.4 586.8,800.6 587.9,800.3 588.9,800.6 590.0,801.4 591.1,800.8 592.2,800.4 593.3,801.6 594.4,801.1 595.6,800.6 596.7,801.6 597.9,801.3 599.0,801.8 600.2,801.8 601.4,801.8 602.5,802.0 603.7,801.3 604.9,801.9 606.1,801.5 607.3,801.8 608.5,801.2 609.6,801.8 610.8,801.1 612.0,802.2 613.2,801.3 614.3,801.9 615.5,802.3 616.6,802.3 617.8,802.4 618.9,801.8 620.0,801.4 621.1,802.7 622.2,801.8 623.2,802.6 624.3,802.0 625.3,802.1 626.4,802.3 627.7,802.3 629.0,802.7 630.3,802.5 631.6,801.9 632.8,802.5 634.0,801.9 635.2,803.0 636.4,802.1 637.6,802.4 638.7,802.8 639.9,802.4 641.0,803.3 642.2,803.2 643.3,802.6 644.4,802.7 645.6,803.2 646.7,802.9 647.9,803.1 649.0,802.8 650.2,803.1 651.4,803.2 652.6,803.7 653.8,802.9 655.0,803.6 656.3,802.8 657.6,803.0 659.0,803.0 660.1,804.0 661.1,802.9 662.2,803.2 663.3,803.4 664.4,803.8 665.6,803.8 666.7,803.1 667.8,803.5 668.9,804.0 670.0,803.2 671.2,803.2 672.3,804.3 673.4,803.2 674.4,803.3 675.5,803.5 676.5,804.4 677.8,803.8 679.1,804.0 680.4,804.2 681.4,804.7 682.5,803.5 683.6,803.8 684.8,804.1 686.0,804.5" fill="none" stroke="#FF7F0A" stroke-width="4.0" stroke-linejoin="round" stroke-linecap="butt"/>
<polyline points="396.2,739.5 396.2,740.9 396.2,742.1 396.2,742.4 396.2,743.8 396.2,744.4 396.2,746.6 396.3,746.4 396.3,747.6 396.3,749.2 396.3,749.7 396.3,751.2 396.3,751.9 396.3,753.8 396.3,754.2 396.3,754.9 396.3,755.7 396.3,757.1 396.3,758.5 396.4,759.5 396.4,760.4 396.4,761.2 396.4,762.8 396.4,763.0 396.4,764.3 396.4,765.8 396.4,766.6 396.4,767.2 396.4,768.6 396.4,769.6 396.4,770.0 396.5,771.1 396.5,772.6 396.5,773.1 396.5,774.1 396.5,775.3 396.5,775.7 396.5,777.0 396.5,778.0 396.7,776.5 396.9,776.8 397.2,775.0 397.5,774.6 397.8,774.2 398.2,773.1 398.6,773.3 399.0,772.6 399.5,771.1 400.0,770.2 400.6,770.7 401.2,769.9 401.8,768.9 402.4,767.8 403.0,767.3 403.6,768.0 404.1,767.8 404.7,767.4 405.2,767.3 405.7,767.3 406.2,767.6 406.7,767.8 407.3,768.3 408.0,768.3 408.7,768.4 409.4,768.6 410.1,769.6 410.9,770.3 411.7,769.7 412.7,771.0 413.7,771.3 415.0,771.2 416.5,771.7 418.2,773.3 420.1,773.0 422.0,773.7 424.0,774.4 426.0,776.0 427.8,776.0 429.5,775.9 431.0,776.6 432.3,777.2 433.6,777.3 434.8,776.9 436.0,778.0 437.2,777.8 438.6,777.2 440.0,777.3 441.6,777.3 443.4,777.0 445.3,777.8 447.2,777.3 449.0,777.7 450.8,777.9 452.4,777.1 453.7,777.0 454.8,777.0 455.7,777.1 456.4,776.4 457.0,776.8 457.5,776.5 458.0,776.1 458.5,777.0 459.0,776.7 459.5,776.3 459.9,775.6 460.3,776.4 460.6,775.9 461.0,776.4 461.4,775.9 461.8,775.0 462.3,775.3 462.9,774.4 463.5,773.4 464.2,773.2 465.0,771.6 465.7,770.4 466.5,769.3 467.2,769.1 468.0,767.7 468.7,766.6 469.5,765.5 470.2,765.5 471.0,763.8 471.7,763.6 472.6,762.6 473.4,761.5 474.4,759.6 475.4,759.5 476.5,758.0 477.7,757.1 478.9,756.1 480.1,754.1 481.4,753.0 482.7,752.6 484.0,750.7 485.3,749.4 486.6,748.2 488.0,747.9 489.3,746.6 490.7,746.5 492.2,744.1 493.6,743.7 495.1,743.1 496.6,741.9 498.2,741.2 499.7,739.9 501.3,739.1 502.9,738.2 504.6,737.1 506.3,735.7 508.0,734.5 509.8,733.7 511.6,732.3 513.5,731.5 515.4,730.9 517.4,730.0 519.2,729.1 521.1,728.0 522.8,728.6 524.4,727.1 525.8,726.9 527.1,726.4 528.4,726.3 529.8,726.4 531.3,726.3 533.0,725.5 535.0,725.6 536.2,724.6 537.3,724.5 538.7,724.1 540.0,724.7 541.4,723.3 542.8,723.2 544.3,723.7 545.8,722.7 546.8,722.3 547.9,722.6 548.9,722.5 550.3,722.3 551.8,721.8 553.3,721.7 554.7,721.4 556.0,721.0 557.3,721.3 558.5,720.7 559.6,720.5 560.7,721.4 561.8,721.2 562.8,720.3 563.8,720.4 565.8,719.5 567.7,719.2 568.8,719.8 569.8,720.3 571.0,719.0 572.1,719.4 573.3,719.8 574.6,718.6 576.0,719.3 577.4,718.8 578.9,719.4 580.4,719.5 581.4,719.5 582.4,719.4 583.5,718.4 584.6,719.1 585.7,719.0 586.7,718.6 587.8,718.4 588.9,718.8 590.0,718.7 591.2,718.7 592.3,719.4 593.4,718.4 594.5,719.2 595.6,718.2 596.7,718.9 597.8,718.6 598.9,718.5 600.0,718.6 601.1,718.1 602.2,718.2 603.2,718.4 604.3,718.1 605.4,719.0 606.5,718.7 607.6,718.6 608.6,718.7 609.7,717.9 610.8,717.7 611.9,717.7 613.0,718.8 614.1,718.3 615.2,718.9 616.3,718.0 617.4,718.0 618.5,718.4 619.6,718.6 620.7,718.0 621.9,718.0 623.0,717.8 624.1,717.6 625.3,718.5 626.4,718.5 627.6,717.8 628.7,717.3 629.9,718.3 631.0,717.7 632.2,718.0 633.3,717.5 634.5,716.9 635.7,717.8 636.9,716.9 638.0,718.0 639.2,716.8 640.4,717.0 641.6,716.5 642.8,716.7 644.0,717.2 645.2,716.4 646.4,716.4 647.6,716.2 648.9,716.1 650.1,716.7 651.3,716.2 652.5,716.9 653.8,716.7 655.0,716.4 656.3,716.9 657.6,716.9 659.0,715.9 660.1,716.5 661.1,716.3 662.2,715.5 663.3,716.3 664.4,715.2 665.6,716.0 666.7,716.2 667.8,715.8 668.9,715.8 670.0,715.7 671.2,715.3 672.3,714.8 673.4,715.1 674.4,714.9 675.5,715.5 676.5,715.6 677.8,715.6 679.1,714.6 680.4,715.3 681.4,715.3 682.5,714.0 683.6,714.6 684.8,713.9 686.0,713.8" fill="none" stroke="#39AB6C" stroke-width="4.4" stroke-linejoin="round" stroke-linecap="butt"/>
<line x1="395.90" y1="456.00" x2="686.10" y2="456.00" stroke="#000" stroke-width="2.7" stroke-linecap="butt"/>
<line x1="395.90" y1="577.80" x2="686.10" y2="577.80" stroke="#000" stroke-width="2.7" stroke-linecap="butt"/>
<line x1="395.90" y1="700.60" x2="686.10" y2="700.60" stroke="#000" stroke-width="2.7" stroke-linecap="butt"/>
<rect x="395.9" y="333.5" width="290.20000000000005" height="490.4" fill="none" stroke="#000" stroke-width="2.7"/>
<line x1="392.90" y1="333.40" x2="395.90" y2="333.40" stroke="#000" stroke-width="2.2" stroke-linecap="butt"/>
<text x="380.54" y="339.10" font-size="18.30" fill="#000" font-weight="normal" textLength="10.12" lengthAdjust="spacingAndGlyphs">3</text>
<line x1="392.90" y1="371.80" x2="395.90" y2="371.80" stroke="#000" stroke-width="2.2" stroke-linecap="butt"/>
<text x="380.54" y="377.50" font-size="18.30" fill="#000" font-weight="normal" textLength="10.12" lengthAdjust="spacingAndGlyphs">2</text>
<line x1="392.90" y1="410.10" x2="395.90" y2="410.10" stroke="#000" stroke-width="2.2" stroke-linecap="butt"/>
<text x="380.54" y="415.80" font-size="18.30" fill="#000" font-weight="normal" textLength="10.12" lengthAdjust="spacingAndGlyphs">1</text>
<line x1="392.90" y1="448.40" x2="395.90" y2="448.40" stroke="#000" stroke-width="2.2" stroke-linecap="butt"/>
<text x="380.54" y="454.10" font-size="18.30" fill="#000" font-weight="normal" textLength="10.12" lengthAdjust="spacingAndGlyphs">0</text>
<line x1="395.90" y1="823.90" x2="395.90" y2="826.90" stroke="#000" stroke-width="2.2" stroke-linecap="butt"/>
<text x="390.74" y="843.50" font-size="18.30" fill="#000" font-weight="normal" textLength="10.32" lengthAdjust="spacingAndGlyphs">0</text>
<line x1="462.88" y1="823.90" x2="462.88" y2="826.90" stroke="#000" stroke-width="2.2" stroke-linecap="butt"/>
<text x="457.72" y="843.50" font-size="18.30" fill="#000" font-weight="normal" textLength="10.32" lengthAdjust="spacingAndGlyphs">3</text>
<line x1="529.85" y1="823.90" x2="529.85" y2="826.90" stroke="#000" stroke-width="2.2" stroke-linecap="butt"/>
<text x="524.69" y="843.50" font-size="18.30" fill="#000" font-weight="normal" textLength="10.32" lengthAdjust="spacingAndGlyphs">6</text>
<line x1="596.82" y1="823.90" x2="596.82" y2="826.90" stroke="#000" stroke-width="2.2" stroke-linecap="butt"/>
<text x="591.67" y="843.50" font-size="18.30" fill="#000" font-weight="normal" textLength="10.32" lengthAdjust="spacingAndGlyphs">9</text>
<line x1="663.80" y1="823.90" x2="663.80" y2="826.90" stroke="#000" stroke-width="2.2" stroke-linecap="butt"/>
<text x="653.69" y="843.50" font-size="18.30" fill="#000" font-weight="normal" textLength="20.22" lengthAdjust="spacingAndGlyphs">12</text>
<text x="505.54" y="863.80" font-size="18.30" fill="#000" font-weight="normal" textLength="71.42" lengthAdjust="spacingAndGlyphs">Time (h)</text>
<text transform="translate(371.00,444.56) rotate(-90)" font-size="18.72" fill="#000" textLength="96.41" lengthAdjust="spacingAndGlyphs">Voltage (V)</text>
<text transform="translate(373.80,703.16) rotate(-90)" font-size="18.99" fill="#000" textLength="119.93" lengthAdjust="spacingAndGlyphs">Intensity (a.u.)</text>
<line x1="498.90" y1="352.60" x2="542.70" y2="352.60" stroke="#39AB6C" stroke-width="3.3" stroke-linecap="butt"/>
<line x1="498.90" y1="375.60" x2="542.70" y2="375.60" stroke="#FF7F0A" stroke-width="3.3" stroke-linecap="butt"/>
<text x="547.94" y="359.00" font-size="18.44" fill="#000" font-weight="normal" textLength="24.73" lengthAdjust="spacingAndGlyphs">BE</text>
<text x="547.94" y="382.50" font-size="18.44" fill="#000" font-weight="normal" textLength="131.03" lengthAdjust="spacingAndGlyphs">LiFSI-TEOSCN</text>
<text x="425.64" y="476.50" font-size="18.30" fill="#000" font-weight="normal" textLength="19.62" lengthAdjust="spacingAndGlyphs">Ar</text>
<text x="405.64" y="500.40" font-size="18.30" fill="#000" font-weight="normal" textLength="62.62" lengthAdjust="spacingAndGlyphs">m/z=40</text>
<text x="422.64" y="601.60" font-size="18.30" fill="#000" font-weight="normal" textLength="14.42" lengthAdjust="spacingAndGlyphs">H</text>
<text x="436.94" y="606.00" font-size="18.30" fill="#000" font-weight="normal" textLength="10.52" lengthAdjust="spacingAndGlyphs">2</text>
<text x="408.04" y="628.40" font-size="18.30" fill="#000" font-weight="normal" textLength="53.92" lengthAdjust="spacingAndGlyphs">m/z=2</text>
<text x="420.14" y="726.60" font-size="18.30" fill="#000" font-weight="normal" textLength="30.12" lengthAdjust="spacingAndGlyphs">CO</text>
<text x="449.94" y="731.00" font-size="18.30" fill="#000" font-weight="normal" textLength="11.32" lengthAdjust="spacingAndGlyphs">2</text>
<text x="410.84" y="755.00" font-size="18.30" fill="#000" font-weight="normal" textLength="63.52" lengthAdjust="spacingAndGlyphs">m/z=44</text>
<line x1="748.80" y1="344.20" x2="1032.70" y2="344.20" stroke="#8C0A12" stroke-width="3.3" stroke-linecap="butt"/>
<line x1="748.80" y1="390.10" x2="1032.70" y2="390.10" stroke="#FF7F0A" stroke-width="3.3" stroke-linecap="butt"/>
<polyline points="748.8,456.15 749.8,456.34 750.8,455.97 751.8,456.07 752.8,456.18 753.8,456.22 754.8,455.93 755.8,455.96 756.8,455.85 757.8,456.07 758.8,456.53 759.8,455.97 760.8,456.37 761.8,456.29 762.8,456.44 763.8,456.40 764.8,455.88 765.8,456.07 766.8,456.42 767.8,456.29 768.8,456.44 769.8,455.86 770.8,456.43 771.8,456.12 772.8,456.39 773.8,456.25 774.8,456.09 775.8,456.21 776.8,455.86 777.8,456.49 778.8,456.45 779.8,456.29 780.8,456.29 781.8,456.35 782.8,456.14 783.8,456.01 784.8,456.29 785.8,456.52 786.8,456.44 787.8,456.39 788.8,455.95 789.8,456.05 790.8,456.03 791.8,456.23 792.8,456.46 793.8,456.27 794.8,456.24 795.8,456.13 796.8,455.96 797.8,456.02 798.8,456.52 799.8,456.47 800.8,456.29 801.8,456.31 802.8,455.99 803.8,455.85 804.8,455.85 805.8,455.84 806.8,455.97 807.8,456.51 808.8,456.23 809.8,455.98 810.8,455.89 811.8,455.84 812.8,455.83 813.8,455.92 814.8,456.06 815.8,455.93 816.8,455.98 817.8,456.26 818.8,455.91 819.8,455.91 820.8,456.36 821.8,456.01 822.8,456.26 823.8,456.01 824.8,456.30 825.8,455.82 826.8,456.00 827.8,456.41 828.8,456.01 829.8,456.25 830.8,455.95 831.8,455.88 832.8,456.10 833.8,456.12 834.8,455.82 835.8,456.17 836.8,456.09 837.8,456.04 838.8,456.32 839.8,456.41 840.8,456.07 841.8,456.00 842.8,456.32 843.8,456.31 844.8,456.13 845.8,456.20 846.8,456.01 847.8,456.27 848.8,456.16 849.8,456.36 850.8,455.96 851.8,455.79 852.8,456.35 853.8,456.14 854.8,456.29 855.8,456.24 856.8,456.25 857.8,455.96 858.8,456.30 859.8,456.12 860.8,455.96 861.8,455.78 862.8,455.71 863.8,455.79 864.8,455.84 865.8,455.83 866.8,456.01 867.8,456.22 868.8,455.92 869.8,455.95 870.8,455.46 871.8,455.90 872.8,455.74 873.8,455.85 874.8,455.48 875.8,455.61 876.2,455.48 876.6,455.62 877.0,455.34 877.4,455.56 877.8,455.54 878.2,455.25 878.6,455.17 879.0,455.25 879.4,455.04 879.8,455.28 880.2,455.16 880.6,454.76 881.0,454.78 881.4,454.25 881.8,454.68 882.2,454.32 882.6,453.73 883.0,453.53 883.4,453.89 883.8,453.58 884.2,453.17 884.6,452.68 885.0,452.16 885.4,451.84 885.8,451.55 886.2,450.65 886.6,449.35 887.0,448.33 887.4,446.76 887.8,445.28 888.2,442.42 888.6,438.29 889.0,431.56 889.4,421.71 889.8,407.98 890.2,395.69 890.6,395.75 891.0,408.21 891.4,421.73 891.8,431.77 892.2,438.24 892.6,442.10 893.0,445.25 893.4,446.90 893.8,448.37 894.2,449.87 894.6,450.27 895.0,450.97 895.4,452.20 895.8,452.31 896.2,452.68 896.6,453.28 897.0,453.66 897.4,453.55 897.8,454.08 898.2,453.81 898.6,454.51 899.0,454.33 899.4,454.45 899.8,454.31 900.2,454.46 900.6,454.78 901.0,454.68 901.4,455.14 901.8,455.45 902.2,455.02 902.6,455.41 903.0,455.35 903.4,455.42 903.8,455.58 904.2,455.42 904.6,455.70 905.0,455.27 905.4,455.67 905.8,455.59 906.8,455.43 907.8,455.51 908.8,456.07 909.8,455.89 910.8,455.83 911.8,455.87 912.8,456.14 913.8,456.01 914.8,455.75 915.8,456.27 916.8,456.22 917.8,456.19 918.8,456.15 919.8,456.14 920.8,455.91 921.8,456.38 922.8,456.20 923.8,455.82 924.8,456.28 925.8,456.02 926.8,455.77 927.8,456.36 928.8,455.90 929.8,456.04 930.8,455.82 931.8,456.12 932.8,456.14 933.8,456.34 934.8,456.44 935.8,456.39 936.8,456.25 937.8,456.06 938.8,456.44 939.8,455.95 940.8,456.01 941.8,456.19 942.8,456.05 943.8,456.19 944.8,455.88 945.8,455.97 946.8,455.81 947.8,456.10 948.8,455.97 949.8,456.38 950.8,455.99 951.8,455.94 952.8,456.31 953.8,455.95 954.8,456.40 955.8,456.18 956.8,455.91 957.8,456.31 958.8,456.51 959.8,456.03 960.8,456.21 961.8,456.20 962.8,456.49 963.8,456.51 964.8,455.86 965.8,456.09 966.8,456.39 967.8,456.12 968.8,456.18 969.8,456.22 970.8,455.83 971.8,455.85 972.8,456.45 973.8,456.10 974.8,456.14 975.8,456.22 976.8,456.35 977.8,456.45 978.8,455.89 979.8,456.27 980.8,455.83 981.8,456.21 982.8,456.40 983.8,456.17 984.8,456.09 985.8,456.43 986.8,456.32 987.8,456.47 988.8,456.21 989.8,456.05 990.8,456.32 991.8,456.18 992.8,455.84 993.8,455.93 994.8,456.51 995.8,456.29 996.8,455.86 997.8,456.36 998.8,456.37 999.8,455.87 1000.8,456.53 1001.8,455.96 1002.8,456.19 1003.8,456.34 1004.8,456.18 1005.8,456.08 1006.8,456.17 1007.8,456.28 1008.8,456.51 1009.8,456.46 1010.8,456.53 1011.8,456.40 1012.8,456.17 1013.8,456.09 1014.8,456.48 1015.8,456.49 1016.8,456.05 1017.8,456.39 1018.8,456.08 1019.8,455.88 1020.8,456.17 1021.8,456.47 1022.8,456.21 1023.8,456.41 1024.8,456.43 1025.8,456.40 1026.8,456.05 1027.8,456.48 1028.8,455.90 1029.8,456.20 1030.8,455.90 1031.8,456.11" fill="none" stroke="#B57BE0" stroke-width="3.2" stroke-linejoin="round"/>
<polyline points="748.8,522.04 749.8,521.99 750.8,522.12 751.8,521.81 752.8,521.78 753.8,521.54 754.8,521.76 755.8,522.05 756.8,521.66 757.8,522.02 758.8,521.63 759.8,521.98 760.8,521.55 761.8,522.09 762.8,521.50 763.8,521.47 764.8,521.82 765.8,521.96 766.8,521.91 767.8,521.70 768.8,521.91 769.8,521.55 770.8,521.64 771.8,521.61 772.8,521.57 773.8,521.44 774.8,521.56 775.8,521.79 776.8,521.83 777.8,521.64 778.8,521.83 779.8,521.64 780.8,521.97 781.8,521.41 782.8,521.94 783.8,522.03 784.8,521.81 785.8,521.85 786.8,522.09 787.8,521.50 788.8,521.46 789.8,521.75 790.8,521.90 791.8,521.77 792.8,521.73 793.8,521.69 794.8,521.71 795.8,522.00 796.8,521.43 797.8,521.84 798.8,521.45 799.8,521.97 800.8,521.56 801.8,521.94 802.8,521.60 803.8,521.82 804.8,521.73 805.8,522.04 806.8,521.70 807.8,521.73 808.8,521.72 809.8,521.54 810.8,522.02 811.8,521.60 812.8,521.46 813.8,521.50 814.8,521.86 815.8,521.98 816.8,521.76 817.8,522.01 818.8,521.50 819.8,521.96 820.8,521.87 821.8,521.48 822.8,521.39 823.8,521.62 824.8,521.61 825.8,521.66 826.8,521.82 827.8,521.47 828.8,521.48 829.8,521.53 830.8,521.41 831.8,521.60 832.8,521.70 833.8,521.47 834.8,521.37 835.8,521.78 836.8,521.32 837.8,521.85 838.8,521.67 839.8,521.39 840.8,521.23 841.8,521.81 842.8,521.22 843.8,521.73 844.8,521.56 845.8,521.66 846.8,521.30 847.8,521.66 848.8,521.32 849.8,521.53 850.8,521.78 851.8,521.50 852.8,521.18 853.8,521.22 854.8,521.31 855.8,521.58 856.8,521.53 857.8,521.22 858.8,521.33 859.8,521.13 860.8,521.19 861.8,521.03 862.8,521.42 863.8,520.97 864.8,520.88 865.8,521.03 866.8,520.68 867.8,520.53 868.8,520.68 869.8,520.85 870.8,520.41 871.8,520.23 872.8,520.09 873.8,520.14 874.8,519.71 875.8,519.67 876.2,519.55 876.6,519.11 877.0,519.19 877.4,519.42 877.8,518.86 878.2,519.09 878.6,518.46 879.0,518.58 879.4,518.36 879.8,518.32 880.2,517.66 880.6,517.51 881.0,517.46 881.4,517.55 881.8,516.96 882.2,516.88 882.6,516.28 883.0,516.20 883.4,515.12 883.8,515.17 884.2,514.18 884.6,513.51 885.0,512.98 885.4,512.05 885.8,511.45 886.2,510.20 886.6,508.60 887.0,506.46 887.4,504.19 887.8,501.44 888.2,497.62 888.6,492.71 889.0,486.61 889.4,479.49 889.8,472.42 890.2,467.59 890.6,467.73 891.0,472.88 891.4,479.89 891.8,486.89 892.2,493.23 892.6,498.05 893.0,501.20 893.4,504.06 893.8,506.52 894.2,508.46 894.6,510.25 895.0,510.77 895.4,512.25 895.8,513.17 896.2,513.54 896.6,514.53 897.0,515.17 897.4,515.13 897.8,515.97 898.2,516.24 898.6,516.81 899.0,516.71 899.4,517.37 899.8,517.18 900.2,517.45 900.6,517.96 901.0,518.11 901.4,518.37 901.8,518.39 902.2,519.11 902.6,518.85 903.0,519.06 903.4,519.09 903.8,519.58 904.2,519.20 904.6,519.84 905.0,519.43 905.4,520.00 905.8,519.78 906.8,520.10 907.8,520.02 908.8,520.57 909.8,520.29 910.8,520.80 911.8,520.81 912.8,521.06 913.8,521.20 914.8,521.14 915.8,520.77 916.8,521.27 917.8,520.82 918.8,521.36 919.8,521.48 920.8,520.97 921.8,520.94 922.8,521.51 923.8,521.22 924.8,521.47 925.8,521.59 926.8,521.70 927.8,521.43 928.8,521.67 929.8,521.74 930.8,521.66 931.8,521.39 932.8,521.79 933.8,521.46 934.8,521.80 935.8,521.45 936.8,521.54 937.8,521.23 938.8,521.29 939.8,521.88 940.8,521.55 941.8,521.75 942.8,521.58 943.8,521.77 944.8,521.63 945.8,521.37 946.8,521.50 947.8,521.73 948.8,521.40 949.8,521.95 950.8,521.34 951.8,521.70 952.8,521.92 953.8,521.82 954.8,521.42 955.8,521.40 956.8,521.82 957.8,521.61 958.8,521.40 959.8,521.42 960.8,521.80 961.8,521.36 962.8,521.55 963.8,522.01 964.8,521.53 965.8,521.95 966.8,521.37 967.8,521.50 968.8,521.39 969.8,521.87 970.8,521.76 971.8,521.90 972.8,521.94 973.8,521.88 974.8,521.45 975.8,521.69 976.8,521.40 977.8,521.94 978.8,521.64 979.8,521.70 980.8,522.01 981.8,522.08 982.8,521.81 983.8,521.66 984.8,522.00 985.8,521.98 986.8,521.54 987.8,521.71 988.8,522.06 989.8,522.08 990.8,522.03 991.8,521.74 992.8,521.51 993.8,522.02 994.8,521.54 995.8,521.82 996.8,521.67 997.8,521.99 998.8,521.66 999.8,521.67 1000.8,522.00 1001.8,521.91 1002.8,522.10 1003.8,521.49 1004.8,521.50 1005.8,521.88 1006.8,521.76 1007.8,522.04 1008.8,521.74 1009.8,521.44 1010.8,521.74 1011.8,521.59 1012.8,521.97 1013.8,521.98 1014.8,522.02 1015.8,521.49 1016.8,521.81 1017.8,521.55 1018.8,522.10 1019.8,521.52 1020.8,521.87 1021.8,521.92 1022.8,521.56 1023.8,521.83 1024.8,521.50 1025.8,521.46 1026.8,521.62 1027.8,521.48 1028.8,521.73 1029.8,521.90 1030.8,522.07 1031.8,521.61" fill="none" stroke="#39AB6C" stroke-width="3.2" stroke-linejoin="round"/>
<rect x="748.8" y="309.7" width="283.9000000000001" height="228.59999999999997" fill="none" stroke="#000" stroke-width="2.7"/>
<line x1="748.70" y1="538.30" x2="748.70" y2="541.90" stroke="#000" stroke-width="2.2" stroke-linecap="butt"/>
<line x1="784.00" y1="538.30" x2="784.00" y2="540.90" stroke="#000" stroke-width="2.0" stroke-linecap="butt"/>
<text x="729.59" y="557.30" font-size="14.11" fill="#000" font-weight="normal" textLength="39.82" lengthAdjust="spacingAndGlyphs">-151.0</text>
<line x1="819.30" y1="538.30" x2="819.30" y2="541.90" stroke="#000" stroke-width="2.2" stroke-linecap="butt"/>
<line x1="854.60" y1="538.30" x2="854.60" y2="540.90" stroke="#000" stroke-width="2.0" stroke-linecap="butt"/>
<text x="800.19" y="557.30" font-size="14.11" fill="#000" font-weight="normal" textLength="39.82" lengthAdjust="spacingAndGlyphs">-151.5</text>
<line x1="889.90" y1="538.30" x2="889.90" y2="541.90" stroke="#000" stroke-width="2.2" stroke-linecap="butt"/>
<line x1="925.20" y1="538.30" x2="925.20" y2="540.90" stroke="#000" stroke-width="2.0" stroke-linecap="butt"/>
<text x="870.79" y="557.30" font-size="14.11" fill="#000" font-weight="normal" textLength="39.82" lengthAdjust="spacingAndGlyphs">-152.0</text>
<line x1="960.50" y1="538.30" x2="960.50" y2="541.90" stroke="#000" stroke-width="2.2" stroke-linecap="butt"/>
<line x1="995.80" y1="538.30" x2="995.80" y2="540.90" stroke="#000" stroke-width="2.0" stroke-linecap="butt"/>
<text x="941.39" y="557.30" font-size="14.11" fill="#000" font-weight="normal" textLength="39.82" lengthAdjust="spacingAndGlyphs">-152.5</text>
<line x1="1031.10" y1="538.30" x2="1031.10" y2="541.90" stroke="#000" stroke-width="2.2" stroke-linecap="butt"/>
<text x="1011.99" y="557.30" font-size="14.11" fill="#000" font-weight="normal" textLength="39.82" lengthAdjust="spacingAndGlyphs">-153.0</text>
<text x="805.75" y="575.60" font-size="18.16" fill="#000" font-weight="normal" textLength="169.51" lengthAdjust="spacingAndGlyphs">Chemical shift (ppm)</text>
<text transform="translate(735.00,478.16) rotate(-90)" font-size="18.99" fill="#000" textLength="122.13" lengthAdjust="spacingAndGlyphs">Intensity (a.u.)</text>
<text x="887.06" y="336.20" font-size="14.94" fill="#8C0A12" font-weight="normal" textLength="137.68" lengthAdjust="spacingAndGlyphs">1 M LiPF<tspan dy="3.6">6</tspan><tspan dy="-3.6"> TEOSCN</tspan></text>
<text x="917.90" y="383.00" font-size="13.83" fill="#FF7F0A" font-weight="normal" textLength="104.80" lengthAdjust="spacingAndGlyphs">LiFSI-TEOSCN</text>
<text x="935.50" y="447.40" font-size="13.83" fill="#B57BE0" font-weight="normal" textLength="78.20" lengthAdjust="spacingAndGlyphs">BE + 2% VC</text>
<text x="957.90" y="512.40" font-size="13.83" fill="#39AB6C" font-weight="normal" textLength="18.90" lengthAdjust="spacingAndGlyphs">BE</text>
<circle cx="760.1" cy="609.2" r="1.0" fill="#B57BE0"/>
<circle cx="761.4" cy="608.8" r="1.0" fill="#B57BE0"/>
<circle cx="762.8" cy="609.3" r="1.0" fill="#B57BE0"/>
<circle cx="764.2" cy="609.2" r="1.0" fill="#B57BE0"/>
<circle cx="765.6" cy="608.8" r="1.0" fill="#B57BE0"/>
<circle cx="767.0" cy="608.8" r="1.0" fill="#B57BE0"/>
<circle cx="768.3" cy="608.9" r="1.0" fill="#B57BE0"/>
<circle cx="771.1" cy="609.4" r="1.0" fill="#B57BE0"/>
<circle cx="772.5" cy="608.8" r="1.0" fill="#B57BE0"/>
<circle cx="773.9" cy="609.0" r="1.0" fill="#B57BE0"/>
<circle cx="775.3" cy="609.2" r="1.0" fill="#B57BE0"/>
<circle cx="776.6" cy="608.6" r="1.0" fill="#B57BE0"/>
<circle cx="778.0" cy="608.9" r="1.0" fill="#B57BE0"/>
<circle cx="779.4" cy="608.8" r="1.0" fill="#B57BE0"/>
<circle cx="780.8" cy="609.4" r="1.0" fill="#B57BE0"/>
<circle cx="782.2" cy="608.8" r="1.0" fill="#B57BE0"/>
<circle cx="783.5" cy="608.9" r="1.0" fill="#B57BE0"/>
<circle cx="784.9" cy="608.9" r="1.0" fill="#B57BE0"/>
<circle cx="786.3" cy="608.8" r="1.0" fill="#B57BE0"/>
<circle cx="787.7" cy="609.3" r="1.0" fill="#B57BE0"/>
<circle cx="790.5" cy="609.3" r="1.0" fill="#B57BE0"/>
<circle cx="791.8" cy="609.2" r="1.0" fill="#B57BE0"/>
<circle cx="793.2" cy="609.1" r="1.0" fill="#B57BE0"/>
<circle cx="796.0" cy="609.2" r="1.0" fill="#B57BE0"/>
<circle cx="797.4" cy="608.9" r="1.0" fill="#B57BE0"/>
<circle cx="801.5" cy="608.7" r="1.0" fill="#B57BE0"/>
<circle cx="802.9" cy="608.8" r="1.0" fill="#B57BE0"/>
<circle cx="804.3" cy="608.8" r="1.0" fill="#B57BE0"/>
<circle cx="805.7" cy="608.9" r="1.0" fill="#B57BE0"/>
<circle cx="807.0" cy="609.4" r="1.0" fill="#B57BE0"/>
<circle cx="808.4" cy="608.6" r="1.0" fill="#B57BE0"/>
<circle cx="811.2" cy="609.2" r="1.0" fill="#B57BE0"/>
<circle cx="812.6" cy="608.6" r="1.0" fill="#B57BE0"/>
<circle cx="814.0" cy="609.3" r="1.0" fill="#B57BE0"/>
<circle cx="815.3" cy="609.0" r="1.0" fill="#B57BE0"/>
<circle cx="816.7" cy="609.1" r="1.0" fill="#B57BE0"/>
<circle cx="818.1" cy="609.2" r="1.0" fill="#B57BE0"/>
<circle cx="819.5" cy="609.0" r="1.0" fill="#B57BE0"/>
<circle cx="822.2" cy="609.4" r="1.0" fill="#B57BE0"/>
<circle cx="823.6" cy="609.3" r="1.0" fill="#B57BE0"/>
<circle cx="825.0" cy="609.4" r="1.0" fill="#B57BE0"/>
<circle cx="826.4" cy="608.8" r="1.0" fill="#B57BE0"/>
<circle cx="827.8" cy="608.7" r="1.0" fill="#B57BE0"/>
<circle cx="829.2" cy="609.2" r="1.0" fill="#B57BE0"/>
<circle cx="830.5" cy="608.6" r="1.0" fill="#B57BE0"/>
<circle cx="833.3" cy="609.2" r="1.0" fill="#B57BE0"/>
<circle cx="834.7" cy="608.8" r="1.0" fill="#B57BE0"/>
<circle cx="837.4" cy="608.8" r="1.0" fill="#B57BE0"/>
<circle cx="841.6" cy="609.4" r="1.0" fill="#B57BE0"/>
<circle cx="843.0" cy="609.2" r="1.0" fill="#B57BE0"/>
<circle cx="844.4" cy="608.8" r="1.0" fill="#B57BE0"/>
<circle cx="845.7" cy="608.9" r="1.0" fill="#B57BE0"/>
<circle cx="847.1" cy="608.9" r="1.0" fill="#B57BE0"/>
<circle cx="848.5" cy="609.1" r="1.0" fill="#B57BE0"/>
<circle cx="849.9" cy="608.7" r="1.0" fill="#B57BE0"/>
<circle cx="851.3" cy="609.3" r="1.0" fill="#B57BE0"/>
<circle cx="852.6" cy="608.8" r="1.0" fill="#B57BE0"/>
<circle cx="855.4" cy="609.4" r="1.0" fill="#B57BE0"/>
<circle cx="856.8" cy="608.8" r="1.0" fill="#B57BE0"/>
<circle cx="858.2" cy="609.3" r="1.0" fill="#B57BE0"/>
<circle cx="859.6" cy="608.8" r="1.0" fill="#B57BE0"/>
<circle cx="860.9" cy="608.6" r="1.0" fill="#B57BE0"/>
<circle cx="862.3" cy="609.2" r="1.0" fill="#B57BE0"/>
<circle cx="863.7" cy="609.0" r="1.0" fill="#B57BE0"/>
<circle cx="865.1" cy="609.2" r="1.0" fill="#B57BE0"/>
<circle cx="866.5" cy="609.3" r="1.0" fill="#B57BE0"/>
<circle cx="867.9" cy="609.4" r="1.0" fill="#B57BE0"/>
<circle cx="869.2" cy="608.9" r="1.0" fill="#B57BE0"/>
<circle cx="870.6" cy="608.8" r="1.0" fill="#B57BE0"/>
<circle cx="872.0" cy="609.3" r="1.0" fill="#B57BE0"/>
<circle cx="874.8" cy="609.2" r="1.0" fill="#B57BE0"/>
<circle cx="877.5" cy="608.7" r="1.0" fill="#B57BE0"/>
<circle cx="880.3" cy="609.0" r="1.0" fill="#B57BE0"/>
<circle cx="881.7" cy="609.0" r="1.0" fill="#B57BE0"/>
<circle cx="883.1" cy="608.6" r="1.0" fill="#B57BE0"/>
<circle cx="884.4" cy="608.9" r="1.0" fill="#B57BE0"/>
<circle cx="885.8" cy="607.0" r="1.0" fill="#B57BE0"/>
<circle cx="887.2" cy="606.3" r="1.0" fill="#B57BE0"/>
<circle cx="888.6" cy="606.7" r="1.0" fill="#B57BE0"/>
<circle cx="890.0" cy="607.0" r="1.0" fill="#B57BE0"/>
<circle cx="891.3" cy="606.6" r="1.0" fill="#B57BE0"/>
<circle cx="892.7" cy="606.7" r="1.0" fill="#B57BE0"/>
<circle cx="895.5" cy="606.7" r="1.0" fill="#B57BE0"/>
<circle cx="896.9" cy="606.3" r="1.0" fill="#B57BE0"/>
<circle cx="898.3" cy="606.8" r="1.0" fill="#B57BE0"/>
<circle cx="899.6" cy="607.1" r="1.0" fill="#B57BE0"/>
<circle cx="901.0" cy="604.8" r="1.0" fill="#B57BE0"/>
<circle cx="902.4" cy="604.6" r="1.0" fill="#B57BE0"/>
<circle cx="906.5" cy="604.4" r="1.0" fill="#B57BE0"/>
<circle cx="907.9" cy="604.8" r="1.0" fill="#B57BE0"/>
<circle cx="909.3" cy="604.4" r="1.0" fill="#B57BE0"/>
<circle cx="912.1" cy="604.5" r="1.0" fill="#B57BE0"/>
<circle cx="913.5" cy="604.6" r="1.0" fill="#B57BE0"/>
<circle cx="916.2" cy="604.4" r="1.0" fill="#B57BE0"/>
<circle cx="919.0" cy="604.9" r="1.0" fill="#B57BE0"/>
<circle cx="920.4" cy="604.5" r="1.0" fill="#B57BE0"/>
<circle cx="921.8" cy="604.8" r="1.0" fill="#B57BE0"/>
<circle cx="923.1" cy="604.8" r="1.0" fill="#B57BE0"/>
<circle cx="924.5" cy="604.3" r="1.0" fill="#B57BE0"/>
<circle cx="927.3" cy="604.8" r="1.0" fill="#B57BE0"/>
<circle cx="928.7" cy="604.3" r="1.0" fill="#B57BE0"/>
<circle cx="930.0" cy="604.4" r="1.0" fill="#B57BE0"/>
<circle cx="931.4" cy="604.9" r="1.0" fill="#B57BE0"/>
<circle cx="932.8" cy="604.6" r="1.0" fill="#B57BE0"/>
<circle cx="934.2" cy="604.1" r="1.0" fill="#B57BE0"/>
<circle cx="935.6" cy="604.4" r="1.0" fill="#B57BE0"/>
<circle cx="938.3" cy="604.8" r="1.0" fill="#B57BE0"/>
<circle cx="939.7" cy="604.8" r="1.0" fill="#B57BE0"/>
<circle cx="941.1" cy="604.1" r="1.0" fill="#B57BE0"/>
<circle cx="942.5" cy="604.6" r="1.0" fill="#B57BE0"/>
<circle cx="943.9" cy="604.3" r="1.0" fill="#B57BE0"/>
<circle cx="945.2" cy="604.8" r="1.0" fill="#B57BE0"/>
<circle cx="946.6" cy="604.4" r="1.0" fill="#B57BE0"/>
<circle cx="948.0" cy="604.4" r="1.0" fill="#B57BE0"/>
<circle cx="949.4" cy="604.2" r="1.0" fill="#B57BE0"/>
<circle cx="950.8" cy="604.1" r="1.0" fill="#B57BE0"/>
<circle cx="952.2" cy="604.2" r="1.0" fill="#B57BE0"/>
<circle cx="953.5" cy="604.7" r="1.0" fill="#B57BE0"/>
<circle cx="956.3" cy="604.9" r="1.0" fill="#B57BE0"/>
<circle cx="957.7" cy="604.5" r="1.0" fill="#B57BE0"/>
<circle cx="959.1" cy="604.1" r="1.0" fill="#B57BE0"/>
<circle cx="960.4" cy="604.7" r="1.0" fill="#B57BE0"/>
<circle cx="961.8" cy="604.9" r="1.0" fill="#B57BE0"/>
<circle cx="963.2" cy="604.3" r="1.0" fill="#B57BE0"/>
<circle cx="964.6" cy="604.8" r="1.0" fill="#B57BE0"/>
<circle cx="966.0" cy="604.3" r="1.0" fill="#B57BE0"/>
<circle cx="967.4" cy="604.6" r="1.0" fill="#B57BE0"/>
<circle cx="968.7" cy="604.8" r="1.0" fill="#B57BE0"/>
<circle cx="970.1" cy="604.7" r="1.0" fill="#B57BE0"/>
<circle cx="972.9" cy="604.6" r="1.0" fill="#B57BE0"/>
<circle cx="974.3" cy="604.5" r="1.0" fill="#B57BE0"/>
<circle cx="975.6" cy="604.8" r="1.0" fill="#B57BE0"/>
<circle cx="977.0" cy="604.6" r="1.0" fill="#B57BE0"/>
<circle cx="978.4" cy="604.6" r="1.0" fill="#B57BE0"/>
<circle cx="981.2" cy="604.7" r="1.0" fill="#B57BE0"/>
<circle cx="982.6" cy="604.4" r="1.0" fill="#B57BE0"/>
<circle cx="983.9" cy="604.8" r="1.0" fill="#B57BE0"/>
<circle cx="985.3" cy="604.1" r="1.0" fill="#B57BE0"/>
<circle cx="986.7" cy="604.6" r="1.0" fill="#B57BE0"/>
<circle cx="988.1" cy="604.5" r="1.0" fill="#B57BE0"/>
<circle cx="989.5" cy="604.7" r="1.0" fill="#B57BE0"/>
<circle cx="990.9" cy="604.3" r="1.0" fill="#B57BE0"/>
<circle cx="992.2" cy="604.1" r="1.0" fill="#B57BE0"/>
<circle cx="993.6" cy="604.6" r="1.0" fill="#B57BE0"/>
<circle cx="995.0" cy="604.5" r="1.0" fill="#B57BE0"/>
<circle cx="996.4" cy="604.3" r="1.0" fill="#B57BE0"/>
<circle cx="997.8" cy="604.9" r="1.0" fill="#B57BE0"/>
<circle cx="999.1" cy="604.7" r="1.0" fill="#B57BE0"/>
<circle cx="1001.9" cy="604.8" r="1.0" fill="#B57BE0"/>
<circle cx="1003.3" cy="604.7" r="1.0" fill="#B57BE0"/>
<circle cx="1004.7" cy="604.3" r="1.0" fill="#B57BE0"/>
<circle cx="1006.1" cy="604.1" r="1.0" fill="#B57BE0"/>
<circle cx="1007.4" cy="604.4" r="1.0" fill="#B57BE0"/>
<circle cx="1008.8" cy="604.7" r="1.0" fill="#B57BE0"/>
<circle cx="1010.2" cy="604.8" r="1.0" fill="#B57BE0"/>
<circle cx="1011.6" cy="604.9" r="1.0" fill="#B57BE0"/>
<circle cx="1014.3" cy="604.8" r="1.0" fill="#B57BE0"/>
<circle cx="1018.5" cy="604.4" r="1.0" fill="#B57BE0"/>
<circle cx="1019.9" cy="604.5" r="1.0" fill="#B57BE0"/>
<circle cx="1021.3" cy="604.8" r="1.0" fill="#B57BE0"/>
<circle cx="1022.6" cy="604.5" r="1.0" fill="#B57BE0"/>
<circle cx="1024.0" cy="604.5" r="1.0" fill="#B57BE0"/>
<circle cx="1025.4" cy="604.5" r="1.0" fill="#B57BE0"/>
<circle cx="1026.8" cy="604.6" r="1.0" fill="#B57BE0"/>
<circle cx="1029.5" cy="604.3" r="1.0" fill="#B57BE0"/>
<circle cx="750.0" cy="621.4" r="1.6" fill="#B57BE0"/>
<circle cx="751.4" cy="622.6" r="1.6" fill="#B57BE0"/>
<circle cx="753.0" cy="623.5" r="1.6" fill="#B57BE0"/>
<circle cx="754.8" cy="622.2" r="1.6" fill="#B57BE0"/>
<circle cx="756.3" cy="633.5" r="1.6" fill="#B57BE0"/>
<circle cx="757.8" cy="611.0" r="1.6" fill="#B57BE0"/>
<circle cx="759.4" cy="608.6" r="1.6" fill="#B57BE0"/>
<circle cx="820.2" cy="612.8" r="1.6" fill="#B57BE0"/>
<circle cx="821.6" cy="595.8" r="1.6" fill="#B57BE0"/>
<polyline points="752.4,612.6 752.5,612.2 752.6,611.8 752.7,611.7 752.9,611.5 753.1,611.0 753.2,610.6 753.4,610.3 753.6,610.2 753.8,609.9 754.0,609.9 754.2,609.4 754.4,609.4 754.6,609.0 754.8,608.8 755.0,608.6 755.2,608.7 755.4,608.6 755.6,608.3 755.8,608.3 756.0,608.2 756.2,608.1 756.5,607.9 756.7,607.7 757.0,607.6 757.3,607.7 757.6,607.3 757.9,607.2 758.3,607.5 758.7,607.5 759.1,607.3 759.5,607.3 760.0,606.9 760.3,607.2 760.4,607.1 760.4,606.9 760.5,606.9 760.8,607.0 761.6,607.1 762.9,607.0 764.0,606.7 765.0,606.9 766.6,606.8 767.0,606.7 767.3,606.6 768.3,606.9 769.7,606.7 771.1,606.8 772.2,606.8 773.4,607.0 774.5,606.7 775.6,606.9 776.7,606.9 777.7,606.9 778.8,607.0 779.8,606.7 780.8,607.0 781.9,606.6 782.9,606.8 783.9,606.9 785.0,607.0 786.0,606.7 787.0,606.9 788.0,606.9 789.0,606.6 790.0,606.9 791.0,607.0 792.0,606.6 793.0,606.7 794.0,606.8 795.0,607.0 796.0,607.0 797.0,606.6 798.0,606.7 799.0,606.6 800.0,606.6 801.0,606.7 802.0,607.0 803.0,607.0 804.0,606.6 805.0,606.9 806.0,606.9 807.1,606.8 808.1,607.0 809.1,606.6 810.1,606.7 811.1,606.6 812.1,607.0 813.1,606.9 814.1,606.8 815.1,606.6 816.1,607.0 817.1,606.9 818.1,607.0 819.1,607.0 820.2,606.9 821.2,606.8 822.2,606.9 823.2,606.6 824.2,607.0 825.2,606.7 826.2,606.8 827.3,607.0 828.3,606.5 829.3,606.7 830.3,606.9 831.3,606.7 832.3,607.0 833.3,606.9 834.4,606.6 835.4,606.8 836.4,606.7 837.4,606.9 838.4,606.9 839.4,606.8 840.4,606.6 841.5,607.0 842.5,606.6 843.5,606.8 844.5,606.9 845.5,606.8 846.5,606.5 847.6,606.8 848.6,606.6 849.6,606.6 850.6,606.6 851.6,606.6 852.6,606.8 853.6,606.9 854.6,606.7 855.6,607.0 856.6,606.6 857.6,606.7 858.6,606.7 859.6,606.8 860.6,606.9 861.7,606.7 862.7,606.7 863.7,606.7 864.7,606.7 865.7,606.5 866.7,606.9 867.7,606.5 868.7,606.7 869.7,606.6 870.7,606.7 871.7,606.9 872.7,606.9 873.7,606.9 874.7,606.8 875.7,606.7 876.7,606.5 877.7,606.6 878.7,607.0 879.8,606.7 880.8,606.7 881.8,606.7 882.8,606.7 883.8,606.6 884.8,606.6 885.8,606.7 886.8,606.7 887.8,606.5 888.8,606.6 889.9,606.5 890.9,606.7 891.9,606.8 892.9,606.9 893.9,606.7 894.9,606.8 895.9,606.9 896.9,606.8 897.9,606.8 899.0,606.6 900.0,606.8 901.0,606.9 902.0,606.7 903.0,606.8 904.0,606.6 905.0,606.6 906.0,606.7 907.1,606.8 908.1,606.7 909.1,606.6 910.1,607.0 911.1,606.8 912.1,606.6 913.1,606.5 914.1,606.9 915.2,607.0 916.2,606.9 917.2,606.8 918.2,607.0 919.2,606.8 920.2,606.6 921.2,606.7 922.2,606.7 923.2,606.8 924.2,606.6 925.2,606.8 926.2,606.8 927.2,606.6 928.2,606.8 929.2,606.7 930.2,606.8 931.2,606.7 932.2,607.0 933.3,606.7 934.3,606.5 935.3,606.5 936.3,606.8 937.3,606.5 938.3,606.9 939.3,606.7 940.3,606.7 941.3,606.7 942.3,606.9 943.3,606.8 944.3,606.7 945.3,606.7 946.3,606.8 947.3,606.7 948.3,606.8 949.3,606.7 950.3,606.6 951.3,606.5 952.3,606.7 953.3,606.6 954.3,606.6 955.4,606.6 956.4,606.7 957.4,606.9 958.4,606.7 959.4,606.6 960.4,606.7 961.4,606.7 962.4,606.5 963.4,606.9 964.5,606.7 965.5,607.0 966.5,606.8 967.5,606.6 968.5,607.0 969.5,606.5 970.5,606.6 971.5,606.5 972.5,606.6 973.6,606.5 974.6,606.9 975.6,606.5 976.6,606.7 977.6,606.5 978.6,606.6 979.6,606.5 980.6,606.7 981.7,606.6 982.7,606.8 983.7,607.0 984.7,606.6 985.7,606.7 986.7,606.8 987.7,607.0 988.7,606.5 989.7,606.8 990.7,606.7 991.7,606.7 992.7,606.8 993.7,606.8 994.7,606.7 995.7,606.9 996.7,606.8 997.7,606.6 998.7,606.6 999.7,606.6 1000.7,606.9 1001.7,606.9 1002.7,606.5 1003.7,606.8 1004.7,606.5 1005.7,606.5 1006.7,606.8 1007.7,606.7 1008.7,606.7 1009.7,606.7 1010.8,606.7 1011.8,606.6 1012.8,606.6 1013.8,606.9 1014.8,606.5 1015.8,606.8 1016.8,606.5 1017.8,606.6 1018.8,606.5 1019.8,606.5 1020.9,606.8 1021.9,606.5 1022.9,606.7 1023.9,606.8 1024.9,606.7 1025.9,606.5 1026.9,606.7 1027.9,606.6 1029.0,606.9 1030.0,606.9 1031.0,606.7 1032.0,606.8" fill="none" stroke="#FF7F0A" stroke-width="3.9" stroke-linejoin="round" stroke-linecap="butt"/>
<circle cx="750.4" cy="617.2" r="1.6" fill="#FF7F0A"/>
<circle cx="751.6" cy="614.2" r="1.6" fill="#FF7F0A"/>
<circle cx="756.3" cy="617.2" r="1.6" fill="#FF7F0A"/>
<circle cx="749.0" cy="672.0" r="1.6" fill="#FF7F0A"/>
<circle cx="749.2" cy="688.2" r="1.4" fill="#B57BE0"/>
<polyline points="749.6,704.3 749.7,704.7 749.9,704.1 750.1,703.9 750.4,702.8 750.6,702.9 750.9,702.5 751.2,702.1 751.5,701.9 751.8,700.8 752.2,700.1 752.5,699.9 752.9,699.0 753.3,699.2 753.6,698.7 753.9,698.1 754.2,698.5 754.4,698.8 754.6,699.9 754.7,700.6 754.8,701.5 755.0,703.5 755.1,703.8 755.2,704.4 755.4,705.5 755.6,705.3 755.8,705.2 756.1,704.0 756.3,703.9 756.6,703.0 756.8,702.1 757.1,700.7 757.4,700.9 757.7,700.0 758.0,699.4 758.3,699.2 758.6,699.5 758.9,698.5 759.2,698.3 759.6,698.4 760.0,697.8 760.4,697.1 760.9,696.6 761.4,696.4 761.9,696.0 762.4,695.8 762.9,695.3 763.4,694.5 764.0,694.8 764.6,694.3 765.1,693.7 765.7,693.0 766.3,693.0 766.9,693.1 767.6,692.2 768.3,691.9 769.0,692.0 769.8,691.7 770.6,691.5 771.5,690.8 772.4,690.8 773.3,690.1 774.2,689.6 775.1,690.0 776.0,689.3 776.8,689.8 777.6,689.0 778.4,688.9 779.2,689.3 780.0,688.3 780.9,689.1 781.9,688.4 783.0,687.9 784.1,688.1 785.1,687.8 786.1,687.8 787.2,687.9 788.6,687.9 790.3,687.4 791.3,688.2 792.4,687.3 793.7,687.2 795.0,687.4 796.1,687.1 797.1,687.9 798.2,687.2 799.4,687.0 800.6,687.6 801.8,687.3 802.8,687.1 803.8,687.4 804.8,687.1 805.8,687.0 806.9,687.4 808.0,687.2 809.0,687.3 810.1,687.4 811.3,687.9 812.4,687.5 813.6,687.5 814.8,687.2 816.0,687.3 817.2,687.2 818.4,687.7 819.7,687.8 820.7,687.7 821.7,687.3 822.7,687.6 823.7,687.2 824.8,687.7 825.8,687.8 826.9,687.1 827.9,687.0 829.0,687.9 830.0,687.5 831.1,687.7 832.2,687.8 833.3,687.7 834.4,687.0 835.5,687.2 836.7,687.3 837.9,687.8 839.1,687.7 840.3,687.2 841.4,687.1 842.5,687.8 843.5,687.9 844.5,687.0 845.6,687.3 846.6,687.1 847.7,687.5 848.7,687.1 849.8,687.4 850.9,687.2 851.9,687.1 853.0,688.0 854.1,687.2 855.2,688.0 856.2,687.8 857.3,687.5 858.4,687.5 859.5,687.5 860.6,687.4 861.7,687.8 862.8,687.3 863.9,687.8 865.0,687.7 866.1,687.4 867.1,688.2 868.2,687.6 869.3,687.9 870.4,688.0 871.5,688.1 872.6,687.9 873.6,687.8 874.7,687.8 875.8,688.2 876.8,687.5 877.9,688.0 878.9,688.3 880.0,688.0 881.0,688.0 882.1,688.2 883.1,688.4 884.2,687.9 885.2,688.2 886.2,688.5 887.3,688.3 888.3,687.9 889.4,688.7 890.4,688.1 891.5,688.4 892.5,687.9 893.5,688.5 894.6,688.4 895.6,688.8 896.7,688.2 897.7,688.0 898.8,688.3 899.8,688.5 900.8,688.8 901.9,688.4 902.9,688.9 904.0,689.0 905.0,688.2 906.0,689.2 907.1,688.3 908.1,688.6 909.2,688.4 910.2,689.2 911.2,689.4 912.3,688.7 913.3,689.1 914.4,689.5 915.4,689.3 916.5,688.9 917.5,689.1 918.5,689.6 919.6,689.6 920.6,689.2 921.7,689.4 922.7,688.9 923.8,689.3 924.8,689.7 925.8,689.0 926.9,689.2 927.9,689.6 929.0,689.1 930.0,689.3 931.1,689.9 932.1,689.4 933.2,689.7 934.3,690.2 935.3,689.8 936.4,690.0 937.5,689.4 938.6,689.9 939.7,690.0 940.8,690.0 941.9,690.0 943.0,689.6 944.1,690.2 945.2,690.0 946.3,690.4 947.4,690.0 948.5,690.7 949.6,690.3 950.7,690.7 951.8,690.4 952.9,690.3 954.0,690.4 955.1,690.3 956.2,690.6 957.3,690.5 958.4,690.5 959.5,691.2 960.6,691.2 961.6,690.8 962.7,690.9 963.7,691.2 964.8,691.1 965.8,690.9 966.8,691.0 967.9,691.4 968.9,690.7 970.1,691.1 971.2,690.8 972.4,691.3 973.5,690.8 974.7,691.3 975.8,691.0 976.8,691.3 977.9,692.0 978.9,691.3 980.0,691.5 981.2,692.0 982.4,691.4 983.6,691.5 984.8,691.7 985.8,692.0 986.9,691.6 988.0,691.7 989.1,691.6 990.4,691.9 991.7,692.1 993.1,692.3 994.3,692.1 995.5,692.4 996.8,692.7 997.9,692.3 999.1,692.8 1000.2,692.9 1001.3,693.1 1002.4,693.0 1003.5,693.0 1004.6,693.0 1005.7,692.8 1006.8,693.4 1007.8,692.8 1008.9,693.0 1010.0,692.8 1011.1,693.3 1012.2,693.7 1013.3,693.5 1014.4,693.0 1015.5,693.9 1016.6,693.2 1017.7,693.4 1018.7,693.7 1019.8,693.3 1020.8,694.2 1021.9,694.1 1022.9,694.5 1024.3,694.2 1025.7,694.1 1027.0,694.0 1028.2,694.2 1029.3,694.6 1030.4,694.8 1032.0,694.3" fill="none" stroke="#FF7F0A" stroke-width="5.4" stroke-linejoin="round" stroke-linecap="butt"/>
<circle cx="750.4" cy="721.6" r="2.0" fill="#B57BE0"/>
<circle cx="751.0" cy="724.6" r="2.0" fill="#B57BE0"/>
<circle cx="751.8" cy="727.0" r="2.0" fill="#B57BE0"/>
<circle cx="750.0" cy="727.6" r="2.0" fill="#B57BE0"/>
<circle cx="753.6" cy="733.0" r="2.0" fill="#B57BE0"/>
<circle cx="754.8" cy="738.6" r="2.0" fill="#B57BE0"/>
<circle cx="753.8" cy="725.4" r="2.0" fill="#B57BE0"/>
<polyline points="755.6,775.6 755.8,775.5 756.0,774.8 756.3,775.0 756.6,774.1 756.9,773.8 757.2,773.3 757.6,773.7 758.0,772.5 758.4,772.6 758.9,772.7 759.4,772.4 759.9,772.0 760.4,772.2 760.9,772.1 761.5,772.0 762.0,771.8 762.5,771.5 763.1,771.9 763.6,771.5 764.2,771.9 764.7,771.4 765.3,772.0 765.9,771.3 766.5,771.7 767.1,772.1 767.7,771.5 768.4,772.0 769.0,771.8 769.7,771.4 770.4,772.0 771.2,771.9 772.0,771.8 772.9,772.7 773.8,772.7 774.7,773.1 775.7,772.5 776.7,773.0 777.8,773.4 778.9,773.4 780.0,773.4 781.1,773.9 782.2,774.2 783.4,774.5 784.6,774.7 785.8,775.0 787.1,775.4 788.5,775.8 790.0,775.7 791.6,776.3 793.4,777.1 795.3,777.5 797.2,777.9 799.2,778.5 801.1,778.5 803.1,779.3 805.0,779.7 806.8,779.7 808.6,780.5 810.4,780.6 812.2,781.0 814.0,781.0 815.9,782.0 817.9,782.0 818.9,782.3 820.0,782.6 821.1,783.1 822.3,783.5 823.5,783.7 824.6,783.7 825.9,783.6 827.1,784.1 828.4,784.5 829.7,784.4 831.0,785.3 832.3,784.9 833.6,785.4 834.9,786.1 836.2,785.6 837.5,786.0 838.7,786.8 840.0,787.0 841.2,786.8 842.5,787.3 843.8,787.4 845.0,787.1 846.2,788.2 847.5,788.3 848.8,788.6 850.0,788.1 851.2,788.7 852.5,789.2 853.8,789.4 855.0,789.6 856.2,789.0 857.5,789.8 858.8,789.7 860.0,789.6 861.2,790.2 862.5,789.9 863.8,790.3 865.0,790.6 866.2,790.7 867.5,790.8 868.8,791.1 870.0,791.3 871.2,791.1 872.5,791.3 873.8,791.5 875.0,791.3 876.2,792.0 877.5,792.5 878.8,791.9 880.0,792.7 881.2,792.3 882.4,792.5 883.4,792.9 884.5,792.6 885.6,792.8 886.6,793.3 887.7,792.5 888.8,793.0 889.9,792.9 891.0,793.2 892.3,793.3 893.6,793.5 895.1,793.2 896.5,793.9 897.7,794.0 898.8,793.8 900.0,793.7 901.3,793.9 902.6,793.2 903.9,793.8 905.0,793.7 906.0,793.6 907.1,794.0 908.1,793.7 909.3,794.3 910.4,793.5 911.5,793.7 912.7,793.9 913.9,793.6 915.1,793.6 916.3,794.2 917.5,793.8 918.5,793.7 919.6,794.3 920.6,794.4 921.6,794.2 922.7,794.2 923.8,793.9 924.8,794.6 925.9,794.5 927.0,794.5 928.1,794.3 929.3,794.0 930.4,794.2 931.6,794.2 932.8,794.4 933.9,793.9 934.9,794.0 935.9,794.4 937.0,794.0 938.0,794.0 939.0,794.4 940.0,794.3 941.1,794.7 942.2,794.9 943.4,794.5 944.5,794.6 945.6,794.4 946.7,794.6 947.8,794.4 948.9,794.9 950.0,794.6 951.0,794.3 952.1,794.5 953.2,794.9 954.2,794.1 955.3,795.1 956.3,794.9 957.3,794.7 958.3,794.4 959.3,794.4 960.3,794.5 961.3,794.9 962.3,794.8 963.3,794.7 964.3,794.6 965.4,794.7 966.4,794.4 967.4,794.7 968.4,795.0 969.5,794.3 970.5,795.3 971.5,794.4 972.5,794.8 973.6,794.7 974.6,794.9 975.6,794.7 976.6,795.0 977.7,794.5 978.7,795.3 979.8,795.4 980.9,795.3 982.0,795.2 983.1,794.6 984.3,795.1 985.4,795.1 986.5,795.3 987.5,795.0 988.6,795.3 989.6,794.9 990.6,794.6 991.6,794.7 992.7,795.6 993.7,794.9 994.8,794.8 995.8,794.8 996.9,795.6 997.9,795.5 999.0,795.1 1000.0,794.8 1001.1,795.5 1002.2,794.7 1003.3,795.5 1004.4,795.2 1005.6,795.1 1006.6,794.8 1007.6,795.5 1008.7,795.7 1009.7,795.3 1010.7,795.7 1011.9,795.0 1013.1,795.2 1014.3,795.3 1015.5,795.1 1016.5,795.9 1017.6,795.4 1018.7,794.9 1019.8,795.6 1021.0,795.1 1022.3,795.3 1023.6,795.8 1024.7,795.3 1025.8,795.3 1026.9,795.9 1028.3,795.3 1029.7,796.0 1030.9,795.1 1032.0,795.2" fill="none" stroke="#B57BE0" stroke-width="5.6" stroke-linejoin="round" stroke-linecap="butt"/>
<line x1="747.70" y1="595.10" x2="1033.40" y2="595.10" stroke="#000" stroke-width="3.0" stroke-linecap="butt"/>
<line x1="747.70" y1="824.30" x2="1033.40" y2="824.30" stroke="#000" stroke-width="3.0" stroke-linecap="butt"/>
<line x1="747.70" y1="593.60" x2="747.70" y2="825.80" stroke="#000" stroke-width="3.4" stroke-linecap="butt"/>
<line x1="1033.40" y1="593.60" x2="1033.40" y2="825.80" stroke="#0000FF" stroke-width="3.6" stroke-linecap="butt"/>
<line x1="743.90" y1="824.30" x2="747.70" y2="824.30" stroke="#000" stroke-width="2.2" stroke-linecap="butt"/>
<text x="731.48" y="829.30" font-size="14.39" fill="#000" font-weight="normal" textLength="8.44" lengthAdjust="spacingAndGlyphs">0</text>
<line x1="744.70" y1="805.20" x2="747.70" y2="805.20" stroke="#000" stroke-width="2.0" stroke-linecap="butt"/>
<line x1="743.90" y1="786.12" x2="747.70" y2="786.12" stroke="#000" stroke-width="2.2" stroke-linecap="butt"/>
<text x="723.28" y="791.12" font-size="14.39" fill="#000" font-weight="normal" textLength="16.64" lengthAdjust="spacingAndGlyphs">50</text>
<line x1="744.70" y1="767.02" x2="747.70" y2="767.02" stroke="#000" stroke-width="2.0" stroke-linecap="butt"/>
<line x1="743.90" y1="747.93" x2="747.70" y2="747.93" stroke="#000" stroke-width="2.2" stroke-linecap="butt"/>
<text x="715.08" y="752.93" font-size="14.39" fill="#000" font-weight="normal" textLength="24.84" lengthAdjust="spacingAndGlyphs">100</text>
<line x1="744.70" y1="728.83" x2="747.70" y2="728.83" stroke="#000" stroke-width="2.0" stroke-linecap="butt"/>
<line x1="743.90" y1="709.75" x2="747.70" y2="709.75" stroke="#000" stroke-width="2.2" stroke-linecap="butt"/>
<text x="715.08" y="714.75" font-size="14.39" fill="#000" font-weight="normal" textLength="24.84" lengthAdjust="spacingAndGlyphs">150</text>
<line x1="744.70" y1="690.65" x2="747.70" y2="690.65" stroke="#000" stroke-width="2.0" stroke-linecap="butt"/>
<line x1="743.90" y1="671.57" x2="747.70" y2="671.57" stroke="#000" stroke-width="2.2" stroke-linecap="butt"/>
<text x="715.08" y="676.57" font-size="14.39" fill="#000" font-weight="normal" textLength="24.84" lengthAdjust="spacingAndGlyphs">200</text>
<line x1="744.70" y1="652.47" x2="747.70" y2="652.47" stroke="#000" stroke-width="2.0" stroke-linecap="butt"/>
<line x1="743.90" y1="633.38" x2="747.70" y2="633.38" stroke="#000" stroke-width="2.2" stroke-linecap="butt"/>
<text x="715.08" y="638.38" font-size="14.39" fill="#000" font-weight="normal" textLength="24.84" lengthAdjust="spacingAndGlyphs">250</text>
<line x1="744.70" y1="614.28" x2="747.70" y2="614.28" stroke="#000" stroke-width="2.0" stroke-linecap="butt"/>
<line x1="743.90" y1="595.20" x2="747.70" y2="595.20" stroke="#000" stroke-width="2.2" stroke-linecap="butt"/>
<text x="715.08" y="600.20" font-size="14.39" fill="#000" font-weight="normal" textLength="24.84" lengthAdjust="spacingAndGlyphs">300</text>
<line x1="749.00" y1="820.70" x2="749.00" y2="825.80" stroke="#000" stroke-width="2.0" stroke-linecap="butt"/>
<text x="744.69" y="844.40" font-size="14.25" fill="#000" font-weight="normal" textLength="8.63" lengthAdjust="spacingAndGlyphs">0</text>
<line x1="783.50" y1="821.50" x2="783.50" y2="825.80" stroke="#000" stroke-width="2.0" stroke-linecap="butt"/>
<line x1="818.10" y1="820.70" x2="818.10" y2="825.80" stroke="#000" stroke-width="2.0" stroke-linecap="butt"/>
<text x="809.79" y="844.40" font-size="14.25" fill="#000" font-weight="normal" textLength="16.63" lengthAdjust="spacingAndGlyphs">50</text>
<line x1="852.60" y1="821.50" x2="852.60" y2="825.80" stroke="#000" stroke-width="2.0" stroke-linecap="butt"/>
<line x1="887.20" y1="820.70" x2="887.20" y2="825.80" stroke="#000" stroke-width="2.0" stroke-linecap="butt"/>
<text x="875.09" y="844.40" font-size="14.25" fill="#000" font-weight="normal" textLength="24.23" lengthAdjust="spacingAndGlyphs">100</text>
<line x1="921.70" y1="821.50" x2="921.70" y2="825.80" stroke="#000" stroke-width="2.0" stroke-linecap="butt"/>
<line x1="956.30" y1="820.70" x2="956.30" y2="825.80" stroke="#000" stroke-width="2.0" stroke-linecap="butt"/>
<text x="944.19" y="844.40" font-size="14.25" fill="#000" font-weight="normal" textLength="24.23" lengthAdjust="spacingAndGlyphs">150</text>
<line x1="990.80" y1="821.50" x2="990.80" y2="825.80" stroke="#000" stroke-width="2.0" stroke-linecap="butt"/>
<line x1="1025.40" y1="820.70" x2="1025.40" y2="825.80" stroke="#000" stroke-width="2.0" stroke-linecap="butt"/>
<text x="1013.29" y="844.40" font-size="14.25" fill="#000" font-weight="normal" textLength="24.23" lengthAdjust="spacingAndGlyphs">200</text>
<line x1="1028.40" y1="824.30" x2="1033.40" y2="824.30" stroke="#0000FF" stroke-width="2.0" stroke-linecap="butt"/>
<text x="1038.50" y="828.30" font-size="13.97" fill="#0000FF" font-weight="normal" textLength="8.21" lengthAdjust="spacingAndGlyphs">0</text>
<line x1="1029.80" y1="802.50" x2="1033.40" y2="802.50" stroke="#0000FF" stroke-width="2.0" stroke-linecap="butt"/>
<line x1="1028.40" y1="780.66" x2="1033.40" y2="780.66" stroke="#0000FF" stroke-width="2.0" stroke-linecap="butt"/>
<text x="1038.50" y="784.66" font-size="13.97" fill="#0000FF" font-weight="normal" textLength="16.81" lengthAdjust="spacingAndGlyphs">20</text>
<line x1="1029.80" y1="758.86" x2="1033.40" y2="758.86" stroke="#0000FF" stroke-width="2.0" stroke-linecap="butt"/>
<line x1="1028.40" y1="737.02" x2="1033.40" y2="737.02" stroke="#0000FF" stroke-width="2.0" stroke-linecap="butt"/>
<text x="1038.50" y="741.02" font-size="13.97" fill="#0000FF" font-weight="normal" textLength="16.81" lengthAdjust="spacingAndGlyphs">40</text>
<line x1="1029.80" y1="715.22" x2="1033.40" y2="715.22" stroke="#0000FF" stroke-width="2.0" stroke-linecap="butt"/>
<line x1="1028.40" y1="693.38" x2="1033.40" y2="693.38" stroke="#0000FF" stroke-width="2.0" stroke-linecap="butt"/>
<text x="1038.50" y="697.38" font-size="13.97" fill="#0000FF" font-weight="normal" textLength="16.81" lengthAdjust="spacingAndGlyphs">60</text>
<line x1="1029.80" y1="671.58" x2="1033.40" y2="671.58" stroke="#0000FF" stroke-width="2.0" stroke-linecap="butt"/>
<line x1="1028.40" y1="649.74" x2="1033.40" y2="649.74" stroke="#0000FF" stroke-width="2.0" stroke-linecap="butt"/>
<text x="1038.50" y="653.74" font-size="13.97" fill="#0000FF" font-weight="normal" textLength="16.81" lengthAdjust="spacingAndGlyphs">80</text>
<line x1="1029.80" y1="627.94" x2="1033.40" y2="627.94" stroke="#0000FF" stroke-width="2.0" stroke-linecap="butt"/>
<line x1="1028.40" y1="606.10" x2="1033.40" y2="606.10" stroke="#0000FF" stroke-width="2.0" stroke-linecap="butt"/>
<text x="1038.50" y="610.10" font-size="13.97" fill="#0000FF" font-weight="normal" textLength="24.21" lengthAdjust="spacingAndGlyphs">100</text>
<text x="832.55" y="861.80" font-size="18.16" fill="#000" font-weight="normal" textLength="115.11" lengthAdjust="spacingAndGlyphs">Cycle number</text>
<text transform="translate(709.40,814.44) rotate(-90)" font-size="18.16" fill="#000" textLength="215.07" lengthAdjust="spacingAndGlyphs">Specific capacity (mA h g<tspan dy="-6.6" font-size="15.6">-1</tspan><tspan dy="6.6">)</tspan></text>
<text transform="translate(1064.90,618.32) rotate(90)" font-size="19.55" fill="#0000FF" textLength="189.17" lengthAdjust="spacingAndGlyphs">Coulombic efficiency (%)</text>
<text x="798.09" y="642.70" font-size="14.25" fill="#FF7F0A" font-weight="normal" textLength="104.83" lengthAdjust="spacingAndGlyphs">LiFSI-TEOSCN</text>
<text x="915.64" y="666.40" font-size="15.64" fill="#FF7F0A" font-weight="normal" textLength="101.53" lengthAdjust="spacingAndGlyphs">168.3 mA h g</text>
<text x="1017.78" y="660.30" font-size="11.73" fill="#FF7F0A" font-weight="normal" textLength="8.94" lengthAdjust="spacingAndGlyphs">-1</text>
<text x="817.09" y="752.80" font-size="14.25" fill="#B57BE0" font-weight="normal" textLength="85.03" lengthAdjust="spacingAndGlyphs">BE + 2% VC</text>
<text x="917.64" y="771.60" font-size="15.64" fill="#B57BE0" font-weight="normal" textLength="94.73" lengthAdjust="spacingAndGlyphs">37.7 mA h g</text>
<text x="1012.58" y="765.50" font-size="11.73" fill="#B57BE0" font-weight="normal" textLength="8.94" lengthAdjust="spacingAndGlyphs">-1</text>
<line x1="1007.90" y1="675.20" x2="1027.00" y2="688.00" stroke="#FF7F0A" stroke-width="1.2" stroke-linecap="butt"/>
<polygon points="1029.6,689.8 1023.4,688.4 1026.0,684.6" fill="#FF7F0A"/>
<line x1="1009.60" y1="777.70" x2="1028.40" y2="790.40" stroke="#B57BE0" stroke-width="1.2" stroke-linecap="butt"/>
<polygon points="1031,792.2 1024.8,790.8 1027.4,787.0" fill="#B57BE0"/>
<polyline points="790,784.8 790,802.9 762,802.9" fill="none" stroke="#000" stroke-width="1.5"/>
<polygon points="754.2,802.9 763.4,800.3 763.4,805.5" fill="#000"/>
<polyline points="995,616 995,633 1020,633" fill="none" stroke="#0000FF" stroke-width="1.5"/>
<polygon points="1029.4,633 1019.4,630.2 1019.4,635.8" fill="#0000FF"/>
<text x="25.0" y="318.2" font-size="41">e</text>
<text x="358.0" y="318.2" font-size="41">f</text>
<text x="701.6" y="318.6" font-size="41">g</text>
<text x="694.2" y="585.8" font-size="41">h</text>
</svg>
</body></html>
